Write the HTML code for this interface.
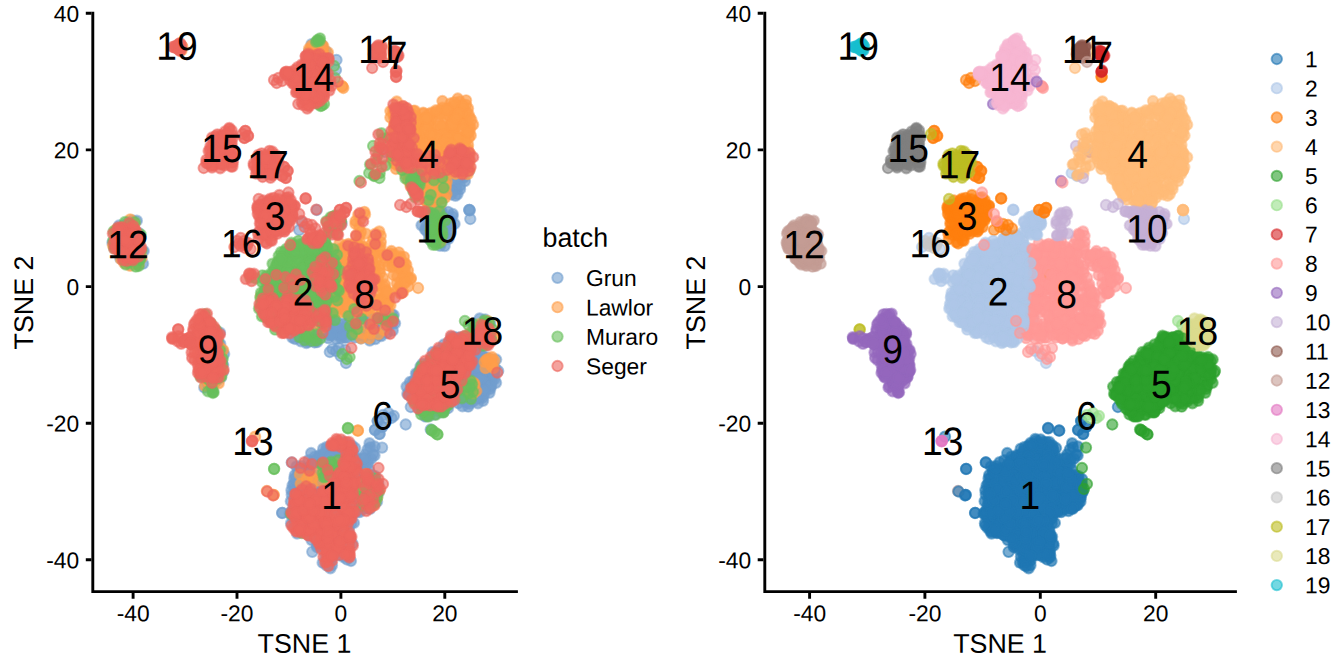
<!DOCTYPE html><html><head><meta charset="utf-8"><title>TSNE</title><style>
html,body{margin:0;padding:0;background:#fff}svg{display:block;font-family:"Liberation Sans",sans-serif}.t{font-size:22.8px}.a{font-size:26.8px}.g{font-size:22.8px}.n{font-size:39.6px;font-kerning:none}circle{fill-opacity:.6;stroke-opacity:.6;stroke-width:1.9}.f circle{fill-opacity:.74;stroke-opacity:.5}
</style></head><body>
<svg width="1344" height="672" viewBox="0 0 1344 672">
<rect width="1344" height="672" fill="#fff"/>
<g fill="#ED665D" stroke="#ED665D"><circle r="5.2" cx="178.1" cy="329.5"/><circle r="5.2" cx="178.3" cy="329.3"/></g><g fill="#729ECE" stroke="#729ECE" class="f"><circle r="5.2" cx="315.2" cy="46.5"/><circle r="5.2" cx="322.7" cy="50.5"/><circle r="5.2" cx="319.2" cy="42"/><circle r="5.2" cx="308.9" cy="51.3"/><circle r="5.2" cx="322" cy="44.8"/><circle r="5.2" cx="316.8" cy="51.1"/><circle r="5.2" cx="316.1" cy="45.1"/><circle r="5.2" cx="311.3" cy="50"/><circle r="5.2" cx="326.1" cy="51.3"/><circle r="5.2" cx="323.8" cy="52.3"/><circle r="5.2" cx="316.5" cy="50.2"/><circle r="5.2" cx="311.5" cy="44.2"/></g><g fill="#729ECE" stroke="#729ECE"><circle r="5.2" cx="336.5" cy="60"/><circle r="5.2" cx="336" cy="70"/></g><g fill="#729ECE" stroke="#729ECE" class="f"><circle r="5.2" cx="455.8" cy="186.5"/><circle r="5.2" cx="458.8" cy="170.6"/><circle r="5.2" cx="451.6" cy="194.5"/><circle r="5.2" cx="445.8" cy="182.1"/><circle r="5.2" cx="465" cy="181.1"/><circle r="5.2" cx="450.1" cy="176"/><circle r="5.2" cx="457.6" cy="194.1"/><circle r="5.2" cx="464" cy="177.5"/><circle r="5.2" cx="453.9" cy="184.5"/><circle r="5.2" cx="460.5" cy="178.5"/><circle r="5.2" cx="452.3" cy="190"/><circle r="5.2" cx="451.6" cy="191.6"/><circle r="5.2" cx="456.6" cy="189.2"/><circle r="5.2" cx="458.7" cy="174.4"/><circle r="5.2" cx="460.1" cy="189.2"/><circle r="5.2" cx="460.1" cy="185.6"/><circle r="5.2" cx="451.5" cy="191.5"/><circle r="5.2" cx="455.5" cy="195.8"/><circle r="5.2" cx="469.1" cy="170.9"/><circle r="5.2" cx="453.6" cy="173.7"/><circle r="5.2" cx="456.4" cy="178.9"/><circle r="5.2" cx="458.8" cy="173.1"/></g><g fill="#729ECE" stroke="#729ECE"><circle r="5.2" cx="385.2" cy="152"/><circle r="5.2" cx="469.4" cy="210"/><circle r="5.2" cx="469.7" cy="210.3"/><circle r="5.2" cx="469.2" cy="209.8"/><circle r="5.2" cx="470.3" cy="219"/></g><g fill="#729ECE" stroke="#729ECE" class="f"><circle r="5.2" cx="438.3" cy="237.7"/><circle r="5.2" cx="439.6" cy="214.8"/><circle r="5.2" cx="438.2" cy="229"/><circle r="5.2" cx="448.6" cy="230.1"/><circle r="5.2" cx="431.8" cy="233.5"/><circle r="5.2" cx="452.6" cy="216.6"/><circle r="5.2" cx="429" cy="238.6"/><circle r="5.2" cx="426.3" cy="225.9"/><circle r="5.2" cx="424.1" cy="215"/><circle r="5.2" cx="444.7" cy="246.1"/><circle r="5.2" cx="435.1" cy="234.4"/><circle r="5.2" cx="445.6" cy="219.6"/><circle r="5.2" cx="428.9" cy="227.3"/><circle r="5.2" cx="441.5" cy="237"/><circle r="5.2" cx="425.6" cy="211.2"/><circle r="5.2" cx="435.2" cy="230.2"/><circle r="5.2" cx="446.3" cy="237.3"/><circle r="5.2" cx="425" cy="229.5"/><circle r="5.2" cx="434.8" cy="217.3"/><circle r="5.2" cx="428.2" cy="213.7"/><circle r="5.2" cx="440.1" cy="245.9"/><circle r="5.2" cx="441.1" cy="215.4"/><circle r="5.2" cx="431.9" cy="241.3"/><circle r="5.2" cx="450.5" cy="220.5"/><circle r="5.2" cx="450.6" cy="233"/><circle r="5.2" cx="447.1" cy="226.6"/><circle r="5.2" cx="442" cy="211.6"/><circle r="5.2" cx="448.1" cy="211.8"/><circle r="5.2" cx="434.9" cy="209.9"/><circle r="5.2" cx="428.9" cy="234.1"/><circle r="5.2" cx="432.9" cy="221.3"/><circle r="5.2" cx="441" cy="229.6"/><circle r="5.2" cx="441.2" cy="225.9"/><circle r="5.2" cx="450.3" cy="222.3"/><circle r="5.2" cx="442.9" cy="235.2"/><circle r="5.2" cx="433.4" cy="235.2"/><circle r="5.2" cx="454.6" cy="223.9"/><circle r="5.2" cx="441.3" cy="242.7"/><circle r="5.2" cx="421.5" cy="225.3"/><circle r="5.2" cx="437.3" cy="219.4"/><circle r="5.2" cx="432.8" cy="215.1"/><circle r="5.2" cx="440.9" cy="211.5"/><circle r="5.2" cx="433.3" cy="241.3"/><circle r="5.2" cx="444.7" cy="231.7"/><circle r="5.2" cx="442.4" cy="218.1"/><circle r="5.2" cx="452.8" cy="214"/><circle r="5.2" cx="448.5" cy="239"/><circle r="5.2" cx="427.8" cy="218.1"/><circle r="5.2" cx="429.9" cy="226.1"/><circle r="5.2" cx="426.6" cy="231.1"/><circle r="5.2" cx="445.8" cy="220"/><circle r="5.2" cx="438.4" cy="241.1"/></g><g fill="#729ECE" stroke="#729ECE"><circle r="5.2" cx="301.9" cy="222"/><circle r="5.2" cx="299.2" cy="230"/></g><g fill="#729ECE" stroke="#729ECE" class="f"><circle r="5.2" cx="126.1" cy="258"/><circle r="5.2" cx="124.8" cy="230.8"/><circle r="5.2" cx="125.8" cy="247.2"/><circle r="5.2" cx="139.2" cy="249.3"/><circle r="5.2" cx="135.5" cy="259.1"/><circle r="5.2" cx="138.7" cy="233"/><circle r="5.2" cx="138.9" cy="257.5"/><circle r="5.2" cx="132.5" cy="220.5"/><circle r="5.2" cx="135.4" cy="248.1"/><circle r="5.2" cx="132.7" cy="237.3"/><circle r="5.2" cx="118" cy="236.3"/><circle r="5.2" cx="116.4" cy="242.5"/><circle r="5.2" cx="131.2" cy="229.6"/><circle r="5.2" cx="119.5" cy="252.1"/><circle r="5.2" cx="119" cy="225.5"/><circle r="5.2" cx="139.1" cy="244"/><circle r="5.2" cx="134.3" cy="253.2"/><circle r="5.2" cx="120.3" cy="258.3"/><circle r="5.2" cx="127.3" cy="251.1"/><circle r="5.2" cx="132" cy="251.9"/><circle r="5.2" cx="136.9" cy="220.7"/><circle r="5.2" cx="120.9" cy="243.2"/><circle r="5.2" cx="125.8" cy="224"/><circle r="5.2" cx="129.5" cy="264.4"/><circle r="5.2" cx="120.7" cy="231.5"/><circle r="5.2" cx="143.8" cy="251"/><circle r="5.2" cx="129.6" cy="234.9"/><circle r="5.2" cx="135.6" cy="262.7"/><circle r="5.2" cx="118.7" cy="248"/><circle r="5.2" cx="129.4" cy="235.7"/><circle r="5.2" cx="115.3" cy="246.6"/><circle r="5.2" cx="112.4" cy="242.7"/><circle r="5.2" cx="129.7" cy="221.6"/><circle r="5.2" cx="133.7" cy="248.1"/><circle r="5.2" cx="143.1" cy="263.7"/><circle r="5.2" cx="134.6" cy="261.9"/><circle r="5.2" cx="123.4" cy="255.1"/><circle r="5.2" cx="125.1" cy="239.8"/><circle r="5.2" cx="128.1" cy="234.4"/><circle r="5.2" cx="123.9" cy="250.6"/><circle r="5.2" cx="122.9" cy="237.7"/><circle r="5.2" cx="127.3" cy="243.6"/><circle r="5.2" cx="314.6" cy="342.5"/><circle r="5.2" cx="299.7" cy="322.1"/><circle r="5.2" cx="316.8" cy="315.2"/><circle r="5.2" cx="292.3" cy="337.6"/><circle r="5.2" cx="319.3" cy="327.3"/><circle r="5.2" cx="303.6" cy="337.5"/><circle r="5.2" cx="325" cy="313.1"/><circle r="5.2" cx="307.8" cy="330.2"/><circle r="5.2" cx="314.4" cy="334.6"/><circle r="5.2" cx="308.5" cy="323.7"/><circle r="5.2" cx="301.3" cy="320.7"/><circle r="5.2" cx="292.5" cy="319.9"/><circle r="5.2" cx="305.4" cy="335.5"/><circle r="5.2" cx="295.9" cy="317.2"/><circle r="5.2" cx="320.1" cy="320.4"/><circle r="5.2" cx="295.7" cy="330.6"/><circle r="5.2" cx="316.9" cy="340.3"/><circle r="5.2" cx="300.9" cy="341.4"/><circle r="5.2" cx="313.3" cy="325.3"/><circle r="5.2" cx="296.4" cy="323.4"/><circle r="5.2" cx="300.2" cy="326.7"/><circle r="5.2" cx="305.9" cy="324.6"/><circle r="5.2" cx="308.1" cy="341.9"/><circle r="5.2" cx="321.8" cy="311.8"/><circle r="5.2" cx="292.9" cy="329.6"/><circle r="5.2" cx="324" cy="333.1"/><circle r="5.2" cx="321.3" cy="322.3"/><circle r="5.2" cx="304.3" cy="317.8"/><circle r="5.2" cx="299.7" cy="336.9"/><circle r="5.2" cx="308.9" cy="318.4"/><circle r="5.2" cx="291.4" cy="328.6"/><circle r="5.2" cx="304.2" cy="322.7"/><circle r="5.2" cx="316.6" cy="319.7"/><circle r="5.2" cx="300.1" cy="318.6"/><circle r="5.2" cx="310.4" cy="315.2"/><circle r="5.2" cx="306.3" cy="343.1"/><circle r="5.2" cx="311.6" cy="321.1"/><circle r="5.2" cx="317" cy="331.1"/><circle r="5.2" cx="321.1" cy="318.2"/><circle r="5.2" cx="313.3" cy="333.3"/><circle r="5.2" cx="301.8" cy="331"/><circle r="5.2" cx="314.3" cy="337.7"/><circle r="5.2" cx="321.2" cy="328.3"/><circle r="5.2" cx="321.7" cy="329.7"/><circle r="5.2" cx="295" cy="339"/><circle r="5.2" cx="304.3" cy="339.3"/><circle r="5.2" cx="303.6" cy="323.6"/><circle r="5.2" cx="305.9" cy="332"/><circle r="5.2" cx="297.3" cy="328"/><circle r="5.2" cx="308.1" cy="340.7"/><circle r="5.2" cx="313.2" cy="317.9"/><circle r="5.2" cx="318.9" cy="326.8"/><circle r="5.2" cx="317.9" cy="322.5"/><circle r="5.2" cx="317.1" cy="342.2"/><circle r="5.2" cx="316" cy="329.6"/><circle r="5.2" cx="341.7" cy="223.3"/><circle r="5.2" cx="335" cy="228.3"/></g><g fill="#729ECE" stroke="#729ECE"><circle r="5.2" cx="316.8" cy="210"/></g><g fill="#729ECE" stroke="#729ECE" class="f"><circle r="5.2" cx="355.9" cy="334.8"/><circle r="5.2" cx="382.4" cy="314"/><circle r="5.2" cx="373.8" cy="331"/><circle r="5.2" cx="329.2" cy="335.2"/><circle r="5.2" cx="331.1" cy="324.1"/><circle r="5.2" cx="348.5" cy="322.6"/><circle r="5.2" cx="395.1" cy="323.3"/><circle r="5.2" cx="365.8" cy="328.2"/><circle r="5.2" cx="367.8" cy="323.6"/><circle r="5.2" cx="376.2" cy="318.7"/><circle r="5.2" cx="357.6" cy="318.9"/><circle r="5.2" cx="375.4" cy="339.1"/><circle r="5.2" cx="383.5" cy="323.7"/><circle r="5.2" cx="367.9" cy="315.1"/><circle r="5.2" cx="338.2" cy="322.7"/><circle r="5.2" cx="379.3" cy="320.7"/><circle r="5.2" cx="344.6" cy="337.6"/><circle r="5.2" cx="392" cy="314.4"/><circle r="5.2" cx="360.9" cy="319.1"/><circle r="5.2" cx="329.7" cy="328.1"/><circle r="5.2" cx="364" cy="336.6"/><circle r="5.2" cx="325.7" cy="323.1"/><circle r="5.2" cx="356" cy="327.1"/><circle r="5.2" cx="387.3" cy="326.1"/><circle r="5.2" cx="337.4" cy="335.1"/><circle r="5.2" cx="346.1" cy="331.9"/><circle r="5.2" cx="359.4" cy="325.1"/><circle r="5.2" cx="337.7" cy="331.3"/><circle r="5.2" cx="371.3" cy="328.6"/><circle r="5.2" cx="377.3" cy="326.8"/><circle r="5.2" cx="378.6" cy="334.7"/><circle r="5.2" cx="335.7" cy="328.5"/><circle r="5.2" cx="387.6" cy="315.3"/><circle r="5.2" cx="369.8" cy="340.6"/><circle r="5.2" cx="375.5" cy="325.4"/><circle r="5.2" cx="343.8" cy="323.8"/><circle r="5.2" cx="341.2" cy="338.2"/><circle r="5.2" cx="327.8" cy="333.1"/><circle r="5.2" cx="364.1" cy="333.2"/><circle r="5.2" cx="387.1" cy="333.1"/><circle r="5.2" cx="352.2" cy="317.6"/><circle r="5.2" cx="368.3" cy="318"/><circle r="5.2" cx="349.9" cy="327.1"/><circle r="5.2" cx="342.1" cy="330.7"/><circle r="5.2" cx="346.9" cy="337.7"/><circle r="5.2" cx="391.2" cy="319.8"/><circle r="5.2" cx="367" cy="333.5"/><circle r="5.2" cx="360.9" cy="338.5"/><circle r="5.2" cx="360" cy="328"/><circle r="5.2" cx="331.7" cy="333.8"/><circle r="5.2" cx="358.7" cy="325.6"/><circle r="5.2" cx="381.9" cy="329.1"/><circle r="5.2" cx="343.9" cy="330.5"/><circle r="5.2" cx="354.7" cy="337.5"/><circle r="5.2" cx="381.4" cy="336.1"/><circle r="5.2" cx="332.1" cy="317.5"/><circle r="5.2" cx="379.5" cy="334.9"/><circle r="5.2" cx="351" cy="328.7"/><circle r="5.2" cx="329.3" cy="327.5"/><circle r="5.2" cx="368.4" cy="334.4"/><circle r="5.2" cx="364.3" cy="319"/><circle r="5.2" cx="365.9" cy="326"/><circle r="5.2" cx="392.5" cy="321.9"/><circle r="5.2" cx="373.3" cy="320.9"/><circle r="5.2" cx="343.7" cy="327.4"/><circle r="5.2" cx="336.2" cy="338.9"/><circle r="5.2" cx="391.8" cy="323.9"/><circle r="5.2" cx="360.9" cy="334.8"/><circle r="5.2" cx="341.5" cy="335.1"/><circle r="5.2" cx="328.2" cy="338.2"/><circle r="5.2" cx="349.8" cy="319.1"/><circle r="5.2" cx="392.8" cy="330.6"/><circle r="5.2" cx="393.8" cy="315.1"/><circle r="5.2" cx="379.4" cy="320"/><circle r="5.2" cx="329.4" cy="319.5"/><circle r="5.2" cx="337" cy="327.9"/><circle r="5.2" cx="387.5" cy="325.8"/><circle r="5.2" cx="381.3" cy="327.3"/><circle r="5.2" cx="357.7" cy="334.7"/></g><g fill="#729ECE" stroke="#729ECE"><circle r="5.2" cx="329.8" cy="352"/><circle r="5.2" cx="345.1" cy="350"/><circle r="5.2" cx="338.8" cy="348"/><circle r="5.2" cx="340.6" cy="356"/><circle r="5.2" cx="346" cy="363"/><circle r="5.2" cx="336.1" cy="351"/><circle r="5.2" cx="331.6" cy="335"/><circle r="5.2" cx="334.3" cy="318"/><circle r="5.2" cx="332.5" cy="349"/></g><g fill="#729ECE" stroke="#729ECE" class="f"><circle r="5.2" cx="215.8" cy="377.6"/><circle r="5.2" cx="199.3" cy="340.5"/><circle r="5.2" cx="200.8" cy="360.3"/><circle r="5.2" cx="215.5" cy="345"/><circle r="5.2" cx="212.4" cy="389.8"/><circle r="5.2" cx="204.3" cy="325.1"/><circle r="5.2" cx="222.2" cy="364.3"/><circle r="5.2" cx="205.5" cy="376.2"/><circle r="5.2" cx="220" cy="332.7"/><circle r="5.2" cx="215.7" cy="356"/><circle r="5.2" cx="224.2" cy="354"/><circle r="5.2" cx="215" cy="367.5"/><circle r="5.2" cx="210.2" cy="361.5"/><circle r="5.2" cx="211.8" cy="327.7"/><circle r="5.2" cx="210.2" cy="372.8"/><circle r="5.2" cx="222.3" cy="372.2"/><circle r="5.2" cx="203.5" cy="335.9"/><circle r="5.2" cx="218.4" cy="341.9"/><circle r="5.2" cx="200.8" cy="349.9"/><circle r="5.2" cx="204.2" cy="387.5"/><circle r="5.2" cx="221" cy="377.6"/><circle r="5.2" cx="220.3" cy="343.9"/><circle r="5.2" cx="205.1" cy="352.6"/><circle r="5.2" cx="208.6" cy="333.5"/><circle r="5.2" cx="216.5" cy="348.2"/><circle r="5.2" cx="208.3" cy="375.7"/><circle r="5.2" cx="210.2" cy="379.2"/><circle r="5.2" cx="206.8" cy="361.3"/><circle r="5.2" cx="214.5" cy="358.2"/><circle r="5.2" cx="213.7" cy="384.2"/><circle r="5.2" cx="201" cy="363.5"/><circle r="5.2" cx="207.7" cy="350"/><circle r="5.2" cx="214.7" cy="338.5"/><circle r="5.2" cx="208.3" cy="325.4"/><circle r="5.2" cx="223.1" cy="371.3"/><circle r="5.2" cx="202.1" cy="369.5"/><circle r="5.2" cx="201.6" cy="337.9"/><circle r="5.2" cx="207.9" cy="364.3"/><circle r="5.2" cx="206.4" cy="341.3"/><circle r="5.2" cx="204" cy="334.9"/><circle r="5.2" cx="215.6" cy="345.2"/><circle r="5.2" cx="201.1" cy="375.6"/><circle r="5.2" cx="207.5" cy="383.9"/><circle r="5.2" cx="212.3" cy="385.7"/><circle r="5.2" cx="210.6" cy="333.8"/><circle r="5.2" cx="206.4" cy="337.5"/><circle r="5.2" cx="220.3" cy="374.1"/><circle r="5.2" cx="219.2" cy="347.3"/><circle r="5.2" cx="223.2" cy="365"/><circle r="5.2" cx="211.9" cy="350.1"/><circle r="5.2" cx="222.4" cy="350.5"/><circle r="5.2" cx="215.1" cy="332.4"/><circle r="5.2" cx="210.6" cy="340.1"/><circle r="5.2" cx="217.2" cy="380.7"/><circle r="5.2" cx="221.9" cy="361.1"/><circle r="5.2" cx="203" cy="344.7"/><circle r="5.2" cx="217.1" cy="363"/><circle r="5.2" cx="210.3" cy="371"/><circle r="5.2" cx="440.5" cy="412.3"/><circle r="5.2" cx="469.3" cy="342.8"/><circle r="5.2" cx="420.6" cy="369.4"/><circle r="5.2" cx="454.2" cy="389.6"/><circle r="5.2" cx="425.8" cy="389.8"/><circle r="5.2" cx="453.1" cy="360.3"/><circle r="5.2" cx="485.4" cy="387.8"/><circle r="5.2" cx="477.9" cy="403.4"/><circle r="5.2" cx="409.2" cy="395.2"/><circle r="5.2" cx="481.3" cy="364.1"/><circle r="5.2" cx="414.1" cy="380.5"/><circle r="5.2" cx="454.3" cy="378.4"/><circle r="5.2" cx="458.3" cy="403.2"/><circle r="5.2" cx="454.3" cy="336.9"/><circle r="5.2" cx="440.7" cy="383.1"/><circle r="5.2" cx="460.7" cy="388.5"/><circle r="5.2" cx="435.3" cy="397.2"/><circle r="5.2" cx="426.1" cy="411.5"/><circle r="5.2" cx="428.7" cy="405.9"/><circle r="5.2" cx="469.6" cy="403.9"/><circle r="5.2" cx="462.3" cy="363"/><circle r="5.2" cx="472.8" cy="392.3"/><circle r="5.2" cx="439.4" cy="358.7"/><circle r="5.2" cx="456.8" cy="351.5"/><circle r="5.2" cx="443.2" cy="351.6"/><circle r="5.2" cx="452.2" cy="372"/><circle r="5.2" cx="478.1" cy="351.8"/><circle r="5.2" cx="490.8" cy="359.4"/><circle r="5.2" cx="473.5" cy="359.1"/><circle r="5.2" cx="473.5" cy="384.1"/><circle r="5.2" cx="494.4" cy="372.4"/><circle r="5.2" cx="459.9" cy="371.8"/><circle r="5.2" cx="452.2" cy="342.7"/><circle r="5.2" cx="418.2" cy="374.7"/><circle r="5.2" cx="420.9" cy="376.3"/><circle r="5.2" cx="478.3" cy="378.5"/><circle r="5.2" cx="419.3" cy="405.4"/><circle r="5.2" cx="448.3" cy="374.2"/><circle r="5.2" cx="446.4" cy="389.1"/><circle r="5.2" cx="489" cy="376.4"/><circle r="5.2" cx="438.1" cy="371.7"/><circle r="5.2" cx="460.8" cy="337.3"/><circle r="5.2" cx="429.3" cy="361.3"/><circle r="5.2" cx="448.1" cy="408.2"/><circle r="5.2" cx="433.9" cy="383.9"/><circle r="5.2" cx="467.2" cy="373.3"/><circle r="5.2" cx="426.3" cy="396.1"/><circle r="5.2" cx="437.6" cy="388.9"/><circle r="5.2" cx="418.8" cy="398.7"/><circle r="5.2" cx="462" cy="375.6"/><circle r="5.2" cx="424.6" cy="376.4"/><circle r="5.2" cx="434.5" cy="394.8"/><circle r="5.2" cx="429.8" cy="371.4"/><circle r="5.2" cx="490.1" cy="365.9"/><circle r="5.2" cx="470.9" cy="363.5"/><circle r="5.2" cx="467.5" cy="379.8"/><circle r="5.2" cx="465.6" cy="354.6"/><circle r="5.2" cx="447.7" cy="355.9"/><circle r="5.2" cx="484.4" cy="361.2"/><circle r="5.2" cx="484.9" cy="372.9"/><circle r="5.2" cx="481.9" cy="391.9"/><circle r="5.2" cx="450.7" cy="354.3"/><circle r="5.2" cx="447" cy="385"/><circle r="5.2" cx="489.5" cy="392.8"/><circle r="5.2" cx="483.1" cy="400.8"/><circle r="5.2" cx="436.2" cy="378.1"/><circle r="5.2" cx="437.6" cy="408.1"/><circle r="5.2" cx="413.3" cy="397.1"/><circle r="5.2" cx="457.7" cy="363.5"/><circle r="5.2" cx="431.4" cy="358.2"/><circle r="5.2" cx="432.9" cy="351.9"/><circle r="5.2" cx="432.4" cy="410.1"/><circle r="5.2" cx="464.7" cy="395.6"/><circle r="5.2" cx="441.6" cy="397.7"/><circle r="5.2" cx="455" cy="348.3"/><circle r="5.2" cx="464.3" cy="349.3"/><circle r="5.2" cx="426" cy="384.2"/><circle r="5.2" cx="431.7" cy="401.1"/><circle r="5.2" cx="464.2" cy="367.8"/><circle r="5.2" cx="492" cy="380.8"/><circle r="5.2" cx="483.7" cy="380.5"/><circle r="5.2" cx="411.6" cy="386.9"/><circle r="5.2" cx="421.6" cy="395"/><circle r="5.2" cx="435.8" cy="385.5"/><circle r="5.2" cx="446.4" cy="393.8"/><circle r="5.2" cx="460.7" cy="391.9"/><circle r="5.2" cx="425.4" cy="400.5"/><circle r="5.2" cx="458.7" cy="387.7"/><circle r="5.2" cx="477.2" cy="371.1"/><circle r="5.2" cx="446.4" cy="370.9"/><circle r="5.2" cx="450.2" cy="349.5"/><circle r="5.2" cx="472.5" cy="373.7"/><circle r="5.2" cx="418.3" cy="392.3"/><circle r="5.2" cx="494.5" cy="379.2"/><circle r="5.2" cx="487.3" cy="366.1"/><circle r="5.2" cx="466.5" cy="363.5"/><circle r="5.2" cx="470.1" cy="342"/><circle r="5.2" cx="452.4" cy="399.7"/><circle r="5.2" cx="419.8" cy="410.1"/><circle r="5.2" cx="452.3" cy="356.3"/><circle r="5.2" cx="445" cy="363.7"/><circle r="5.2" cx="469.8" cy="387.4"/><circle r="5.2" cx="451" cy="381.7"/><circle r="5.2" cx="451" cy="377"/><circle r="5.2" cx="488.4" cy="380.4"/><circle r="5.2" cx="428.9" cy="409.2"/><circle r="5.2" cx="443.8" cy="344.5"/><circle r="5.2" cx="471" cy="379.7"/><circle r="5.2" cx="479.1" cy="397.6"/><circle r="5.2" cx="439.2" cy="397.3"/><circle r="5.2" cx="465.2" cy="401.9"/><circle r="5.2" cx="438.9" cy="349.9"/><circle r="5.2" cx="425.4" cy="416.7"/><circle r="5.2" cx="441.1" cy="375.6"/><circle r="5.2" cx="462.3" cy="365.2"/><circle r="5.2" cx="445" cy="366.5"/><circle r="5.2" cx="467.2" cy="400.7"/><circle r="5.2" cx="437.2" cy="355.8"/><circle r="5.2" cx="459.7" cy="380.9"/><circle r="5.2" cx="477.8" cy="374.6"/><circle r="5.2" cx="489.2" cy="372.2"/><circle r="5.2" cx="490.4" cy="388.8"/><circle r="5.2" cx="443.7" cy="411.6"/><circle r="5.2" cx="478.3" cy="376.7"/><circle r="5.2" cx="443.9" cy="402.5"/><circle r="5.2" cx="434.3" cy="368.3"/><circle r="5.2" cx="451.5" cy="336.8"/><circle r="5.2" cx="406.5" cy="386.6"/><circle r="5.2" cx="456" cy="393.9"/><circle r="5.2" cx="455" cy="363.9"/><circle r="5.2" cx="419.4" cy="371.6"/><circle r="5.2" cx="429" cy="385.5"/><circle r="5.2" cx="457.4" cy="340.9"/><circle r="5.2" cx="432.9" cy="374.3"/><circle r="5.2" cx="476.9" cy="390"/><circle r="5.2" cx="473.8" cy="366.4"/><circle r="5.2" cx="460.6" cy="344"/><circle r="5.2" cx="423.5" cy="405.6"/><circle r="5.2" cx="468.4" cy="366.7"/><circle r="5.2" cx="451.1" cy="401.3"/><circle r="5.2" cx="495.2" cy="368.1"/><circle r="5.2" cx="425.7" cy="366.4"/><circle r="5.2" cx="473.2" cy="369.7"/><circle r="5.2" cx="438.7" cy="364.6"/><circle r="5.2" cx="481.9" cy="363.3"/><circle r="5.2" cx="424.2" cy="404.6"/><circle r="5.2" cx="445.3" cy="358.5"/><circle r="5.2" cx="472.7" cy="347.9"/><circle r="5.2" cx="484" cy="384.9"/><circle r="5.2" cx="447.3" cy="400.1"/><circle r="5.2" cx="431.2" cy="378.8"/><circle r="5.2" cx="462.5" cy="406.4"/><circle r="5.2" cx="430.8" cy="390.8"/><circle r="5.2" cx="479.3" cy="387.1"/><circle r="5.2" cx="459" cy="356.6"/><circle r="5.2" cx="427.4" cy="406.3"/><circle r="5.2" cx="464.7" cy="358"/><circle r="5.2" cx="449.6" cy="364.7"/><circle r="5.2" cx="461.7" cy="397.6"/><circle r="5.2" cx="409.4" cy="391.9"/><circle r="5.2" cx="482.7" cy="397.8"/><circle r="5.2" cx="473.5" cy="401.2"/><circle r="5.2" cx="426" cy="368.4"/><circle r="5.2" cx="459.6" cy="398"/><circle r="5.2" cx="474.9" cy="398.7"/><circle r="5.2" cx="468.2" cy="406.7"/><circle r="5.2" cx="490.6" cy="386.4"/><circle r="5.2" cx="426.9" cy="396.6"/><circle r="5.2" cx="491.2" cy="385.4"/><circle r="5.2" cx="440.5" cy="358"/><circle r="5.2" cx="468.4" cy="394.4"/><circle r="5.2" cx="464.5" cy="348.8"/><circle r="5.2" cx="482.2" cy="367.8"/><circle r="5.2" cx="439.9" cy="401.7"/><circle r="5.2" cx="467.7" cy="402.4"/><circle r="5.2" cx="434.8" cy="390.6"/><circle r="5.2" cx="454.7" cy="375.6"/><circle r="5.2" cx="456.1" cy="371.8"/><circle r="5.2" cx="422.4" cy="363.8"/><circle r="5.2" cx="455.8" cy="366.3"/><circle r="5.2" cx="464.4" cy="345.7"/><circle r="5.2" cx="475.8" cy="347.5"/><circle r="5.2" cx="451.6" cy="393.3"/><circle r="5.2" cx="489.9" cy="359.5"/><circle r="5.2" cx="477.5" cy="394.7"/><circle r="5.2" cx="461.2" cy="369.1"/><circle r="5.2" cx="477.7" cy="357.3"/><circle r="5.2" cx="493.9" cy="373"/><circle r="5.2" cx="433.3" cy="365.5"/><circle r="5.2" cx="458.7" cy="337.6"/><circle r="5.2" cx="459.7" cy="355.9"/><circle r="5.2" cx="461.6" cy="386"/><circle r="5.2" cx="456" cy="363.3"/><circle r="5.2" cx="476" cy="358.6"/><circle r="5.2" cx="435.1" cy="414.5"/><circle r="5.2" cx="474.2" cy="379.7"/><circle r="5.2" cx="467.3" cy="352.3"/><circle r="5.2" cx="472.3" cy="397.1"/><circle r="5.2" cx="453.8" cy="367.6"/><circle r="5.2" cx="446.5" cy="396.9"/><circle r="5.2" cx="469" cy="381.3"/><circle r="5.2" cx="417.2" cy="373.8"/><circle r="5.2" cx="479.7" cy="386.1"/><circle r="5.2" cx="437.1" cy="410.4"/><circle r="5.2" cx="453.4" cy="386.7"/><circle r="5.2" cx="479.8" cy="353.2"/><circle r="5.2" cx="409.9" cy="382"/><circle r="5.2" cx="471.5" cy="392.2"/><circle r="5.2" cx="441.3" cy="402.6"/><circle r="5.2" cx="423.6" cy="385.1"/><circle r="5.2" cx="462.3" cy="396.5"/><circle r="5.2" cx="456" cy="350.2"/><circle r="5.2" cx="440.1" cy="385.6"/><circle r="5.2" cx="421.9" cy="396.7"/><circle r="5.2" cx="455.4" cy="361.8"/><circle r="5.2" cx="427.1" cy="380.5"/><circle r="5.2" cx="432" cy="406.4"/><circle r="5.2" cx="486.5" cy="370.4"/><circle r="5.2" cx="486.3" cy="357.1"/><circle r="5.2" cx="451.3" cy="383.8"/><circle r="5.2" cx="407.3" cy="393.9"/><circle r="5.2" cx="453.2" cy="344.2"/><circle r="5.2" cx="445.6" cy="391.1"/><circle r="5.2" cx="422.3" cy="380"/><circle r="5.2" cx="442.2" cy="379.7"/><circle r="5.2" cx="438.2" cy="372.8"/><circle r="5.2" cx="452.4" cy="391.7"/><circle r="5.2" cx="419.7" cy="403.4"/><circle r="5.2" cx="412.6" cy="381.6"/><circle r="5.2" cx="420.4" cy="366.7"/><circle r="5.2" cx="465.7" cy="341.3"/><circle r="5.2" cx="478.7" cy="367.9"/><circle r="5.2" cx="444.9" cy="379.4"/><circle r="5.2" cx="489.6" cy="365.9"/><circle r="5.2" cx="493.6" cy="376"/><circle r="5.2" cx="434.5" cy="406.6"/><circle r="5.2" cx="496.2" cy="359.5"/><circle r="5.2" cx="478.8" cy="383.6"/><circle r="5.2" cx="480.3" cy="397"/><circle r="5.2" cx="426.9" cy="379.6"/><circle r="5.2" cx="445.6" cy="354.3"/><circle r="5.2" cx="484.3" cy="394"/><circle r="5.2" cx="448" cy="401.4"/><circle r="5.2" cx="446.2" cy="376.5"/><circle r="5.2" cx="422.5" cy="394.6"/><circle r="5.2" cx="466.1" cy="368.6"/><circle r="5.2" cx="429.7" cy="415.8"/><circle r="5.2" cx="466.7" cy="391.1"/><circle r="5.2" cx="415.9" cy="373.4"/><circle r="5.2" cx="431.7" cy="410.6"/><circle r="5.2" cx="448.6" cy="403.7"/><circle r="5.2" cx="496.1" cy="382.8"/><circle r="5.2" cx="439.5" cy="373.5"/><circle r="5.2" cx="441.3" cy="394.8"/><circle r="5.2" cx="417.2" cy="395.6"/><circle r="5.2" cx="420.2" cy="400.6"/><circle r="5.2" cx="450" cy="394.8"/><circle r="5.2" cx="444.1" cy="352"/><circle r="5.2" cx="478.1" cy="387.8"/><circle r="5.2" cx="427.2" cy="404.8"/><circle r="5.2" cx="470.7" cy="350.6"/><circle r="5.2" cx="470.4" cy="360.6"/><circle r="5.2" cx="476.2" cy="397.7"/><circle r="5.2" cx="476.1" cy="348.6"/><circle r="5.2" cx="445.3" cy="383.7"/><circle r="5.2" cx="450" cy="340.3"/><circle r="5.2" cx="482.4" cy="355.8"/><circle r="5.2" cx="455.1" cy="389.9"/><circle r="5.2" cx="437.3" cy="368.3"/><circle r="5.2" cx="484.9" cy="390.1"/><circle r="5.2" cx="454.1" cy="343.4"/><circle r="5.2" cx="441.9" cy="371.3"/><circle r="5.2" cx="438.8" cy="357.3"/><circle r="5.2" cx="448.8" cy="376.2"/><circle r="5.2" cx="431.4" cy="384.5"/><circle r="5.2" cx="442.4" cy="378.3"/><circle r="5.2" cx="493.5" cy="373.8"/><circle r="5.2" cx="424.9" cy="415.5"/><circle r="5.2" cx="430.3" cy="392.7"/><circle r="5.2" cx="480.1" cy="378.5"/><circle r="5.2" cx="456.5" cy="377.7"/><circle r="5.2" cx="457.8" cy="377.3"/><circle r="5.2" cx="459.4" cy="341.7"/><circle r="5.2" cx="467.4" cy="371.9"/><circle r="5.2" cx="430" cy="381.5"/><circle r="5.2" cx="428.3" cy="372"/></g><g fill="#729ECE" stroke="#729ECE"><circle r="5.2" cx="498.2" cy="371"/><circle r="5.2" cx="430.7" cy="429.5"/><circle r="5.2" cx="410.8" cy="407"/></g><g fill="#729ECE" stroke="#729ECE" class="f"><circle r="5.2" cx="474.5" cy="342.8"/><circle r="5.2" cx="479.7" cy="318.4"/><circle r="5.2" cx="490.8" cy="336.2"/><circle r="5.2" cx="480.7" cy="332.2"/><circle r="5.2" cx="486.7" cy="345"/><circle r="5.2" cx="485.2" cy="319.5"/><circle r="5.2" cx="487.7" cy="327.2"/><circle r="5.2" cx="483.4" cy="333.2"/><circle r="5.2" cx="483.4" cy="324.8"/><circle r="5.2" cx="480.4" cy="343.7"/><circle r="5.2" cx="489.2" cy="340.4"/><circle r="5.2" cx="490.2" cy="323.2"/><circle r="5.2" cx="473" cy="328.7"/><circle r="5.2" cx="476.3" cy="344.2"/><circle r="5.2" cx="474.8" cy="326.9"/><circle r="5.2" cx="470.9" cy="335.2"/><circle r="5.2" cx="484.9" cy="326.9"/><circle r="5.2" cx="490.6" cy="336"/><circle r="5.2" cx="481.4" cy="345.5"/></g><g fill="#729ECE" stroke="#729ECE"><circle r="5.2" cx="383" cy="415"/><circle r="5.2" cx="388.4" cy="413"/><circle r="5.2" cx="393.8" cy="416"/><circle r="5.2" cx="391.5" cy="418"/><circle r="5.2" cx="385.7" cy="418"/><circle r="5.2" cx="405.7" cy="424.5"/><circle r="5.2" cx="377.6" cy="421"/><circle r="5.2" cx="377.8" cy="420.8"/><circle r="5.2" cx="382.1" cy="427"/><circle r="5.2" cx="382.3" cy="426.8"/><circle r="5.2" cx="379.4" cy="434"/><circle r="5.2" cx="379.6" cy="433.8"/><circle r="5.2" cx="374.9" cy="430"/><circle r="5.2" cx="375.1" cy="429.8"/></g><g fill="#729ECE" stroke="#729ECE" class="f"><circle r="5.2" cx="298.1" cy="472.3"/><circle r="5.2" cx="338.9" cy="454.9"/><circle r="5.2" cx="330" cy="537.8"/><circle r="5.2" cx="364.9" cy="507.6"/><circle r="5.2" cx="338.3" cy="555.1"/><circle r="5.2" cx="297.1" cy="533.6"/><circle r="5.2" cx="326.4" cy="516.6"/><circle r="5.2" cx="351" cy="476.5"/><circle r="5.2" cx="349.5" cy="540.9"/><circle r="5.2" cx="312.4" cy="498.7"/><circle r="5.2" cx="329" cy="497.1"/><circle r="5.2" cx="356.1" cy="490.8"/><circle r="5.2" cx="365.1" cy="454.4"/><circle r="5.2" cx="294.7" cy="486.9"/><circle r="5.2" cx="316.6" cy="464.5"/><circle r="5.2" cx="338.7" cy="515"/><circle r="5.2" cx="314.6" cy="480.3"/><circle r="5.2" cx="297.7" cy="508"/><circle r="5.2" cx="317" cy="526.8"/><circle r="5.2" cx="330.4" cy="568.3"/><circle r="5.2" cx="317" cy="547.2"/><circle r="5.2" cx="334.3" cy="483.3"/><circle r="5.2" cx="373.9" cy="492.7"/><circle r="5.2" cx="350.4" cy="486"/><circle r="5.2" cx="344.5" cy="467.9"/><circle r="5.2" cx="349.9" cy="452.6"/><circle r="5.2" cx="351" cy="561"/><circle r="5.2" cx="312.7" cy="522.6"/><circle r="5.2" cx="303" cy="521.3"/><circle r="5.2" cx="365.6" cy="464.8"/><circle r="5.2" cx="337.7" cy="493.2"/><circle r="5.2" cx="365" cy="498.1"/><circle r="5.2" cx="331.8" cy="475"/><circle r="5.2" cx="326" cy="450.3"/><circle r="5.2" cx="305.2" cy="501.4"/><circle r="5.2" cx="339.6" cy="527.8"/><circle r="5.2" cx="354" cy="522.9"/><circle r="5.2" cx="377.1" cy="501.7"/><circle r="5.2" cx="306.6" cy="484.5"/><circle r="5.2" cx="332" cy="463.5"/><circle r="5.2" cx="346.9" cy="502.1"/><circle r="5.2" cx="329.2" cy="555.2"/><circle r="5.2" cx="314.8" cy="475.4"/><circle r="5.2" cx="320.2" cy="515.3"/><circle r="5.2" cx="301" cy="476.6"/><circle r="5.2" cx="355.5" cy="465.6"/><circle r="5.2" cx="374.8" cy="446.5"/><circle r="5.2" cx="336.6" cy="443.7"/><circle r="5.2" cx="328.4" cy="543.9"/><circle r="5.2" cx="354.3" cy="512.5"/><circle r="5.2" cx="378.7" cy="492.9"/><circle r="5.2" cx="321.9" cy="489.7"/><circle r="5.2" cx="332.7" cy="544.7"/><circle r="5.2" cx="359.6" cy="474.7"/><circle r="5.2" cx="311.3" cy="507.9"/><circle r="5.2" cx="348.6" cy="445.4"/><circle r="5.2" cx="330.6" cy="483.2"/><circle r="5.2" cx="295.4" cy="507.5"/><circle r="5.2" cx="330.2" cy="504.9"/><circle r="5.2" cx="359" cy="480.7"/><circle r="5.2" cx="315.5" cy="493"/><circle r="5.2" cx="294" cy="483.5"/><circle r="5.2" cx="336.7" cy="501"/><circle r="5.2" cx="346.1" cy="550.9"/><circle r="5.2" cx="289.7" cy="513.6"/><circle r="5.2" cx="332.3" cy="528.8"/><circle r="5.2" cx="308.4" cy="460.1"/><circle r="5.2" cx="363.5" cy="481.7"/><circle r="5.2" cx="325.8" cy="510"/><circle r="5.2" cx="349.9" cy="456.6"/><circle r="5.2" cx="305.5" cy="512.1"/><circle r="5.2" cx="348.9" cy="528.8"/><circle r="5.2" cx="308.6" cy="535.2"/><circle r="5.2" cx="333.7" cy="489.9"/><circle r="5.2" cx="331.8" cy="517.9"/><circle r="5.2" cx="367.4" cy="493.8"/><circle r="5.2" cx="336.7" cy="516.7"/><circle r="5.2" cx="326.7" cy="446.9"/><circle r="5.2" cx="315.2" cy="459.5"/><circle r="5.2" cx="359.7" cy="512.2"/><circle r="5.2" cx="371.3" cy="501.5"/><circle r="5.2" cx="324.2" cy="529.9"/><circle r="5.2" cx="322.6" cy="463.1"/><circle r="5.2" cx="345.1" cy="509.1"/><circle r="5.2" cx="291.6" cy="511"/><circle r="5.2" cx="312.7" cy="531.9"/><circle r="5.2" cx="323" cy="534"/><circle r="5.2" cx="290.8" cy="501.2"/><circle r="5.2" cx="325.4" cy="554.8"/><circle r="5.2" cx="327.4" cy="560.5"/><circle r="5.2" cx="309.7" cy="472.8"/><circle r="5.2" cx="300.5" cy="495.8"/><circle r="5.2" cx="291" cy="523.2"/><circle r="5.2" cx="305.3" cy="503.8"/><circle r="5.2" cx="332.2" cy="523.9"/><circle r="5.2" cx="353.1" cy="499"/><circle r="5.2" cx="329.1" cy="490.4"/><circle r="5.2" cx="300.6" cy="488.1"/><circle r="5.2" cx="320.1" cy="473.3"/><circle r="5.2" cx="323.2" cy="502.1"/><circle r="5.2" cx="342.1" cy="501.5"/><circle r="5.2" cx="375.4" cy="476.1"/><circle r="5.2" cx="339.7" cy="444.1"/><circle r="5.2" cx="330.2" cy="452.5"/><circle r="5.2" cx="332.8" cy="536"/><circle r="5.2" cx="342.1" cy="555.2"/><circle r="5.2" cx="312.5" cy="477"/><circle r="5.2" cx="360.4" cy="483"/><circle r="5.2" cx="358.2" cy="500.4"/><circle r="5.2" cx="372.5" cy="505.4"/><circle r="5.2" cx="353.6" cy="488.9"/><circle r="5.2" cx="349.7" cy="515.2"/><circle r="5.2" cx="368.4" cy="459.3"/><circle r="5.2" cx="306.2" cy="468.4"/><circle r="5.2" cx="323.4" cy="517.3"/><circle r="5.2" cx="318.5" cy="509"/><circle r="5.2" cx="366.4" cy="486.9"/><circle r="5.2" cx="324.7" cy="457.3"/><circle r="5.2" cx="345.1" cy="475.2"/><circle r="5.2" cx="310.8" cy="491.2"/><circle r="5.2" cx="350.2" cy="482.4"/><circle r="5.2" cx="326" cy="477"/><circle r="5.2" cx="344.9" cy="489.4"/><circle r="5.2" cx="348.7" cy="543.9"/><circle r="5.2" cx="293.4" cy="519.2"/><circle r="5.2" cx="373.6" cy="480.8"/><circle r="5.2" cx="311.9" cy="514.9"/><circle r="5.2" cx="319.2" cy="456.4"/><circle r="5.2" cx="344.7" cy="449.5"/><circle r="5.2" cx="322.8" cy="522.4"/><circle r="5.2" cx="305.2" cy="527.5"/><circle r="5.2" cx="341.5" cy="534.4"/><circle r="5.2" cx="291.7" cy="494.7"/><circle r="5.2" cx="327.1" cy="467.5"/><circle r="5.2" cx="314" cy="525.1"/><circle r="5.2" cx="374.6" cy="455.5"/><circle r="5.2" cx="350" cy="462.9"/><circle r="5.2" cx="367.6" cy="476.6"/><circle r="5.2" cx="302.5" cy="484.4"/><circle r="5.2" cx="297.2" cy="497.3"/><circle r="5.2" cx="314.8" cy="456.6"/><circle r="5.2" cx="308.4" cy="519.5"/><circle r="5.2" cx="370.2" cy="447.3"/><circle r="5.2" cx="313.2" cy="503"/><circle r="5.2" cx="310.7" cy="510.4"/><circle r="5.2" cx="318.3" cy="507.8"/><circle r="5.2" cx="331.1" cy="559.8"/><circle r="5.2" cx="371.1" cy="485.4"/><circle r="5.2" cx="318.5" cy="514.9"/><circle r="5.2" cx="351.4" cy="506.2"/><circle r="5.2" cx="346.4" cy="474"/><circle r="5.2" cx="333.9" cy="474.2"/><circle r="5.2" cx="298.7" cy="528.4"/><circle r="5.2" cx="369.5" cy="443.2"/><circle r="5.2" cx="298" cy="490.4"/><circle r="5.2" cx="319.7" cy="480.3"/><circle r="5.2" cx="335.7" cy="468.3"/><circle r="5.2" cx="327.4" cy="483.1"/><circle r="5.2" cx="311.5" cy="540.1"/><circle r="5.2" cx="343.9" cy="526.4"/><circle r="5.2" cx="341.4" cy="514.4"/><circle r="5.2" cx="333.5" cy="537.9"/><circle r="5.2" cx="322.1" cy="547.6"/><circle r="5.2" cx="363.2" cy="490"/><circle r="5.2" cx="332" cy="565.2"/><circle r="5.2" cx="376.3" cy="494.9"/><circle r="5.2" cx="363.8" cy="463.7"/><circle r="5.2" cx="316.9" cy="545.3"/><circle r="5.2" cx="343.5" cy="445.5"/><circle r="5.2" cx="311.1" cy="453"/><circle r="5.2" cx="299.4" cy="482.6"/><circle r="5.2" cx="328.1" cy="461.8"/><circle r="5.2" cx="331" cy="458.2"/><circle r="5.2" cx="320.6" cy="536.7"/><circle r="5.2" cx="304.8" cy="518.3"/><circle r="5.2" cx="304" cy="530.9"/><circle r="5.2" cx="334.1" cy="555.7"/><circle r="5.2" cx="346.4" cy="481"/><circle r="5.2" cx="296.4" cy="502.8"/><circle r="5.2" cx="342.5" cy="541.1"/><circle r="5.2" cx="347.4" cy="519.3"/><circle r="5.2" cx="313.1" cy="528.9"/><circle r="5.2" cx="297.6" cy="485"/><circle r="5.2" cx="351.7" cy="491.1"/><circle r="5.2" cx="330.3" cy="542.4"/><circle r="5.2" cx="301.1" cy="469.1"/><circle r="5.2" cx="339" cy="545.1"/><circle r="5.2" cx="335" cy="457.6"/><circle r="5.2" cx="321.5" cy="519.1"/><circle r="5.2" cx="361.9" cy="458.4"/><circle r="5.2" cx="332" cy="447.4"/><circle r="5.2" cx="323.6" cy="455.1"/><circle r="5.2" cx="340.6" cy="464.1"/><circle r="5.2" cx="315.6" cy="486.7"/><circle r="5.2" cx="305" cy="491.9"/><circle r="5.2" cx="355.9" cy="458.6"/><circle r="5.2" cx="310.5" cy="466.4"/><circle r="5.2" cx="360.7" cy="481"/><circle r="5.2" cx="296" cy="478"/><circle r="5.2" cx="354.7" cy="502.7"/><circle r="5.2" cx="320" cy="454.9"/><circle r="5.2" cx="301" cy="465.9"/><circle r="5.2" cx="299.1" cy="501.4"/><circle r="5.2" cx="338" cy="541.2"/><circle r="5.2" cx="345.7" cy="460.8"/><circle r="5.2" cx="304.6" cy="470.7"/><circle r="5.2" cx="301.7" cy="518.3"/><circle r="5.2" cx="318.7" cy="502.8"/><circle r="5.2" cx="315.7" cy="524.7"/><circle r="5.2" cx="342.2" cy="451.7"/><circle r="5.2" cx="312.1" cy="506.4"/><circle r="5.2" cx="334.3" cy="492.9"/><circle r="5.2" cx="311.1" cy="484.8"/><circle r="5.2" cx="302.7" cy="532.3"/><circle r="5.2" cx="367" cy="483.5"/><circle r="5.2" cx="340.7" cy="466.1"/><circle r="5.2" cx="298.2" cy="512.4"/><circle r="5.2" cx="355.9" cy="472.1"/><circle r="5.2" cx="322.4" cy="516.8"/><circle r="5.2" cx="368.3" cy="508.7"/><circle r="5.2" cx="338" cy="511.3"/><circle r="5.2" cx="314.9" cy="469.6"/><circle r="5.2" cx="339.3" cy="522.8"/><circle r="5.2" cx="336.1" cy="481.7"/><circle r="5.2" cx="320.7" cy="495.3"/><circle r="5.2" cx="362.8" cy="472.5"/><circle r="5.2" cx="335.4" cy="547.4"/><circle r="5.2" cx="341.9" cy="456.7"/><circle r="5.2" cx="338.3" cy="504.2"/><circle r="5.2" cx="323.4" cy="514.3"/><circle r="5.2" cx="333.5" cy="456.9"/><circle r="5.2" cx="325.1" cy="494.9"/><circle r="5.2" cx="306.7" cy="480.7"/><circle r="5.2" cx="362" cy="495.5"/><circle r="5.2" cx="365.1" cy="505.1"/><circle r="5.2" cx="314" cy="495"/><circle r="5.2" cx="332.2" cy="512.1"/><circle r="5.2" cx="295" cy="526.8"/><circle r="5.2" cx="370.7" cy="500.2"/><circle r="5.2" cx="367.6" cy="449.3"/><circle r="5.2" cx="336" cy="471.5"/><circle r="5.2" cx="364.7" cy="472.6"/><circle r="5.2" cx="345.1" cy="545.8"/><circle r="5.2" cx="362.2" cy="509.6"/><circle r="5.2" cx="332.1" cy="468.8"/><circle r="5.2" cx="334.9" cy="478.8"/><circle r="5.2" cx="294.8" cy="475"/><circle r="5.2" cx="352.5" cy="543.6"/><circle r="5.2" cx="352.2" cy="508.8"/><circle r="5.2" cx="320.1" cy="487"/><circle r="5.2" cx="358.1" cy="478.8"/><circle r="5.2" cx="336.7" cy="467.1"/><circle r="5.2" cx="309.1" cy="523"/><circle r="5.2" cx="321" cy="477.5"/><circle r="5.2" cx="326" cy="452.2"/><circle r="5.2" cx="328.9" cy="549.5"/><circle r="5.2" cx="344" cy="455.3"/><circle r="5.2" cx="313.2" cy="532.1"/><circle r="5.2" cx="343.5" cy="441.8"/><circle r="5.2" cx="369.1" cy="469.4"/><circle r="5.2" cx="367.2" cy="490.6"/><circle r="5.2" cx="355.4" cy="472.6"/><circle r="5.2" cx="296.4" cy="466.4"/><circle r="5.2" cx="345.7" cy="473.4"/><circle r="5.2" cx="292.5" cy="485.3"/><circle r="5.2" cx="343.4" cy="486"/><circle r="5.2" cx="310.2" cy="501.3"/><circle r="5.2" cx="331.1" cy="479.2"/><circle r="5.2" cx="358.5" cy="465.8"/><circle r="5.2" cx="333.6" cy="470.4"/><circle r="5.2" cx="291.4" cy="490.2"/><circle r="5.2" cx="349.3" cy="534.9"/><circle r="5.2" cx="344.9" cy="462.3"/><circle r="5.2" cx="351.9" cy="445.3"/><circle r="5.2" cx="340.5" cy="480.5"/><circle r="5.2" cx="305.6" cy="528.7"/><circle r="5.2" cx="348.1" cy="478.5"/><circle r="5.2" cx="348.6" cy="486.1"/><circle r="5.2" cx="320.7" cy="531.8"/><circle r="5.2" cx="317.1" cy="538.9"/><circle r="5.2" cx="323.7" cy="492.6"/><circle r="5.2" cx="341.3" cy="530.9"/><circle r="5.2" cx="349.4" cy="469.3"/><circle r="5.2" cx="316.9" cy="538.2"/><circle r="5.2" cx="345.4" cy="522.2"/><circle r="5.2" cx="332" cy="516.2"/><circle r="5.2" cx="328.4" cy="489.4"/><circle r="5.2" cx="301.6" cy="498.5"/><circle r="5.2" cx="357.1" cy="498.8"/><circle r="5.2" cx="302.7" cy="506.8"/><circle r="5.2" cx="311.2" cy="535.6"/><circle r="5.2" cx="332.1" cy="509.5"/><circle r="5.2" cx="353.2" cy="473.1"/><circle r="5.2" cx="348.5" cy="504.2"/><circle r="5.2" cx="342.2" cy="497.8"/><circle r="5.2" cx="338.4" cy="443.3"/><circle r="5.2" cx="325" cy="510.5"/><circle r="5.2" cx="360" cy="463.9"/><circle r="5.2" cx="370.1" cy="508.9"/><circle r="5.2" cx="341.5" cy="519.7"/><circle r="5.2" cx="337.2" cy="508.3"/><circle r="5.2" cx="317.7" cy="468"/><circle r="5.2" cx="317.2" cy="498.9"/><circle r="5.2" cx="364.6" cy="486.8"/><circle r="5.2" cx="347.2" cy="552.5"/><circle r="5.2" cx="333.3" cy="517.9"/><circle r="5.2" cx="362.2" cy="502.5"/><circle r="5.2" cx="364.4" cy="476"/><circle r="5.2" cx="302.3" cy="514.3"/><circle r="5.2" cx="312.8" cy="462.4"/><circle r="5.2" cx="328.4" cy="509.8"/><circle r="5.2" cx="294.2" cy="478.5"/><circle r="5.2" cx="343.6" cy="460"/><circle r="5.2" cx="295.3" cy="521.9"/><circle r="5.2" cx="339.7" cy="459.5"/><circle r="5.2" cx="315.9" cy="488.5"/><circle r="5.2" cx="323.2" cy="455.2"/><circle r="5.2" cx="306.4" cy="486.1"/><circle r="5.2" cx="361.9" cy="483.6"/><circle r="5.2" cx="323" cy="471.7"/><circle r="5.2" cx="326.9" cy="531.5"/><circle r="5.2" cx="367.9" cy="463.9"/><circle r="5.2" cx="330.1" cy="521.8"/><circle r="5.2" cx="315.8" cy="478.9"/><circle r="5.2" cx="355.2" cy="448"/><circle r="5.2" cx="337.5" cy="532"/><circle r="5.2" cx="378.5" cy="484.2"/><circle r="5.2" cx="315" cy="494.6"/><circle r="5.2" cx="376.2" cy="491.8"/><circle r="5.2" cx="306.1" cy="523.1"/><circle r="5.2" cx="314.1" cy="529.9"/><circle r="5.2" cx="339.5" cy="509.5"/><circle r="5.2" cx="371.8" cy="478.2"/><circle r="5.2" cx="321" cy="465.3"/><circle r="5.2" cx="351.3" cy="454.1"/><circle r="5.2" cx="324.2" cy="486.6"/><circle r="5.2" cx="306.6" cy="514.1"/><circle r="5.2" cx="347.7" cy="489.3"/><circle r="5.2" cx="345.8" cy="537.1"/><circle r="5.2" cx="332.4" cy="465.6"/><circle r="5.2" cx="334.4" cy="450.5"/><circle r="5.2" cx="317.1" cy="475.7"/><circle r="5.2" cx="356.9" cy="494.9"/><circle r="5.2" cx="338.6" cy="475.9"/><circle r="5.2" cx="355.5" cy="509.9"/><circle r="5.2" cx="333.8" cy="486.2"/><circle r="5.2" cx="360.7" cy="491.1"/><circle r="5.2" cx="327.7" cy="477.7"/><circle r="5.2" cx="354.5" cy="455.6"/><circle r="5.2" cx="368.5" cy="482.5"/><circle r="5.2" cx="298.2" cy="470"/><circle r="5.2" cx="374.7" cy="491.5"/><circle r="5.2" cx="373.3" cy="488.7"/><circle r="5.2" cx="340.9" cy="512.1"/><circle r="5.2" cx="301.3" cy="474.3"/><circle r="5.2" cx="327.8" cy="539.7"/><circle r="5.2" cx="340.7" cy="546.1"/><circle r="5.2" cx="327.4" cy="539.8"/><circle r="5.2" cx="321.3" cy="543.9"/><circle r="5.2" cx="371.2" cy="458.7"/><circle r="5.2" cx="309" cy="507.7"/><circle r="5.2" cx="348.7" cy="460.8"/><circle r="5.2" cx="345.5" cy="517.6"/><circle r="5.2" cx="293.7" cy="514.7"/><circle r="5.2" cx="305.8" cy="505.6"/><circle r="5.2" cx="347.9" cy="551.8"/><circle r="5.2" cx="349.7" cy="469.9"/><circle r="5.2" cx="374.2" cy="489.9"/><circle r="5.2" cx="346.9" cy="559.5"/><circle r="5.2" cx="348.5" cy="535"/><circle r="5.2" cx="339.8" cy="447.1"/><circle r="5.2" cx="363.2" cy="470.2"/><circle r="5.2" cx="337.3" cy="502.6"/><circle r="5.2" cx="328" cy="561.8"/><circle r="5.2" cx="331.1" cy="456.2"/><circle r="5.2" cx="330.3" cy="521.6"/><circle r="5.2" cx="345.7" cy="512.9"/><circle r="5.2" cx="327.2" cy="460.7"/><circle r="5.2" cx="350.4" cy="496.9"/><circle r="5.2" cx="325.4" cy="463.7"/><circle r="5.2" cx="359.8" cy="507.5"/><circle r="5.2" cx="343.4" cy="557.1"/><circle r="5.2" cx="340.2" cy="537.8"/><circle r="5.2" cx="301.7" cy="488.3"/><circle r="5.2" cx="373.1" cy="454.3"/><circle r="5.2" cx="319" cy="545.2"/><circle r="5.2" cx="364.5" cy="458"/><circle r="5.2" cx="361.8" cy="488.9"/><circle r="5.2" cx="372.5" cy="475.1"/><circle r="5.2" cx="338.9" cy="489.4"/><circle r="5.2" cx="330.1" cy="489.1"/><circle r="5.2" cx="331.7" cy="502.6"/><circle r="5.2" cx="344.8" cy="498.6"/><circle r="5.2" cx="294.6" cy="491.5"/><circle r="5.2" cx="313.9" cy="468.1"/><circle r="5.2" cx="330.1" cy="446.4"/><circle r="5.2" cx="310.5" cy="515.7"/><circle r="5.2" cx="327.1" cy="525.1"/><circle r="5.2" cx="345.9" cy="500.1"/><circle r="5.2" cx="312.7" cy="505.1"/><circle r="5.2" cx="309.3" cy="475"/><circle r="5.2" cx="346.6" cy="481.3"/><circle r="5.2" cx="337.1" cy="482.7"/><circle r="5.2" cx="316.8" cy="482.7"/><circle r="5.2" cx="348.9" cy="457.8"/><circle r="5.2" cx="340.1" cy="525.2"/><circle r="5.2" cx="301" cy="479.1"/><circle r="5.2" cx="349.5" cy="464.2"/><circle r="5.2" cx="333.3" cy="540.8"/><circle r="5.2" cx="299.9" cy="504"/><circle r="5.2" cx="332" cy="513.6"/><circle r="5.2" cx="326.5" cy="565.4"/><circle r="5.2" cx="353" cy="483.7"/><circle r="5.2" cx="321.6" cy="470.6"/><circle r="5.2" cx="348.1" cy="542.9"/><circle r="5.2" cx="336" cy="516.1"/><circle r="5.2" cx="310.3" cy="499.5"/><circle r="5.2" cx="354" cy="465.8"/><circle r="5.2" cx="327.1" cy="541.1"/><circle r="5.2" cx="323.2" cy="448.7"/><circle r="5.2" cx="357.6" cy="511.6"/><circle r="5.2" cx="351.9" cy="488.6"/><circle r="5.2" cx="356.5" cy="478.2"/><circle r="5.2" cx="297.8" cy="528.5"/><circle r="5.2" cx="294.6" cy="494.6"/><circle r="5.2" cx="330.3" cy="456.4"/><circle r="5.2" cx="291.8" cy="512.8"/><circle r="5.2" cx="301.2" cy="511.8"/><circle r="5.2" cx="322.6" cy="562.7"/><circle r="5.2" cx="303.2" cy="495.6"/><circle r="5.2" cx="362.9" cy="506.3"/><circle r="5.2" cx="356.5" cy="468.4"/><circle r="5.2" cx="346.8" cy="453.3"/><circle r="5.2" cx="307.9" cy="468.4"/><circle r="5.2" cx="321.6" cy="521.4"/><circle r="5.2" cx="332.4" cy="473.8"/><circle r="5.2" cx="342" cy="519.8"/><circle r="5.2" cx="339.1" cy="487.8"/><circle r="5.2" cx="351.3" cy="523.4"/><circle r="5.2" cx="328.9" cy="473.7"/><circle r="5.2" cx="339.9" cy="450.6"/><circle r="5.2" cx="360.6" cy="498.8"/><circle r="5.2" cx="369.6" cy="489.2"/><circle r="5.2" cx="340.5" cy="537.4"/><circle r="5.2" cx="326.2" cy="496.2"/></g><g fill="#729ECE" stroke="#729ECE"><circle r="5.2" cx="291.7" cy="462.5"/><circle r="5.2" cx="282.1" cy="513"/><circle r="5.2" cx="282.3" cy="512.8"/><circle r="5.2" cx="312.3" cy="551.8"/><circle r="5.2" cx="382.1" cy="447.6"/></g><g fill="#FF9E4A" stroke="#FF9E4A"><circle r="5.2" cx="181.5" cy="50.5"/><circle r="5.2" cx="182.3" cy="46.5"/></g><g fill="#FF9E4A" stroke="#FF9E4A" class="f"><circle r="5.2" cx="316.8" cy="52.9"/><circle r="5.2" cx="328" cy="52.4"/><circle r="5.2" cx="322.2" cy="45.6"/><circle r="5.2" cx="309" cy="48.7"/><circle r="5.2" cx="313.8" cy="49.8"/><circle r="5.2" cx="323.5" cy="54.8"/><circle r="5.2" cx="313.2" cy="55"/><circle r="5.2" cx="317.2" cy="41.9"/><circle r="5.2" cx="311.3" cy="48.9"/><circle r="5.2" cx="311.4" cy="45.6"/><circle r="5.2" cx="313.1" cy="56"/><circle r="5.2" cx="323" cy="51.2"/><circle r="5.2" cx="323.4" cy="46.2"/><circle r="5.2" cx="308.3" cy="54.2"/></g><g fill="#FF9E4A" stroke="#FF9E4A"><circle r="5.2" cx="342.4" cy="86.5"/><circle r="5.2" cx="342" cy="86.2"/><circle r="5.2" cx="343.3" cy="88"/></g><g fill="#FF9E4A" stroke="#FF9E4A" class="f"><circle r="5.2" cx="443.5" cy="151.1"/><circle r="5.2" cx="393.6" cy="116.8"/><circle r="5.2" cx="430.7" cy="120.7"/><circle r="5.2" cx="401.3" cy="161.9"/><circle r="5.2" cx="394.4" cy="138.4"/><circle r="5.2" cx="415" cy="146.1"/><circle r="5.2" cx="428" cy="188.3"/><circle r="5.2" cx="459.1" cy="146.4"/><circle r="5.2" cx="439.4" cy="175.2"/><circle r="5.2" cx="446.8" cy="114.4"/><circle r="5.2" cx="451.8" cy="133.5"/><circle r="5.2" cx="414.8" cy="110.7"/><circle r="5.2" cx="456.9" cy="160.8"/><circle r="5.2" cx="450.4" cy="103.5"/><circle r="5.2" cx="459.1" cy="118.4"/><circle r="5.2" cx="453.7" cy="128.8"/><circle r="5.2" cx="430.1" cy="143.3"/><circle r="5.2" cx="408.8" cy="175.8"/><circle r="5.2" cx="412.3" cy="183.5"/><circle r="5.2" cx="420.7" cy="157.5"/><circle r="5.2" cx="459.9" cy="101.4"/><circle r="5.2" cx="429.9" cy="133.9"/><circle r="5.2" cx="436.2" cy="137.6"/><circle r="5.2" cx="415.4" cy="126.8"/><circle r="5.2" cx="432.9" cy="159.2"/><circle r="5.2" cx="437.2" cy="199.3"/><circle r="5.2" cx="434.4" cy="178.6"/><circle r="5.2" cx="403.9" cy="168.1"/><circle r="5.2" cx="440.6" cy="182.4"/><circle r="5.2" cx="468.2" cy="154.3"/><circle r="5.2" cx="456.5" cy="170.6"/><circle r="5.2" cx="443.1" cy="126"/><circle r="5.2" cx="406.7" cy="109"/><circle r="5.2" cx="418.6" cy="140.2"/><circle r="5.2" cx="420.9" cy="124.5"/><circle r="5.2" cx="465.9" cy="163.7"/><circle r="5.2" cx="412.1" cy="162.1"/><circle r="5.2" cx="394.5" cy="123.2"/><circle r="5.2" cx="393.5" cy="111.7"/><circle r="5.2" cx="442.6" cy="164.5"/><circle r="5.2" cx="456.1" cy="116.2"/><circle r="5.2" cx="430.1" cy="164.9"/><circle r="5.2" cx="424.6" cy="117.9"/><circle r="5.2" cx="418.3" cy="142"/><circle r="5.2" cx="403.4" cy="118.4"/><circle r="5.2" cx="413.3" cy="175.8"/><circle r="5.2" cx="427.3" cy="202.2"/><circle r="5.2" cx="462.2" cy="137.4"/><circle r="5.2" cx="447.4" cy="144.4"/><circle r="5.2" cx="440.8" cy="110.2"/><circle r="5.2" cx="402.9" cy="127.9"/><circle r="5.2" cx="411" cy="112.8"/><circle r="5.2" cx="398.5" cy="144.2"/><circle r="5.2" cx="406.8" cy="151.7"/><circle r="5.2" cx="466.5" cy="111.5"/><circle r="5.2" cx="464.7" cy="125.7"/><circle r="5.2" cx="419.7" cy="169.8"/><circle r="5.2" cx="412.2" cy="139.7"/><circle r="5.2" cx="418.5" cy="194.7"/><circle r="5.2" cx="470.8" cy="135.5"/><circle r="5.2" cx="432.2" cy="117.5"/><circle r="5.2" cx="417.9" cy="187.1"/><circle r="5.2" cx="451.7" cy="110"/><circle r="5.2" cx="396.8" cy="101.4"/><circle r="5.2" cx="430.7" cy="152"/><circle r="5.2" cx="410.1" cy="164.5"/><circle r="5.2" cx="429.1" cy="164.3"/><circle r="5.2" cx="468.1" cy="144.9"/><circle r="5.2" cx="416.1" cy="123.9"/><circle r="5.2" cx="447.5" cy="128.2"/><circle r="5.2" cx="438.3" cy="129.6"/><circle r="5.2" cx="441.1" cy="156.1"/><circle r="5.2" cx="432.2" cy="175.8"/><circle r="5.2" cx="441" cy="190.2"/><circle r="5.2" cx="458.2" cy="106.5"/><circle r="5.2" cx="441.6" cy="176.8"/><circle r="5.2" cx="445.5" cy="170.1"/><circle r="5.2" cx="430" cy="191.8"/><circle r="5.2" cx="433.2" cy="174.6"/><circle r="5.2" cx="448.5" cy="155.3"/><circle r="5.2" cx="423.3" cy="182.1"/><circle r="5.2" cx="456.7" cy="147.7"/><circle r="5.2" cx="423.6" cy="125.4"/><circle r="5.2" cx="442.4" cy="101"/><circle r="5.2" cx="392" cy="156.4"/><circle r="5.2" cx="432.4" cy="132.8"/><circle r="5.2" cx="466.1" cy="104.8"/><circle r="5.2" cx="425.1" cy="200.6"/><circle r="5.2" cx="387.8" cy="137.3"/><circle r="5.2" cx="469.7" cy="169.7"/><circle r="5.2" cx="403.4" cy="132.7"/><circle r="5.2" cx="395.9" cy="169"/><circle r="5.2" cx="405.3" cy="124.5"/><circle r="5.2" cx="406.4" cy="154.2"/><circle r="5.2" cx="398.9" cy="156.1"/><circle r="5.2" cx="444.5" cy="117.7"/><circle r="5.2" cx="431.2" cy="112.7"/><circle r="5.2" cx="427.6" cy="169.4"/><circle r="5.2" cx="468.9" cy="138"/><circle r="5.2" cx="467.9" cy="148.9"/><circle r="5.2" cx="437.6" cy="125.8"/><circle r="5.2" cx="436.2" cy="146.1"/><circle r="5.2" cx="397.9" cy="114.1"/><circle r="5.2" cx="437.1" cy="155.2"/><circle r="5.2" cx="425.1" cy="175.4"/><circle r="5.2" cx="431.8" cy="196.8"/><circle r="5.2" cx="422" cy="121"/><circle r="5.2" cx="473.2" cy="124.7"/><circle r="5.2" cx="390.3" cy="111.1"/><circle r="5.2" cx="410.9" cy="142.3"/><circle r="5.2" cx="416.6" cy="162"/><circle r="5.2" cx="449.2" cy="107.9"/><circle r="5.2" cx="418.2" cy="153.4"/><circle r="5.2" cx="468.9" cy="163.5"/><circle r="5.2" cx="408.7" cy="118.6"/><circle r="5.2" cx="405.7" cy="136"/><circle r="5.2" cx="470.4" cy="127.4"/><circle r="5.2" cx="442.5" cy="195.3"/><circle r="5.2" cx="393.8" cy="163.1"/><circle r="5.2" cx="464.1" cy="161.7"/><circle r="5.2" cx="396.7" cy="133.6"/><circle r="5.2" cx="469.8" cy="117.6"/><circle r="5.2" cx="421.1" cy="148.1"/><circle r="5.2" cx="439.4" cy="197.2"/><circle r="5.2" cx="420.4" cy="147"/><circle r="5.2" cx="466.3" cy="160.2"/><circle r="5.2" cx="424.2" cy="163.4"/><circle r="5.2" cx="393.6" cy="129.8"/><circle r="5.2" cx="466" cy="117"/><circle r="5.2" cx="466.1" cy="134.2"/><circle r="5.2" cx="394.4" cy="112.4"/><circle r="5.2" cx="427.5" cy="196.2"/><circle r="5.2" cx="433.9" cy="149"/><circle r="5.2" cx="444.9" cy="128.3"/><circle r="5.2" cx="464.4" cy="140.1"/><circle r="5.2" cx="468.1" cy="108.4"/><circle r="5.2" cx="450.1" cy="111.9"/><circle r="5.2" cx="455.4" cy="174"/><circle r="5.2" cx="394.1" cy="146.8"/><circle r="5.2" cx="410.5" cy="185.9"/><circle r="5.2" cx="456.6" cy="145.6"/><circle r="5.2" cx="442.9" cy="153.4"/><circle r="5.2" cx="401.2" cy="123.9"/><circle r="5.2" cx="452.1" cy="170.6"/><circle r="5.2" cx="446.2" cy="109.2"/><circle r="5.2" cx="407.9" cy="180.2"/><circle r="5.2" cx="412.7" cy="158.1"/><circle r="5.2" cx="396.7" cy="108.9"/><circle r="5.2" cx="448.6" cy="157.8"/><circle r="5.2" cx="427.5" cy="121.1"/><circle r="5.2" cx="445.5" cy="137.7"/><circle r="5.2" cx="435.3" cy="202"/><circle r="5.2" cx="448" cy="151.3"/><circle r="5.2" cx="417.2" cy="153.9"/><circle r="5.2" cx="392.4" cy="142.1"/><circle r="5.2" cx="435.4" cy="164.4"/><circle r="5.2" cx="429.6" cy="151.1"/><circle r="5.2" cx="451.4" cy="122.3"/><circle r="5.2" cx="437.9" cy="113.4"/><circle r="5.2" cx="449.1" cy="116.4"/><circle r="5.2" cx="451.6" cy="151.7"/><circle r="5.2" cx="466.9" cy="161.5"/><circle r="5.2" cx="431.1" cy="137.1"/><circle r="5.2" cx="441.3" cy="139.3"/><circle r="5.2" cx="418.6" cy="172.3"/><circle r="5.2" cx="431.1" cy="159.4"/><circle r="5.2" cx="435.1" cy="178"/><circle r="5.2" cx="428.1" cy="125.8"/><circle r="5.2" cx="453.7" cy="105.4"/><circle r="5.2" cx="403.1" cy="106.5"/><circle r="5.2" cx="418.1" cy="182.5"/><circle r="5.2" cx="408.1" cy="170.7"/><circle r="5.2" cx="453.8" cy="130"/><circle r="5.2" cx="459.3" cy="119.9"/><circle r="5.2" cx="462" cy="114.7"/><circle r="5.2" cx="460.9" cy="173.1"/><circle r="5.2" cx="461.3" cy="162.2"/><circle r="5.2" cx="428.5" cy="136.9"/><circle r="5.2" cx="431" cy="126.7"/><circle r="5.2" cx="441.7" cy="168.4"/><circle r="5.2" cx="421.4" cy="121"/><circle r="5.2" cx="414.9" cy="119.1"/><circle r="5.2" cx="438.7" cy="160"/><circle r="5.2" cx="425" cy="175.4"/><circle r="5.2" cx="447.2" cy="130.2"/><circle r="5.2" cx="402.5" cy="140.4"/><circle r="5.2" cx="425" cy="165.2"/><circle r="5.2" cx="452.7" cy="162.4"/><circle r="5.2" cx="391.4" cy="147.4"/><circle r="5.2" cx="425.7" cy="155.5"/><circle r="5.2" cx="436" cy="111.7"/><circle r="5.2" cx="438" cy="134.9"/><circle r="5.2" cx="454.2" cy="127.1"/><circle r="5.2" cx="417.1" cy="136.2"/><circle r="5.2" cx="423.5" cy="113.4"/><circle r="5.2" cx="443.1" cy="187"/><circle r="5.2" cx="424.1" cy="132.4"/><circle r="5.2" cx="466.1" cy="100.3"/><circle r="5.2" cx="457.6" cy="150.8"/><circle r="5.2" cx="418.6" cy="129.7"/><circle r="5.2" cx="462.5" cy="133.7"/><circle r="5.2" cx="432.7" cy="204.5"/><circle r="5.2" cx="435.3" cy="183.5"/><circle r="5.2" cx="457.8" cy="98.5"/><circle r="5.2" cx="432.7" cy="191.1"/><circle r="5.2" cx="454.9" cy="136.1"/><circle r="5.2" cx="450.6" cy="139"/><circle r="5.2" cx="437" cy="179.4"/><circle r="5.2" cx="423.2" cy="112.7"/><circle r="5.2" cx="405" cy="128.8"/><circle r="5.2" cx="394.2" cy="151.8"/><circle r="5.2" cx="428.9" cy="154.6"/><circle r="5.2" cx="452.2" cy="133"/><circle r="5.2" cx="465.6" cy="140.6"/><circle r="5.2" cx="440.8" cy="172.2"/><circle r="5.2" cx="433" cy="137.3"/><circle r="5.2" cx="402.1" cy="165.9"/><circle r="5.2" cx="394.2" cy="115.4"/><circle r="5.2" cx="440.6" cy="198.4"/><circle r="5.2" cx="423.4" cy="184"/><circle r="5.2" cx="418.4" cy="141.9"/><circle r="5.2" cx="469.9" cy="160.2"/><circle r="5.2" cx="438.2" cy="185.4"/><circle r="5.2" cx="458.7" cy="110.7"/><circle r="5.2" cx="394" cy="125.5"/><circle r="5.2" cx="418" cy="168.9"/><circle r="5.2" cx="393.1" cy="135.4"/><circle r="5.2" cx="401.3" cy="107.8"/><circle r="5.2" cx="439.3" cy="163.1"/><circle r="5.2" cx="459.9" cy="123.8"/><circle r="5.2" cx="416.6" cy="116.5"/><circle r="5.2" cx="426.7" cy="141.6"/><circle r="5.2" cx="435.4" cy="168.9"/><circle r="5.2" cx="414.3" cy="122.5"/><circle r="5.2" cx="456.4" cy="156"/><circle r="5.2" cx="457.3" cy="148.9"/><circle r="5.2" cx="427.3" cy="170.5"/><circle r="5.2" cx="403.2" cy="126.9"/><circle r="5.2" cx="459.5" cy="158.3"/><circle r="5.2" cx="390.3" cy="117.5"/><circle r="5.2" cx="461" cy="172"/><circle r="5.2" cx="464.7" cy="146.2"/><circle r="5.2" cx="462.6" cy="104.8"/><circle r="5.2" cx="418.4" cy="162"/><circle r="5.2" cx="463" cy="107.6"/><circle r="5.2" cx="437.9" cy="119.8"/><circle r="5.2" cx="396.2" cy="153.7"/><circle r="5.2" cx="464" cy="124.6"/><circle r="5.2" cx="426.2" cy="184.5"/><circle r="5.2" cx="450.1" cy="172.9"/><circle r="5.2" cx="409.9" cy="118.7"/><circle r="5.2" cx="414.7" cy="138.1"/><circle r="5.2" cx="411.7" cy="149.1"/><circle r="5.2" cx="424.4" cy="163.5"/><circle r="5.2" cx="469.6" cy="131.6"/><circle r="5.2" cx="404.7" cy="115.3"/><circle r="5.2" cx="424.1" cy="140.2"/><circle r="5.2" cx="441.3" cy="125.6"/><circle r="5.2" cx="467.6" cy="174.2"/><circle r="5.2" cx="408" cy="137"/><circle r="5.2" cx="405" cy="160"/><circle r="5.2" cx="433.1" cy="161.9"/><circle r="5.2" cx="423.5" cy="151.9"/><circle r="5.2" cx="400" cy="130.9"/><circle r="5.2" cx="425.4" cy="149.7"/><circle r="5.2" cx="419.1" cy="132.5"/><circle r="5.2" cx="470" cy="153.5"/><circle r="5.2" cx="413.1" cy="166.7"/><circle r="5.2" cx="401.3" cy="117.9"/><circle r="5.2" cx="443.6" cy="134.3"/><circle r="5.2" cx="411" cy="182.7"/><circle r="5.2" cx="427.8" cy="125.8"/><circle r="5.2" cx="445.8" cy="169.5"/><circle r="5.2" cx="407.2" cy="116.7"/><circle r="5.2" cx="415.4" cy="128.8"/><circle r="5.2" cx="397.1" cy="165.3"/><circle r="5.2" cx="453.9" cy="116.2"/><circle r="5.2" cx="440.8" cy="203.7"/><circle r="5.2" cx="407.7" cy="155.5"/><circle r="5.2" cx="446.9" cy="160.6"/><circle r="5.2" cx="456.4" cy="160.6"/><circle r="5.2" cx="468.8" cy="126.9"/><circle r="5.2" cx="408" cy="144.3"/><circle r="5.2" cx="456.1" cy="165.7"/><circle r="5.2" cx="442.9" cy="179.3"/><circle r="5.2" cx="417.5" cy="147.9"/><circle r="5.2" cx="431.4" cy="189"/><circle r="5.2" cx="460.3" cy="155.3"/><circle r="5.2" cx="429.6" cy="202.8"/><circle r="5.2" cx="453.5" cy="120.1"/><circle r="5.2" cx="440" cy="114.8"/><circle r="5.2" cx="442" cy="145"/><circle r="5.2" cx="397" cy="164.7"/><circle r="5.2" cx="463.8" cy="154.3"/><circle r="5.2" cx="456.6" cy="139.7"/><circle r="5.2" cx="423.5" cy="139.3"/><circle r="5.2" cx="419" cy="141.6"/><circle r="5.2" cx="398.8" cy="140.6"/><circle r="5.2" cx="438.1" cy="138.2"/><circle r="5.2" cx="457.8" cy="137.4"/><circle r="5.2" cx="426.4" cy="191.6"/><circle r="5.2" cx="391.9" cy="159"/><circle r="5.2" cx="432" cy="144"/><circle r="5.2" cx="418.7" cy="121.2"/><circle r="5.2" cx="429.4" cy="114.2"/><circle r="5.2" cx="413.2" cy="144.2"/><circle r="5.2" cx="394.1" cy="128"/><circle r="5.2" cx="445.7" cy="164.1"/><circle r="5.2" cx="454.6" cy="126.2"/><circle r="5.2" cx="421.6" cy="160.5"/><circle r="5.2" cx="461.8" cy="112.6"/><circle r="5.2" cx="419.5" cy="158.2"/><circle r="5.2" cx="462.1" cy="153.1"/><circle r="5.2" cx="427.9" cy="122.9"/><circle r="5.2" cx="421.4" cy="178.2"/><circle r="5.2" cx="463.1" cy="129"/><circle r="5.2" cx="430.7" cy="181.8"/><circle r="5.2" cx="457.2" cy="168"/><circle r="5.2" cx="419" cy="150.6"/><circle r="5.2" cx="454.8" cy="148.1"/><circle r="5.2" cx="410.4" cy="162.3"/><circle r="5.2" cx="451.7" cy="164.6"/><circle r="5.2" cx="439.3" cy="151.7"/><circle r="5.2" cx="468.7" cy="114.5"/><circle r="5.2" cx="408.2" cy="156.5"/><circle r="5.2" cx="418.7" cy="190.1"/><circle r="5.2" cx="471.4" cy="119.9"/><circle r="5.2" cx="451.9" cy="124.3"/><circle r="5.2" cx="458.3" cy="113.5"/><circle r="5.2" cx="447.4" cy="138.3"/><circle r="5.2" cx="424.2" cy="158.5"/><circle r="5.2" cx="410.2" cy="134.4"/><circle r="5.2" cx="437" cy="160.4"/><circle r="5.2" cx="419.2" cy="195.7"/><circle r="5.2" cx="451.1" cy="143.6"/><circle r="5.2" cx="439.1" cy="164.5"/><circle r="5.2" cx="410.8" cy="115.4"/><circle r="5.2" cx="408.8" cy="159.6"/><circle r="5.2" cx="405.6" cy="157.3"/><circle r="5.2" cx="421.7" cy="173.5"/><circle r="5.2" cx="415.2" cy="132.9"/><circle r="5.2" cx="442.3" cy="107.6"/><circle r="5.2" cx="408.3" cy="150.7"/><circle r="5.2" cx="437.8" cy="154.2"/><circle r="5.2" cx="450" cy="162.8"/><circle r="5.2" cx="425.9" cy="128.4"/><circle r="5.2" cx="454.2" cy="102.3"/><circle r="5.2" cx="418.4" cy="176.3"/><circle r="5.2" cx="447.1" cy="109.6"/><circle r="5.2" cx="425.8" cy="143"/><circle r="5.2" cx="439.3" cy="183.1"/><circle r="5.2" cx="444.3" cy="171.4"/><circle r="5.2" cx="413.7" cy="115.4"/><circle r="5.2" cx="419.5" cy="171.5"/><circle r="5.2" cx="405.3" cy="174.9"/><circle r="5.2" cx="442.3" cy="189.9"/><circle r="5.2" cx="426.9" cy="116.2"/><circle r="5.2" cx="459.3" cy="171"/><circle r="5.2" cx="426.8" cy="177.9"/><circle r="5.2" cx="396.9" cy="120.8"/><circle r="5.2" cx="456.1" cy="118.5"/><circle r="5.2" cx="437.6" cy="159.4"/><circle r="5.2" cx="422.8" cy="146.3"/><circle r="5.2" cx="425.6" cy="118.4"/><circle r="5.2" cx="413.3" cy="110.8"/><circle r="5.2" cx="399.5" cy="135.9"/><circle r="5.2" cx="443.8" cy="141.7"/><circle r="5.2" cx="419.8" cy="154"/><circle r="5.2" cx="447.6" cy="148"/><circle r="5.2" cx="447" cy="156"/><circle r="5.2" cx="436.1" cy="110.1"/><circle r="5.2" cx="467.9" cy="132.3"/><circle r="5.2" cx="430.8" cy="134.2"/><circle r="5.2" cx="393.2" cy="109.5"/><circle r="5.2" cx="441.1" cy="181"/><circle r="5.2" cx="399.7" cy="149.2"/><circle r="5.2" cx="418.8" cy="177"/><circle r="5.2" cx="410.5" cy="121.4"/><circle r="5.2" cx="446.8" cy="181.3"/><circle r="5.2" cx="435.7" cy="200.7"/><circle r="5.2" cx="446.5" cy="193.9"/><circle r="5.2" cx="432.4" cy="194.2"/><circle r="5.2" cx="441.5" cy="198.6"/><circle r="5.2" cx="432.2" cy="184.6"/><circle r="5.2" cx="438.2" cy="189.6"/><circle r="5.2" cx="445.1" cy="197.7"/><circle r="5.2" cx="445.9" cy="187.3"/><circle r="5.2" cx="444.4" cy="182.8"/><circle r="5.2" cx="441" cy="192.2"/><circle r="5.2" cx="432.8" cy="184.1"/><circle r="5.2" cx="436.5" cy="198"/><circle r="5.2" cx="445.5" cy="185.1"/><circle r="5.2" cx="436.3" cy="191.5"/><circle r="5.2" cx="437.5" cy="200.5"/><circle r="5.2" cx="440.6" cy="180.1"/><circle r="5.2" cx="436" cy="210.2"/><circle r="5.2" cx="440.4" cy="236.4"/><circle r="5.2" cx="440" cy="238.2"/><circle r="5.2" cx="440.2" cy="239.8"/><circle r="5.2" cx="440.7" cy="241.3"/><circle r="5.2" cx="133.2" cy="227.9"/><circle r="5.2" cx="135.8" cy="264"/><circle r="5.2" cx="139.6" cy="242.7"/><circle r="5.2" cx="116.5" cy="248.5"/><circle r="5.2" cx="129.4" cy="243.7"/><circle r="5.2" cx="115.3" cy="230.1"/><circle r="5.2" cx="123" cy="227.1"/><circle r="5.2" cx="124.4" cy="263.2"/><circle r="5.2" cx="140.5" cy="256.6"/><circle r="5.2" cx="118.2" cy="238.4"/><circle r="5.2" cx="124.8" cy="227.8"/><circle r="5.2" cx="130.2" cy="265.9"/><circle r="5.2" cx="135.5" cy="255.9"/><circle r="5.2" cx="123.3" cy="251.6"/><circle r="5.2" cx="126.6" cy="239.8"/><circle r="5.2" cx="122.1" cy="238.9"/><circle r="5.2" cx="134.5" cy="223.9"/><circle r="5.2" cx="112.9" cy="245.5"/><circle r="5.2" cx="114.7" cy="242.1"/><circle r="5.2" cx="129.5" cy="252.9"/><circle r="5.2" cx="120.9" cy="229"/><circle r="5.2" cx="125.4" cy="233.8"/><circle r="5.2" cx="136.6" cy="233.2"/><circle r="5.2" cx="138.7" cy="264.2"/><circle r="5.2" cx="136.6" cy="239.9"/><circle r="5.2" cx="124.2" cy="248.1"/><circle r="5.2" cx="130.2" cy="219.3"/><circle r="5.2" cx="139.6" cy="247.9"/><circle r="5.2" cx="120.9" cy="259.2"/><circle r="5.2" cx="132.5" cy="259.1"/><circle r="5.2" cx="120.8" cy="231.6"/><circle r="5.2" cx="121.6" cy="241"/><circle r="5.2" cx="124.2" cy="249.2"/><circle r="5.2" cx="128.8" cy="241.9"/><circle r="5.2" cx="129.9" cy="255.8"/><circle r="5.2" cx="132.6" cy="259.3"/><circle r="5.2" cx="139.9" cy="235.3"/><circle r="5.2" cx="127.7" cy="227.6"/><circle r="5.2" cx="141.8" cy="257.6"/><circle r="5.2" cx="266.3" cy="291.1"/><circle r="5.2" cx="263.6" cy="299.5"/><circle r="5.2" cx="270.3" cy="303.5"/><circle r="5.2" cx="268.6" cy="294.9"/><circle r="5.2" cx="260.7" cy="296.2"/><circle r="5.2" cx="321.9" cy="328.1"/><circle r="5.2" cx="310.4" cy="263.5"/><circle r="5.2" cx="315.1" cy="300.6"/><circle r="5.2" cx="321.5" cy="268.3"/><circle r="5.2" cx="313.9" cy="310"/><circle r="5.2" cx="307.1" cy="279.6"/><circle r="5.2" cx="319.7" cy="264.6"/><circle r="5.2" cx="320.6" cy="320.4"/><circle r="5.2" cx="320" cy="293.9"/><circle r="5.2" cx="306.7" cy="329.1"/><circle r="5.2" cx="312.6" cy="325.6"/><circle r="5.2" cx="308.2" cy="296.8"/><circle r="5.2" cx="315.7" cy="277.8"/><circle r="5.2" cx="327.4" cy="282.3"/><circle r="5.2" cx="325.2" cy="304.3"/><circle r="5.2" cx="326.9" cy="258.6"/><circle r="5.2" cx="308.3" cy="282.6"/><circle r="5.2" cx="323.9" cy="309.9"/><circle r="5.2" cx="327" cy="272.4"/><circle r="5.2" cx="315.5" cy="317.8"/><circle r="5.2" cx="327.7" cy="266.6"/><circle r="5.2" cx="327.6" cy="257.1"/><circle r="5.2" cx="355.4" cy="223.9"/><circle r="5.2" cx="356.2" cy="235.1"/><circle r="5.2" cx="358.2" cy="214.8"/><circle r="5.2" cx="361" cy="232"/><circle r="5.2" cx="360.8" cy="219.3"/><circle r="5.2" cx="359.7" cy="235.1"/><circle r="5.2" cx="365.1" cy="214.5"/><circle r="5.2" cx="364.4" cy="211.8"/><circle r="5.2" cx="359.3" cy="227.2"/><circle r="5.2" cx="366" cy="233.6"/><circle r="5.2" cx="355.5" cy="221"/><circle r="5.2" cx="372.6" cy="248.7"/><circle r="5.2" cx="403.7" cy="276.9"/><circle r="5.2" cx="372.4" cy="297.6"/><circle r="5.2" cx="345.1" cy="310.5"/><circle r="5.2" cx="342.7" cy="266"/><circle r="5.2" cx="357.8" cy="255.5"/><circle r="5.2" cx="330.3" cy="311.6"/><circle r="5.2" cx="353.7" cy="297.4"/><circle r="5.2" cx="359.7" cy="241"/><circle r="5.2" cx="339.9" cy="273.6"/><circle r="5.2" cx="400.7" cy="268.6"/><circle r="5.2" cx="337.9" cy="290.9"/><circle r="5.2" cx="390.2" cy="293.1"/><circle r="5.2" cx="336.6" cy="255"/><circle r="5.2" cx="354.1" cy="276.8"/><circle r="5.2" cx="375.3" cy="267.2"/><circle r="5.2" cx="329.9" cy="302.5"/><circle r="5.2" cx="388.3" cy="265.7"/><circle r="5.2" cx="351.7" cy="285.8"/><circle r="5.2" cx="382.3" cy="254.7"/><circle r="5.2" cx="381" cy="306.3"/><circle r="5.2" cx="354.7" cy="248.7"/><circle r="5.2" cx="342.3" cy="298.3"/><circle r="5.2" cx="361.6" cy="297.5"/><circle r="5.2" cx="339.5" cy="243.1"/><circle r="5.2" cx="353.6" cy="244"/><circle r="5.2" cx="369.6" cy="277.3"/><circle r="5.2" cx="382.3" cy="289.3"/><circle r="5.2" cx="370" cy="290.8"/><circle r="5.2" cx="379.6" cy="269.3"/><circle r="5.2" cx="363.7" cy="270.6"/><circle r="5.2" cx="399.7" cy="258.2"/><circle r="5.2" cx="405" cy="283.1"/><circle r="5.2" cx="366.2" cy="257.2"/><circle r="5.2" cx="390.1" cy="258.6"/><circle r="5.2" cx="333.6" cy="293"/><circle r="5.2" cx="332.9" cy="262.5"/><circle r="5.2" cx="344.8" cy="253.1"/><circle r="5.2" cx="386.8" cy="297.8"/><circle r="5.2" cx="361.3" cy="280.9"/><circle r="5.2" cx="367.5" cy="303"/><circle r="5.2" cx="406.3" cy="264.5"/><circle r="5.2" cx="346.7" cy="271.3"/><circle r="5.2" cx="364.7" cy="286.4"/><circle r="5.2" cx="385.5" cy="261.2"/><circle r="5.2" cx="374.7" cy="253.7"/><circle r="5.2" cx="338.2" cy="308.2"/><circle r="5.2" cx="380.9" cy="242"/><circle r="5.2" cx="355.1" cy="305.2"/><circle r="5.2" cx="392.2" cy="267.2"/><circle r="5.2" cx="374" cy="307.9"/><circle r="5.2" cx="366" cy="266.1"/><circle r="5.2" cx="379.5" cy="284.9"/><circle r="5.2" cx="357.9" cy="268"/><circle r="5.2" cx="368.9" cy="272.5"/><circle r="5.2" cx="334.4" cy="271"/><circle r="5.2" cx="346.4" cy="289"/><circle r="5.2" cx="399.1" cy="286.5"/><circle r="5.2" cx="340.2" cy="293.8"/><circle r="5.2" cx="348.5" cy="261.2"/><circle r="5.2" cx="367.8" cy="280.5"/><circle r="5.2" cx="329.2" cy="305.1"/><circle r="5.2" cx="345.6" cy="303.2"/><circle r="5.2" cx="375.8" cy="302.8"/><circle r="5.2" cx="331.6" cy="296.1"/><circle r="5.2" cx="359" cy="306.7"/><circle r="5.2" cx="352.4" cy="310"/><circle r="5.2" cx="351.7" cy="280.5"/><circle r="5.2" cx="389.1" cy="297.9"/><circle r="5.2" cx="378.2" cy="279"/><circle r="5.2" cx="393.7" cy="262.5"/><circle r="5.2" cx="361.3" cy="253.7"/><circle r="5.2" cx="354.4" cy="263.8"/><circle r="5.2" cx="342.9" cy="272.4"/><circle r="5.2" cx="336.8" cy="280.5"/><circle r="5.2" cx="373.2" cy="239.2"/><circle r="5.2" cx="340.5" cy="288.5"/><circle r="5.2" cx="351.7" cy="274.4"/><circle r="5.2" cx="343.8" cy="248"/><circle r="5.2" cx="341.3" cy="281.7"/><circle r="5.2" cx="367.4" cy="276.9"/><circle r="5.2" cx="408.4" cy="286.5"/><circle r="5.2" cx="391.4" cy="251"/><circle r="5.2" cx="397.4" cy="289.3"/><circle r="5.2" cx="365.3" cy="248.7"/><circle r="5.2" cx="379.3" cy="231.4"/><circle r="5.2" cx="351.9" cy="290.9"/><circle r="5.2" cx="376.1" cy="259.4"/><circle r="5.2" cx="335.8" cy="311.9"/><circle r="5.2" cx="352.2" cy="269.6"/><circle r="5.2" cx="361.8" cy="291.5"/><circle r="5.2" cx="353.4" cy="280.7"/><circle r="5.2" cx="400.9" cy="286.6"/><circle r="5.2" cx="376.6" cy="244.1"/><circle r="5.2" cx="358.3" cy="292.3"/><circle r="5.2" cx="345.6" cy="312.5"/><circle r="5.2" cx="333.3" cy="300.4"/><circle r="5.2" cx="331.7" cy="248.6"/><circle r="5.2" cx="373" cy="272"/><circle r="5.2" cx="379.3" cy="266.1"/><circle r="5.2" cx="330.8" cy="305.8"/><circle r="5.2" cx="346.7" cy="301.6"/><circle r="5.2" cx="340.1" cy="248.9"/><circle r="5.2" cx="366.1" cy="253.9"/><circle r="5.2" cx="355" cy="285"/><circle r="5.2" cx="334" cy="283.6"/><circle r="5.2" cx="397.7" cy="265.8"/><circle r="5.2" cx="400.4" cy="293.7"/><circle r="5.2" cx="393.3" cy="275.1"/><circle r="5.2" cx="393.3" cy="266"/><circle r="5.2" cx="398.8" cy="252.3"/><circle r="5.2" cx="387.4" cy="303.3"/><circle r="5.2" cx="359.4" cy="275.8"/><circle r="5.2" cx="400.7" cy="270.3"/><circle r="5.2" cx="349.8" cy="258.4"/><circle r="5.2" cx="335.1" cy="257.4"/><circle r="5.2" cx="347.9" cy="250.3"/><circle r="5.2" cx="367.2" cy="291.7"/><circle r="5.2" cx="357.4" cy="259.8"/><circle r="5.2" cx="404.8" cy="271.4"/><circle r="5.2" cx="374.9" cy="263.8"/><circle r="5.2" cx="371.6" cy="259.4"/><circle r="5.2" cx="408.3" cy="277.5"/><circle r="5.2" cx="341.2" cy="276.5"/><circle r="5.2" cx="400.3" cy="256.4"/><circle r="5.2" cx="358.6" cy="297.2"/><circle r="5.2" cx="388.5" cy="302.7"/><circle r="5.2" cx="350.2" cy="306.3"/><circle r="5.2" cx="341.3" cy="312.2"/><circle r="5.2" cx="385.1" cy="295"/><circle r="5.2" cx="349.6" cy="251"/><circle r="5.2" cx="404.5" cy="268"/><circle r="5.2" cx="370.1" cy="286.3"/><circle r="5.2" cx="339.5" cy="259.5"/><circle r="5.2" cx="358.2" cy="265.5"/><circle r="5.2" cx="344.2" cy="281.7"/><circle r="5.2" cx="361.3" cy="302.5"/><circle r="5.2" cx="368.4" cy="249.2"/><circle r="5.2" cx="337.7" cy="273.9"/><circle r="5.2" cx="402.5" cy="263.4"/><circle r="5.2" cx="359.2" cy="283.4"/><circle r="5.2" cx="345.3" cy="245.5"/><circle r="5.2" cx="400.8" cy="281"/><circle r="5.2" cx="344.8" cy="262.3"/><circle r="5.2" cx="356.8" cy="258.4"/><circle r="5.2" cx="359" cy="291.8"/><circle r="5.2" cx="343.2" cy="291.4"/><circle r="5.2" cx="376.6" cy="277.6"/><circle r="5.2" cx="334.4" cy="262"/><circle r="5.2" cx="342.3" cy="268.2"/><circle r="5.2" cx="377.8" cy="304.2"/><circle r="5.2" cx="368" cy="263.3"/><circle r="5.2" cx="341.4" cy="262.3"/><circle r="5.2" cx="410.6" cy="279.4"/><circle r="5.2" cx="383.2" cy="303.8"/><circle r="5.2" cx="336.5" cy="252.2"/><circle r="5.2" cx="345.1" cy="255.9"/><circle r="5.2" cx="367.3" cy="305.5"/><circle r="5.2" cx="336.7" cy="266.5"/><circle r="5.2" cx="384.3" cy="286.6"/><circle r="5.2" cx="370.5" cy="252.2"/><circle r="5.2" cx="379.8" cy="299.4"/><circle r="5.2" cx="363.8" cy="246.8"/><circle r="5.2" cx="378.3" cy="293.1"/><circle r="5.2" cx="366.7" cy="305.4"/><circle r="5.2" cx="376.9" cy="285.2"/><circle r="5.2" cx="375.4" cy="233.6"/><circle r="5.2" cx="352.1" cy="271.1"/><circle r="5.2" cx="333.9" cy="304"/><circle r="5.2" cx="335.9" cy="298.6"/><circle r="5.2" cx="372.1" cy="280.2"/><circle r="5.2" cx="350" cy="278.7"/><circle r="5.2" cx="390.5" cy="305.2"/><circle r="5.2" cx="367.9" cy="259.3"/><circle r="5.2" cx="391.9" cy="255.1"/><circle r="5.2" cx="385.8" cy="289.7"/><circle r="5.2" cx="394.1" cy="254.4"/><circle r="5.2" cx="357.2" cy="242.5"/><circle r="5.2" cx="397.2" cy="276.4"/><circle r="5.2" cx="402.6" cy="269.6"/><circle r="5.2" cx="370.5" cy="302.2"/><circle r="5.2" cx="346.3" cy="289.1"/><circle r="5.2" cx="350.3" cy="268.7"/><circle r="5.2" cx="403.8" cy="276.5"/><circle r="5.2" cx="333.1" cy="269.2"/><circle r="5.2" cx="379.7" cy="249.3"/><circle r="5.2" cx="353" cy="300.9"/><circle r="5.2" cx="354.6" cy="286"/><circle r="5.2" cx="390.2" cy="253.3"/><circle r="5.2" cx="379.4" cy="299.2"/><circle r="5.2" cx="367.5" cy="260.6"/><circle r="5.2" cx="332.8" cy="300.2"/><circle r="5.2" cx="360.3" cy="276.6"/><circle r="5.2" cx="403.8" cy="277.4"/><circle r="5.2" cx="346.7" cy="301.6"/><circle r="5.2" cx="352.7" cy="250.7"/><circle r="5.2" cx="371.8" cy="261.7"/><circle r="5.2" cx="351.7" cy="256.9"/><circle r="5.2" cx="334.4" cy="311"/><circle r="5.2" cx="371.1" cy="244.3"/><circle r="5.2" cx="380.1" cy="272.8"/><circle r="5.2" cx="347.3" cy="267.7"/><circle r="5.2" cx="369.4" cy="253.5"/><circle r="5.2" cx="380.6" cy="246.6"/><circle r="5.2" cx="356.9" cy="305.1"/><circle r="5.2" cx="338.6" cy="265.4"/><circle r="5.2" cx="356.6" cy="252.8"/><circle r="5.2" cx="396.7" cy="283.4"/><circle r="5.2" cx="346" cy="256.8"/><circle r="5.2" cx="365.9" cy="266.9"/><circle r="5.2" cx="368.7" cy="308.8"/><circle r="5.2" cx="343.4" cy="277.5"/><circle r="5.2" cx="404.6" cy="262.8"/><circle r="5.2" cx="352.8" cy="261.7"/><circle r="5.2" cx="343.3" cy="304.5"/><circle r="5.2" cx="331.4" cy="303.8"/><circle r="5.2" cx="360.2" cy="268.2"/><circle r="5.2" cx="362.6" cy="298.3"/><circle r="5.2" cx="343.2" cy="261.1"/><circle r="5.2" cx="383" cy="277.7"/><circle r="5.2" cx="357.1" cy="258.9"/><circle r="5.2" cx="343.9" cy="300.3"/><circle r="5.2" cx="363.4" cy="284.2"/><circle r="5.2" cx="385.1" cy="255.3"/><circle r="5.2" cx="403.1" cy="292.2"/><circle r="5.2" cx="357.6" cy="252.1"/><circle r="5.2" cx="333.6" cy="261"/><circle r="5.2" cx="360.9" cy="310.1"/><circle r="5.2" cx="347.5" cy="292.6"/><circle r="5.2" cx="368.6" cy="296.3"/><circle r="5.2" cx="358.6" cy="246.2"/><circle r="5.2" cx="372.7" cy="275.2"/><circle r="5.2" cx="337.7" cy="286.3"/><circle r="5.2" cx="335.3" cy="305.2"/><circle r="5.2" cx="385.1" cy="284.4"/><circle r="5.2" cx="340.9" cy="284.7"/><circle r="5.2" cx="371.2" cy="268.9"/><circle r="5.2" cx="349" cy="288.7"/><circle r="5.2" cx="385.3" cy="258.4"/><circle r="5.2" cx="367.5" cy="298.4"/><circle r="5.2" cx="348.4" cy="243.8"/><circle r="5.2" cx="374.9" cy="273.3"/><circle r="5.2" cx="380.8" cy="235.8"/><circle r="5.2" cx="382.8" cy="300.1"/><circle r="5.2" cx="366.5" cy="251.4"/><circle r="5.2" cx="335.7" cy="266.8"/><circle r="5.2" cx="373" cy="254.5"/><circle r="5.2" cx="355.8" cy="311.1"/><circle r="5.2" cx="386.2" cy="292.5"/><circle r="5.2" cx="387.5" cy="292"/><circle r="5.2" cx="405.1" cy="282"/><circle r="5.2" cx="337" cy="254"/><circle r="5.2" cx="358.2" cy="281.7"/><circle r="5.2" cx="404" cy="256.8"/><circle r="5.2" cx="379.8" cy="303.5"/><circle r="5.2" cx="397.4" cy="262.8"/><circle r="5.2" cx="408" cy="270.3"/><circle r="5.2" cx="337.2" cy="307.8"/><circle r="5.2" cx="338" cy="292"/><circle r="5.2" cx="369.8" cy="301.8"/><circle r="5.2" cx="369.3" cy="338.5"/><circle r="5.2" cx="390.5" cy="320.6"/><circle r="5.2" cx="352.6" cy="318.9"/><circle r="5.2" cx="388.4" cy="304.5"/><circle r="5.2" cx="373.1" cy="321.6"/><circle r="5.2" cx="383" cy="320.3"/><circle r="5.2" cx="360.4" cy="311.2"/><circle r="5.2" cx="359.8" cy="326.5"/><circle r="5.2" cx="380.7" cy="307.9"/><circle r="5.2" cx="355.3" cy="332.9"/><circle r="5.2" cx="369.4" cy="311.5"/><circle r="5.2" cx="362.9" cy="333.4"/><circle r="5.2" cx="366.1" cy="303.4"/><circle r="5.2" cx="388.4" cy="311.7"/><circle r="5.2" cx="376.8" cy="317.9"/><circle r="5.2" cx="370.2" cy="333.6"/><circle r="5.2" cx="380.9" cy="316.8"/><circle r="5.2" cx="378.5" cy="334.3"/><circle r="5.2" cx="353.6" cy="311.6"/><circle r="5.2" cx="358.5" cy="303.2"/><circle r="5.2" cx="384" cy="330.4"/><circle r="5.2" cx="371.7" cy="328.2"/><circle r="5.2" cx="348.8" cy="306.9"/><circle r="5.2" cx="385.8" cy="320"/><circle r="5.2" cx="366.4" cy="310.2"/><circle r="5.2" cx="361" cy="338.3"/></g><g fill="#FF9E4A" stroke="#FF9E4A"><circle r="5.2" cx="418.1" cy="288"/><circle r="5.2" cx="401.5" cy="293"/><circle r="5.2" cx="410.9" cy="278"/></g><g fill="#FF9E4A" stroke="#FF9E4A" class="f"><circle r="5.2" cx="217.2" cy="364.4"/><circle r="5.2" cx="207.2" cy="332.8"/><circle r="5.2" cx="223.2" cy="350"/><circle r="5.2" cx="204.9" cy="386"/><circle r="5.2" cx="220.3" cy="376.7"/><circle r="5.2" cx="205.6" cy="353.7"/><circle r="5.2" cx="213.5" cy="343.4"/><circle r="5.2" cx="211.9" cy="373.8"/><circle r="5.2" cx="221" cy="356"/><circle r="5.2" cx="209.1" cy="357.9"/><circle r="5.2" cx="207" cy="346.9"/><circle r="5.2" cx="222.6" cy="370.8"/><circle r="5.2" cx="209.6" cy="367.1"/><circle r="5.2" cx="207.7" cy="380.7"/><circle r="5.2" cx="214.5" cy="332.7"/><circle r="5.2" cx="214.3" cy="383.1"/><circle r="5.2" cx="212" cy="386.8"/><circle r="5.2" cx="206.1" cy="327.1"/><circle r="5.2" cx="219.6" cy="346.5"/><circle r="5.2" cx="219.9" cy="374.1"/><circle r="5.2" cx="212.6" cy="328.1"/><circle r="5.2" cx="216.3" cy="355.9"/><circle r="5.2" cx="218.8" cy="383.3"/><circle r="5.2" cx="217.6" cy="354.4"/><circle r="5.2" cx="208.5" cy="362.9"/><circle r="5.2" cx="205.7" cy="372.5"/><circle r="5.2" cx="218.1" cy="347"/><circle r="5.2" cx="212.8" cy="348.8"/><circle r="5.2" cx="210" cy="328.8"/><circle r="5.2" cx="221.5" cy="365.8"/><circle r="5.2" cx="218.4" cy="371.1"/><circle r="5.2" cx="211.7" cy="334"/><circle r="5.2" cx="215.8" cy="376.3"/><circle r="5.2" cx="209.4" cy="384.5"/><circle r="5.2" cx="210.9" cy="351.3"/><circle r="5.2" cx="213.2" cy="332.5"/><circle r="5.2" cx="211.8" cy="361.8"/><circle r="5.2" cx="212.2" cy="339.5"/><circle r="5.2" cx="217.5" cy="338.6"/><circle r="5.2" cx="208.5" cy="382.1"/><circle r="5.2" cx="490.4" cy="364.6"/><circle r="5.2" cx="494.4" cy="360.6"/><circle r="5.2" cx="487.9" cy="358.8"/><circle r="5.2" cx="484.4" cy="362"/><circle r="5.2" cx="491.9" cy="359.1"/><circle r="5.2" cx="493.5" cy="368.2"/><circle r="5.2" cx="491.3" cy="365.7"/><circle r="5.2" cx="487.2" cy="360.9"/><circle r="5.2" cx="485.5" cy="368.2"/><circle r="5.2" cx="491.9" cy="357"/><circle r="5.2" cx="492.3" cy="364.7"/><circle r="5.2" cx="486.3" cy="359.8"/><circle r="5.2" cx="472.2" cy="392.6"/><circle r="5.2" cx="473.9" cy="382.8"/><circle r="5.2" cx="471" cy="386.7"/><circle r="5.2" cx="469.4" cy="389.6"/><circle r="5.2" cx="476.4" cy="391"/><circle r="5.2" cx="468.3" cy="389.8"/><circle r="5.2" cx="470.8" cy="392.6"/><circle r="5.2" cx="468.9" cy="386.3"/><circle r="5.2" cx="473.1" cy="393.6"/><circle r="5.2" cx="471.7" cy="386"/><circle r="5.2" cx="474.7" cy="384.4"/><circle r="5.2" cx="471.6" cy="381.9"/><circle r="5.2" cx="477.4" cy="334.6"/><circle r="5.2" cx="487.6" cy="320.8"/><circle r="5.2" cx="486.6" cy="340.4"/><circle r="5.2" cx="486.6" cy="344.8"/><circle r="5.2" cx="479.6" cy="324"/><circle r="5.2" cx="472.9" cy="339.2"/><circle r="5.2" cx="488" cy="328.3"/><circle r="5.2" cx="470" cy="333"/><circle r="5.2" cx="484.4" cy="326.3"/><circle r="5.2" cx="492.4" cy="335.7"/><circle r="5.2" cx="485.6" cy="335.3"/><circle r="5.2" cx="477.1" cy="341.5"/><circle r="5.2" cx="311.9" cy="484.4"/><circle r="5.2" cx="336.5" cy="463.5"/><circle r="5.2" cx="299.8" cy="474.4"/><circle r="5.2" cx="326" cy="469.6"/><circle r="5.2" cx="329.1" cy="481.9"/><circle r="5.2" cx="308.9" cy="475.7"/><circle r="5.2" cx="300.6" cy="483.7"/><circle r="5.2" cx="306.8" cy="478.9"/><circle r="5.2" cx="317.4" cy="473.4"/><circle r="5.2" cx="338.2" cy="471.4"/><circle r="5.2" cx="312.6" cy="477.8"/><circle r="5.2" cx="319.9" cy="481.1"/><circle r="5.2" cx="331.2" cy="471.8"/><circle r="5.2" cx="323.2" cy="474.5"/><circle r="5.2" cx="340" cy="481"/><circle r="5.2" cx="323" cy="464.9"/><circle r="5.2" cx="371" cy="483"/><circle r="5.2" cx="364.2" cy="501.6"/><circle r="5.2" cx="379.5" cy="490.8"/><circle r="5.2" cx="371.3" cy="506.3"/><circle r="5.2" cx="372" cy="498.2"/><circle r="5.2" cx="366.2" cy="474"/><circle r="5.2" cx="361.9" cy="494.5"/><circle r="5.2" cx="361.5" cy="482.2"/><circle r="5.2" cx="362.8" cy="490.7"/><circle r="5.2" cx="377.2" cy="497.8"/><circle r="5.2" cx="373.8" cy="505.2"/><circle r="5.2" cx="374.4" cy="492.8"/></g><g fill="#FF9E4A" stroke="#FF9E4A"><circle r="5.2" cx="357.7" cy="430.7"/><circle r="5.2" cx="358" cy="430.5"/><circle r="5.2" cx="266.8" cy="491"/><circle r="5.2" cx="273.5" cy="495"/><circle r="5.2" cx="273.8" cy="494.8"/><circle r="5.2" cx="255.1" cy="436.7"/></g><g fill="#67BF5C" stroke="#67BF5C" class="f"><circle r="5.2" cx="320" cy="38.3"/><circle r="5.2" cx="316" cy="41.9"/><circle r="5.2" cx="317.8" cy="40.8"/><circle r="5.2" cx="317.7" cy="39.8"/><circle r="5.2" cx="319.7" cy="40.8"/></g><g fill="#67BF5C" stroke="#67BF5C"><circle r="5.2" cx="322" cy="105.5"/><circle r="5.2" cx="318" cy="104"/><circle r="5.2" cx="320.5" cy="106"/><circle r="5.2" cx="324" cy="104"/><circle r="5.2" cx="319" cy="102.5"/><circle r="5.2" cx="335" cy="78"/><circle r="5.2" cx="334" cy="66"/></g><g fill="#67BF5C" stroke="#67BF5C" class="f"><circle r="5.2" cx="385.7" cy="165.4"/><circle r="5.2" cx="370" cy="164.6"/><circle r="5.2" cx="379.4" cy="147.6"/><circle r="5.2" cx="381.5" cy="133.1"/><circle r="5.2" cx="377.7" cy="155.5"/><circle r="5.2" cx="374.2" cy="175.5"/><circle r="5.2" cx="379.8" cy="173.2"/><circle r="5.2" cx="382.7" cy="138.6"/><circle r="5.2" cx="376.5" cy="162.2"/><circle r="5.2" cx="392.2" cy="156"/><circle r="5.2" cx="419.6" cy="185.4"/><circle r="5.2" cx="414.8" cy="175.7"/><circle r="5.2" cx="415.4" cy="197.4"/><circle r="5.2" cx="402.3" cy="170.2"/><circle r="5.2" cx="410.6" cy="183.3"/><circle r="5.2" cx="415.2" cy="180.6"/><circle r="5.2" cx="413.1" cy="190.9"/><circle r="5.2" cx="420.6" cy="180.8"/><circle r="5.2" cx="405.4" cy="178.3"/><circle r="5.2" cx="414.1" cy="173.5"/><circle r="5.2" cx="417.6" cy="189.2"/><circle r="5.2" cx="419.2" cy="174.3"/><circle r="5.2" cx="412.6" cy="179.6"/><circle r="5.2" cx="411.1" cy="178.9"/><circle r="5.2" cx="433.9" cy="180.4"/><circle r="5.2" cx="430.8" cy="194.8"/><circle r="5.2" cx="428.6" cy="200.3"/><circle r="5.2" cx="441.7" cy="202.5"/><circle r="5.2" cx="442.4" cy="177.8"/><circle r="5.2" cx="443.7" cy="187.8"/></g><g fill="#67BF5C" stroke="#67BF5C"><circle r="5.2" cx="369.2" cy="173"/><circle r="5.2" cx="374" cy="176"/><circle r="5.2" cx="359.5" cy="181"/><circle r="5.2" cx="379.4" cy="178"/><circle r="5.2" cx="373.1" cy="146"/></g><g fill="#67BF5C" stroke="#67BF5C" class="f"><circle r="5.2" cx="437.8" cy="226.1"/><circle r="5.2" cx="434.7" cy="214.9"/><circle r="5.2" cx="436.3" cy="237.6"/><circle r="5.2" cx="430.7" cy="230.3"/><circle r="5.2" cx="435.8" cy="244.9"/><circle r="5.2" cx="431.4" cy="217"/><circle r="5.2" cx="442.6" cy="235.1"/><circle r="5.2" cx="433.3" cy="221.7"/><circle r="5.2" cx="439.9" cy="243"/><circle r="5.2" cx="434.2" cy="235"/><circle r="5.2" cx="432.2" cy="235.6"/><circle r="5.2" cx="437.1" cy="221.3"/><circle r="5.2" cx="442.9" cy="217.3"/><circle r="5.2" cx="432.6" cy="213.2"/><circle r="5.2" cx="442.3" cy="230.7"/><circle r="5.2" cx="433.7" cy="230.1"/><circle r="5.2" cx="435.1" cy="242.9"/><circle r="5.2" cx="430.6" cy="240.3"/><circle r="5.2" cx="439.2" cy="218.8"/><circle r="5.2" cx="441.1" cy="237.5"/><circle r="5.2" cx="440.1" cy="224.6"/><circle r="5.2" cx="434.8" cy="241.1"/><circle r="5.2" cx="439.4" cy="211.3"/><circle r="5.2" cx="445.6" cy="220.3"/><circle r="5.2" cx="432.2" cy="228.4"/><circle r="5.2" cx="433.2" cy="214.7"/><circle r="5.2" cx="433" cy="244.9"/><circle r="5.2" cx="428.7" cy="211.9"/><circle r="5.2" cx="129.2" cy="224.2"/><circle r="5.2" cx="138.8" cy="266"/><circle r="5.2" cx="121.2" cy="248.5"/><circle r="5.2" cx="133.9" cy="240.5"/><circle r="5.2" cx="141.7" cy="250.6"/><circle r="5.2" cx="113.2" cy="240.7"/><circle r="5.2" cx="117.5" cy="228.6"/><circle r="5.2" cx="127.7" cy="232.4"/><circle r="5.2" cx="125.2" cy="246.4"/><circle r="5.2" cx="132" cy="260.1"/><circle r="5.2" cx="125" cy="221.9"/><circle r="5.2" cx="133.8" cy="232.8"/><circle r="5.2" cx="125.8" cy="264.6"/><circle r="5.2" cx="113.6" cy="231.4"/><circle r="5.2" cx="120.8" cy="254"/><circle r="5.2" cx="114.2" cy="248.3"/><circle r="5.2" cx="140.8" cy="234.5"/><circle r="5.2" cx="139.9" cy="260"/><circle r="5.2" cx="131.6" cy="254.6"/><circle r="5.2" cx="129.9" cy="231.9"/><circle r="5.2" cx="125.3" cy="238.5"/><circle r="5.2" cx="120.6" cy="235.5"/><circle r="5.2" cx="129.3" cy="254.2"/><circle r="5.2" cx="128.9" cy="262.3"/><circle r="5.2" cx="123.6" cy="247.1"/><circle r="5.2" cx="124.4" cy="260.7"/><circle r="5.2" cx="119.8" cy="242.2"/><circle r="5.2" cx="121.7" cy="230.7"/><circle r="5.2" cx="139.1" cy="254.7"/><circle r="5.2" cx="137.5" cy="245.8"/><circle r="5.2" cx="135" cy="222.1"/><circle r="5.2" cx="129.4" cy="258"/><circle r="5.2" cx="121.6" cy="240.4"/><circle r="5.2" cx="135.8" cy="266.7"/><circle r="5.2" cx="139.9" cy="259.1"/><circle r="5.2" cx="131.9" cy="246.7"/><circle r="5.2" cx="123" cy="239.7"/><circle r="5.2" cx="124.2" cy="258.1"/><circle r="5.2" cx="135.1" cy="244.4"/><circle r="5.2" cx="304" cy="250.1"/><circle r="5.2" cx="290.2" cy="312.8"/><circle r="5.2" cx="290.2" cy="278"/><circle r="5.2" cx="288.1" cy="260.4"/><circle r="5.2" cx="315.1" cy="317.4"/><circle r="5.2" cx="316" cy="277.9"/><circle r="5.2" cx="275" cy="315.1"/><circle r="5.2" cx="327.1" cy="255.1"/><circle r="5.2" cx="302.6" cy="265.4"/><circle r="5.2" cx="265.5" cy="297.5"/><circle r="5.2" cx="280.8" cy="300.2"/><circle r="5.2" cx="322.1" cy="287.9"/><circle r="5.2" cx="304.9" cy="300.9"/><circle r="5.2" cx="273.8" cy="275.1"/><circle r="5.2" cx="325.3" cy="240.4"/><circle r="5.2" cx="325" cy="304.4"/><circle r="5.2" cx="326.5" cy="266.9"/><circle r="5.2" cx="297.7" cy="298.6"/><circle r="5.2" cx="284.2" cy="290.3"/><circle r="5.2" cx="291.5" cy="242.6"/><circle r="5.2" cx="261" cy="302.9"/><circle r="5.2" cx="293.5" cy="264.8"/><circle r="5.2" cx="267.2" cy="304.6"/><circle r="5.2" cx="318.5" cy="273.5"/><circle r="5.2" cx="286.7" cy="328.5"/><circle r="5.2" cx="301.4" cy="324.6"/><circle r="5.2" cx="315.8" cy="305.7"/><circle r="5.2" cx="261.9" cy="282.1"/><circle r="5.2" cx="275.4" cy="324.5"/><circle r="5.2" cx="312.9" cy="257.2"/><circle r="5.2" cx="317.9" cy="252.9"/><circle r="5.2" cx="327.2" cy="279.5"/><circle r="5.2" cx="302.8" cy="243.7"/><circle r="5.2" cx="317.6" cy="288.7"/><circle r="5.2" cx="304.6" cy="283.9"/><circle r="5.2" cx="303.8" cy="311.5"/><circle r="5.2" cx="287.2" cy="301.9"/><circle r="5.2" cx="279.5" cy="269.6"/><circle r="5.2" cx="282.7" cy="280.9"/><circle r="5.2" cx="308.9" cy="268.3"/><circle r="5.2" cx="284.8" cy="308.5"/><circle r="5.2" cx="268.5" cy="284.9"/><circle r="5.2" cx="288.3" cy="322.5"/><circle r="5.2" cx="274.3" cy="282.4"/><circle r="5.2" cx="281.1" cy="251.9"/><circle r="5.2" cx="283.4" cy="302.8"/><circle r="5.2" cx="323.4" cy="315.7"/><circle r="5.2" cx="285.2" cy="266.5"/><circle r="5.2" cx="292.7" cy="257.1"/><circle r="5.2" cx="295.1" cy="271.4"/><circle r="5.2" cx="264.6" cy="311"/><circle r="5.2" cx="326.5" cy="311.2"/><circle r="5.2" cx="276.7" cy="311.3"/><circle r="5.2" cx="275.8" cy="294.1"/><circle r="5.2" cx="269.5" cy="319.4"/><circle r="5.2" cx="306.8" cy="308.7"/><circle r="5.2" cx="298.1" cy="275"/><circle r="5.2" cx="290.4" cy="287.4"/><circle r="5.2" cx="318.4" cy="240.8"/><circle r="5.2" cx="302.1" cy="307.3"/><circle r="5.2" cx="298.6" cy="302.5"/><circle r="5.2" cx="304.3" cy="258.8"/><circle r="5.2" cx="312.3" cy="242.3"/><circle r="5.2" cx="330.3" cy="260.6"/><circle r="5.2" cx="295.9" cy="251.2"/><circle r="5.2" cx="326.4" cy="259.7"/><circle r="5.2" cx="322.1" cy="247.7"/><circle r="5.2" cx="266.6" cy="275.6"/><circle r="5.2" cx="268.6" cy="310.1"/><circle r="5.2" cx="269.6" cy="298.7"/><circle r="5.2" cx="314.8" cy="299.1"/><circle r="5.2" cx="294.6" cy="307.3"/><circle r="5.2" cx="308.7" cy="272"/><circle r="5.2" cx="274.7" cy="289.3"/><circle r="5.2" cx="301.8" cy="318.1"/><circle r="5.2" cx="297.7" cy="290.1"/><circle r="5.2" cx="286.3" cy="248.8"/><circle r="5.2" cx="281.2" cy="307.5"/><circle r="5.2" cx="317.9" cy="295"/><circle r="5.2" cx="278.1" cy="314.8"/><circle r="5.2" cx="316.9" cy="276.5"/><circle r="5.2" cx="305.8" cy="317.1"/><circle r="5.2" cx="320.3" cy="280.7"/><circle r="5.2" cx="272" cy="272.2"/><circle r="5.2" cx="293.3" cy="322.9"/><circle r="5.2" cx="312.1" cy="309.8"/><circle r="5.2" cx="330.1" cy="283.7"/><circle r="5.2" cx="298.7" cy="259.2"/><circle r="5.2" cx="300.2" cy="291.2"/><circle r="5.2" cx="273.5" cy="304.1"/><circle r="5.2" cx="326.9" cy="301.5"/><circle r="5.2" cx="298.4" cy="240.8"/><circle r="5.2" cx="260.3" cy="297.7"/><circle r="5.2" cx="271.8" cy="279"/><circle r="5.2" cx="318.5" cy="244.6"/><circle r="5.2" cx="320.5" cy="253.4"/><circle r="5.2" cx="266.6" cy="289.7"/><circle r="5.2" cx="309.4" cy="254.5"/><circle r="5.2" cx="299.6" cy="296.2"/><circle r="5.2" cx="274.2" cy="278"/><circle r="5.2" cx="262.3" cy="275.3"/><circle r="5.2" cx="255.7" cy="278.3"/><circle r="5.2" cx="304.9" cy="291.3"/><circle r="5.2" cx="258.9" cy="308.6"/><circle r="5.2" cx="282.7" cy="285"/><circle r="5.2" cx="316.1" cy="300.5"/><circle r="5.2" cx="326.3" cy="246.2"/><circle r="5.2" cx="275.1" cy="329.7"/><circle r="5.2" cx="296" cy="284.2"/><circle r="5.2" cx="316.5" cy="257.7"/><circle r="5.2" cx="284.7" cy="293.8"/><circle r="5.2" cx="325.1" cy="312.2"/><circle r="5.2" cx="309.9" cy="319.4"/><circle r="5.2" cx="323.5" cy="268.1"/><circle r="5.2" cx="278.1" cy="261.1"/><circle r="5.2" cx="292.1" cy="302.4"/><circle r="5.2" cx="321.6" cy="323.3"/><circle r="5.2" cx="319.7" cy="312.8"/><circle r="5.2" cx="282.4" cy="262.5"/><circle r="5.2" cx="318" cy="289.7"/><circle r="5.2" cx="306.9" cy="295.4"/><circle r="5.2" cx="272.3" cy="319.4"/><circle r="5.2" cx="314.7" cy="282.9"/><circle r="5.2" cx="309.6" cy="247.7"/><circle r="5.2" cx="310.6" cy="302.1"/><circle r="5.2" cx="295.4" cy="274.6"/><circle r="5.2" cx="284.8" cy="255.9"/><circle r="5.2" cx="288.1" cy="295.7"/><circle r="5.2" cx="306.3" cy="255.1"/><circle r="5.2" cx="274.1" cy="269.5"/><circle r="5.2" cx="284.8" cy="315"/><circle r="5.2" cx="283" cy="312.1"/><circle r="5.2" cx="294.4" cy="319.4"/><circle r="5.2" cx="282.6" cy="307.9"/><circle r="5.2" cx="325" cy="256.7"/><circle r="5.2" cx="312.1" cy="276.4"/><circle r="5.2" cx="329" cy="270"/><circle r="5.2" cx="261.9" cy="316.3"/><circle r="5.2" cx="310.3" cy="289.7"/><circle r="5.2" cx="263.8" cy="292.5"/><circle r="5.2" cx="327.7" cy="248.8"/><circle r="5.2" cx="281.3" cy="329.5"/><circle r="5.2" cx="273.3" cy="309.8"/><circle r="5.2" cx="313.1" cy="293.8"/><circle r="5.2" cx="269.9" cy="286"/><circle r="5.2" cx="265.7" cy="300"/><circle r="5.2" cx="321.7" cy="302.4"/><circle r="5.2" cx="300.7" cy="262.3"/><circle r="5.2" cx="298.4" cy="313.6"/><circle r="5.2" cx="314.3" cy="261.9"/><circle r="5.2" cx="282.1" cy="274"/><circle r="5.2" cx="306.7" cy="244.2"/><circle r="5.2" cx="314.1" cy="250.4"/><circle r="5.2" cx="309.4" cy="316"/><circle r="5.2" cx="287.2" cy="285.2"/><circle r="5.2" cx="275.6" cy="279.9"/><circle r="5.2" cx="324.5" cy="276.7"/><circle r="5.2" cx="278.6" cy="286.5"/><circle r="5.2" cx="292.5" cy="244.7"/><circle r="5.2" cx="270.7" cy="313.8"/><circle r="5.2" cx="313.8" cy="265.1"/><circle r="5.2" cx="319" cy="285"/><circle r="5.2" cx="314.5" cy="287.9"/><circle r="5.2" cx="274.8" cy="271.6"/><circle r="5.2" cx="314.5" cy="271.2"/><circle r="5.2" cx="323.9" cy="252.2"/><circle r="5.2" cx="323.9" cy="286.5"/><circle r="5.2" cx="325" cy="240.2"/><circle r="5.2" cx="316.6" cy="297.8"/><circle r="5.2" cx="303.6" cy="265.5"/><circle r="5.2" cx="275.1" cy="299.2"/><circle r="5.2" cx="276.8" cy="264.4"/><circle r="5.2" cx="317" cy="309.9"/><circle r="5.2" cx="292.6" cy="294.1"/><circle r="5.2" cx="279.4" cy="298.2"/><circle r="5.2" cx="310.7" cy="283.2"/><circle r="5.2" cx="289.9" cy="248.7"/><circle r="5.2" cx="267.6" cy="287.8"/><circle r="5.2" cx="318.6" cy="263.8"/><circle r="5.2" cx="306.4" cy="316.6"/><circle r="5.2" cx="325.7" cy="251.2"/><circle r="5.2" cx="297.3" cy="274"/><circle r="5.2" cx="309.9" cy="263.4"/><circle r="5.2" cx="322.4" cy="297.2"/><circle r="5.2" cx="290.3" cy="302.9"/><circle r="5.2" cx="326.3" cy="290.6"/><circle r="5.2" cx="299.4" cy="275.7"/><circle r="5.2" cx="286.3" cy="304.1"/><circle r="5.2" cx="306" cy="312.2"/><circle r="5.2" cx="282.8" cy="266.1"/><circle r="5.2" cx="302.8" cy="252.8"/><circle r="5.2" cx="329.8" cy="282.5"/><circle r="5.2" cx="271.1" cy="291.3"/><circle r="5.2" cx="294.9" cy="271.5"/><circle r="5.2" cx="269.1" cy="282.2"/><circle r="5.2" cx="301.7" cy="268.5"/><circle r="5.2" cx="307.3" cy="301.4"/><circle r="5.2" cx="295.7" cy="320.3"/><circle r="5.2" cx="299.6" cy="317.3"/><circle r="5.2" cx="292" cy="309.3"/><circle r="5.2" cx="295.6" cy="276"/><circle r="5.2" cx="299.3" cy="246.9"/><circle r="5.2" cx="297.8" cy="310.1"/><circle r="5.2" cx="296.5" cy="280.1"/><circle r="5.2" cx="303.4" cy="299.4"/><circle r="5.2" cx="310" cy="259"/><circle r="5.2" cx="278.7" cy="255.8"/><circle r="5.2" cx="286.8" cy="257.5"/><circle r="5.2" cx="284.1" cy="325"/><circle r="5.2" cx="301.2" cy="283.8"/><circle r="5.2" cx="290.2" cy="289.5"/><circle r="5.2" cx="300.7" cy="253.3"/><circle r="5.2" cx="309.1" cy="289.2"/><circle r="5.2" cx="271.2" cy="281"/><circle r="5.2" cx="323.8" cy="296.3"/><circle r="5.2" cx="290.5" cy="267.2"/><circle r="5.2" cx="281.6" cy="292.7"/><circle r="5.2" cx="265.7" cy="317.4"/><circle r="5.2" cx="333.1" cy="274.4"/><circle r="5.2" cx="318.5" cy="315.2"/><circle r="5.2" cx="289" cy="304.1"/><circle r="5.2" cx="320.1" cy="295.1"/><circle r="5.2" cx="290.9" cy="319.5"/><circle r="5.2" cx="315.1" cy="291.8"/><circle r="5.2" cx="287.8" cy="263.3"/><circle r="5.2" cx="320.7" cy="305.1"/><circle r="5.2" cx="303" cy="279.9"/><circle r="5.2" cx="297.2" cy="287.2"/><circle r="5.2" cx="293.1" cy="282"/><circle r="5.2" cx="282.2" cy="298.5"/><circle r="5.2" cx="324" cy="265.7"/><circle r="5.2" cx="264.4" cy="279.8"/><circle r="5.2" cx="323.5" cy="270.3"/><circle r="5.2" cx="304.4" cy="276.9"/><circle r="5.2" cx="308.6" cy="284.2"/><circle r="5.2" cx="326.8" cy="257.5"/><circle r="5.2" cx="291.1" cy="271.2"/><circle r="5.2" cx="283.5" cy="317.8"/><circle r="5.2" cx="269.6" cy="317.8"/><circle r="5.2" cx="316.8" cy="304.1"/><circle r="5.2" cx="303.8" cy="285.9"/><circle r="5.2" cx="291.9" cy="260.6"/><circle r="5.2" cx="330.5" cy="284.5"/><circle r="5.2" cx="275.5" cy="321.8"/><circle r="5.2" cx="316.5" cy="269"/><circle r="5.2" cx="287.9" cy="314.5"/><circle r="5.2" cx="267.6" cy="309.6"/><circle r="5.2" cx="294.6" cy="288.5"/><circle r="5.2" cx="284.2" cy="251.8"/><circle r="5.2" cx="288.3" cy="271.2"/><circle r="5.2" cx="291.5" cy="251.2"/><circle r="5.2" cx="294.9" cy="246.2"/><circle r="5.2" cx="277.9" cy="287.3"/><circle r="5.2" cx="331.1" cy="269.8"/><circle r="5.2" cx="290.7" cy="290.5"/><circle r="5.2" cx="288.8" cy="276.2"/><circle r="5.2" cx="323.3" cy="268.5"/><circle r="5.2" cx="250.2" cy="277.4"/><circle r="5.2" cx="276.3" cy="265.6"/><circle r="5.2" cx="298" cy="260.4"/><circle r="5.2" cx="320.9" cy="242.9"/><circle r="5.2" cx="304.5" cy="297.1"/><circle r="5.2" cx="305.2" cy="308.1"/><circle r="5.2" cx="281.8" cy="278.2"/><circle r="5.2" cx="265.1" cy="289"/><circle r="5.2" cx="283.9" cy="287.2"/><circle r="5.2" cx="327.7" cy="257.3"/><circle r="5.2" cx="275.4" cy="291"/><circle r="5.2" cx="273.7" cy="291.7"/><circle r="5.2" cx="299.4" cy="244.5"/><circle r="5.2" cx="278" cy="274.1"/><circle r="5.2" cx="324.9" cy="282.7"/><circle r="5.2" cx="283.6" cy="293.5"/><circle r="5.2" cx="321.5" cy="310.2"/><circle r="5.2" cx="272" cy="304.3"/><circle r="5.2" cx="327.3" cy="273.6"/><circle r="5.2" cx="295.9" cy="252.6"/><circle r="5.2" cx="307.7" cy="289.1"/><circle r="5.2" cx="317.7" cy="314.6"/><circle r="5.2" cx="318.4" cy="306.1"/><circle r="5.2" cx="317.5" cy="280.6"/><circle r="5.2" cx="323.9" cy="244.4"/><circle r="5.2" cx="279.8" cy="322.3"/><circle r="5.2" cx="281.4" cy="315.1"/><circle r="5.2" cx="294.6" cy="300"/><circle r="5.2" cx="293.6" cy="297.7"/><circle r="5.2" cx="312.8" cy="275"/><circle r="5.2" cx="299.6" cy="293.8"/><circle r="5.2" cx="280.8" cy="319.4"/><circle r="5.2" cx="328" cy="298.1"/><circle r="5.2" cx="261" cy="292.7"/><circle r="5.2" cx="276.7" cy="316.4"/><circle r="5.2" cx="317.7" cy="276.1"/><circle r="5.2" cx="281.5" cy="257.3"/><circle r="5.2" cx="302" cy="274.4"/><circle r="5.2" cx="272.5" cy="263.7"/><circle r="5.2" cx="278.2" cy="263.1"/><circle r="5.2" cx="295" cy="325.7"/><circle r="5.2" cx="315.5" cy="239.5"/><circle r="5.2" cx="302.9" cy="268.7"/><circle r="5.2" cx="280.5" cy="259.4"/><circle r="5.2" cx="310.9" cy="251"/><circle r="5.2" cx="293.6" cy="308"/><circle r="5.2" cx="288.7" cy="326"/><circle r="5.2" cx="289.2" cy="326.4"/><circle r="5.2" cx="270.9" cy="316"/><circle r="5.2" cx="285.5" cy="289.6"/><circle r="5.2" cx="310.9" cy="262"/><circle r="5.2" cx="323.4" cy="295.1"/><circle r="5.2" cx="327.2" cy="246.2"/><circle r="5.2" cx="280.7" cy="277.5"/><circle r="5.2" cx="302.3" cy="279.6"/><circle r="5.2" cx="306.9" cy="304.6"/><circle r="5.2" cx="324.5" cy="274.1"/><circle r="5.2" cx="269.1" cy="295.3"/><circle r="5.2" cx="310.9" cy="269.7"/><circle r="5.2" cx="310.1" cy="295.8"/><circle r="5.2" cx="312.6" cy="312.5"/><circle r="5.2" cx="276.1" cy="307.1"/><circle r="5.2" cx="322.9" cy="282.9"/><circle r="5.2" cx="288.5" cy="290.9"/><circle r="5.2" cx="314.5" cy="285.5"/><circle r="5.2" cx="321.5" cy="259.5"/><circle r="5.2" cx="299.4" cy="337.2"/><circle r="5.2" cx="309.9" cy="333"/><circle r="5.2" cx="317.2" cy="334.2"/><circle r="5.2" cx="320.3" cy="338.6"/><circle r="5.2" cx="305.5" cy="335.1"/><circle r="5.2" cx="304.7" cy="340.3"/><circle r="5.2" cx="316.2" cy="340.7"/><circle r="5.2" cx="311.6" cy="340.9"/><circle r="5.2" cx="307.9" cy="337.9"/><circle r="5.2" cx="337" cy="233.3"/><circle r="5.2" cx="335.3" cy="215.4"/><circle r="5.2" cx="333.1" cy="224.6"/><circle r="5.2" cx="328.9" cy="231.6"/><circle r="5.2" cx="328.3" cy="226.4"/><circle r="5.2" cx="341" cy="221.8"/><circle r="5.2" cx="330.6" cy="217.2"/><circle r="5.2" cx="330.9" cy="232.7"/><circle r="5.2" cx="338.7" cy="226.8"/><circle r="5.2" cx="334.3" cy="230.4"/><circle r="5.2" cx="326.4" cy="221.1"/><circle r="5.2" cx="332.6" cy="216.9"/><circle r="5.2" cx="335.1" cy="216.2"/><circle r="5.2" cx="340.7" cy="220.9"/><circle r="5.2" cx="378" cy="318.3"/><circle r="5.2" cx="393.1" cy="318.5"/><circle r="5.2" cx="389.1" cy="322.1"/><circle r="5.2" cx="384.9" cy="319.6"/><circle r="5.2" cx="383.2" cy="319.6"/><circle r="5.2" cx="335.9" cy="278.7"/><circle r="5.2" cx="332.8" cy="313.1"/><circle r="5.2" cx="334.1" cy="259.3"/><circle r="5.2" cx="339" cy="290.7"/><circle r="5.2" cx="339.5" cy="270.4"/><circle r="5.2" cx="336" cy="265.6"/><circle r="5.2" cx="333.7" cy="249.2"/><circle r="5.2" cx="334.3" cy="283.2"/><circle r="5.2" cx="334.8" cy="296.9"/><circle r="5.2" cx="334.9" cy="320.2"/><circle r="5.2" cx="334.7" cy="273.4"/><circle r="5.2" cx="337.1" cy="254.8"/><circle r="5.2" cx="337.5" cy="289.3"/><circle r="5.2" cx="335.3" cy="267.4"/><circle r="5.2" cx="337.4" cy="300.5"/><circle r="5.2" cx="354.3" cy="308.9"/><circle r="5.2" cx="352" cy="334.9"/><circle r="5.2" cx="361.7" cy="318.8"/><circle r="5.2" cx="349.8" cy="326.3"/><circle r="5.2" cx="348.5" cy="315.9"/><circle r="5.2" cx="357.4" cy="329.2"/><circle r="5.2" cx="356" cy="324.1"/></g><g fill="#67BF5C" stroke="#67BF5C"><circle r="5.2" cx="349.6" cy="357"/><circle r="5.2" cx="346.9" cy="359"/><circle r="5.2" cx="342.4" cy="354"/></g><g fill="#67BF5C" stroke="#67BF5C" class="f"><circle r="5.2" cx="206.7" cy="369.3"/><circle r="5.2" cx="207.9" cy="331.7"/><circle r="5.2" cx="202.6" cy="349.1"/><circle r="5.2" cx="222.2" cy="364.9"/><circle r="5.2" cx="221.4" cy="376.5"/><circle r="5.2" cx="205.3" cy="314.2"/><circle r="5.2" cx="212.1" cy="344.3"/><circle r="5.2" cx="202.7" cy="339.8"/><circle r="5.2" cx="213.7" cy="364.7"/><circle r="5.2" cx="222.8" cy="358.7"/><circle r="5.2" cx="200.8" cy="353.4"/><circle r="5.2" cx="200.3" cy="376.6"/><circle r="5.2" cx="212.2" cy="347.9"/><circle r="5.2" cx="204.9" cy="361"/><circle r="5.2" cx="208.1" cy="379.5"/><circle r="5.2" cx="210.8" cy="323.3"/><circle r="5.2" cx="220.1" cy="350.1"/><circle r="5.2" cx="215.3" cy="356.4"/><circle r="5.2" cx="214.1" cy="371.8"/><circle r="5.2" cx="216.3" cy="330"/><circle r="5.2" cx="208.5" cy="334.2"/><circle r="5.2" cx="202.8" cy="368.8"/><circle r="5.2" cx="217.6" cy="341.1"/><circle r="5.2" cx="207.4" cy="351"/><circle r="5.2" cx="205.2" cy="345.4"/><circle r="5.2" cx="208.7" cy="327.4"/><circle r="5.2" cx="212" cy="357.9"/><circle r="5.2" cx="217" cy="378.8"/><circle r="5.2" cx="214.8" cy="354.3"/><circle r="5.2" cx="202.6" cy="321.8"/><circle r="5.2" cx="217.4" cy="334.9"/><circle r="5.2" cx="205.5" cy="324.3"/><circle r="5.2" cx="215.5" cy="350.6"/><circle r="5.2" cx="218.6" cy="357.2"/><circle r="5.2" cx="213.7" cy="392.2"/><circle r="5.2" cx="212.6" cy="391.8"/><circle r="5.2" cx="212.9" cy="393"/><circle r="5.2" cx="208" cy="391.4"/><circle r="5.2" cx="211.7" cy="386.9"/><circle r="5.2" cx="466.6" cy="387.5"/><circle r="5.2" cx="473.1" cy="391.9"/><circle r="5.2" cx="470.6" cy="380.4"/><circle r="5.2" cx="472.2" cy="384.3"/><circle r="5.2" cx="468.4" cy="393.7"/><circle r="5.2" cx="471.1" cy="399.1"/><circle r="5.2" cx="470.4" cy="387.2"/><circle r="5.2" cx="437.4" cy="408.3"/><circle r="5.2" cx="428" cy="403"/><circle r="5.2" cx="420.1" cy="404.6"/><circle r="5.2" cx="436.7" cy="403.9"/><circle r="5.2" cx="447.7" cy="404.6"/><circle r="5.2" cx="427.1" cy="415.9"/><circle r="5.2" cx="431.7" cy="408.7"/><circle r="5.2" cx="421.2" cy="414.5"/><circle r="5.2" cx="425.7" cy="411.1"/><circle r="5.2" cx="444.5" cy="408.3"/><circle r="5.2" cx="435.7" cy="414.8"/><circle r="5.2" cx="441.9" cy="409.4"/><circle r="5.2" cx="445.2" cy="405.4"/><circle r="5.2" cx="431" cy="409.5"/><circle r="5.2" cx="422.2" cy="405.3"/><circle r="5.2" cx="422" cy="410.5"/><circle r="5.2" cx="428.2" cy="416.6"/><circle r="5.2" cx="443.2" cy="412.7"/><circle r="5.2" cx="437.1" cy="405.7"/><circle r="5.2" cx="440.8" cy="404.2"/><circle r="5.2" cx="419.6" cy="371.4"/><circle r="5.2" cx="439.5" cy="406.1"/><circle r="5.2" cx="458.4" cy="373.8"/><circle r="5.2" cx="437.1" cy="352.9"/><circle r="5.2" cx="414" cy="401.7"/><circle r="5.2" cx="464.8" cy="351"/><circle r="5.2" cx="424.9" cy="389.4"/><circle r="5.2" cx="462" cy="398.3"/><circle r="5.2" cx="443.1" cy="374.3"/><circle r="5.2" cx="413" cy="386.9"/><circle r="5.2" cx="447.9" cy="381.7"/><circle r="5.2" cx="440.1" cy="390.9"/><circle r="5.2" cx="455.5" cy="344.3"/><circle r="5.2" cx="422.8" cy="411.4"/><circle r="5.2" cx="447.2" cy="347.8"/><circle r="5.2" cx="448.1" cy="369.9"/><circle r="5.2" cx="436.5" cy="364"/><circle r="5.2" cx="419.7" cy="394.4"/><circle r="5.2" cx="457.2" cy="357.7"/><circle r="5.2" cx="459.6" cy="382.5"/><circle r="5.2" cx="421" cy="402.7"/><circle r="5.2" cx="434.3" cy="397.9"/><circle r="5.2" cx="430.6" cy="369.9"/><circle r="5.2" cx="433.7" cy="403.6"/><circle r="5.2" cx="459.2" cy="344.1"/><circle r="5.2" cx="447.7" cy="405.5"/><circle r="5.2" cx="436.4" cy="358.7"/><circle r="5.2" cx="465.3" cy="335.9"/><circle r="5.2" cx="424.2" cy="380.2"/><circle r="5.2" cx="430.8" cy="360.5"/><circle r="5.2" cx="462.1" cy="361.3"/><circle r="5.2" cx="433.8" cy="394.1"/><circle r="5.2" cx="442" cy="383.2"/><circle r="5.2" cx="448.8" cy="350.2"/><circle r="5.2" cx="441.3" cy="356.1"/><circle r="5.2" cx="436.1" cy="378.6"/><circle r="5.2" cx="448.8" cy="359"/><circle r="5.2" cx="444.5" cy="363.7"/><circle r="5.2" cx="452.1" cy="340"/><circle r="5.2" cx="446.8" cy="397.1"/><circle r="5.2" cx="451" cy="391.7"/><circle r="5.2" cx="457.7" cy="347.8"/><circle r="5.2" cx="421.5" cy="366.1"/><circle r="5.2" cx="443.7" cy="411.8"/><circle r="5.2" cx="427.4" cy="383.3"/><circle r="5.2" cx="440.8" cy="393"/><circle r="5.2" cx="436.2" cy="385.4"/><circle r="5.2" cx="459.7" cy="390.2"/><circle r="5.2" cx="451.1" cy="350"/></g><g fill="#67BF5C" stroke="#67BF5C"><circle r="5.2" cx="431.6" cy="430"/><circle r="5.2" cx="437.5" cy="434.5"/><circle r="5.2" cx="431.9" cy="430.4"/><circle r="5.2" cx="437.2" cy="434.2"/><circle r="5.2" cx="434.3" cy="432"/></g><g fill="#67BF5C" stroke="#67BF5C" class="f"><circle r="5.2" cx="480.5" cy="329.8"/><circle r="5.2" cx="475.4" cy="339.9"/><circle r="5.2" cx="492.2" cy="328.9"/><circle r="5.2" cx="473.8" cy="324.1"/><circle r="5.2" cx="484.6" cy="342.7"/><circle r="5.2" cx="484.4" cy="320.4"/><circle r="5.2" cx="491.5" cy="340"/><circle r="5.2" cx="473.4" cy="330.8"/><circle r="5.2" cx="485.8" cy="322.3"/><circle r="5.2" cx="479.1" cy="337.1"/><circle r="5.2" cx="485.5" cy="336.1"/><circle r="5.2" cx="483.4" cy="345.9"/><circle r="5.2" cx="489.1" cy="322.2"/><circle r="5.2" cx="474.8" cy="330.9"/><circle r="5.2" cx="473.4" cy="334.6"/></g><g fill="#67BF5C" stroke="#67BF5C"><circle r="5.2" cx="464.9" cy="321"/><circle r="5.2" cx="468.5" cy="325"/></g><g fill="#67BF5C" stroke="#67BF5C" class="f"><circle r="5.2" cx="328.7" cy="475.7"/><circle r="5.2" cx="338.3" cy="460"/><circle r="5.2" cx="322.1" cy="464.3"/><circle r="5.2" cx="322.7" cy="472.9"/><circle r="5.2" cx="331.2" cy="461.6"/><circle r="5.2" cx="334.1" cy="469.9"/><circle r="5.2" cx="330.5" cy="469.5"/><circle r="5.2" cx="338.4" cy="471.6"/><circle r="5.2" cx="336.6" cy="466.4"/><circle r="5.2" cx="324.9" cy="467.4"/><circle r="5.2" cx="330.3" cy="463.7"/><circle r="5.2" cx="321.5" cy="464.2"/><circle r="5.2" cx="333.6" cy="472.3"/><circle r="5.2" cx="323.7" cy="477.3"/><circle r="5.2" cx="326.6" cy="470.8"/><circle r="5.2" cx="324.8" cy="476.7"/><circle r="5.2" cx="375.7" cy="488.1"/><circle r="5.2" cx="365.4" cy="502.9"/><circle r="5.2" cx="360.5" cy="487.6"/><circle r="5.2" cx="365.9" cy="477.3"/><circle r="5.2" cx="366.7" cy="493.1"/><circle r="5.2" cx="375.5" cy="502.4"/><circle r="5.2" cx="361.9" cy="506.1"/><circle r="5.2" cx="371.6" cy="504.9"/><circle r="5.2" cx="372.6" cy="482.6"/><circle r="5.2" cx="365.9" cy="485.3"/><circle r="5.2" cx="371.8" cy="498.4"/><circle r="5.2" cx="361.2" cy="496.7"/><circle r="5.2" cx="363.4" cy="498"/><circle r="5.2" cx="375" cy="478.2"/><circle r="5.2" cx="377.2" cy="497.4"/><circle r="5.2" cx="368.2" cy="476.8"/><circle r="5.2" cx="378.5" cy="491.5"/><circle r="5.2" cx="369.1" cy="498.9"/><circle r="5.2" cx="307.2" cy="516.9"/><circle r="5.2" cx="290.9" cy="514.1"/><circle r="5.2" cx="312.3" cy="526.4"/><circle r="5.2" cx="301.9" cy="533.1"/><circle r="5.2" cx="307.7" cy="507.5"/><circle r="5.2" cx="305.7" cy="530.4"/></g><g fill="#67BF5C" stroke="#67BF5C"><circle r="5.2" cx="347.8" cy="428"/><circle r="5.2" cx="348.1" cy="428.3"/><circle r="5.2" cx="274" cy="469"/><circle r="5.2" cx="274.2" cy="468.8"/></g><g fill="#ED665D" stroke="#ED665D"><circle r="5.2" cx="172.8" cy="47"/><circle r="5.2" cx="175.5" cy="46.2"/><circle r="5.2" cx="176" cy="47.8"/><circle r="5.2" cx="178" cy="44.6"/><circle r="5.2" cx="178" cy="48.8"/><circle r="5.2" cx="180" cy="43.2"/><circle r="5.2" cx="180.5" cy="47"/><circle r="5.2" cx="180" cy="51"/><circle r="5.2" cx="181.3" cy="45"/><circle r="5.2" cx="181" cy="49.3"/><circle r="5.2" cx="177" cy="46.5"/><circle r="5.2" cx="179" cy="46.5"/><circle r="5.2" cx="174.3" cy="47.2"/><circle r="5.2" cx="179.3" cy="50"/><circle r="5.2" cx="179.5" cy="44"/></g><g fill="#ED665D" stroke="#ED665D" class="f"><circle r="5.2" cx="322.5" cy="93.9"/><circle r="5.2" cx="298.2" cy="78.6"/><circle r="5.2" cx="328.7" cy="61.4"/><circle r="5.2" cx="303.1" cy="105.1"/><circle r="5.2" cx="325.6" cy="79.1"/><circle r="5.2" cx="302.1" cy="69.4"/><circle r="5.2" cx="309.3" cy="61.5"/><circle r="5.2" cx="299.4" cy="86.7"/><circle r="5.2" cx="288.4" cy="75"/><circle r="5.2" cx="308.4" cy="86.4"/><circle r="5.2" cx="316.7" cy="54.6"/><circle r="5.2" cx="312.1" cy="103.2"/><circle r="5.2" cx="313.7" cy="84.4"/><circle r="5.2" cx="317.8" cy="62.3"/><circle r="5.2" cx="317.4" cy="73.1"/><circle r="5.2" cx="326" cy="86.1"/><circle r="5.2" cx="292.8" cy="83.6"/><circle r="5.2" cx="324.9" cy="68.3"/><circle r="5.2" cx="323.2" cy="75.9"/><circle r="5.2" cx="303.4" cy="90.5"/><circle r="5.2" cx="294.7" cy="72.9"/><circle r="5.2" cx="305.6" cy="62.2"/><circle r="5.2" cx="314.2" cy="72.1"/><circle r="5.2" cx="311" cy="88.5"/><circle r="5.2" cx="308.4" cy="76.1"/><circle r="5.2" cx="296.8" cy="85.1"/><circle r="5.2" cx="323.5" cy="58.7"/><circle r="5.2" cx="312.3" cy="76.3"/><circle r="5.2" cx="323.8" cy="95.8"/><circle r="5.2" cx="301.4" cy="94"/><circle r="5.2" cx="310.4" cy="99"/><circle r="5.2" cx="297.5" cy="82"/><circle r="5.2" cx="313.2" cy="69.8"/><circle r="5.2" cx="303.6" cy="78.9"/><circle r="5.2" cx="294.2" cy="83.8"/><circle r="5.2" cx="308.9" cy="94.5"/><circle r="5.2" cx="305.6" cy="84"/><circle r="5.2" cx="317.4" cy="88"/><circle r="5.2" cx="317.8" cy="58.8"/><circle r="5.2" cx="305.7" cy="56.3"/><circle r="5.2" cx="319.9" cy="81.2"/><circle r="5.2" cx="330.5" cy="80.3"/><circle r="5.2" cx="315.9" cy="89.8"/><circle r="5.2" cx="317.4" cy="100.6"/><circle r="5.2" cx="308.4" cy="53.7"/><circle r="5.2" cx="298.7" cy="90.5"/><circle r="5.2" cx="294" cy="75.1"/><circle r="5.2" cx="304.6" cy="100.7"/><circle r="5.2" cx="324.9" cy="76.2"/><circle r="5.2" cx="309.3" cy="68.4"/><circle r="5.2" cx="328.5" cy="58.2"/><circle r="5.2" cx="321" cy="70.9"/><circle r="5.2" cx="319.2" cy="96.1"/><circle r="5.2" cx="296" cy="92.5"/><circle r="5.2" cx="320.8" cy="65.1"/><circle r="5.2" cx="312.2" cy="79.2"/><circle r="5.2" cx="319.8" cy="67.9"/><circle r="5.2" cx="306.1" cy="73.4"/><circle r="5.2" cx="301.8" cy="64.4"/><circle r="5.2" cx="316.6" cy="77.5"/><circle r="5.2" cx="318.9" cy="74.3"/><circle r="5.2" cx="325.4" cy="82.3"/><circle r="5.2" cx="313.2" cy="91.5"/><circle r="5.2" cx="319.8" cy="89.1"/><circle r="5.2" cx="297.9" cy="74.7"/><circle r="5.2" cx="297.6" cy="67.2"/><circle r="5.2" cx="316.3" cy="103.2"/><circle r="5.2" cx="309.5" cy="55.1"/><circle r="5.2" cx="302.3" cy="82.6"/><circle r="5.2" cx="320.1" cy="74.7"/><circle r="5.2" cx="321.5" cy="87"/><circle r="5.2" cx="311.2" cy="85.8"/><circle r="5.2" cx="314.8" cy="67"/><circle r="5.2" cx="302.8" cy="87"/><circle r="5.2" cx="328.7" cy="84.4"/><circle r="5.2" cx="290" cy="71.8"/><circle r="5.2" cx="314" cy="77.7"/><circle r="5.2" cx="285.7" cy="72.8"/><circle r="5.2" cx="314.9" cy="97.2"/><circle r="5.2" cx="305.7" cy="81.6"/><circle r="5.2" cx="301.7" cy="102.4"/><circle r="5.2" cx="308" cy="63.2"/><circle r="5.2" cx="313.2" cy="63.9"/><circle r="5.2" cx="310.9" cy="71.7"/><circle r="5.2" cx="328.4" cy="58.6"/><circle r="5.2" cx="299.9" cy="74.6"/><circle r="5.2" cx="315.3" cy="72.1"/><circle r="5.2" cx="316.6" cy="69"/><circle r="5.2" cx="320.6" cy="59.8"/><circle r="5.2" cx="320.3" cy="100.8"/><circle r="5.2" cx="319.7" cy="80.5"/><circle r="5.2" cx="324" cy="97.3"/><circle r="5.2" cx="309.4" cy="92"/><circle r="5.2" cx="324.2" cy="92.8"/><circle r="5.2" cx="324" cy="58.1"/><circle r="5.2" cx="319.5" cy="53.9"/><circle r="5.2" cx="298.1" cy="75.8"/><circle r="5.2" cx="304.3" cy="96.2"/><circle r="5.2" cx="307.2" cy="108.6"/><circle r="5.2" cx="301.8" cy="95.4"/><circle r="5.2" cx="290" cy="80.4"/><circle r="5.2" cx="314.6" cy="75.2"/><circle r="5.2" cx="325.5" cy="73.9"/><circle r="5.2" cx="315.9" cy="59.7"/><circle r="5.2" cx="307.4" cy="98"/><circle r="5.2" cx="329.4" cy="90.6"/><circle r="5.2" cx="302.4" cy="66.3"/><circle r="5.2" cx="307.2" cy="64.9"/><circle r="5.2" cx="309.3" cy="106.2"/><circle r="5.2" cx="308.4" cy="88.2"/><circle r="5.2" cx="294.9" cy="69.9"/><circle r="5.2" cx="316.7" cy="82.1"/><circle r="5.2" cx="301.9" cy="79.6"/><circle r="5.2" cx="320.6" cy="78.8"/><circle r="5.2" cx="323" cy="63.1"/><circle r="5.2" cx="321.9" cy="61.7"/><circle r="5.2" cx="299.3" cy="86.6"/><circle r="5.2" cx="328.1" cy="73.6"/><circle r="5.2" cx="325" cy="68.6"/><circle r="5.2" cx="310" cy="69.5"/><circle r="5.2" cx="323.6" cy="62.2"/><circle r="5.2" cx="321.4" cy="91.8"/><circle r="5.2" cx="318.4" cy="97.2"/><circle r="5.2" cx="293.7" cy="81.8"/><circle r="5.2" cx="312.2" cy="86.7"/><circle r="5.2" cx="305.8" cy="55.8"/><circle r="5.2" cx="294.9" cy="77.9"/><circle r="5.2" cx="326" cy="75.6"/><circle r="5.2" cx="313.8" cy="97.3"/><circle r="5.2" cx="312.3" cy="82.1"/><circle r="5.2" cx="306.1" cy="73"/><circle r="5.2" cx="307.8" cy="105.1"/><circle r="5.2" cx="289.6" cy="75.5"/><circle r="5.2" cx="305.6" cy="67.7"/><circle r="5.2" cx="310" cy="64.8"/><circle r="5.2" cx="304.8" cy="65.8"/><circle r="5.2" cx="304" cy="99.1"/><circle r="5.2" cx="302.9" cy="70.6"/><circle r="5.2" cx="307.7" cy="56.7"/><circle r="5.2" cx="331.5" cy="86"/><circle r="5.2" cx="297.1" cy="91.8"/><circle r="5.2" cx="310.9" cy="93.5"/><circle r="5.2" cx="305.6" cy="94.7"/><circle r="5.2" cx="286.3" cy="73.3"/><circle r="5.2" cx="286.1" cy="74.7"/><circle r="5.2" cx="286.8" cy="71.7"/><circle r="5.2" cx="285.6" cy="71.9"/><circle r="5.2" cx="285.4" cy="72.6"/><circle r="5.2" cx="285.1" cy="74.8"/><circle r="5.2" cx="288.3" cy="74.1"/><circle r="5.2" cx="287.2" cy="73.1"/></g><g fill="#ED665D" stroke="#ED665D"><circle r="5.2" cx="274" cy="80"/><circle r="5.2" cx="278.5" cy="78"/><circle r="5.2" cx="282.1" cy="81"/><circle r="5.2" cx="276.7" cy="83"/><circle r="5.2" cx="298.3" cy="104"/></g><g fill="#ED665D" stroke="#ED665D" class="f"><circle r="5.2" cx="381.4" cy="53.7"/><circle r="5.2" cx="377.3" cy="46.3"/><circle r="5.2" cx="374.8" cy="56.8"/><circle r="5.2" cx="378.8" cy="58"/><circle r="5.2" cx="380.3" cy="51.8"/><circle r="5.2" cx="377" cy="47.8"/><circle r="5.2" cx="381.9" cy="46.1"/><circle r="5.2" cx="381.2" cy="56.9"/><circle r="5.2" cx="378.6" cy="45.1"/><circle r="5.2" cx="378" cy="51.7"/><circle r="5.2" cx="379.4" cy="51.7"/><circle r="5.2" cx="378.5" cy="56.6"/><circle r="5.2" cx="377.9" cy="48.2"/><circle r="5.2" cx="373.7" cy="54.2"/><circle r="5.2" cx="374.6" cy="49.7"/><circle r="5.2" cx="379.6" cy="51.9"/><circle r="5.2" cx="377.1" cy="55.6"/><circle r="5.2" cx="373.9" cy="49.3"/><circle r="5.2" cx="378.8" cy="55.7"/><circle r="5.2" cx="377.6" cy="55.3"/><circle r="5.2" cx="379.2" cy="55.5"/><circle r="5.2" cx="374.5" cy="53.2"/><circle r="5.2" cx="381.4" cy="47.8"/><circle r="5.2" cx="378.7" cy="48.2"/></g><g fill="#ED665D" stroke="#ED665D"><circle r="5.2" cx="372.2" cy="68"/><circle r="5.2" cx="383" cy="62"/></g><g fill="#ED665D" stroke="#ED665D" class="f"><circle r="5.2" cx="395.1" cy="51.5"/><circle r="5.2" cx="394.2" cy="54.1"/><circle r="5.2" cx="394.4" cy="55.1"/><circle r="5.2" cx="396.4" cy="53.4"/><circle r="5.2" cx="397.2" cy="53.1"/><circle r="5.2" cx="395.3" cy="51.4"/><circle r="5.2" cx="393.4" cy="50.6"/><circle r="5.2" cx="396.3" cy="51.7"/><circle r="5.2" cx="397.2" cy="57.2"/><circle r="5.2" cx="394.9" cy="55.6"/><circle r="5.2" cx="398.6" cy="55.6"/><circle r="5.2" cx="397" cy="55.1"/><circle r="5.2" cx="397.8" cy="55.9"/><circle r="5.2" cx="396.3" cy="55.3"/></g><g fill="#ED665D" stroke="#ED665D"><circle r="5.2" cx="396.2" cy="71.5"/><circle r="5.2" cx="395.8" cy="72"/><circle r="5.2" cx="396.5" cy="70.5"/><circle r="5.2" cx="396.2" cy="77"/><circle r="5.2" cx="396" cy="76.6"/></g><g fill="#ED665D" stroke="#ED665D" class="f"><circle r="5.2" cx="393.1" cy="152.4"/><circle r="5.2" cx="415.8" cy="162.7"/><circle r="5.2" cx="405.2" cy="130.1"/><circle r="5.2" cx="403" cy="106"/><circle r="5.2" cx="395.7" cy="117.5"/><circle r="5.2" cx="395.1" cy="143.5"/><circle r="5.2" cx="402.3" cy="160.9"/><circle r="5.2" cx="406.6" cy="141.4"/><circle r="5.2" cx="410.3" cy="156.7"/><circle r="5.2" cx="412" cy="147.6"/><circle r="5.2" cx="410.4" cy="129"/><circle r="5.2" cx="399.1" cy="130"/><circle r="5.2" cx="396.7" cy="160.7"/><circle r="5.2" cx="400.5" cy="113.2"/><circle r="5.2" cx="391.2" cy="130.8"/><circle r="5.2" cx="418.6" cy="159"/><circle r="5.2" cx="402.9" cy="121.8"/><circle r="5.2" cx="407.2" cy="147.2"/><circle r="5.2" cx="410.9" cy="122.4"/><circle r="5.2" cx="410.1" cy="128.9"/><circle r="5.2" cx="399.4" cy="151.4"/><circle r="5.2" cx="396.9" cy="109"/><circle r="5.2" cx="403.7" cy="126"/><circle r="5.2" cx="394.8" cy="124.2"/><circle r="5.2" cx="411.9" cy="167.8"/><circle r="5.2" cx="406" cy="153.4"/><circle r="5.2" cx="397.2" cy="115.5"/><circle r="5.2" cx="401.8" cy="137.9"/><circle r="5.2" cx="397.8" cy="147.9"/><circle r="5.2" cx="406" cy="133.4"/><circle r="5.2" cx="397.4" cy="125.2"/><circle r="5.2" cx="408.3" cy="112"/><circle r="5.2" cx="406.1" cy="116.7"/><circle r="5.2" cx="390.2" cy="138.5"/><circle r="5.2" cx="397.4" cy="121"/><circle r="5.2" cx="414.9" cy="154.1"/><circle r="5.2" cx="397.6" cy="153.5"/><circle r="5.2" cx="406" cy="122.1"/><circle r="5.2" cx="400.8" cy="166.5"/><circle r="5.2" cx="403.3" cy="144.5"/><circle r="5.2" cx="401.9" cy="131.7"/><circle r="5.2" cx="395.5" cy="122.6"/><circle r="5.2" cx="405.9" cy="164.8"/><circle r="5.2" cx="412.5" cy="160.3"/><circle r="5.2" cx="410.8" cy="117"/><circle r="5.2" cx="395.3" cy="110.9"/><circle r="5.2" cx="407.1" cy="115.7"/><circle r="5.2" cx="401.9" cy="141.5"/><circle r="5.2" cx="393.7" cy="142.5"/><circle r="5.2" cx="399.3" cy="107.4"/><circle r="5.2" cx="409.4" cy="159.8"/><circle r="5.2" cx="409.9" cy="160.8"/><circle r="5.2" cx="398.6" cy="155.9"/><circle r="5.2" cx="412.7" cy="156.7"/><circle r="5.2" cx="406.8" cy="108"/><circle r="5.2" cx="405.4" cy="115.4"/><circle r="5.2" cx="413.9" cy="138.1"/><circle r="5.2" cx="399.7" cy="129.5"/><circle r="5.2" cx="409" cy="151.4"/><circle r="5.2" cx="394.1" cy="143.7"/><circle r="5.2" cx="398.8" cy="150.9"/><circle r="5.2" cx="393.3" cy="104.4"/><circle r="5.2" cx="402.8" cy="156.9"/><circle r="5.2" cx="406.6" cy="151.6"/><circle r="5.2" cx="408.5" cy="146.2"/><circle r="5.2" cx="391.6" cy="145.9"/><circle r="5.2" cx="397.1" cy="137.3"/><circle r="5.2" cx="410.4" cy="132.2"/><circle r="5.2" cx="406.9" cy="125.6"/><circle r="5.2" cx="394.6" cy="137.2"/><circle r="5.2" cx="409.8" cy="144.2"/><circle r="5.2" cx="408" cy="167.8"/><circle r="5.2" cx="398.9" cy="156.8"/><circle r="5.2" cx="390.5" cy="152"/><circle r="5.2" cx="402.2" cy="110.2"/><circle r="5.2" cx="395.2" cy="107.6"/><circle r="5.2" cx="402.4" cy="137.1"/><circle r="5.2" cx="397.7" cy="154.1"/><circle r="5.2" cx="406.4" cy="162.9"/><circle r="5.2" cx="408.7" cy="129.4"/><circle r="5.2" cx="371.1" cy="163.9"/><circle r="5.2" cx="378.3" cy="134.3"/><circle r="5.2" cx="382.4" cy="158.9"/><circle r="5.2" cx="382.9" cy="149.2"/><circle r="5.2" cx="381.7" cy="166.9"/><circle r="5.2" cx="380.2" cy="147.4"/><circle r="5.2" cx="375.7" cy="158.8"/><circle r="5.2" cx="382.6" cy="143.6"/><circle r="5.2" cx="375.4" cy="174.1"/><circle r="5.2" cx="379.7" cy="143.3"/><circle r="5.2" cx="375.3" cy="151.5"/><circle r="5.2" cx="459.9" cy="148.4"/><circle r="5.2" cx="447" cy="170.1"/><circle r="5.2" cx="447" cy="159.7"/><circle r="5.2" cx="465.2" cy="152.8"/><circle r="5.2" cx="464.5" cy="168.3"/><circle r="5.2" cx="458.2" cy="154.5"/><circle r="5.2" cx="459.5" cy="165.8"/><circle r="5.2" cx="458.1" cy="171.1"/><circle r="5.2" cx="469.3" cy="159.5"/><circle r="5.2" cx="462.4" cy="174.3"/><circle r="5.2" cx="451.9" cy="165.2"/><circle r="5.2" cx="453" cy="153.9"/><circle r="5.2" cx="451.2" cy="149.6"/><circle r="5.2" cx="470.7" cy="167"/><circle r="5.2" cx="469.3" cy="152.6"/><circle r="5.2" cx="455.3" cy="171.9"/><circle r="5.2" cx="448.9" cy="153.6"/><circle r="5.2" cx="458.5" cy="163"/><circle r="5.2" cx="458.8" cy="153.8"/><circle r="5.2" cx="462.3" cy="158.1"/><circle r="5.2" cx="460.5" cy="150.1"/><circle r="5.2" cx="455.2" cy="163.1"/><circle r="5.2" cx="462.5" cy="162.2"/><circle r="5.2" cx="449.8" cy="154.8"/><circle r="5.2" cx="473.2" cy="157.2"/><circle r="5.2" cx="457.8" cy="158.9"/><circle r="5.2" cx="468.7" cy="171"/><circle r="5.2" cx="464.9" cy="164"/><circle r="5.2" cx="467.6" cy="164.3"/><circle r="5.2" cx="462.3" cy="150.3"/><circle r="5.2" cx="463.1" cy="171.6"/><circle r="5.2" cx="450.2" cy="152"/><circle r="5.2" cx="466.7" cy="163.3"/><circle r="5.2" cx="454.7" cy="162.7"/><circle r="5.2" cx="450.7" cy="168.1"/><circle r="5.2" cx="429.6" cy="155.6"/><circle r="5.2" cx="425.7" cy="177.1"/><circle r="5.2" cx="439.8" cy="172.7"/><circle r="5.2" cx="434.9" cy="154.9"/><circle r="5.2" cx="417.5" cy="161"/><circle r="5.2" cx="429.8" cy="168.9"/><circle r="5.2" cx="440" cy="161.8"/><circle r="5.2" cx="425.8" cy="162.6"/><circle r="5.2" cx="417.7" cy="154"/><circle r="5.2" cx="422.2" cy="170.6"/><circle r="5.2" cx="434.6" cy="170.5"/><circle r="5.2" cx="421.7" cy="162.9"/><circle r="5.2" cx="434.5" cy="173.9"/><circle r="5.2" cx="435.8" cy="160.1"/><circle r="5.2" cx="413.9" cy="189.8"/><circle r="5.2" cx="417.6" cy="194.2"/><circle r="5.2" cx="417.5" cy="192.6"/><circle r="5.2" cx="411.4" cy="187.2"/><circle r="5.2" cx="418.9" cy="199.8"/><circle r="5.2" cx="417.6" cy="194.4"/><circle r="5.2" cx="414.4" cy="192.9"/><circle r="5.2" cx="416.4" cy="194.8"/><circle r="5.2" cx="413.4" cy="189.1"/></g><g fill="#ED665D" stroke="#ED665D"><circle r="5.2" cx="383" cy="149"/><circle r="5.2" cx="360.9" cy="182.5"/></g><g fill="#ED665D" stroke="#ED665D" class="f"><circle r="5.2" cx="420.6" cy="212.1"/><circle r="5.2" cx="422.3" cy="212.4"/><circle r="5.2" cx="424.8" cy="211.1"/><circle r="5.2" cx="417.5" cy="211.3"/><circle r="5.2" cx="417.8" cy="211.3"/></g><g fill="#ED665D" stroke="#ED665D"><circle r="5.2" cx="400.1" cy="205"/><circle r="5.2" cx="406.4" cy="207"/><circle r="5.2" cx="410.9" cy="204"/></g><g fill="#ED665D" stroke="#ED665D" class="f"><circle r="5.2" cx="225.7" cy="134.5"/><circle r="5.2" cx="220.9" cy="147.5"/><circle r="5.2" cx="213.8" cy="165.3"/><circle r="5.2" cx="214.2" cy="151.9"/><circle r="5.2" cx="216.9" cy="141.4"/><circle r="5.2" cx="217.3" cy="134.3"/><circle r="5.2" cx="206.3" cy="159.8"/><circle r="5.2" cx="222.6" cy="157.9"/><circle r="5.2" cx="232.3" cy="135.2"/><circle r="5.2" cx="231.3" cy="145.9"/><circle r="5.2" cx="229.1" cy="129"/><circle r="5.2" cx="233" cy="162.2"/><circle r="5.2" cx="224" cy="142"/><circle r="5.2" cx="226.6" cy="148.7"/><circle r="5.2" cx="224.6" cy="165.4"/><circle r="5.2" cx="217.5" cy="149"/><circle r="5.2" cx="232.1" cy="151.2"/><circle r="5.2" cx="225.7" cy="159.1"/><circle r="5.2" cx="225.8" cy="154.4"/><circle r="5.2" cx="220.2" cy="168.3"/><circle r="5.2" cx="231.1" cy="166.6"/><circle r="5.2" cx="215.5" cy="145.8"/><circle r="5.2" cx="214.1" cy="162.6"/><circle r="5.2" cx="211.6" cy="159.6"/><circle r="5.2" cx="226.5" cy="158.2"/><circle r="5.2" cx="220.7" cy="138"/><circle r="5.2" cx="218" cy="151.5"/><circle r="5.2" cx="214.2" cy="143.6"/><circle r="5.2" cx="216.7" cy="161.1"/><circle r="5.2" cx="229.4" cy="140.1"/><circle r="5.2" cx="208.2" cy="163.6"/><circle r="5.2" cx="223.8" cy="144.9"/><circle r="5.2" cx="227.5" cy="160.5"/><circle r="5.2" cx="228.1" cy="149.1"/><circle r="5.2" cx="225.1" cy="131.4"/><circle r="5.2" cx="221.3" cy="135"/><circle r="5.2" cx="220.2" cy="164.1"/><circle r="5.2" cx="214" cy="158.6"/><circle r="5.2" cx="223.5" cy="158.9"/><circle r="5.2" cx="230.4" cy="146"/><circle r="5.2" cx="224.3" cy="152.6"/><circle r="5.2" cx="208.6" cy="150.9"/><circle r="5.2" cx="215.2" cy="142.7"/><circle r="5.2" cx="231.9" cy="162.7"/><circle r="5.2" cx="229.3" cy="127.9"/><circle r="5.2" cx="224" cy="145.4"/><circle r="5.2" cx="222.9" cy="137.3"/><circle r="5.2" cx="212" cy="137.5"/><circle r="5.2" cx="227.8" cy="141.4"/><circle r="5.2" cx="210.2" cy="150"/><circle r="5.2" cx="213.1" cy="155.3"/><circle r="5.2" cx="225.8" cy="154.3"/><circle r="5.2" cx="211.2" cy="161.2"/><circle r="5.2" cx="212" cy="167.6"/><circle r="5.2" cx="233.7" cy="157"/><circle r="5.2" cx="223" cy="149.2"/><circle r="5.2" cx="231.7" cy="130.4"/><circle r="5.2" cx="218.4" cy="157.1"/><circle r="5.2" cx="231.7" cy="143.5"/><circle r="5.2" cx="210.4" cy="146.2"/><circle r="5.2" cx="214" cy="146.3"/><circle r="5.2" cx="211" cy="155"/><circle r="5.2" cx="232.5" cy="166.6"/><circle r="5.2" cx="219" cy="145.9"/><circle r="5.2" cx="214.3" cy="143.6"/><circle r="5.2" cx="231.5" cy="154.3"/><circle r="5.2" cx="231" cy="156.4"/><circle r="5.2" cx="215.9" cy="136.1"/><circle r="5.2" cx="212.4" cy="144.8"/><circle r="5.2" cx="223.8" cy="160"/><circle r="5.2" cx="216.9" cy="151.4"/><circle r="5.2" cx="221.8" cy="137.5"/><circle r="5.2" cx="222.3" cy="159.5"/><circle r="5.2" cx="232.8" cy="138.1"/><circle r="5.2" cx="223.3" cy="148.2"/><circle r="5.2" cx="211.1" cy="165.7"/><circle r="5.2" cx="210.5" cy="157.8"/><circle r="5.2" cx="227.1" cy="134.5"/><circle r="5.2" cx="222.4" cy="164.4"/><circle r="5.2" cx="214.4" cy="138.5"/><circle r="5.2" cx="230" cy="148.6"/><circle r="5.2" cx="222.7" cy="142.7"/><circle r="5.2" cx="213.3" cy="152.8"/></g><g fill="#ED665D" stroke="#ED665D"><circle r="5.2" cx="203.7" cy="168"/><circle r="5.2" cx="206.4" cy="163"/><circle r="5.2" cx="245.2" cy="131"/><circle r="5.2" cx="245.4" cy="130.8"/><circle r="5.2" cx="247.9" cy="136"/><circle r="5.2" cx="248.1" cy="135.8"/><circle r="5.2" cx="244.3" cy="138"/><circle r="5.2" cx="244.5" cy="137.8"/><circle r="5.2" cx="242.5" cy="134"/></g><g fill="#ED665D" stroke="#ED665D" class="f"><circle r="5.2" cx="266.6" cy="156.9"/><circle r="5.2" cx="257.6" cy="172"/><circle r="5.2" cx="276.3" cy="160.1"/><circle r="5.2" cx="261.1" cy="160.1"/><circle r="5.2" cx="277" cy="172.1"/><circle r="5.2" cx="267.4" cy="169.5"/><circle r="5.2" cx="272.2" cy="151.4"/><circle r="5.2" cx="273.9" cy="156.7"/><circle r="5.2" cx="257.6" cy="164.1"/><circle r="5.2" cx="262.1" cy="171"/><circle r="5.2" cx="278.6" cy="162.8"/><circle r="5.2" cx="270.5" cy="177.8"/><circle r="5.2" cx="261.7" cy="153.3"/><circle r="5.2" cx="269.4" cy="150.8"/><circle r="5.2" cx="257" cy="169.2"/><circle r="5.2" cx="263.9" cy="159.1"/><circle r="5.2" cx="273.8" cy="166.5"/><circle r="5.2" cx="270.5" cy="155.4"/><circle r="5.2" cx="266.1" cy="168.7"/><circle r="5.2" cx="256.1" cy="173.6"/><circle r="5.2" cx="263.3" cy="166.5"/><circle r="5.2" cx="273.1" cy="175.2"/><circle r="5.2" cx="270.2" cy="159"/><circle r="5.2" cx="253.8" cy="165.8"/><circle r="5.2" cx="262.7" cy="165.5"/><circle r="5.2" cx="274.5" cy="168"/><circle r="5.2" cx="274.9" cy="166"/><circle r="5.2" cx="276" cy="155.1"/><circle r="5.2" cx="268.5" cy="162.5"/><circle r="5.2" cx="259.4" cy="155.9"/><circle r="5.2" cx="257.2" cy="161.1"/><circle r="5.2" cx="267.9" cy="168.9"/><circle r="5.2" cx="266.8" cy="159.5"/><circle r="5.2" cx="262.6" cy="177"/><circle r="5.2" cx="257" cy="159.5"/><circle r="5.2" cx="267.1" cy="167.3"/><circle r="5.2" cx="261.6" cy="171.2"/><circle r="5.2" cx="274.4" cy="159.8"/><circle r="5.2" cx="265.4" cy="162.6"/><circle r="5.2" cx="258.7" cy="157"/><circle r="5.2" cx="273.1" cy="172.8"/><circle r="5.2" cx="273.5" cy="164.5"/><circle r="5.2" cx="278.2" cy="157.3"/><circle r="5.2" cx="269.6" cy="158.9"/><circle r="5.2" cx="256.6" cy="168.5"/><circle r="5.2" cx="260.2" cy="173"/><circle r="5.2" cx="267.2" cy="158.8"/><circle r="5.2" cx="253.6" cy="163.5"/><circle r="5.2" cx="269.9" cy="174.6"/><circle r="5.2" cx="265.1" cy="155.2"/><circle r="5.2" cx="258.2" cy="155"/><circle r="5.2" cx="258.6" cy="169.8"/><circle r="5.2" cx="265.3" cy="158.3"/></g><g fill="#ED665D" stroke="#ED665D"><circle r="5.2" cx="283.9" cy="167"/><circle r="5.2" cx="284.1" cy="166.8"/><circle r="5.2" cx="287.5" cy="171"/><circle r="5.2" cx="287.7" cy="170.8"/><circle r="5.2" cx="285.7" cy="178"/><circle r="5.2" cx="285.9" cy="177.8"/><circle r="5.2" cx="282.1" cy="176"/><circle r="5.2" cx="282.3" cy="175.8"/></g><g fill="#ED665D" stroke="#ED665D" class="f"><circle r="5.2" cx="270" cy="225.8"/><circle r="5.2" cx="291.1" cy="220.1"/><circle r="5.2" cx="273.6" cy="205.3"/><circle r="5.2" cx="260.6" cy="204.6"/><circle r="5.2" cx="283.5" cy="213.4"/><circle r="5.2" cx="285.1" cy="201.9"/><circle r="5.2" cx="272.8" cy="235.6"/><circle r="5.2" cx="280" cy="225.3"/><circle r="5.2" cx="294.7" cy="205.6"/><circle r="5.2" cx="259.3" cy="231"/><circle r="5.2" cx="277.2" cy="209.7"/><circle r="5.2" cx="263.5" cy="215.7"/><circle r="5.2" cx="279.3" cy="194.9"/><circle r="5.2" cx="279.8" cy="206.7"/><circle r="5.2" cx="261.1" cy="218.9"/><circle r="5.2" cx="258.4" cy="239.2"/><circle r="5.2" cx="263.2" cy="200.4"/><circle r="5.2" cx="287.4" cy="223.2"/><circle r="5.2" cx="292.6" cy="210.1"/><circle r="5.2" cx="262.7" cy="212"/><circle r="5.2" cx="275.9" cy="230.9"/><circle r="5.2" cx="257.9" cy="210.4"/><circle r="5.2" cx="270.1" cy="206.6"/><circle r="5.2" cx="275.7" cy="201.4"/><circle r="5.2" cx="268.5" cy="234.9"/><circle r="5.2" cx="276.1" cy="217.7"/><circle r="5.2" cx="285.2" cy="230"/><circle r="5.2" cx="292.4" cy="214.3"/><circle r="5.2" cx="272.4" cy="214.6"/><circle r="5.2" cx="263.7" cy="226.2"/><circle r="5.2" cx="287.1" cy="204.6"/><circle r="5.2" cx="266.9" cy="243.5"/><circle r="5.2" cx="268.5" cy="211.4"/><circle r="5.2" cx="262" cy="235.1"/><circle r="5.2" cx="273.6" cy="223.7"/><circle r="5.2" cx="282.9" cy="221.9"/><circle r="5.2" cx="269.7" cy="220.5"/><circle r="5.2" cx="284.3" cy="231.7"/><circle r="5.2" cx="277.7" cy="221.8"/><circle r="5.2" cx="262.5" cy="216.4"/><circle r="5.2" cx="294.6" cy="206"/><circle r="5.2" cx="266.2" cy="203"/><circle r="5.2" cx="270.9" cy="208.3"/><circle r="5.2" cx="269.5" cy="231.2"/><circle r="5.2" cx="263.2" cy="229.8"/><circle r="5.2" cx="292.6" cy="216.7"/><circle r="5.2" cx="265.7" cy="212.6"/><circle r="5.2" cx="259.3" cy="217"/><circle r="5.2" cx="261" cy="223.8"/><circle r="5.2" cx="271.2" cy="201.9"/><circle r="5.2" cx="278.5" cy="212.7"/><circle r="5.2" cx="269.2" cy="200.2"/><circle r="5.2" cx="258.2" cy="208.3"/><circle r="5.2" cx="292.3" cy="206"/><circle r="5.2" cx="268.2" cy="227.5"/><circle r="5.2" cx="257.1" cy="207.4"/><circle r="5.2" cx="263.6" cy="204.4"/><circle r="5.2" cx="280.5" cy="231.4"/><circle r="5.2" cx="288.9" cy="216.1"/><circle r="5.2" cx="287.5" cy="213.7"/><circle r="5.2" cx="266.8" cy="221.5"/><circle r="5.2" cx="276.8" cy="218.7"/><circle r="5.2" cx="277.2" cy="233.9"/><circle r="5.2" cx="289" cy="227.1"/><circle r="5.2" cx="292" cy="215.4"/><circle r="5.2" cx="273.3" cy="227.4"/><circle r="5.2" cx="287.5" cy="202.9"/><circle r="5.2" cx="266.3" cy="235.5"/><circle r="5.2" cx="270.6" cy="240.3"/><circle r="5.2" cx="284.3" cy="219.3"/><circle r="5.2" cx="268.6" cy="216.1"/><circle r="5.2" cx="264.1" cy="230.8"/><circle r="5.2" cx="271.8" cy="222.4"/><circle r="5.2" cx="286.3" cy="197.8"/><circle r="5.2" cx="268.3" cy="217.2"/><circle r="5.2" cx="283.8" cy="203.8"/><circle r="5.2" cx="267.1" cy="212.6"/><circle r="5.2" cx="276.8" cy="209.8"/><circle r="5.2" cx="266.6" cy="205.9"/><circle r="5.2" cx="265.1" cy="233.2"/><circle r="5.2" cx="278" cy="201.6"/><circle r="5.2" cx="285.8" cy="225.6"/><circle r="5.2" cx="282.7" cy="217.3"/><circle r="5.2" cx="258" cy="233.5"/><circle r="5.2" cx="270.3" cy="198.6"/><circle r="5.2" cx="265.3" cy="242.1"/><circle r="5.2" cx="276.7" cy="217.4"/><circle r="5.2" cx="291.1" cy="207"/><circle r="5.2" cx="280.5" cy="228.1"/><circle r="5.2" cx="258.1" cy="205.2"/><circle r="5.2" cx="273.6" cy="197.8"/><circle r="5.2" cx="291" cy="203.7"/><circle r="5.2" cx="288.5" cy="197.1"/><circle r="5.2" cx="269.9" cy="202.4"/><circle r="5.2" cx="270.1" cy="228.8"/><circle r="5.2" cx="280.3" cy="210.9"/><circle r="5.2" cx="282" cy="223.6"/><circle r="5.2" cx="284.5" cy="206.3"/><circle r="5.2" cx="278.4" cy="223.8"/><circle r="5.2" cx="266.1" cy="209.5"/><circle r="5.2" cx="276.8" cy="208.2"/><circle r="5.2" cx="271.4" cy="232.3"/><circle r="5.2" cx="257.7" cy="214"/><circle r="5.2" cx="264.5" cy="216.2"/><circle r="5.2" cx="278.3" cy="203.1"/><circle r="5.2" cx="259.8" cy="223.4"/><circle r="5.2" cx="284" cy="228.5"/><circle r="5.2" cx="278.6" cy="199.2"/><circle r="5.2" cx="265.7" cy="234.2"/><circle r="5.2" cx="289.7" cy="219.9"/><circle r="5.2" cx="284.3" cy="211.1"/><circle r="5.2" cx="278.6" cy="221.9"/><circle r="5.2" cx="285.9" cy="199.9"/><circle r="5.2" cx="274.6" cy="205.4"/><circle r="5.2" cx="272" cy="232"/><circle r="5.2" cx="281.9" cy="216.6"/><circle r="5.2" cx="275.8" cy="230.6"/><circle r="5.2" cx="290.8" cy="200.1"/><circle r="5.2" cx="271.9" cy="240.8"/></g><g fill="#ED665D" stroke="#ED665D"><circle r="5.2" cx="305.5" cy="198.5"/><circle r="5.2" cx="305.8" cy="198.3"/><circle r="5.2" cx="339.7" cy="210"/><circle r="5.2" cx="340" cy="209.8"/><circle r="5.2" cx="344.2" cy="212.5"/><circle r="5.2" cx="344.5" cy="212.3"/><circle r="5.2" cx="346" cy="208"/><circle r="5.2" cx="346.3" cy="207.8"/><circle r="5.2" cx="304.6" cy="227"/><circle r="5.2" cx="310" cy="230"/><circle r="5.2" cx="315.4" cy="228.5"/><circle r="5.2" cx="307.3" cy="224"/><circle r="5.2" cx="311.8" cy="225"/><circle r="5.2" cx="258.7" cy="199"/><circle r="5.2" cx="288.4" cy="192.5"/><circle r="5.2" cx="299.2" cy="214"/><circle r="5.2" cx="301.9" cy="221"/><circle r="5.2" cx="290.2" cy="245"/><circle r="5.2" cx="237.1" cy="241"/><circle r="5.2" cx="242.5" cy="244"/><circle r="5.2" cx="247.9" cy="243"/><circle r="5.2" cx="245.2" cy="248"/><circle r="5.2" cx="240.7" cy="246"/><circle r="5.2" cx="244.3" cy="241"/><circle r="5.2" cx="247" cy="246"/><circle r="5.2" cx="238.9" cy="243.5"/><circle r="5.2" cx="234.4" cy="247"/><circle r="5.2" cx="250.6" cy="249"/><circle r="5.2" cx="240.7" cy="238"/></g><g fill="#ED665D" stroke="#ED665D" class="f"><circle r="5.2" cx="116.6" cy="240.3"/><circle r="5.2" cx="123.1" cy="257.7"/><circle r="5.2" cx="136.4" cy="233.5"/><circle r="5.2" cx="129" cy="228.4"/><circle r="5.2" cx="117.8" cy="227.5"/><circle r="5.2" cx="134.9" cy="245.7"/><circle r="5.2" cx="116.7" cy="248.3"/><circle r="5.2" cx="131.8" cy="256.8"/><circle r="5.2" cx="139.4" cy="249.4"/><circle r="5.2" cx="138.6" cy="256.7"/><circle r="5.2" cx="130.2" cy="240.8"/><circle r="5.2" cx="119.8" cy="241.6"/><circle r="5.2" cx="134.8" cy="229.9"/><circle r="5.2" cx="128.1" cy="235.3"/><circle r="5.2" cx="127.5" cy="249"/><circle r="5.2" cx="118.7" cy="236.7"/><circle r="5.2" cx="112.8" cy="233.6"/><circle r="5.2" cx="133.4" cy="236.9"/><circle r="5.2" cx="122.2" cy="227.4"/><circle r="5.2" cx="124.5" cy="231.9"/><circle r="5.2" cx="126.9" cy="261"/><circle r="5.2" cx="126.3" cy="252.9"/><circle r="5.2" cx="128.7" cy="239"/><circle r="5.2" cx="126.7" cy="246.7"/><circle r="5.2" cx="130.2" cy="256.1"/><circle r="5.2" cx="131.4" cy="229.4"/><circle r="5.2" cx="115.9" cy="246.9"/><circle r="5.2" cx="135.4" cy="251.9"/><circle r="5.2" cx="128" cy="230.9"/><circle r="5.2" cx="129.3" cy="222.9"/><circle r="5.2" cx="127.6" cy="251.5"/><circle r="5.2" cx="127.1" cy="236.4"/><circle r="5.2" cx="120" cy="252.6"/><circle r="5.2" cx="122.9" cy="232.7"/><circle r="5.2" cx="135.6" cy="230.3"/><circle r="5.2" cx="121.1" cy="227.3"/><circle r="5.2" cx="122.8" cy="239.9"/><circle r="5.2" cx="122.9" cy="260.3"/><circle r="5.2" cx="117.5" cy="236.3"/><circle r="5.2" cx="117.6" cy="249.6"/><circle r="5.2" cx="141.1" cy="247.2"/><circle r="5.2" cx="137.1" cy="241"/><circle r="5.2" cx="133.4" cy="226"/><circle r="5.2" cx="127.2" cy="256.6"/><circle r="5.2" cx="136.2" cy="244.8"/><circle r="5.2" cx="121.1" cy="254.3"/><circle r="5.2" cx="138" cy="236.5"/><circle r="5.2" cx="130.9" cy="244"/><circle r="5.2" cx="129.6" cy="244.5"/><circle r="5.2" cx="133" cy="260.4"/><circle r="5.2" cx="127.6" cy="257.2"/><circle r="5.2" cx="130.2" cy="239.8"/><circle r="5.2" cx="127.7" cy="242"/><circle r="5.2" cx="126.2" cy="233.7"/><circle r="5.2" cx="119.4" cy="229.4"/><circle r="5.2" cx="131.8" cy="250"/><circle r="5.2" cx="114.2" cy="248.8"/><circle r="5.2" cx="136" cy="235.7"/><circle r="5.2" cx="121.6" cy="234.9"/><circle r="5.2" cx="133.6" cy="235.9"/><circle r="5.2" cx="113.7" cy="243"/><circle r="5.2" cx="140.9" cy="250"/><circle r="5.2" cx="117.7" cy="230.2"/><circle r="5.2" cx="133.3" cy="250.7"/><circle r="5.2" cx="138.5" cy="239.6"/><circle r="5.2" cx="139.2" cy="241.7"/><circle r="5.2" cx="132.9" cy="258.3"/><circle r="5.2" cx="127.1" cy="242.2"/><circle r="5.2" cx="124.3" cy="253"/><circle r="5.2" cx="121.2" cy="239.3"/><circle r="5.2" cx="125.9" cy="239.9"/><circle r="5.2" cx="132.3" cy="233.8"/><circle r="5.2" cx="115.5" cy="239.7"/><circle r="5.2" cx="289.1" cy="318"/><circle r="5.2" cx="264.7" cy="300.6"/><circle r="5.2" cx="275.4" cy="325.7"/><circle r="5.2" cx="300.3" cy="328.1"/><circle r="5.2" cx="307.7" cy="305.3"/><circle r="5.2" cx="287.6" cy="296.1"/><circle r="5.2" cx="289.7" cy="333.3"/><circle r="5.2" cx="262.9" cy="313.1"/><circle r="5.2" cx="291.3" cy="308.6"/><circle r="5.2" cx="272.7" cy="314.1"/><circle r="5.2" cx="310.3" cy="318.3"/><circle r="5.2" cx="291.9" cy="327"/><circle r="5.2" cx="285.1" cy="324.7"/><circle r="5.2" cx="281.8" cy="309"/><circle r="5.2" cx="307.9" cy="325.3"/><circle r="5.2" cx="292.1" cy="313.4"/><circle r="5.2" cx="298.1" cy="311.9"/><circle r="5.2" cx="295.8" cy="322.3"/><circle r="5.2" cx="307" cy="313.5"/><circle r="5.2" cx="276.7" cy="305.2"/><circle r="5.2" cx="283.5" cy="320"/><circle r="5.2" cx="268.6" cy="305"/><circle r="5.2" cx="281.8" cy="317.4"/><circle r="5.2" cx="268.9" cy="309.1"/><circle r="5.2" cx="291.7" cy="298.6"/><circle r="5.2" cx="306.3" cy="306.3"/><circle r="5.2" cx="296.5" cy="310.1"/><circle r="5.2" cx="268.1" cy="322.2"/><circle r="5.2" cx="298.8" cy="299.8"/><circle r="5.2" cx="259.4" cy="304"/><circle r="5.2" cx="281.9" cy="333.1"/><circle r="5.2" cx="280.5" cy="312.3"/><circle r="5.2" cx="287.2" cy="299.5"/><circle r="5.2" cx="305.5" cy="320.3"/><circle r="5.2" cx="294.1" cy="330.7"/><circle r="5.2" cx="286.1" cy="314.9"/><circle r="5.2" cx="302" cy="310.6"/><circle r="5.2" cx="272.2" cy="297.7"/><circle r="5.2" cx="285" cy="303.9"/><circle r="5.2" cx="270.7" cy="322.6"/><circle r="5.2" cx="274.9" cy="303.8"/><circle r="5.2" cx="295.4" cy="324.2"/><circle r="5.2" cx="290.1" cy="306.4"/><circle r="5.2" cx="301.2" cy="304.3"/><circle r="5.2" cx="311.3" cy="311.6"/><circle r="5.2" cx="264.4" cy="305.5"/><circle r="5.2" cx="273.8" cy="300.2"/><circle r="5.2" cx="305" cy="300.2"/><circle r="5.2" cx="284.2" cy="327.9"/><circle r="5.2" cx="289.4" cy="309"/><circle r="5.2" cx="294.1" cy="307.2"/><circle r="5.2" cx="268.9" cy="319.9"/><circle r="5.2" cx="300.8" cy="316"/><circle r="5.2" cx="267.3" cy="299.7"/><circle r="5.2" cx="279.3" cy="313.5"/><circle r="5.2" cx="278.9" cy="320.6"/><circle r="5.2" cx="268" cy="315.6"/><circle r="5.2" cx="283.3" cy="302"/><circle r="5.2" cx="262.8" cy="298.3"/><circle r="5.2" cx="270.1" cy="301.8"/><circle r="5.2" cx="292.8" cy="316.9"/><circle r="5.2" cx="299" cy="327.9"/><circle r="5.2" cx="283.3" cy="332.4"/><circle r="5.2" cx="260.2" cy="307.9"/><circle r="5.2" cx="301.5" cy="326.3"/><circle r="5.2" cx="309.2" cy="324.6"/><circle r="5.2" cx="265.2" cy="316.1"/><circle r="5.2" cx="287.1" cy="301.6"/><circle r="5.2" cx="275.5" cy="326.6"/><circle r="5.2" cx="295" cy="328.9"/><circle r="5.2" cx="312" cy="321.3"/><circle r="5.2" cx="272.4" cy="322.6"/><circle r="5.2" cx="295.8" cy="303.4"/><circle r="5.2" cx="304.9" cy="314.6"/><circle r="5.2" cx="303.8" cy="319.8"/><circle r="5.2" cx="274.8" cy="306.8"/><circle r="5.2" cx="293.3" cy="320.7"/><circle r="5.2" cx="285.4" cy="307.4"/><circle r="5.2" cx="280.1" cy="321.3"/><circle r="5.2" cx="276.2" cy="306.2"/><circle r="5.2" cx="288" cy="328.6"/><circle r="5.2" cx="300.1" cy="320.3"/><circle r="5.2" cx="283.3" cy="313.1"/><circle r="5.2" cx="284.5" cy="333.1"/><circle r="5.2" cx="264.4" cy="313.4"/><circle r="5.2" cx="289.4" cy="328.1"/><circle r="5.2" cx="263" cy="304.1"/><circle r="5.2" cx="285.1" cy="318.1"/><circle r="5.2" cx="271.2" cy="312.9"/><circle r="5.2" cx="249" cy="274.4"/><circle r="5.2" cx="251.6" cy="281.2"/><circle r="5.2" cx="251.6" cy="274.3"/><circle r="5.2" cx="245.7" cy="279.1"/><circle r="5.2" cx="254" cy="273.6"/><circle r="5.2" cx="249.5" cy="273.3"/><circle r="5.2" cx="320.7" cy="236"/><circle r="5.2" cx="308.1" cy="238"/><circle r="5.2" cx="313.3" cy="243.4"/><circle r="5.2" cx="315.4" cy="236.3"/><circle r="5.2" cx="324.7" cy="232.6"/><circle r="5.2" cx="310.1" cy="237.7"/><circle r="5.2" cx="319.7" cy="235.1"/><circle r="5.2" cx="307.3" cy="239.4"/><circle r="5.2" cx="312" cy="239.9"/><circle r="5.2" cx="311.2" cy="233.4"/><circle r="5.2" cx="313.7" cy="238.9"/><circle r="5.2" cx="318" cy="243"/><circle r="5.2" cx="318.2" cy="241.5"/><circle r="5.2" cx="321.1" cy="238.6"/><circle r="5.2" cx="323.9" cy="282.2"/><circle r="5.2" cx="325.2" cy="257.1"/><circle r="5.2" cx="321" cy="267.9"/><circle r="5.2" cx="333.4" cy="274"/><circle r="5.2" cx="325.1" cy="268.1"/><circle r="5.2" cx="332.1" cy="263"/><circle r="5.2" cx="316" cy="286.4"/><circle r="5.2" cx="321.5" cy="291.1"/><circle r="5.2" cx="312.5" cy="272.1"/><circle r="5.2" cx="325.3" cy="294.7"/><circle r="5.2" cx="318.7" cy="283.5"/><circle r="5.2" cx="324.2" cy="274.8"/><circle r="5.2" cx="318.6" cy="275"/><circle r="5.2" cx="330.7" cy="285.4"/><circle r="5.2" cx="321.4" cy="260.2"/><circle r="5.2" cx="320" cy="286.7"/><circle r="5.2" cx="325.4" cy="277.9"/><circle r="5.2" cx="328.4" cy="272.8"/><circle r="5.2" cx="321.7" cy="272.2"/><circle r="5.2" cx="331.7" cy="287"/><circle r="5.2" cx="315.1" cy="278.3"/><circle r="5.2" cx="315.3" cy="266.6"/><circle r="5.2" cx="320.2" cy="281"/><circle r="5.2" cx="329.8" cy="283.2"/><circle r="5.2" cx="325.7" cy="321.2"/><circle r="5.2" cx="324.9" cy="312"/><circle r="5.2" cx="325.8" cy="318.5"/><circle r="5.2" cx="319.9" cy="313.1"/><circle r="5.2" cx="325.6" cy="326.5"/><circle r="5.2" cx="323.1" cy="318.4"/><circle r="5.2" cx="317.5" cy="316.1"/><circle r="5.2" cx="324.7" cy="309.9"/><circle r="5.2" cx="326.2" cy="322.6"/><circle r="5.2" cx="276.3" cy="274.8"/><circle r="5.2" cx="296" cy="274.3"/><circle r="5.2" cx="284" cy="287.8"/><circle r="5.2" cx="268.4" cy="289.2"/><circle r="5.2" cx="265.5" cy="279"/><circle r="5.2" cx="285.5" cy="277"/><circle r="5.2" cx="291.5" cy="279.6"/><circle r="5.2" cx="300.5" cy="280.1"/><circle r="5.2" cx="293.7" cy="287.1"/><circle r="5.2" cx="328.2" cy="226.3"/><circle r="5.2" cx="341.2" cy="225.1"/><circle r="5.2" cx="332.9" cy="216.9"/><circle r="5.2" cx="335.9" cy="217.6"/><circle r="5.2" cx="332.8" cy="234.6"/><circle r="5.2" cx="336.8" cy="226.1"/><circle r="5.2" cx="337.3" cy="234.8"/><circle r="5.2" cx="341.1" cy="217.7"/><circle r="5.2" cx="334.1" cy="221.9"/><circle r="5.2" cx="340.2" cy="215.5"/><circle r="5.2" cx="326.2" cy="222.2"/><circle r="5.2" cx="338.2" cy="234.8"/></g><g fill="#ED665D" stroke="#ED665D"><circle r="5.2" cx="316.3" cy="209.6"/></g><g fill="#ED665D" stroke="#ED665D" class="f"><circle r="5.2" cx="359.7" cy="213"/><circle r="5.2" cx="356" cy="235.7"/><circle r="5.2" cx="363.2" cy="221.4"/><circle r="5.2" cx="355.4" cy="269.9"/><circle r="5.2" cx="364.3" cy="292.9"/><circle r="5.2" cx="359.9" cy="248.9"/><circle r="5.2" cx="368.6" cy="268.6"/><circle r="5.2" cx="350.2" cy="287.6"/><circle r="5.2" cx="358.8" cy="280.7"/><circle r="5.2" cx="353.5" cy="293.6"/><circle r="5.2" cx="368.1" cy="259"/><circle r="5.2" cx="372.2" cy="288.8"/><circle r="5.2" cx="355.6" cy="274.4"/><circle r="5.2" cx="355.3" cy="261.7"/><circle r="5.2" cx="358.5" cy="283.6"/><circle r="5.2" cx="355.3" cy="252.4"/><circle r="5.2" cx="369.4" cy="273.6"/><circle r="5.2" cx="365.5" cy="274"/><circle r="5.2" cx="350.2" cy="281"/><circle r="5.2" cx="360.8" cy="300.8"/><circle r="5.2" cx="361.8" cy="259.5"/><circle r="5.2" cx="374.6" cy="279.2"/><circle r="5.2" cx="359.4" cy="295.9"/><circle r="5.2" cx="361.4" cy="268.1"/><circle r="5.2" cx="347.6" cy="275.4"/><circle r="5.2" cx="361.5" cy="269.3"/><circle r="5.2" cx="348.9" cy="284.6"/><circle r="5.2" cx="358.7" cy="282.5"/><circle r="5.2" cx="363.8" cy="285.6"/><circle r="5.2" cx="357.7" cy="297"/><circle r="5.2" cx="353" cy="259.2"/><circle r="5.2" cx="352.4" cy="265.3"/><circle r="5.2" cx="362.8" cy="270.8"/><circle r="5.2" cx="348.4" cy="270.8"/><circle r="5.2" cx="368.5" cy="263.1"/><circle r="5.2" cx="362.1" cy="260.6"/><circle r="5.2" cx="368.6" cy="289.9"/><circle r="5.2" cx="371.2" cy="284.8"/><circle r="5.2" cx="362.6" cy="290.4"/><circle r="5.2" cx="373" cy="279.8"/><circle r="5.2" cx="355.5" cy="270.4"/><circle r="5.2" cx="366.2" cy="252.1"/><circle r="5.2" cx="354.1" cy="274.2"/><circle r="5.2" cx="369.7" cy="269"/><circle r="5.2" cx="360" cy="265.1"/><circle r="5.2" cx="367.2" cy="302.5"/><circle r="5.2" cx="365.3" cy="282"/><circle r="5.2" cx="351.6" cy="274.9"/><circle r="5.2" cx="370.2" cy="293.6"/><circle r="5.2" cx="355.1" cy="279.4"/><circle r="5.2" cx="366.3" cy="284.7"/><circle r="5.2" cx="356.9" cy="257.7"/><circle r="5.2" cx="359.1" cy="296.9"/><circle r="5.2" cx="367.9" cy="276"/><circle r="5.2" cx="359.3" cy="253.9"/><circle r="5.2" cx="359.7" cy="281.6"/><circle r="5.2" cx="360.7" cy="277.7"/><circle r="5.2" cx="354.4" cy="254.9"/><circle r="5.2" cx="367.3" cy="282.7"/><circle r="5.2" cx="367.1" cy="290.2"/><circle r="5.2" cx="358.8" cy="263.3"/><circle r="5.2" cx="352" cy="287.7"/><circle r="5.2" cx="370.6" cy="279.8"/><circle r="5.2" cx="353.5" cy="252.7"/><circle r="5.2" cx="375.2" cy="244"/><circle r="5.2" cx="375.8" cy="235"/><circle r="5.2" cx="369.9" cy="324.3"/><circle r="5.2" cx="376.4" cy="305.1"/><circle r="5.2" cx="393.1" cy="321.3"/><circle r="5.2" cx="355.8" cy="323.6"/><circle r="5.2" cx="357.1" cy="311.9"/><circle r="5.2" cx="377.4" cy="318"/><circle r="5.2" cx="386.8" cy="325.4"/><circle r="5.2" cx="366.4" cy="306"/><circle r="5.2" cx="390.1" cy="334"/><circle r="5.2" cx="385.1" cy="310.3"/><circle r="5.2" cx="374" cy="329.1"/><circle r="5.2" cx="354.2" cy="247.1"/><circle r="5.2" cx="348.1" cy="245.6"/><circle r="5.2" cx="399.1" cy="262.2"/><circle r="5.2" cx="402" cy="293"/><circle r="5.2" cx="387.3" cy="255.1"/><circle r="5.2" cx="395.3" cy="297.6"/></g><g fill="#ED665D" stroke="#ED665D"><circle r="5.2" cx="319" cy="321"/><circle r="5.2" cx="322.6" cy="333"/><circle r="5.2" cx="351.4" cy="348"/><circle r="5.2" cx="349.6" cy="275"/></g><g fill="#ED665D" stroke="#ED665D" class="f"><circle r="5.2" cx="204.5" cy="348.5"/><circle r="5.2" cx="201.1" cy="325.4"/><circle r="5.2" cx="216.8" cy="377.2"/><circle r="5.2" cx="218.5" cy="335.7"/><circle r="5.2" cx="208.2" cy="321"/><circle r="5.2" cx="197.9" cy="373"/><circle r="5.2" cx="217.1" cy="354.5"/><circle r="5.2" cx="206.2" cy="356.6"/><circle r="5.2" cx="205.2" cy="333.2"/><circle r="5.2" cx="202.2" cy="313.9"/><circle r="5.2" cx="212" cy="383"/><circle r="5.2" cx="191.4" cy="344.8"/><circle r="5.2" cx="210.5" cy="351.1"/><circle r="5.2" cx="193.8" cy="339.8"/><circle r="5.2" cx="198.3" cy="332.3"/><circle r="5.2" cx="209.9" cy="330.6"/><circle r="5.2" cx="199.2" cy="356.9"/><circle r="5.2" cx="215.1" cy="361.7"/><circle r="5.2" cx="217.2" cy="343.5"/><circle r="5.2" cx="209.5" cy="371.9"/><circle r="5.2" cx="193.3" cy="331.3"/><circle r="5.2" cx="199.3" cy="342"/><circle r="5.2" cx="217.8" cy="370.6"/><circle r="5.2" cx="206" cy="376.7"/><circle r="5.2" cx="205.5" cy="358.3"/><circle r="5.2" cx="203.2" cy="364.8"/><circle r="5.2" cx="207" cy="313.6"/><circle r="5.2" cx="200.9" cy="363.4"/><circle r="5.2" cx="205.9" cy="364.6"/><circle r="5.2" cx="210.8" cy="366.9"/><circle r="5.2" cx="210.7" cy="361.7"/><circle r="5.2" cx="199.8" cy="319.2"/><circle r="5.2" cx="195.3" cy="344.4"/><circle r="5.2" cx="209.6" cy="351.5"/><circle r="5.2" cx="212.4" cy="339.6"/><circle r="5.2" cx="202.3" cy="356.5"/><circle r="5.2" cx="219.4" cy="363.1"/><circle r="5.2" cx="208.5" cy="370"/><circle r="5.2" cx="204.4" cy="330.4"/><circle r="5.2" cx="203.5" cy="342.6"/><circle r="5.2" cx="215.3" cy="329.7"/><circle r="5.2" cx="197.6" cy="352.5"/><circle r="5.2" cx="205.3" cy="323.9"/><circle r="5.2" cx="214.4" cy="348.8"/><circle r="5.2" cx="213.9" cy="326.5"/><circle r="5.2" cx="202.2" cy="316.8"/><circle r="5.2" cx="214" cy="355"/><circle r="5.2" cx="218.6" cy="377.6"/><circle r="5.2" cx="199.5" cy="368.9"/><circle r="5.2" cx="203.5" cy="339"/><circle r="5.2" cx="204.1" cy="352.7"/><circle r="5.2" cx="198.3" cy="360.8"/><circle r="5.2" cx="200.4" cy="355.2"/><circle r="5.2" cx="194" cy="324.3"/><circle r="5.2" cx="195.3" cy="322.2"/><circle r="5.2" cx="217.4" cy="351.8"/><circle r="5.2" cx="206.5" cy="348.5"/><circle r="5.2" cx="202.2" cy="325"/><circle r="5.2" cx="210.7" cy="376.4"/><circle r="5.2" cx="194.4" cy="360.1"/><circle r="5.2" cx="212.5" cy="360.3"/><circle r="5.2" cx="199.2" cy="348.3"/><circle r="5.2" cx="204.7" cy="345.5"/><circle r="5.2" cx="217.8" cy="371.7"/><circle r="5.2" cx="196" cy="336.5"/><circle r="5.2" cx="204.1" cy="331.4"/><circle r="5.2" cx="201.1" cy="377.6"/><circle r="5.2" cx="204.4" cy="324.7"/><circle r="5.2" cx="202.4" cy="339.5"/><circle r="5.2" cx="197.9" cy="365"/><circle r="5.2" cx="213.9" cy="343.7"/><circle r="5.2" cx="202.7" cy="346.9"/><circle r="5.2" cx="220.5" cy="371.1"/><circle r="5.2" cx="207" cy="370.3"/><circle r="5.2" cx="218.9" cy="359.2"/><circle r="5.2" cx="199.9" cy="373.8"/><circle r="5.2" cx="201" cy="357.8"/><circle r="5.2" cx="193.1" cy="341.6"/><circle r="5.2" cx="200" cy="334.6"/><circle r="5.2" cx="191.6" cy="352.4"/><circle r="5.2" cx="197.5" cy="339.6"/><circle r="5.2" cx="214.9" cy="340.5"/><circle r="5.2" cx="218" cy="354.2"/><circle r="5.2" cx="220" cy="334.3"/><circle r="5.2" cx="204.9" cy="317"/><circle r="5.2" cx="217.2" cy="368.9"/><circle r="5.2" cx="207.7" cy="357.1"/><circle r="5.2" cx="210.5" cy="323.1"/><circle r="5.2" cx="214.7" cy="354.6"/><circle r="5.2" cx="206.2" cy="331.5"/><circle r="5.2" cx="198.4" cy="369.8"/><circle r="5.2" cx="209.8" cy="343.4"/><circle r="5.2" cx="193.3" cy="329.1"/><circle r="5.2" cx="202.2" cy="372.8"/><circle r="5.2" cx="197.7" cy="330.4"/><circle r="5.2" cx="216.4" cy="368.4"/><circle r="5.2" cx="195.6" cy="336.1"/><circle r="5.2" cx="199.6" cy="314.3"/><circle r="5.2" cx="212" cy="364.2"/><circle r="5.2" cx="192.1" cy="357.9"/><circle r="5.2" cx="216.5" cy="333.5"/><circle r="5.2" cx="197.7" cy="343.1"/><circle r="5.2" cx="214.1" cy="347.1"/><circle r="5.2" cx="213" cy="333.7"/><circle r="5.2" cx="202.4" cy="358.9"/><circle r="5.2" cx="215" cy="356.7"/><circle r="5.2" cx="211.6" cy="328.8"/><circle r="5.2" cx="220.7" cy="361"/><circle r="5.2" cx="207.1" cy="336.6"/><circle r="5.2" cx="216.4" cy="341.6"/><circle r="5.2" cx="212.6" cy="360.1"/><circle r="5.2" cx="204.1" cy="339.8"/><circle r="5.2" cx="209.4" cy="348.8"/><circle r="5.2" cx="209.9" cy="321.9"/><circle r="5.2" cx="191.8" cy="341.9"/><circle r="5.2" cx="213" cy="378"/><circle r="5.2" cx="217.5" cy="353.1"/><circle r="5.2" cx="199.3" cy="324.6"/><circle r="5.2" cx="208.8" cy="354"/><circle r="5.2" cx="208.2" cy="342.1"/><circle r="5.2" cx="206.8" cy="356.2"/><circle r="5.2" cx="210.6" cy="332.2"/><circle r="5.2" cx="209.5" cy="344.1"/><circle r="5.2" cx="213.3" cy="362"/><circle r="5.2" cx="197.4" cy="319.3"/><circle r="5.2" cx="196.8" cy="343.5"/><circle r="5.2" cx="223.8" cy="369.9"/><circle r="5.2" cx="194.6" cy="352.1"/><circle r="5.2" cx="204.5" cy="352"/><circle r="5.2" cx="181.4" cy="338.3"/><circle r="5.2" cx="172.1" cy="337.1"/><circle r="5.2" cx="172.3" cy="338.8"/><circle r="5.2" cx="181.2" cy="343.9"/><circle r="5.2" cx="177.7" cy="341.3"/><circle r="5.2" cx="178.3" cy="336.2"/><circle r="5.2" cx="185.7" cy="339.6"/><circle r="5.2" cx="172.3" cy="338.3"/><circle r="5.2" cx="186.1" cy="338.8"/></g><g fill="#ED665D" stroke="#ED665D"><circle r="5.2" cx="186.6" cy="340.5"/><circle r="5.2" cx="186.9" cy="340.3"/><circle r="5.2" cx="189.8" cy="337.5"/><circle r="5.2" cx="190" cy="337.3"/><circle r="5.2" cx="183.9" cy="342"/><circle r="5.2" cx="184.2" cy="341.8"/><circle r="5.2" cx="190.2" cy="343.5"/><circle r="5.2" cx="190.5" cy="343.3"/></g><g fill="#ED665D" stroke="#ED665D" class="f"><circle r="5.2" cx="448.6" cy="341.5"/><circle r="5.2" cx="429.3" cy="403.1"/><circle r="5.2" cx="447.1" cy="370.5"/><circle r="5.2" cx="423.1" cy="377.6"/><circle r="5.2" cx="468.5" cy="365"/><circle r="5.2" cx="465.6" cy="349"/><circle r="5.2" cx="454.3" cy="394"/><circle r="5.2" cx="436.2" cy="394.3"/><circle r="5.2" cx="447.5" cy="356.1"/><circle r="5.2" cx="419" cy="391.1"/><circle r="5.2" cx="425.1" cy="360.7"/><circle r="5.2" cx="453.6" cy="338.1"/><circle r="5.2" cx="442.6" cy="369.1"/><circle r="5.2" cx="455.4" cy="382.2"/><circle r="5.2" cx="449.9" cy="351.7"/><circle r="5.2" cx="458.6" cy="357.8"/><circle r="5.2" cx="431" cy="381.2"/><circle r="5.2" cx="459.3" cy="374.2"/><circle r="5.2" cx="469.4" cy="338.3"/><circle r="5.2" cx="439.2" cy="384.5"/><circle r="5.2" cx="432.5" cy="384.8"/><circle r="5.2" cx="424.9" cy="391.2"/><circle r="5.2" cx="450" cy="362.8"/><circle r="5.2" cx="418.5" cy="399.1"/><circle r="5.2" cx="415.2" cy="382.4"/><circle r="5.2" cx="417.9" cy="408.5"/><circle r="5.2" cx="442.6" cy="364.5"/><circle r="5.2" cx="432.9" cy="374.5"/><circle r="5.2" cx="457.8" cy="367.5"/><circle r="5.2" cx="430.2" cy="385.3"/><circle r="5.2" cx="451.9" cy="338.7"/><circle r="5.2" cx="428.3" cy="376"/><circle r="5.2" cx="467.5" cy="360.7"/><circle r="5.2" cx="422.2" cy="369.1"/><circle r="5.2" cx="439.7" cy="378.4"/><circle r="5.2" cx="436.8" cy="358.1"/><circle r="5.2" cx="438.8" cy="347.6"/><circle r="5.2" cx="419.4" cy="374"/><circle r="5.2" cx="445.1" cy="403.8"/><circle r="5.2" cx="454.9" cy="354.3"/><circle r="5.2" cx="429.4" cy="369.4"/><circle r="5.2" cx="414.5" cy="403.8"/><circle r="5.2" cx="467.8" cy="354.3"/><circle r="5.2" cx="456.6" cy="343.2"/><circle r="5.2" cx="437.7" cy="400"/><circle r="5.2" cx="446.3" cy="379.1"/><circle r="5.2" cx="462.2" cy="350.5"/><circle r="5.2" cx="445.5" cy="374.6"/><circle r="5.2" cx="465.8" cy="371.7"/><circle r="5.2" cx="430.9" cy="356.7"/><circle r="5.2" cx="449.6" cy="377.1"/><circle r="5.2" cx="423.4" cy="382.6"/><circle r="5.2" cx="410.8" cy="388"/><circle r="5.2" cx="408.4" cy="395"/><circle r="5.2" cx="460.2" cy="362"/><circle r="5.2" cx="429.1" cy="389.6"/><circle r="5.2" cx="446.9" cy="357.6"/><circle r="5.2" cx="461.7" cy="380.8"/><circle r="5.2" cx="445" cy="390.2"/><circle r="5.2" cx="435.3" cy="405.3"/><circle r="5.2" cx="435.3" cy="401.8"/><circle r="5.2" cx="441.1" cy="373.6"/><circle r="5.2" cx="451.8" cy="348"/><circle r="5.2" cx="465.9" cy="365.5"/><circle r="5.2" cx="469.8" cy="361.2"/><circle r="5.2" cx="427.1" cy="367.9"/><circle r="5.2" cx="452.4" cy="371.5"/><circle r="5.2" cx="427.1" cy="371.7"/><circle r="5.2" cx="453.5" cy="392.6"/><circle r="5.2" cx="437.7" cy="366.5"/><circle r="5.2" cx="440.4" cy="395.3"/><circle r="5.2" cx="443.7" cy="351.8"/><circle r="5.2" cx="460.6" cy="337.5"/><circle r="5.2" cx="470.9" cy="350.7"/><circle r="5.2" cx="446" cy="347"/><circle r="5.2" cx="435.5" cy="352.5"/><circle r="5.2" cx="441.8" cy="368.8"/><circle r="5.2" cx="453.7" cy="375.4"/><circle r="5.2" cx="461.2" cy="345.8"/><circle r="5.2" cx="465" cy="335.7"/><circle r="5.2" cx="441.7" cy="392.4"/><circle r="5.2" cx="433" cy="395.9"/><circle r="5.2" cx="438.7" cy="374.1"/><circle r="5.2" cx="435.3" cy="365.9"/><circle r="5.2" cx="442.5" cy="396.4"/><circle r="5.2" cx="452.2" cy="386.5"/><circle r="5.2" cx="426.4" cy="366.1"/><circle r="5.2" cx="449.5" cy="384.8"/><circle r="5.2" cx="454.3" cy="366.9"/><circle r="5.2" cx="456.8" cy="355.5"/><circle r="5.2" cx="430.7" cy="365"/><circle r="5.2" cx="417.5" cy="398.5"/><circle r="5.2" cx="427.3" cy="367.9"/><circle r="5.2" cx="465.2" cy="360.7"/><circle r="5.2" cx="444.3" cy="358.9"/><circle r="5.2" cx="464.6" cy="359.5"/><circle r="5.2" cx="475.5" cy="349.8"/><circle r="5.2" cx="452.8" cy="359.3"/><circle r="5.2" cx="423.6" cy="405.3"/><circle r="5.2" cx="420.5" cy="378.7"/><circle r="5.2" cx="440.7" cy="359.1"/><circle r="5.2" cx="458.3" cy="375.5"/><circle r="5.2" cx="436.1" cy="371.1"/><circle r="5.2" cx="451.2" cy="375.4"/><circle r="5.2" cx="444.2" cy="358.6"/><circle r="5.2" cx="464.5" cy="356.4"/><circle r="5.2" cx="457.9" cy="351.8"/><circle r="5.2" cx="438.4" cy="380.5"/><circle r="5.2" cx="414.6" cy="386"/><circle r="5.2" cx="437.8" cy="402.8"/><circle r="5.2" cx="457.4" cy="345.8"/><circle r="5.2" cx="418.3" cy="376.5"/><circle r="5.2" cx="450.9" cy="335.6"/><circle r="5.2" cx="452" cy="364.5"/><circle r="5.2" cx="422.8" cy="369.7"/><circle r="5.2" cx="425.5" cy="393.4"/><circle r="5.2" cx="443.9" cy="379.5"/><circle r="5.2" cx="457" cy="344"/><circle r="5.2" cx="430.1" cy="405.7"/><circle r="5.2" cx="454.4" cy="400.1"/><circle r="5.2" cx="472.3" cy="361.4"/><circle r="5.2" cx="421.8" cy="395.4"/><circle r="5.2" cx="442.5" cy="381.8"/><circle r="5.2" cx="457.3" cy="389.3"/><circle r="5.2" cx="445.5" cy="394.1"/><circle r="5.2" cx="416.7" cy="395.5"/><circle r="5.2" cx="446.8" cy="400.4"/><circle r="5.2" cx="427.2" cy="383.5"/><circle r="5.2" cx="459.1" cy="364.6"/><circle r="5.2" cx="452.6" cy="393"/><circle r="5.2" cx="437.6" cy="354.3"/><circle r="5.2" cx="412" cy="399.1"/><circle r="5.2" cx="416.8" cy="383"/><circle r="5.2" cx="423" cy="397.4"/><circle r="5.2" cx="453" cy="356.9"/><circle r="5.2" cx="446.4" cy="356.4"/><circle r="5.2" cx="457.2" cy="374.5"/><circle r="5.2" cx="429.1" cy="403.1"/><circle r="5.2" cx="450.9" cy="370"/><circle r="5.2" cx="457.1" cy="352.9"/><circle r="5.2" cx="450.4" cy="384.9"/><circle r="5.2" cx="427.1" cy="397.2"/><circle r="5.2" cx="466.8" cy="344.5"/><circle r="5.2" cx="448" cy="397.6"/><circle r="5.2" cx="433.4" cy="370.8"/><circle r="5.2" cx="464.9" cy="373.3"/><circle r="5.2" cx="443.7" cy="365.3"/><circle r="5.2" cx="470.8" cy="347.7"/><circle r="5.2" cx="453.5" cy="393.6"/><circle r="5.2" cx="420.3" cy="390.5"/><circle r="5.2" cx="441.7" cy="368.4"/><circle r="5.2" cx="432.5" cy="389.1"/><circle r="5.2" cx="458" cy="374.7"/><circle r="5.2" cx="460.8" cy="371.7"/><circle r="5.2" cx="441.2" cy="406.7"/><circle r="5.2" cx="448.5" cy="386.9"/><circle r="5.2" cx="437.1" cy="386.7"/><circle r="5.2" cx="451.4" cy="401.9"/><circle r="5.2" cx="437.8" cy="406.5"/><circle r="5.2" cx="412.2" cy="388"/><circle r="5.2" cx="443.3" cy="367.5"/><circle r="5.2" cx="465.7" cy="360.7"/><circle r="5.2" cx="435.2" cy="380.1"/><circle r="5.2" cx="462.9" cy="339.2"/><circle r="5.2" cx="461.3" cy="368.7"/><circle r="5.2" cx="425.4" cy="404.7"/><circle r="5.2" cx="421.8" cy="404.3"/><circle r="5.2" cx="444.2" cy="396.3"/><circle r="5.2" cx="427.6" cy="387.2"/><circle r="5.2" cx="436.3" cy="370.2"/><circle r="5.2" cx="446.9" cy="381.7"/><circle r="5.2" cx="470.4" cy="365.2"/><circle r="5.2" cx="448.3" cy="369.8"/><circle r="5.2" cx="457.3" cy="342.3"/><circle r="5.2" cx="469.2" cy="355.8"/><circle r="5.2" cx="452.5" cy="359.5"/><circle r="5.2" cx="446.9" cy="390"/><circle r="5.2" cx="426.9" cy="380.4"/></g><g fill="#ED665D" stroke="#ED665D"><circle r="5.2" cx="497.3" cy="372.6"/></g><g fill="#ED665D" stroke="#ED665D" class="f"><circle r="5.2" cx="477.2" cy="334.5"/><circle r="5.2" cx="483.1" cy="343.4"/><circle r="5.2" cx="488.5" cy="328.1"/><circle r="5.2" cx="488.2" cy="338.3"/><circle r="5.2" cx="484.3" cy="326.3"/><circle r="5.2" cx="483.8" cy="332.2"/><circle r="5.2" cx="480.6" cy="329.4"/><circle r="5.2" cx="480.8" cy="331.4"/><circle r="5.2" cx="485.1" cy="338.1"/><circle r="5.2" cx="489.4" cy="342.9"/><circle r="5.2" cx="490.8" cy="332.5"/><circle r="5.2" cx="478" cy="338.9"/><circle r="5.2" cx="488.1" cy="345.3"/><circle r="5.2" cx="486.9" cy="338.3"/><circle r="5.2" cx="478.3" cy="342"/><circle r="5.2" cx="491.3" cy="341.3"/><circle r="5.2" cx="487.5" cy="340.6"/><circle r="5.2" cx="480.4" cy="340.4"/><circle r="5.2" cx="477.9" cy="338.8"/><circle r="5.2" cx="481.7" cy="324.8"/><circle r="5.2" cx="481.7" cy="334.9"/><circle r="5.2" cx="334.5" cy="553.3"/><circle r="5.2" cx="345.5" cy="466.9"/><circle r="5.2" cx="295.5" cy="493.8"/><circle r="5.2" cx="317.2" cy="529"/><circle r="5.2" cx="345.8" cy="499.3"/><circle r="5.2" cx="310.7" cy="488.9"/><circle r="5.2" cx="349.3" cy="557.5"/><circle r="5.2" cx="337.1" cy="440.6"/><circle r="5.2" cx="309.6" cy="510.1"/><circle r="5.2" cx="296.6" cy="519.3"/><circle r="5.2" cx="328.4" cy="534.9"/><circle r="5.2" cx="356.2" cy="470.2"/><circle r="5.2" cx="309.2" cy="527.6"/><circle r="5.2" cx="344" cy="522.2"/><circle r="5.2" cx="353.2" cy="492.8"/><circle r="5.2" cx="319.4" cy="498.3"/><circle r="5.2" cx="352.9" cy="545.6"/><circle r="5.2" cx="335.4" cy="488"/><circle r="5.2" cx="327.1" cy="556.4"/><circle r="5.2" cx="354.3" cy="503.4"/><circle r="5.2" cx="352.6" cy="450.1"/><circle r="5.2" cx="345.7" cy="458.2"/><circle r="5.2" cx="321.2" cy="508.4"/><circle r="5.2" cx="323.2" cy="518.3"/><circle r="5.2" cx="343.9" cy="511.9"/><circle r="5.2" cx="346.6" cy="446.2"/><circle r="5.2" cx="333.2" cy="495.1"/><circle r="5.2" cx="315" cy="537.5"/><circle r="5.2" cx="351.1" cy="482.8"/><circle r="5.2" cx="353.1" cy="457.6"/><circle r="5.2" cx="323.8" cy="545.1"/><circle r="5.2" cx="338.4" cy="544.4"/><circle r="5.2" cx="348.8" cy="452.1"/><circle r="5.2" cx="334.8" cy="531.5"/><circle r="5.2" cx="293.4" cy="505.6"/><circle r="5.2" cx="299.1" cy="512.5"/><circle r="5.2" cx="293.3" cy="527.9"/><circle r="5.2" cx="316.4" cy="503.6"/><circle r="5.2" cx="355" cy="479.1"/><circle r="5.2" cx="345.9" cy="474.9"/><circle r="5.2" cx="308" cy="526.4"/><circle r="5.2" cx="328.7" cy="515.9"/><circle r="5.2" cx="333.7" cy="520.5"/><circle r="5.2" cx="344.4" cy="493.1"/><circle r="5.2" cx="300.5" cy="492.1"/><circle r="5.2" cx="332.2" cy="560.7"/><circle r="5.2" cx="333.8" cy="511"/><circle r="5.2" cx="344" cy="530.4"/><circle r="5.2" cx="294" cy="499.8"/><circle r="5.2" cx="346.4" cy="537.9"/><circle r="5.2" cx="324.6" cy="514"/><circle r="5.2" cx="347.7" cy="489.2"/><circle r="5.2" cx="328.5" cy="524.8"/><circle r="5.2" cx="340.4" cy="493.2"/><circle r="5.2" cx="348.5" cy="494.3"/><circle r="5.2" cx="312.5" cy="512.7"/><circle r="5.2" cx="312.3" cy="530.5"/><circle r="5.2" cx="307.1" cy="534.3"/><circle r="5.2" cx="341.6" cy="481.8"/><circle r="5.2" cx="300.2" cy="519"/><circle r="5.2" cx="322.7" cy="530.5"/><circle r="5.2" cx="319.1" cy="544.1"/><circle r="5.2" cx="333.7" cy="483.4"/><circle r="5.2" cx="318.3" cy="499.7"/><circle r="5.2" cx="306" cy="504.4"/><circle r="5.2" cx="301.4" cy="525.2"/><circle r="5.2" cx="347.8" cy="524"/><circle r="5.2" cx="342.8" cy="544.9"/><circle r="5.2" cx="342.1" cy="478.4"/><circle r="5.2" cx="297.5" cy="531.9"/><circle r="5.2" cx="313.5" cy="510.6"/><circle r="5.2" cx="351" cy="469.4"/><circle r="5.2" cx="349.1" cy="514.8"/><circle r="5.2" cx="303.6" cy="517.7"/><circle r="5.2" cx="346.6" cy="442.2"/><circle r="5.2" cx="308.6" cy="518.5"/><circle r="5.2" cx="342.1" cy="523.6"/><circle r="5.2" cx="340.9" cy="507.5"/><circle r="5.2" cx="312.6" cy="494.4"/><circle r="5.2" cx="343.9" cy="538.2"/><circle r="5.2" cx="346.1" cy="518.4"/><circle r="5.2" cx="324.7" cy="502.3"/><circle r="5.2" cx="331.4" cy="502.4"/><circle r="5.2" cx="314.9" cy="517.2"/><circle r="5.2" cx="357" cy="464.1"/><circle r="5.2" cx="332.9" cy="531.2"/><circle r="5.2" cx="326.4" cy="501"/><circle r="5.2" cx="307.1" cy="496.1"/><circle r="5.2" cx="330.4" cy="548.6"/><circle r="5.2" cx="324.5" cy="521.4"/><circle r="5.2" cx="327.1" cy="492.4"/><circle r="5.2" cx="337.2" cy="487.5"/><circle r="5.2" cx="326.7" cy="561.8"/><circle r="5.2" cx="348.8" cy="553.9"/><circle r="5.2" cx="317.2" cy="513.3"/><circle r="5.2" cx="311.9" cy="499.3"/><circle r="5.2" cx="339.6" cy="500.7"/><circle r="5.2" cx="323.8" cy="522.7"/><circle r="5.2" cx="303.4" cy="517.3"/><circle r="5.2" cx="353.4" cy="485.2"/><circle r="5.2" cx="349.4" cy="549.9"/><circle r="5.2" cx="331" cy="526.1"/><circle r="5.2" cx="351.5" cy="518.7"/><circle r="5.2" cx="323.7" cy="539.9"/><circle r="5.2" cx="345.1" cy="516.8"/><circle r="5.2" cx="322.3" cy="537.4"/><circle r="5.2" cx="292.3" cy="514.2"/><circle r="5.2" cx="306" cy="515.3"/><circle r="5.2" cx="337.5" cy="517.9"/><circle r="5.2" cx="343.8" cy="552"/><circle r="5.2" cx="326.8" cy="552.5"/><circle r="5.2" cx="300.8" cy="508.6"/><circle r="5.2" cx="338" cy="536.2"/><circle r="5.2" cx="330.4" cy="541.2"/><circle r="5.2" cx="347.6" cy="513.4"/><circle r="5.2" cx="300.8" cy="499.1"/><circle r="5.2" cx="355.4" cy="468.4"/><circle r="5.2" cx="351.5" cy="536.7"/><circle r="5.2" cx="348.7" cy="499"/><circle r="5.2" cx="351.1" cy="479"/><circle r="5.2" cx="324" cy="491.4"/><circle r="5.2" cx="337.8" cy="475.6"/><circle r="5.2" cx="329.2" cy="495.7"/><circle r="5.2" cx="346.6" cy="508.9"/><circle r="5.2" cx="340.5" cy="447"/><circle r="5.2" cx="348.2" cy="520.9"/><circle r="5.2" cx="305.5" cy="531"/><circle r="5.2" cx="325" cy="538.9"/><circle r="5.2" cx="334.4" cy="544.6"/><circle r="5.2" cx="349.4" cy="532.4"/><circle r="5.2" cx="334.3" cy="531.5"/><circle r="5.2" cx="335.3" cy="539.8"/><circle r="5.2" cx="349.8" cy="459.4"/><circle r="5.2" cx="352.1" cy="512.6"/><circle r="5.2" cx="323.4" cy="556.7"/><circle r="5.2" cx="306.1" cy="486.1"/><circle r="5.2" cx="333.1" cy="534.6"/><circle r="5.2" cx="325.5" cy="495"/><circle r="5.2" cx="295.3" cy="517.8"/><circle r="5.2" cx="339.3" cy="503.7"/><circle r="5.2" cx="332.1" cy="554.6"/><circle r="5.2" cx="353.8" cy="469.5"/><circle r="5.2" cx="307.7" cy="501.8"/><circle r="5.2" cx="301.9" cy="532.5"/><circle r="5.2" cx="312.5" cy="517.5"/><circle r="5.2" cx="321.1" cy="549.1"/><circle r="5.2" cx="337.7" cy="476.6"/><circle r="5.2" cx="342.6" cy="528"/><circle r="5.2" cx="300.5" cy="501"/><circle r="5.2" cx="349.8" cy="458.6"/><circle r="5.2" cx="297.8" cy="525.3"/><circle r="5.2" cx="333.1" cy="546"/><circle r="5.2" cx="341.8" cy="488.3"/><circle r="5.2" cx="336.8" cy="504.8"/><circle r="5.2" cx="301.5" cy="524.8"/><circle r="5.2" cx="322.6" cy="493.6"/><circle r="5.2" cx="320.1" cy="533.1"/><circle r="5.2" cx="319.2" cy="516.5"/><circle r="5.2" cx="329.6" cy="557.3"/><circle r="5.2" cx="297.9" cy="506.5"/><circle r="5.2" cx="351" cy="517.1"/><circle r="5.2" cx="311" cy="505.4"/><circle r="5.2" cx="346" cy="453"/><circle r="5.2" cx="333.1" cy="492.6"/><circle r="5.2" cx="317.1" cy="494.5"/><circle r="5.2" cx="322.8" cy="490.6"/><circle r="5.2" cx="334.8" cy="525.3"/><circle r="5.2" cx="321.9" cy="502.2"/><circle r="5.2" cx="341.8" cy="505.8"/><circle r="5.2" cx="291.1" cy="512.4"/><circle r="5.2" cx="295.7" cy="531.1"/><circle r="5.2" cx="316.8" cy="507.5"/><circle r="5.2" cx="343" cy="463"/><circle r="5.2" cx="351.5" cy="489.3"/><circle r="5.2" cx="304.3" cy="496"/><circle r="5.2" cx="321.5" cy="517.4"/><circle r="5.2" cx="314.1" cy="527.1"/><circle r="5.2" cx="308.6" cy="535.7"/><circle r="5.2" cx="348.8" cy="545.5"/><circle r="5.2" cx="295.5" cy="502.2"/><circle r="5.2" cx="339.4" cy="554.9"/><circle r="5.2" cx="322.4" cy="530"/><circle r="5.2" cx="331" cy="506.7"/><circle r="5.2" cx="297.7" cy="495.6"/><circle r="5.2" cx="353.7" cy="511.3"/><circle r="5.2" cx="350.6" cy="446.2"/><circle r="5.2" cx="326.8" cy="512.2"/><circle r="5.2" cx="351.1" cy="485.1"/><circle r="5.2" cx="334.1" cy="482.6"/><circle r="5.2" cx="354.8" cy="498.9"/><circle r="5.2" cx="321.1" cy="504.3"/><circle r="5.2" cx="346.8" cy="469.8"/><circle r="5.2" cx="333" cy="506.4"/><circle r="5.2" cx="342.4" cy="491.8"/><circle r="5.2" cx="344.9" cy="509.6"/><circle r="5.2" cx="302.7" cy="503.2"/><circle r="5.2" cx="316" cy="525.3"/><circle r="5.2" cx="320.6" cy="512.5"/><circle r="5.2" cx="307.5" cy="518"/><circle r="5.2" cx="352.4" cy="449.9"/><circle r="5.2" cx="324.2" cy="522.6"/><circle r="5.2" cx="325.1" cy="562.6"/><circle r="5.2" cx="350.6" cy="506.2"/><circle r="5.2" cx="348.4" cy="455.2"/><circle r="5.2" cx="326.8" cy="549.6"/><circle r="5.2" cx="324.6" cy="502.1"/><circle r="5.2" cx="315.3" cy="529"/><circle r="5.2" cx="330.8" cy="524"/><circle r="5.2" cx="327.7" cy="543.2"/><circle r="5.2" cx="342.7" cy="479.1"/><circle r="5.2" cx="348.5" cy="475.2"/><circle r="5.2" cx="355.5" cy="512"/><circle r="5.2" cx="301.7" cy="489.5"/><circle r="5.2" cx="343" cy="506.9"/><circle r="5.2" cx="342.9" cy="471.2"/><circle r="5.2" cx="329.1" cy="521.2"/><circle r="5.2" cx="318.5" cy="542.2"/><circle r="5.2" cx="294.2" cy="503.7"/><circle r="5.2" cx="348.9" cy="512.6"/><circle r="5.2" cx="310.3" cy="491.8"/><circle r="5.2" cx="309.3" cy="506.8"/><circle r="5.2" cx="337.4" cy="500.6"/><circle r="5.2" cx="320.7" cy="534.5"/><circle r="5.2" cx="349.6" cy="552.2"/><circle r="5.2" cx="309.7" cy="530.5"/><circle r="5.2" cx="339.5" cy="472.5"/><circle r="5.2" cx="339.1" cy="546.5"/><circle r="5.2" cx="350.5" cy="538.7"/><circle r="5.2" cx="335.9" cy="521.2"/><circle r="5.2" cx="315.8" cy="500.2"/><circle r="5.2" cx="346.3" cy="490"/><circle r="5.2" cx="343.3" cy="519.4"/><circle r="5.2" cx="327.6" cy="538.1"/><circle r="5.2" cx="349" cy="441.9"/><circle r="5.2" cx="354.8" cy="484"/><circle r="5.2" cx="350" cy="555.8"/><circle r="5.2" cx="291.5" cy="525.5"/><circle r="5.2" cx="315.2" cy="538.8"/><circle r="5.2" cx="328.3" cy="566.2"/><circle r="5.2" cx="343.9" cy="520.2"/><circle r="5.2" cx="354.7" cy="482.7"/><circle r="5.2" cx="343.9" cy="533.4"/><circle r="5.2" cx="346.1" cy="497.6"/><circle r="5.2" cx="337.5" cy="548.2"/><circle r="5.2" cx="341.7" cy="443.9"/><circle r="5.2" cx="313.4" cy="523.8"/><circle r="5.2" cx="326.3" cy="524.4"/><circle r="5.2" cx="332.2" cy="555.9"/><circle r="5.2" cx="335.4" cy="514.5"/><circle r="5.2" cx="298.7" cy="500.5"/><circle r="5.2" cx="296.6" cy="512.4"/><circle r="5.2" cx="339.4" cy="520.3"/><circle r="5.2" cx="357.9" cy="472.2"/><circle r="5.2" cx="348.2" cy="459.9"/><circle r="5.2" cx="352.1" cy="495.5"/><circle r="5.2" cx="309.9" cy="517.2"/><circle r="5.2" cx="299.7" cy="530"/><circle r="5.2" cx="345.5" cy="554.9"/><circle r="5.2" cx="344.4" cy="476.8"/><circle r="5.2" cx="355.6" cy="461.9"/><circle r="5.2" cx="350" cy="537.2"/><circle r="5.2" cx="339.9" cy="541.8"/><circle r="5.2" cx="340.1" cy="497.9"/><circle r="5.2" cx="303.7" cy="510.4"/><circle r="5.2" cx="350" cy="535.5"/><circle r="5.2" cx="313.7" cy="510.9"/><circle r="5.2" cx="350.5" cy="467.1"/><circle r="5.2" cx="295.3" cy="493.9"/><circle r="5.2" cx="329.7" cy="488.6"/><circle r="5.2" cx="328.4" cy="531.5"/><circle r="5.2" cx="309.6" cy="503.8"/><circle r="5.2" cx="344.1" cy="465.3"/><circle r="5.2" cx="346.4" cy="483.2"/><circle r="5.2" cx="374.7" cy="486.7"/><circle r="5.2" cx="364.9" cy="504.3"/><circle r="5.2" cx="361.9" cy="481.9"/><circle r="5.2" cx="365.8" cy="495.7"/><circle r="5.2" cx="373.4" cy="499"/><circle r="5.2" cx="368.3" cy="474.2"/><circle r="5.2" cx="369.3" cy="483.7"/><circle r="5.2" cx="378.6" cy="479"/><circle r="5.2" cx="368.2" cy="481.1"/><circle r="5.2" cx="369.1" cy="501.7"/><circle r="5.2" cx="374.4" cy="505.4"/><circle r="5.2" cx="366.3" cy="511.1"/><circle r="5.2" cx="364.5" cy="487"/><circle r="5.2" cx="377.2" cy="491.5"/><circle r="5.2" cx="377.9" cy="486.2"/><circle r="5.2" cx="366.2" cy="477.1"/><circle r="5.2" cx="369.9" cy="508.4"/><circle r="5.2" cx="368.5" cy="479.4"/><circle r="5.2" cx="370.3" cy="495.5"/><circle r="5.2" cx="377.8" cy="483.9"/><circle r="5.2" cx="365.9" cy="473.8"/><circle r="5.2" cx="363.8" cy="499.5"/><circle r="5.2" cx="309.5" cy="470.8"/><circle r="5.2" cx="329.7" cy="475.7"/><circle r="5.2" cx="323" cy="462.3"/><circle r="5.2" cx="304.3" cy="462.2"/><circle r="5.2" cx="327.6" cy="469.9"/><circle r="5.2" cx="312" cy="464"/><circle r="5.2" cx="300.6" cy="468.1"/><circle r="5.2" cx="332" cy="443"/><circle r="5.2" cx="340.5" cy="444.8"/><circle r="5.2" cx="336.4" cy="438.9"/><circle r="5.2" cx="331.1" cy="445.4"/><circle r="5.2" cx="334.2" cy="445.9"/><circle r="5.2" cx="341.2" cy="439.5"/><circle r="5.2" cx="333" cy="444.9"/></g><g fill="#ED665D" stroke="#ED665D"><circle r="5.2" cx="292" cy="462.5"/><circle r="5.2" cx="267.2" cy="491.5"/><circle r="5.2" cx="273.1" cy="495.5"/><circle r="5.2" cx="378.5" cy="468"/><circle r="5.2" cx="383" cy="484"/><circle r="5.2" cx="380.3" cy="489"/><circle r="5.2" cx="252.1" cy="441"/><circle r="5.2" cx="251.9" cy="441.3"/><circle r="5.2" cx="252.4" cy="440.8"/><circle r="5.2" cx="337.7" cy="81.7"/></g>
<g fill="#BCBD22" stroke="#BCBD22"><circle r="5.2" cx="859.5" cy="329.5"/><circle r="5.2" cx="859.8" cy="329.3"/></g><g fill="#1F77B4" stroke="#1F77B4"><circle r="5.2" cx="1117.9" cy="407"/><circle r="5.2" cx="1081" cy="421"/><circle r="5.2" cx="1081.3" cy="420.8"/><circle r="5.2" cx="1086" cy="427"/><circle r="5.2" cx="1086.3" cy="426.8"/><circle r="5.2" cx="1083" cy="434"/><circle r="5.2" cx="1083.3" cy="433.8"/><circle r="5.2" cx="1078" cy="430"/><circle r="5.2" cx="1078.3" cy="429.8"/></g><g fill="#1F77B4" stroke="#1F77B4" class="f"><circle r="5.2" cx="992.8" cy="472.3"/><circle r="5.2" cx="1038.1" cy="454.9"/><circle r="5.2" cx="1028.2" cy="537.8"/><circle r="5.2" cx="1066.9" cy="507.6"/><circle r="5.2" cx="1037.4" cy="555.1"/><circle r="5.2" cx="991.6" cy="533.6"/><circle r="5.2" cx="1024.2" cy="516.6"/><circle r="5.2" cx="1051.5" cy="476.5"/><circle r="5.2" cx="1049.8" cy="540.9"/><circle r="5.2" cx="1008.7" cy="498.7"/><circle r="5.2" cx="1027.1" cy="497.1"/><circle r="5.2" cx="1057.2" cy="490.8"/><circle r="5.2" cx="1067.1" cy="454.4"/><circle r="5.2" cx="989" cy="486.9"/><circle r="5.2" cx="1013.3" cy="464.5"/><circle r="5.2" cx="1037.8" cy="515"/><circle r="5.2" cx="1011.1" cy="480.3"/><circle r="5.2" cx="992.3" cy="508"/><circle r="5.2" cx="1013.7" cy="526.8"/><circle r="5.2" cx="1028.7" cy="568.3"/><circle r="5.2" cx="1013.8" cy="547.2"/><circle r="5.2" cx="1032.9" cy="483.3"/><circle r="5.2" cx="1077" cy="492.7"/><circle r="5.2" cx="1050.9" cy="486"/><circle r="5.2" cx="1044.4" cy="467.9"/><circle r="5.2" cx="1050.3" cy="452.6"/><circle r="5.2" cx="1051.5" cy="561"/><circle r="5.2" cx="1009" cy="522.6"/><circle r="5.2" cx="998.2" cy="521.3"/><circle r="5.2" cx="1067.7" cy="464.8"/><circle r="5.2" cx="1036.7" cy="493.2"/><circle r="5.2" cx="1067.1" cy="498.1"/><circle r="5.2" cx="1030.2" cy="475"/><circle r="5.2" cx="1023.8" cy="450.3"/><circle r="5.2" cx="1000.7" cy="501.4"/><circle r="5.2" cx="1038.9" cy="527.8"/><circle r="5.2" cx="1054.9" cy="522.9"/><circle r="5.2" cx="1080.5" cy="501.7"/><circle r="5.2" cx="1002.2" cy="484.5"/><circle r="5.2" cx="1030.4" cy="463.5"/><circle r="5.2" cx="1046.9" cy="502.1"/><circle r="5.2" cx="1027.3" cy="555.2"/><circle r="5.2" cx="1011.3" cy="475.4"/><circle r="5.2" cx="1017.3" cy="515.3"/><circle r="5.2" cx="996" cy="476.6"/><circle r="5.2" cx="1056.5" cy="465.6"/><circle r="5.2" cx="1077.9" cy="446.5"/><circle r="5.2" cx="1035.5" cy="443.7"/><circle r="5.2" cx="1026.5" cy="543.9"/><circle r="5.2" cx="1055.2" cy="512.5"/><circle r="5.2" cx="1082.3" cy="492.9"/><circle r="5.2" cx="1019.2" cy="489.7"/><circle r="5.2" cx="1031.2" cy="544.7"/><circle r="5.2" cx="1061" cy="474.7"/><circle r="5.2" cx="1007.4" cy="507.9"/><circle r="5.2" cx="1048.8" cy="445.4"/><circle r="5.2" cx="1028.9" cy="483.2"/><circle r="5.2" cx="989.8" cy="507.5"/><circle r="5.2" cx="1028.4" cy="504.9"/><circle r="5.2" cx="1060.4" cy="480.7"/><circle r="5.2" cx="1012.1" cy="493"/><circle r="5.2" cx="988.3" cy="483.5"/><circle r="5.2" cx="1035.7" cy="501"/><circle r="5.2" cx="1046.1" cy="550.9"/><circle r="5.2" cx="983.5" cy="513.6"/><circle r="5.2" cx="1030.7" cy="528.8"/><circle r="5.2" cx="1004.2" cy="460.1"/><circle r="5.2" cx="1065.4" cy="481.7"/><circle r="5.2" cx="1023.5" cy="510"/><circle r="5.2" cx="1050.3" cy="456.6"/><circle r="5.2" cx="1001" cy="512.1"/><circle r="5.2" cx="1049.1" cy="528.8"/><circle r="5.2" cx="1004.5" cy="535.2"/><circle r="5.2" cx="1032.3" cy="489.9"/><circle r="5.2" cx="1030.2" cy="517.9"/><circle r="5.2" cx="1069.7" cy="493.8"/><circle r="5.2" cx="1035.6" cy="516.7"/><circle r="5.2" cx="1024.6" cy="446.9"/><circle r="5.2" cx="1011.8" cy="459.5"/><circle r="5.2" cx="1061.2" cy="512.2"/><circle r="5.2" cx="1074" cy="501.5"/><circle r="5.2" cx="1021.8" cy="529.9"/><circle r="5.2" cx="1020" cy="463.1"/><circle r="5.2" cx="1045" cy="509.1"/><circle r="5.2" cx="985.6" cy="511"/><circle r="5.2" cx="1008.9" cy="531.9"/><circle r="5.2" cx="1020.5" cy="534"/><circle r="5.2" cx="984.6" cy="501.2"/><circle r="5.2" cx="1023.1" cy="554.8"/><circle r="5.2" cx="1025.3" cy="560.5"/><circle r="5.2" cx="1005.7" cy="472.8"/><circle r="5.2" cx="995.5" cy="495.8"/><circle r="5.2" cx="984.9" cy="523.2"/><circle r="5.2" cx="1000.7" cy="503.8"/><circle r="5.2" cx="1030.7" cy="523.9"/><circle r="5.2" cx="1053.9" cy="499"/><circle r="5.2" cx="1027.2" cy="490.4"/><circle r="5.2" cx="995.6" cy="488.1"/><circle r="5.2" cx="1017.2" cy="473.3"/><circle r="5.2" cx="1020.6" cy="502.1"/><circle r="5.2" cx="1041.6" cy="501.5"/><circle r="5.2" cx="1078.6" cy="476.1"/><circle r="5.2" cx="1038.9" cy="444.1"/><circle r="5.2" cx="1028.4" cy="452.5"/><circle r="5.2" cx="1031.3" cy="536"/><circle r="5.2" cx="1041.7" cy="555.2"/><circle r="5.2" cx="1008.8" cy="477"/><circle r="5.2" cx="1061.9" cy="483"/><circle r="5.2" cx="1059.5" cy="500.4"/><circle r="5.2" cx="1075.4" cy="505.4"/><circle r="5.2" cx="1054.4" cy="488.9"/><circle r="5.2" cx="1050.1" cy="515.2"/><circle r="5.2" cx="1070.8" cy="459.3"/><circle r="5.2" cx="1001.7" cy="468.4"/><circle r="5.2" cx="1020.8" cy="517.3"/><circle r="5.2" cx="1015.5" cy="509"/><circle r="5.2" cx="1068.6" cy="486.9"/><circle r="5.2" cx="1022.3" cy="457.3"/><circle r="5.2" cx="1045" cy="475.2"/><circle r="5.2" cx="1006.9" cy="491.2"/><circle r="5.2" cx="1050.7" cy="482.4"/><circle r="5.2" cx="1023.7" cy="477"/><circle r="5.2" cx="1044.7" cy="489.4"/><circle r="5.2" cx="1049" cy="543.9"/><circle r="5.2" cx="987.6" cy="519.2"/><circle r="5.2" cx="1076.6" cy="480.8"/><circle r="5.2" cx="1008.2" cy="514.9"/><circle r="5.2" cx="1016.2" cy="456.4"/><circle r="5.2" cx="1044.6" cy="449.5"/><circle r="5.2" cx="1020.2" cy="522.4"/><circle r="5.2" cx="1000.6" cy="527.5"/><circle r="5.2" cx="1041" cy="534.4"/><circle r="5.2" cx="985.7" cy="494.7"/><circle r="5.2" cx="1025" cy="467.5"/><circle r="5.2" cx="1010.5" cy="525.1"/><circle r="5.2" cx="1077.7" cy="455.5"/><circle r="5.2" cx="1050.4" cy="462.9"/><circle r="5.2" cx="1069.9" cy="476.6"/><circle r="5.2" cx="997.6" cy="484.4"/><circle r="5.2" cx="991.8" cy="497.3"/><circle r="5.2" cx="1011.3" cy="456.6"/><circle r="5.2" cx="1004.2" cy="519.5"/><circle r="5.2" cx="1072.9" cy="447.3"/><circle r="5.2" cx="1009.5" cy="503"/><circle r="5.2" cx="1006.8" cy="510.4"/><circle r="5.2" cx="1015.2" cy="507.8"/><circle r="5.2" cx="1029.4" cy="559.8"/><circle r="5.2" cx="1073.9" cy="485.4"/><circle r="5.2" cx="1015.5" cy="514.9"/><circle r="5.2" cx="1051.9" cy="506.2"/><circle r="5.2" cx="1046.4" cy="474"/><circle r="5.2" cx="1032.5" cy="474.2"/><circle r="5.2" cx="993.4" cy="528.4"/><circle r="5.2" cx="1072.1" cy="443.2"/><circle r="5.2" cx="992.6" cy="490.4"/><circle r="5.2" cx="1016.8" cy="480.3"/><circle r="5.2" cx="1034.5" cy="468.3"/><circle r="5.2" cx="1025.3" cy="483.1"/><circle r="5.2" cx="1007.7" cy="540.1"/><circle r="5.2" cx="1043.6" cy="526.4"/><circle r="5.2" cx="1040.9" cy="514.4"/><circle r="5.2" cx="1032.1" cy="537.9"/><circle r="5.2" cx="1019.4" cy="547.6"/><circle r="5.2" cx="1065.1" cy="490"/><circle r="5.2" cx="1030.5" cy="565.2"/><circle r="5.2" cx="1079.6" cy="494.9"/><circle r="5.2" cx="1065.7" cy="463.7"/><circle r="5.2" cx="1013.7" cy="545.3"/><circle r="5.2" cx="1043.1" cy="445.5"/><circle r="5.2" cx="1007.2" cy="453"/><circle r="5.2" cx="994.3" cy="482.6"/><circle r="5.2" cx="1026.1" cy="461.8"/><circle r="5.2" cx="1029.3" cy="458.2"/><circle r="5.2" cx="1017.8" cy="536.7"/><circle r="5.2" cx="1000.3" cy="518.3"/><circle r="5.2" cx="999.3" cy="530.9"/><circle r="5.2" cx="1032.7" cy="555.7"/><circle r="5.2" cx="1046.4" cy="481"/><circle r="5.2" cx="990.8" cy="502.8"/><circle r="5.2" cx="1042.1" cy="541.1"/><circle r="5.2" cx="1047.5" cy="519.3"/><circle r="5.2" cx="1009.5" cy="528.9"/><circle r="5.2" cx="992.2" cy="485"/><circle r="5.2" cx="1052.3" cy="491.1"/><circle r="5.2" cx="1028.5" cy="542.4"/><circle r="5.2" cx="996.1" cy="469.1"/><circle r="5.2" cx="1038.2" cy="545.1"/><circle r="5.2" cx="1033.7" cy="457.6"/><circle r="5.2" cx="1018.7" cy="519.1"/><circle r="5.2" cx="1063.6" cy="458.4"/><circle r="5.2" cx="1030.4" cy="447.4"/><circle r="5.2" cx="1021.1" cy="455.1"/><circle r="5.2" cx="1040" cy="464.1"/><circle r="5.2" cx="1012.2" cy="486.7"/><circle r="5.2" cx="1000.5" cy="491.9"/><circle r="5.2" cx="1057" cy="458.6"/><circle r="5.2" cx="1006.5" cy="466.4"/><circle r="5.2" cx="1062.3" cy="481"/><circle r="5.2" cx="990.5" cy="478"/><circle r="5.2" cx="1055.6" cy="502.7"/><circle r="5.2" cx="1017.1" cy="454.9"/><circle r="5.2" cx="996" cy="465.9"/><circle r="5.2" cx="993.9" cy="501.4"/><circle r="5.2" cx="1037.1" cy="541.2"/><circle r="5.2" cx="1045.6" cy="460.8"/><circle r="5.2" cx="1000.1" cy="470.7"/><circle r="5.2" cx="996.8" cy="518.3"/><circle r="5.2" cx="1015.6" cy="502.8"/><circle r="5.2" cx="1012.3" cy="524.7"/><circle r="5.2" cx="1041.8" cy="451.7"/><circle r="5.2" cx="1008.3" cy="506.4"/><circle r="5.2" cx="1033" cy="492.9"/><circle r="5.2" cx="1007.3" cy="484.8"/><circle r="5.2" cx="997.9" cy="532.3"/><circle r="5.2" cx="1069.3" cy="483.5"/><circle r="5.2" cx="1040.1" cy="466.1"/><circle r="5.2" cx="992.9" cy="512.4"/><circle r="5.2" cx="1056.9" cy="472.1"/><circle r="5.2" cx="1019.8" cy="516.8"/><circle r="5.2" cx="1070.7" cy="508.7"/><circle r="5.2" cx="1037.1" cy="511.3"/><circle r="5.2" cx="1011.5" cy="469.6"/><circle r="5.2" cx="1038.5" cy="522.8"/><circle r="5.2" cx="1035" cy="481.7"/><circle r="5.2" cx="1017.9" cy="495.3"/><circle r="5.2" cx="1064.6" cy="472.5"/><circle r="5.2" cx="1034.2" cy="547.4"/><circle r="5.2" cx="1041.4" cy="456.7"/><circle r="5.2" cx="1037.4" cy="504.2"/><circle r="5.2" cx="1020.9" cy="514.3"/><circle r="5.2" cx="1032.1" cy="456.9"/><circle r="5.2" cx="1022.7" cy="494.9"/><circle r="5.2" cx="1002.4" cy="480.7"/><circle r="5.2" cx="1063.8" cy="495.5"/><circle r="5.2" cx="1067.1" cy="505.1"/><circle r="5.2" cx="1010.4" cy="495"/><circle r="5.2" cx="1030.6" cy="512.1"/><circle r="5.2" cx="989.3" cy="526.8"/><circle r="5.2" cx="1073.4" cy="500.2"/><circle r="5.2" cx="1069.9" cy="449.3"/><circle r="5.2" cx="1034.9" cy="471.5"/><circle r="5.2" cx="1066.7" cy="472.6"/><circle r="5.2" cx="1045" cy="545.8"/><circle r="5.2" cx="1063.9" cy="509.6"/><circle r="5.2" cx="1030.6" cy="468.8"/><circle r="5.2" cx="1033.6" cy="478.8"/><circle r="5.2" cx="989.1" cy="475"/><circle r="5.2" cx="1053.2" cy="543.6"/><circle r="5.2" cx="1052.9" cy="508.8"/><circle r="5.2" cx="1017.2" cy="487"/><circle r="5.2" cx="1059.4" cy="478.8"/><circle r="5.2" cx="1035.6" cy="467.1"/><circle r="5.2" cx="1005" cy="523"/><circle r="5.2" cx="1018.2" cy="477.5"/><circle r="5.2" cx="1023.8" cy="452.2"/><circle r="5.2" cx="1026.9" cy="549.5"/><circle r="5.2" cx="1043.7" cy="455.3"/><circle r="5.2" cx="1009.6" cy="532.1"/><circle r="5.2" cx="1043.2" cy="441.8"/><circle r="5.2" cx="1071.6" cy="469.4"/><circle r="5.2" cx="1069.5" cy="490.6"/><circle r="5.2" cx="1056.4" cy="472.6"/><circle r="5.2" cx="990.9" cy="466.4"/><circle r="5.2" cx="1045.6" cy="473.4"/><circle r="5.2" cx="986.6" cy="485.3"/><circle r="5.2" cx="1043" cy="486"/><circle r="5.2" cx="1006.2" cy="501.3"/><circle r="5.2" cx="1029.4" cy="479.2"/><circle r="5.2" cx="1059.9" cy="465.8"/><circle r="5.2" cx="1032.2" cy="470.4"/><circle r="5.2" cx="985.3" cy="490.2"/><circle r="5.2" cx="1049.7" cy="534.9"/><circle r="5.2" cx="1044.7" cy="462.3"/><circle r="5.2" cx="1052.5" cy="445.3"/><circle r="5.2" cx="1039.8" cy="480.5"/><circle r="5.2" cx="1001.1" cy="528.7"/><circle r="5.2" cx="1048.3" cy="478.5"/><circle r="5.2" cx="1048.9" cy="486.1"/><circle r="5.2" cx="1017.9" cy="531.8"/><circle r="5.2" cx="1013.9" cy="538.9"/><circle r="5.2" cx="1021.2" cy="492.6"/><circle r="5.2" cx="1040.8" cy="530.9"/><circle r="5.2" cx="1049.7" cy="469.3"/><circle r="5.2" cx="1013.6" cy="538.2"/><circle r="5.2" cx="1045.3" cy="522.2"/><circle r="5.2" cx="1030.5" cy="516.2"/><circle r="5.2" cx="1026.4" cy="489.4"/><circle r="5.2" cx="996.7" cy="498.5"/><circle r="5.2" cx="1058.2" cy="498.8"/><circle r="5.2" cx="997.9" cy="506.8"/><circle r="5.2" cx="1007.4" cy="535.6"/><circle r="5.2" cx="1030.6" cy="509.5"/><circle r="5.2" cx="1053.9" cy="473.1"/><circle r="5.2" cx="1048.7" cy="504.2"/><circle r="5.2" cx="1041.8" cy="497.8"/><circle r="5.2" cx="1037.5" cy="443.3"/><circle r="5.2" cx="1022.7" cy="510.5"/><circle r="5.2" cx="1061.5" cy="463.9"/><circle r="5.2" cx="1072.7" cy="508.9"/><circle r="5.2" cx="1040.9" cy="519.7"/><circle r="5.2" cx="1036.2" cy="508.3"/><circle r="5.2" cx="1014.5" cy="468"/><circle r="5.2" cx="1014" cy="498.9"/><circle r="5.2" cx="1066.6" cy="486.8"/><circle r="5.2" cx="1047.3" cy="552.5"/><circle r="5.2" cx="1031.8" cy="517.9"/><circle r="5.2" cx="1063.9" cy="502.5"/><circle r="5.2" cx="1066.4" cy="476"/><circle r="5.2" cx="997.5" cy="514.3"/><circle r="5.2" cx="1009.1" cy="462.4"/><circle r="5.2" cx="1026.4" cy="509.8"/><circle r="5.2" cx="988.5" cy="478.5"/><circle r="5.2" cx="1043.3" cy="460"/><circle r="5.2" cx="989.7" cy="521.9"/><circle r="5.2" cx="1039" cy="459.5"/><circle r="5.2" cx="1012.6" cy="488.5"/><circle r="5.2" cx="1020.6" cy="455.2"/><circle r="5.2" cx="1002" cy="486.1"/><circle r="5.2" cx="1063.6" cy="483.6"/><circle r="5.2" cx="1020.5" cy="471.7"/><circle r="5.2" cx="1024.7" cy="531.5"/><circle r="5.2" cx="1070.3" cy="463.9"/><circle r="5.2" cx="1028.3" cy="521.8"/><circle r="5.2" cx="1012.4" cy="478.9"/><circle r="5.2" cx="1056.1" cy="448"/><circle r="5.2" cx="1036.6" cy="532"/><circle r="5.2" cx="1082.1" cy="484.2"/><circle r="5.2" cx="1011.6" cy="494.6"/><circle r="5.2" cx="1079.5" cy="491.8"/><circle r="5.2" cx="1001.7" cy="523.1"/><circle r="5.2" cx="1010.6" cy="529.9"/><circle r="5.2" cx="1038.7" cy="509.5"/><circle r="5.2" cx="1074.7" cy="478.2"/><circle r="5.2" cx="1018.2" cy="465.3"/><circle r="5.2" cx="1051.9" cy="454.1"/><circle r="5.2" cx="1021.7" cy="486.6"/><circle r="5.2" cx="1002.2" cy="514.1"/><circle r="5.2" cx="1047.8" cy="489.3"/><circle r="5.2" cx="1045.7" cy="537.1"/><circle r="5.2" cx="1030.9" cy="465.6"/><circle r="5.2" cx="1033.1" cy="450.5"/><circle r="5.2" cx="1013.9" cy="475.7"/><circle r="5.2" cx="1058.1" cy="494.9"/><circle r="5.2" cx="1037.8" cy="475.9"/><circle r="5.2" cx="1056.5" cy="509.9"/><circle r="5.2" cx="1032.4" cy="486.2"/><circle r="5.2" cx="1062.3" cy="491.1"/><circle r="5.2" cx="1025.6" cy="477.7"/><circle r="5.2" cx="1055.4" cy="455.6"/><circle r="5.2" cx="1070.9" cy="482.5"/><circle r="5.2" cx="992.9" cy="470"/><circle r="5.2" cx="1077.8" cy="491.5"/><circle r="5.2" cx="1076.3" cy="488.7"/><circle r="5.2" cx="1040.3" cy="512.1"/><circle r="5.2" cx="996.4" cy="474.3"/><circle r="5.2" cx="1025.7" cy="539.7"/><circle r="5.2" cx="1040.1" cy="546.1"/><circle r="5.2" cx="1025.3" cy="539.8"/><circle r="5.2" cx="1018.5" cy="543.9"/><circle r="5.2" cx="1074" cy="458.7"/><circle r="5.2" cx="1004.8" cy="507.7"/><circle r="5.2" cx="1048.9" cy="460.8"/><circle r="5.2" cx="1045.4" cy="517.6"/><circle r="5.2" cx="987.9" cy="514.7"/><circle r="5.2" cx="1001.3" cy="505.6"/><circle r="5.2" cx="1048.1" cy="551.8"/><circle r="5.2" cx="1050.1" cy="469.9"/><circle r="5.2" cx="1077.2" cy="489.9"/><circle r="5.2" cx="1047" cy="559.5"/><circle r="5.2" cx="1048.7" cy="535"/><circle r="5.2" cx="1039.1" cy="447.1"/><circle r="5.2" cx="1065" cy="470.2"/><circle r="5.2" cx="1036.3" cy="502.6"/><circle r="5.2" cx="1025.9" cy="561.8"/><circle r="5.2" cx="1029.5" cy="456.2"/><circle r="5.2" cx="1028.5" cy="521.6"/><circle r="5.2" cx="1045.7" cy="512.9"/><circle r="5.2" cx="1025.1" cy="460.7"/><circle r="5.2" cx="1050.9" cy="496.9"/><circle r="5.2" cx="1023.1" cy="463.7"/><circle r="5.2" cx="1061.3" cy="507.5"/><circle r="5.2" cx="1043.1" cy="557.1"/><circle r="5.2" cx="1039.6" cy="537.8"/><circle r="5.2" cx="996.7" cy="488.3"/><circle r="5.2" cx="1076.1" cy="454.3"/><circle r="5.2" cx="1016" cy="545.2"/><circle r="5.2" cx="1066.5" cy="458"/><circle r="5.2" cx="1063.5" cy="488.9"/><circle r="5.2" cx="1075.4" cy="475.1"/><circle r="5.2" cx="1038.1" cy="489.4"/><circle r="5.2" cx="1028.3" cy="489.1"/><circle r="5.2" cx="1030.1" cy="502.6"/><circle r="5.2" cx="1044.6" cy="498.6"/><circle r="5.2" cx="988.9" cy="491.5"/><circle r="5.2" cx="1010.3" cy="468.1"/><circle r="5.2" cx="1028.3" cy="446.4"/><circle r="5.2" cx="1006.6" cy="515.7"/><circle r="5.2" cx="1025" cy="525.1"/><circle r="5.2" cx="1045.9" cy="500.1"/><circle r="5.2" cx="1009" cy="505.1"/><circle r="5.2" cx="1005.2" cy="475"/><circle r="5.2" cx="1046.6" cy="481.3"/><circle r="5.2" cx="1036" cy="482.7"/><circle r="5.2" cx="1013.6" cy="482.7"/><circle r="5.2" cx="1049.2" cy="457.8"/><circle r="5.2" cx="1039.5" cy="525.2"/><circle r="5.2" cx="996.1" cy="479.1"/><circle r="5.2" cx="1049.9" cy="464.2"/><circle r="5.2" cx="1031.8" cy="540.8"/><circle r="5.2" cx="994.8" cy="504"/><circle r="5.2" cx="1030.4" cy="513.6"/><circle r="5.2" cx="1024.4" cy="565.4"/><circle r="5.2" cx="1053.8" cy="483.7"/><circle r="5.2" cx="1018.9" cy="470.6"/><circle r="5.2" cx="1048.3" cy="542.9"/><circle r="5.2" cx="1034.9" cy="516.1"/><circle r="5.2" cx="1006.3" cy="499.5"/><circle r="5.2" cx="1054.8" cy="465.8"/><circle r="5.2" cx="1025" cy="541.1"/><circle r="5.2" cx="1020.7" cy="448.7"/><circle r="5.2" cx="1058.9" cy="511.6"/><circle r="5.2" cx="1052.5" cy="488.6"/><circle r="5.2" cx="1057.6" cy="478.2"/><circle r="5.2" cx="992.4" cy="528.5"/><circle r="5.2" cx="988.8" cy="494.6"/><circle r="5.2" cx="1028.5" cy="456.4"/><circle r="5.2" cx="985.8" cy="512.8"/><circle r="5.2" cx="996.2" cy="511.8"/><circle r="5.2" cx="1020" cy="562.7"/><circle r="5.2" cx="998.5" cy="495.6"/><circle r="5.2" cx="1064.8" cy="506.3"/><circle r="5.2" cx="1057.6" cy="468.4"/><circle r="5.2" cx="1046.9" cy="453.3"/><circle r="5.2" cx="1003.7" cy="468.4"/><circle r="5.2" cx="1018.8" cy="521.4"/><circle r="5.2" cx="1030.8" cy="473.8"/><circle r="5.2" cx="1041.5" cy="519.8"/><circle r="5.2" cx="1038.3" cy="487.8"/><circle r="5.2" cx="1051.8" cy="523.4"/><circle r="5.2" cx="1026.9" cy="473.7"/><circle r="5.2" cx="1039.2" cy="450.6"/><circle r="5.2" cx="1062.2" cy="498.8"/><circle r="5.2" cx="1072.1" cy="489.2"/><circle r="5.2" cx="1039.9" cy="537.4"/><circle r="5.2" cx="1024" cy="496.2"/></g><g fill="#1F77B4" stroke="#1F77B4"><circle r="5.2" cx="985.7" cy="462.5"/><circle r="5.2" cx="975" cy="513"/><circle r="5.2" cx="975.3" cy="512.8"/><circle r="5.2" cx="1008.6" cy="551.8"/></g><g fill="#AEC7E8" stroke="#AEC7E8"><circle r="5.2" cx="1184" cy="219"/></g><g fill="#AEC7E8" stroke="#AEC7E8" class="f"><circle r="5.2" cx="1011.1" cy="342.5"/><circle r="5.2" cx="994.5" cy="322.1"/><circle r="5.2" cx="1013.6" cy="315.2"/><circle r="5.2" cx="986.3" cy="337.6"/><circle r="5.2" cx="1016.3" cy="327.3"/><circle r="5.2" cx="998.8" cy="337.5"/><circle r="5.2" cx="1022.7" cy="313.1"/><circle r="5.2" cx="1003.6" cy="330.2"/><circle r="5.2" cx="1010.9" cy="334.6"/><circle r="5.2" cx="1004.3" cy="323.7"/><circle r="5.2" cx="996.4" cy="320.7"/><circle r="5.2" cx="986.5" cy="319.9"/><circle r="5.2" cx="1000.9" cy="335.5"/><circle r="5.2" cx="990.4" cy="317.2"/><circle r="5.2" cx="1017.2" cy="320.4"/><circle r="5.2" cx="990.1" cy="330.6"/><circle r="5.2" cx="1013.7" cy="340.3"/><circle r="5.2" cx="995.9" cy="341.4"/><circle r="5.2" cx="1009.6" cy="325.3"/><circle r="5.2" cx="990.9" cy="323.4"/><circle r="5.2" cx="995.2" cy="326.7"/><circle r="5.2" cx="1001.4" cy="324.6"/><circle r="5.2" cx="1003.9" cy="341.9"/><circle r="5.2" cx="1019.1" cy="311.8"/><circle r="5.2" cx="987" cy="329.6"/><circle r="5.2" cx="1021.6" cy="333.1"/><circle r="5.2" cx="1018.5" cy="322.3"/><circle r="5.2" cx="999.6" cy="317.8"/><circle r="5.2" cx="994.6" cy="336.9"/><circle r="5.2" cx="1004.8" cy="318.4"/><circle r="5.2" cx="985.3" cy="328.6"/><circle r="5.2" cx="999.6" cy="322.7"/><circle r="5.2" cx="1013.4" cy="319.7"/><circle r="5.2" cx="995" cy="318.6"/><circle r="5.2" cx="1006.4" cy="315.2"/><circle r="5.2" cx="1001.9" cy="343.1"/><circle r="5.2" cx="1007.8" cy="321.1"/><circle r="5.2" cx="1013.8" cy="331.1"/><circle r="5.2" cx="1018.3" cy="318.2"/><circle r="5.2" cx="1009.7" cy="333.3"/><circle r="5.2" cx="996.8" cy="331"/><circle r="5.2" cx="1010.8" cy="337.7"/><circle r="5.2" cx="1018.5" cy="328.3"/><circle r="5.2" cx="1019" cy="329.7"/><circle r="5.2" cx="989.3" cy="339"/><circle r="5.2" cx="999.6" cy="339.3"/><circle r="5.2" cx="998.8" cy="323.6"/><circle r="5.2" cx="1001.4" cy="332"/><circle r="5.2" cx="991.9" cy="328"/><circle r="5.2" cx="1003.9" cy="340.7"/><circle r="5.2" cx="1009.5" cy="317.9"/><circle r="5.2" cx="1015.9" cy="326.8"/><circle r="5.2" cx="1014.7" cy="322.5"/><circle r="5.2" cx="1013.9" cy="342.2"/><circle r="5.2" cx="1012.7" cy="329.6"/><circle r="5.2" cx="1041.2" cy="223.3"/><circle r="5.2" cx="1033.8" cy="228.3"/></g><g fill="#AEC7E8" stroke="#AEC7E8"><circle r="5.2" cx="1013.5" cy="210"/><circle r="5.2" cx="1040" cy="356"/><circle r="5.2" cx="1046" cy="363"/><circle r="5.2" cx="1035" cy="351"/><circle r="5.2" cx="1030" cy="335"/><circle r="5.2" cx="1033" cy="318"/></g><g fill="#FF7F0E" stroke="#FF7F0E"><circle r="5.2" cx="997" cy="222"/><circle r="5.2" cx="994" cy="230"/></g><g fill="#FFBB78" stroke="#FFBB78" class="f"><circle r="5.2" cx="1167.9" cy="186.5"/><circle r="5.2" cx="1171.2" cy="170.6"/><circle r="5.2" cx="1163.2" cy="194.5"/><circle r="5.2" cx="1156.8" cy="182.1"/><circle r="5.2" cx="1178.1" cy="181.1"/><circle r="5.2" cx="1161.5" cy="176"/><circle r="5.2" cx="1169.9" cy="194.1"/><circle r="5.2" cx="1177" cy="177.5"/><circle r="5.2" cx="1165.7" cy="184.5"/><circle r="5.2" cx="1173" cy="178.5"/><circle r="5.2" cx="1163.9" cy="190"/><circle r="5.2" cx="1163.2" cy="191.6"/><circle r="5.2" cx="1168.8" cy="189.2"/><circle r="5.2" cx="1171.1" cy="174.4"/><circle r="5.2" cx="1172.6" cy="189.2"/><circle r="5.2" cx="1172.6" cy="185.6"/><circle r="5.2" cx="1163" cy="191.5"/><circle r="5.2" cx="1167.6" cy="195.8"/><circle r="5.2" cx="1182.6" cy="170.9"/><circle r="5.2" cx="1165.4" cy="173.7"/><circle r="5.2" cx="1168.5" cy="178.9"/><circle r="5.2" cx="1171.2" cy="173.1"/></g><g fill="#FFBB78" stroke="#FFBB78"><circle r="5.2" cx="1183" cy="210"/><circle r="5.2" cx="1183.3" cy="210.3"/><circle r="5.2" cx="1182.8" cy="209.8"/></g><g fill="#2CA02C" stroke="#2CA02C" class="f"><circle r="5.2" cx="1150.8" cy="412.3"/><circle r="5.2" cx="1182.9" cy="342.8"/><circle r="5.2" cx="1128.8" cy="369.4"/><circle r="5.2" cx="1166.1" cy="389.6"/><circle r="5.2" cx="1134.5" cy="389.8"/><circle r="5.2" cx="1164.8" cy="360.3"/><circle r="5.2" cx="1200.8" cy="387.8"/><circle r="5.2" cx="1192.4" cy="403.4"/><circle r="5.2" cx="1116.2" cy="395.2"/><circle r="5.2" cx="1196.2" cy="364.1"/><circle r="5.2" cx="1121.6" cy="380.5"/><circle r="5.2" cx="1166.3" cy="378.4"/><circle r="5.2" cx="1170.7" cy="403.2"/><circle r="5.2" cx="1166.2" cy="336.9"/><circle r="5.2" cx="1151.1" cy="383.1"/><circle r="5.2" cx="1173.4" cy="388.5"/><circle r="5.2" cx="1145.1" cy="397.2"/><circle r="5.2" cx="1134.9" cy="411.5"/><circle r="5.2" cx="1137.8" cy="405.9"/><circle r="5.2" cx="1183.2" cy="403.9"/><circle r="5.2" cx="1175.1" cy="363"/><circle r="5.2" cx="1186.8" cy="392.3"/><circle r="5.2" cx="1149.6" cy="358.7"/><circle r="5.2" cx="1169" cy="351.5"/><circle r="5.2" cx="1153.9" cy="351.6"/><circle r="5.2" cx="1163.9" cy="372"/><circle r="5.2" cx="1192.7" cy="351.8"/><circle r="5.2" cx="1206.7" cy="359.4"/><circle r="5.2" cx="1187.5" cy="359.1"/><circle r="5.2" cx="1187.5" cy="384.1"/><circle r="5.2" cx="1210.7" cy="372.4"/><circle r="5.2" cx="1172.5" cy="371.8"/><circle r="5.2" cx="1163.9" cy="342.7"/><circle r="5.2" cx="1126.1" cy="374.7"/><circle r="5.2" cx="1129.1" cy="376.3"/><circle r="5.2" cx="1192.8" cy="378.5"/><circle r="5.2" cx="1127.3" cy="405.4"/><circle r="5.2" cx="1159.6" cy="374.2"/><circle r="5.2" cx="1157.4" cy="389.1"/><circle r="5.2" cx="1204.8" cy="376.4"/><circle r="5.2" cx="1148.3" cy="371.7"/><circle r="5.2" cx="1173.5" cy="337.3"/><circle r="5.2" cx="1138.5" cy="361.3"/><circle r="5.2" cx="1159.3" cy="408.2"/><circle r="5.2" cx="1143.5" cy="383.9"/><circle r="5.2" cx="1180.6" cy="373.3"/><circle r="5.2" cx="1135.1" cy="396.1"/><circle r="5.2" cx="1147.6" cy="388.9"/><circle r="5.2" cx="1126.8" cy="398.7"/><circle r="5.2" cx="1174.8" cy="375.6"/><circle r="5.2" cx="1133.2" cy="376.4"/><circle r="5.2" cx="1144.3" cy="394.8"/><circle r="5.2" cx="1139" cy="371.4"/><circle r="5.2" cx="1205.9" cy="365.9"/><circle r="5.2" cx="1184.6" cy="363.5"/><circle r="5.2" cx="1180.8" cy="379.8"/><circle r="5.2" cx="1178.8" cy="354.6"/><circle r="5.2" cx="1158.9" cy="355.9"/><circle r="5.2" cx="1199.6" cy="361.2"/><circle r="5.2" cx="1200.2" cy="372.9"/><circle r="5.2" cx="1196.8" cy="391.9"/><circle r="5.2" cx="1162.3" cy="354.3"/><circle r="5.2" cx="1158.1" cy="385"/><circle r="5.2" cx="1205.3" cy="392.8"/><circle r="5.2" cx="1198.2" cy="400.8"/><circle r="5.2" cx="1146.2" cy="378.1"/><circle r="5.2" cx="1147.7" cy="408.1"/><circle r="5.2" cx="1120.7" cy="397.1"/><circle r="5.2" cx="1170" cy="363.5"/><circle r="5.2" cx="1140.8" cy="358.2"/><circle r="5.2" cx="1142.5" cy="351.9"/><circle r="5.2" cx="1141.9" cy="410.1"/><circle r="5.2" cx="1177.7" cy="395.6"/><circle r="5.2" cx="1152.2" cy="397.7"/><circle r="5.2" cx="1167" cy="348.3"/><circle r="5.2" cx="1177.3" cy="349.3"/><circle r="5.2" cx="1134.8" cy="384.2"/><circle r="5.2" cx="1141.1" cy="401.1"/><circle r="5.2" cx="1177.2" cy="367.8"/><circle r="5.2" cx="1208" cy="380.8"/><circle r="5.2" cx="1198.9" cy="380.5"/><circle r="5.2" cx="1118.8" cy="386.9"/><circle r="5.2" cx="1129.9" cy="395"/><circle r="5.2" cx="1145.6" cy="385.5"/><circle r="5.2" cx="1157.5" cy="393.8"/><circle r="5.2" cx="1173.3" cy="391.9"/><circle r="5.2" cx="1134.2" cy="400.5"/><circle r="5.2" cx="1171" cy="387.7"/><circle r="5.2" cx="1191.6" cy="371.1"/><circle r="5.2" cx="1157.5" cy="370.9"/><circle r="5.2" cx="1161.7" cy="349.5"/><circle r="5.2" cx="1186.4" cy="373.7"/><circle r="5.2" cx="1126.3" cy="392.3"/><circle r="5.2" cx="1210.9" cy="379.2"/><circle r="5.2" cx="1202.9" cy="366.1"/><circle r="5.2" cx="1179.7" cy="363.5"/><circle r="5.2" cx="1183.7" cy="342"/><circle r="5.2" cx="1164.1" cy="399.7"/><circle r="5.2" cx="1127.9" cy="410.1"/><circle r="5.2" cx="1164" cy="356.3"/><circle r="5.2" cx="1155.9" cy="363.7"/><circle r="5.2" cx="1183.4" cy="387.4"/><circle r="5.2" cx="1162.5" cy="381.7"/><circle r="5.2" cx="1162.5" cy="377"/><circle r="5.2" cx="1204.1" cy="380.4"/><circle r="5.2" cx="1138.1" cy="409.2"/><circle r="5.2" cx="1154.5" cy="344.5"/><circle r="5.2" cx="1184.7" cy="379.7"/><circle r="5.2" cx="1193.7" cy="397.6"/><circle r="5.2" cx="1149.4" cy="397.3"/><circle r="5.2" cx="1178.3" cy="401.9"/><circle r="5.2" cx="1149.1" cy="349.9"/><circle r="5.2" cx="1134.1" cy="416.7"/><circle r="5.2" cx="1151.6" cy="375.6"/><circle r="5.2" cx="1175.1" cy="365.2"/><circle r="5.2" cx="1155.9" cy="366.5"/><circle r="5.2" cx="1180.5" cy="400.7"/><circle r="5.2" cx="1147.2" cy="355.8"/><circle r="5.2" cx="1172.2" cy="380.9"/><circle r="5.2" cx="1192.3" cy="374.6"/><circle r="5.2" cx="1205" cy="372.2"/><circle r="5.2" cx="1206.3" cy="388.8"/><circle r="5.2" cx="1154.4" cy="411.6"/><circle r="5.2" cx="1192.9" cy="376.7"/><circle r="5.2" cx="1154.7" cy="402.5"/><circle r="5.2" cx="1144" cy="368.3"/><circle r="5.2" cx="1163.1" cy="336.8"/><circle r="5.2" cx="1113.1" cy="386.6"/><circle r="5.2" cx="1168.1" cy="393.9"/><circle r="5.2" cx="1167" cy="363.9"/><circle r="5.2" cx="1127.4" cy="371.6"/><circle r="5.2" cx="1138.2" cy="385.5"/><circle r="5.2" cx="1169.7" cy="340.9"/><circle r="5.2" cx="1142.5" cy="374.3"/><circle r="5.2" cx="1191.3" cy="390"/><circle r="5.2" cx="1187.8" cy="366.4"/><circle r="5.2" cx="1173.2" cy="344"/><circle r="5.2" cx="1132" cy="405.6"/><circle r="5.2" cx="1181.9" cy="366.7"/><circle r="5.2" cx="1162.7" cy="401.3"/><circle r="5.2" cx="1211.6" cy="368.1"/><circle r="5.2" cx="1134.4" cy="366.4"/><circle r="5.2" cx="1187.2" cy="369.7"/><circle r="5.2" cx="1148.9" cy="364.6"/><circle r="5.2" cx="1196.8" cy="363.3"/><circle r="5.2" cx="1132.8" cy="404.6"/><circle r="5.2" cx="1156.2" cy="358.5"/><circle r="5.2" cx="1186.7" cy="347.9"/><circle r="5.2" cx="1199.2" cy="384.9"/><circle r="5.2" cx="1158.5" cy="400.1"/><circle r="5.2" cx="1140.5" cy="378.8"/><circle r="5.2" cx="1175.3" cy="406.4"/><circle r="5.2" cx="1140.1" cy="390.8"/><circle r="5.2" cx="1193.9" cy="387.1"/><circle r="5.2" cx="1171.4" cy="356.6"/><circle r="5.2" cx="1136.4" cy="406.3"/><circle r="5.2" cx="1177.7" cy="358"/><circle r="5.2" cx="1161" cy="364.7"/><circle r="5.2" cx="1174.4" cy="397.6"/><circle r="5.2" cx="1116.3" cy="391.9"/><circle r="5.2" cx="1197.7" cy="397.8"/><circle r="5.2" cx="1187.5" cy="401.2"/><circle r="5.2" cx="1134.8" cy="368.4"/><circle r="5.2" cx="1172.1" cy="398"/><circle r="5.2" cx="1189.1" cy="398.7"/><circle r="5.2" cx="1181.7" cy="406.7"/><circle r="5.2" cx="1206.5" cy="386.4"/><circle r="5.2" cx="1135.8" cy="396.6"/><circle r="5.2" cx="1207.1" cy="385.4"/><circle r="5.2" cx="1150.9" cy="358"/><circle r="5.2" cx="1181.9" cy="394.4"/><circle r="5.2" cx="1177.5" cy="348.8"/><circle r="5.2" cx="1197.2" cy="367.8"/><circle r="5.2" cx="1150.2" cy="401.7"/><circle r="5.2" cx="1181.1" cy="402.4"/><circle r="5.2" cx="1144.6" cy="390.6"/><circle r="5.2" cx="1166.6" cy="375.6"/><circle r="5.2" cx="1168.2" cy="371.8"/><circle r="5.2" cx="1130.7" cy="363.8"/><circle r="5.2" cx="1167.9" cy="366.3"/><circle r="5.2" cx="1177.4" cy="345.7"/><circle r="5.2" cx="1190" cy="347.5"/><circle r="5.2" cx="1163.2" cy="393.3"/><circle r="5.2" cx="1205.7" cy="359.5"/><circle r="5.2" cx="1192" cy="394.7"/><circle r="5.2" cx="1173.9" cy="369.1"/><circle r="5.2" cx="1192.2" cy="357.3"/><circle r="5.2" cx="1210.2" cy="373"/><circle r="5.2" cx="1142.8" cy="365.5"/><circle r="5.2" cx="1171.1" cy="337.6"/><circle r="5.2" cx="1172.2" cy="355.9"/><circle r="5.2" cx="1174.3" cy="386"/><circle r="5.2" cx="1168.1" cy="363.3"/><circle r="5.2" cx="1190.3" cy="358.6"/><circle r="5.2" cx="1144.9" cy="414.5"/><circle r="5.2" cx="1188.3" cy="379.7"/><circle r="5.2" cx="1180.6" cy="352.3"/><circle r="5.2" cx="1186.2" cy="397.1"/><circle r="5.2" cx="1165.7" cy="367.6"/><circle r="5.2" cx="1157.5" cy="396.9"/><circle r="5.2" cx="1182.6" cy="381.3"/><circle r="5.2" cx="1125" cy="373.8"/><circle r="5.2" cx="1194.4" cy="386.1"/><circle r="5.2" cx="1147.1" cy="410.4"/><circle r="5.2" cx="1165.3" cy="386.7"/><circle r="5.2" cx="1194.5" cy="353.2"/><circle r="5.2" cx="1116.9" cy="382"/><circle r="5.2" cx="1185.3" cy="392.2"/><circle r="5.2" cx="1151.8" cy="402.6"/><circle r="5.2" cx="1132.2" cy="385.1"/><circle r="5.2" cx="1175.1" cy="396.5"/><circle r="5.2" cx="1168.1" cy="350.2"/><circle r="5.2" cx="1150.4" cy="385.6"/><circle r="5.2" cx="1130.3" cy="396.7"/><circle r="5.2" cx="1167.4" cy="361.8"/><circle r="5.2" cx="1136.1" cy="380.5"/><circle r="5.2" cx="1141.4" cy="406.4"/><circle r="5.2" cx="1202" cy="370.4"/><circle r="5.2" cx="1201.7" cy="357.1"/><circle r="5.2" cx="1162.8" cy="383.8"/><circle r="5.2" cx="1114" cy="393.9"/><circle r="5.2" cx="1165" cy="344.2"/><circle r="5.2" cx="1156.5" cy="391.1"/><circle r="5.2" cx="1130.7" cy="380"/><circle r="5.2" cx="1152.8" cy="379.7"/><circle r="5.2" cx="1148.4" cy="372.8"/><circle r="5.2" cx="1164.1" cy="391.7"/><circle r="5.2" cx="1127.8" cy="403.4"/><circle r="5.2" cx="1119.9" cy="381.6"/><circle r="5.2" cx="1128.6" cy="366.7"/><circle r="5.2" cx="1178.8" cy="341.3"/><circle r="5.2" cx="1193.3" cy="367.9"/><circle r="5.2" cx="1155.8" cy="379.4"/><circle r="5.2" cx="1205.4" cy="365.9"/><circle r="5.2" cx="1209.9" cy="376"/><circle r="5.2" cx="1144.2" cy="406.6"/><circle r="5.2" cx="1212.7" cy="359.5"/><circle r="5.2" cx="1193.4" cy="383.6"/><circle r="5.2" cx="1195" cy="397"/><circle r="5.2" cx="1135.7" cy="379.6"/><circle r="5.2" cx="1156.5" cy="354.3"/><circle r="5.2" cx="1199.5" cy="394"/><circle r="5.2" cx="1159.2" cy="401.4"/><circle r="5.2" cx="1157.2" cy="376.5"/><circle r="5.2" cx="1131" cy="394.6"/><circle r="5.2" cx="1179.4" cy="368.6"/><circle r="5.2" cx="1138.9" cy="415.8"/><circle r="5.2" cx="1180" cy="391.1"/><circle r="5.2" cx="1123.6" cy="373.4"/><circle r="5.2" cx="1141.1" cy="410.6"/><circle r="5.2" cx="1159.9" cy="403.7"/><circle r="5.2" cx="1212.6" cy="382.8"/><circle r="5.2" cx="1149.8" cy="373.5"/><circle r="5.2" cx="1151.7" cy="394.8"/><circle r="5.2" cx="1125.1" cy="395.6"/><circle r="5.2" cx="1128.3" cy="400.6"/><circle r="5.2" cx="1161.4" cy="394.8"/><circle r="5.2" cx="1154.9" cy="352"/><circle r="5.2" cx="1192.6" cy="387.8"/><circle r="5.2" cx="1136.1" cy="404.8"/><circle r="5.2" cx="1184.4" cy="350.6"/><circle r="5.2" cx="1184" cy="360.6"/><circle r="5.2" cx="1190.5" cy="397.7"/><circle r="5.2" cx="1190.4" cy="348.6"/><circle r="5.2" cx="1156.2" cy="383.7"/><circle r="5.2" cx="1161.4" cy="340.3"/><circle r="5.2" cx="1197.4" cy="355.8"/><circle r="5.2" cx="1167.1" cy="389.9"/><circle r="5.2" cx="1147.3" cy="368.3"/><circle r="5.2" cx="1200.2" cy="390.1"/><circle r="5.2" cx="1166" cy="343.4"/><circle r="5.2" cx="1152.5" cy="371.3"/><circle r="5.2" cx="1149" cy="357.3"/><circle r="5.2" cx="1160.1" cy="376.2"/><circle r="5.2" cx="1140.7" cy="384.5"/><circle r="5.2" cx="1153" cy="378.3"/><circle r="5.2" cx="1209.7" cy="373.8"/><circle r="5.2" cx="1133.6" cy="415.5"/><circle r="5.2" cx="1139.5" cy="392.7"/><circle r="5.2" cx="1194.8" cy="378.5"/><circle r="5.2" cx="1168.7" cy="377.7"/><circle r="5.2" cx="1170.1" cy="377.3"/><circle r="5.2" cx="1171.8" cy="341.7"/><circle r="5.2" cx="1180.8" cy="371.9"/><circle r="5.2" cx="1139.3" cy="381.5"/><circle r="5.2" cx="1137.4" cy="372"/></g><g fill="#2CA02C" stroke="#2CA02C"><circle r="5.2" cx="1215" cy="371"/><circle r="5.2" cx="1140" cy="429.5"/><circle r="5.2" cx="1112.3" cy="424.5"/><circle r="5.2" cx="1086" cy="447.6"/></g><g fill="#98DF8A" stroke="#98DF8A"><circle r="5.2" cx="1087" cy="415"/><circle r="5.2" cx="1093" cy="413"/><circle r="5.2" cx="1099" cy="416"/><circle r="5.2" cx="1096.5" cy="418"/><circle r="5.2" cx="1090" cy="418"/></g><g fill="#FF9896" stroke="#FF9896" class="f"><circle r="5.2" cx="1057" cy="334.8"/><circle r="5.2" cx="1086.4" cy="314"/><circle r="5.2" cx="1076.8" cy="331"/><circle r="5.2" cx="1027.3" cy="335.2"/><circle r="5.2" cx="1029.4" cy="324.1"/><circle r="5.2" cx="1048.7" cy="322.6"/><circle r="5.2" cx="1100.5" cy="323.3"/><circle r="5.2" cx="1067.9" cy="328.2"/><circle r="5.2" cx="1070.1" cy="323.6"/><circle r="5.2" cx="1079.5" cy="318.7"/><circle r="5.2" cx="1058.8" cy="318.9"/><circle r="5.2" cx="1078.6" cy="339.1"/><circle r="5.2" cx="1087.6" cy="323.7"/><circle r="5.2" cx="1070.3" cy="315.1"/><circle r="5.2" cx="1037.3" cy="322.7"/><circle r="5.2" cx="1082.9" cy="320.7"/><circle r="5.2" cx="1044.4" cy="337.6"/><circle r="5.2" cx="1097.1" cy="314.4"/><circle r="5.2" cx="1062.5" cy="319.1"/><circle r="5.2" cx="1027.9" cy="328.1"/><circle r="5.2" cx="1066" cy="336.6"/><circle r="5.2" cx="1023.4" cy="323.1"/><circle r="5.2" cx="1057" cy="327.1"/><circle r="5.2" cx="1091.8" cy="326.1"/><circle r="5.2" cx="1036.4" cy="335.1"/><circle r="5.2" cx="1046.1" cy="331.9"/><circle r="5.2" cx="1060.8" cy="325.1"/><circle r="5.2" cx="1036.8" cy="331.3"/><circle r="5.2" cx="1074.1" cy="328.6"/><circle r="5.2" cx="1080.7" cy="326.8"/><circle r="5.2" cx="1082.1" cy="334.7"/><circle r="5.2" cx="1034.6" cy="328.5"/><circle r="5.2" cx="1092.1" cy="315.3"/><circle r="5.2" cx="1072.4" cy="340.6"/><circle r="5.2" cx="1078.7" cy="325.4"/><circle r="5.2" cx="1043.5" cy="323.8"/><circle r="5.2" cx="1040.7" cy="338.2"/><circle r="5.2" cx="1025.8" cy="333.1"/><circle r="5.2" cx="1066.1" cy="333.2"/><circle r="5.2" cx="1091.6" cy="333.1"/><circle r="5.2" cx="1052.8" cy="317.6"/><circle r="5.2" cx="1070.8" cy="318"/><circle r="5.2" cx="1050.3" cy="327.1"/><circle r="5.2" cx="1041.7" cy="330.7"/><circle r="5.2" cx="1046.9" cy="337.7"/><circle r="5.2" cx="1096.2" cy="319.8"/><circle r="5.2" cx="1069.3" cy="333.5"/><circle r="5.2" cx="1062.5" cy="338.5"/><circle r="5.2" cx="1061.5" cy="328"/><circle r="5.2" cx="1030.1" cy="333.8"/><circle r="5.2" cx="1060.1" cy="325.6"/><circle r="5.2" cx="1085.8" cy="329.1"/><circle r="5.2" cx="1043.6" cy="330.5"/><circle r="5.2" cx="1055.7" cy="337.5"/><circle r="5.2" cx="1085.2" cy="336.1"/><circle r="5.2" cx="1030.5" cy="317.5"/><circle r="5.2" cx="1083.1" cy="334.9"/><circle r="5.2" cx="1051.5" cy="328.7"/><circle r="5.2" cx="1027.5" cy="327.5"/><circle r="5.2" cx="1070.9" cy="334.4"/><circle r="5.2" cx="1066.3" cy="319"/><circle r="5.2" cx="1068" cy="326"/><circle r="5.2" cx="1097.6" cy="321.9"/><circle r="5.2" cx="1076.2" cy="320.9"/><circle r="5.2" cx="1043.4" cy="327.4"/><circle r="5.2" cx="1035.1" cy="338.9"/><circle r="5.2" cx="1096.9" cy="323.9"/><circle r="5.2" cx="1062.5" cy="334.8"/><circle r="5.2" cx="1041" cy="335.1"/><circle r="5.2" cx="1026.1" cy="338.2"/><circle r="5.2" cx="1050.1" cy="319.1"/><circle r="5.2" cx="1097.9" cy="330.6"/><circle r="5.2" cx="1099.1" cy="315.1"/><circle r="5.2" cx="1083.1" cy="320"/><circle r="5.2" cx="1027.5" cy="319.5"/><circle r="5.2" cx="1036" cy="327.9"/><circle r="5.2" cx="1092" cy="325.8"/><circle r="5.2" cx="1085.2" cy="327.3"/><circle r="5.2" cx="1058.9" cy="334.7"/></g><g fill="#FF9896" stroke="#FF9896"><circle r="5.2" cx="1028" cy="352"/><circle r="5.2" cx="1045" cy="350"/><circle r="5.2" cx="1038" cy="348"/><circle r="5.2" cx="1031" cy="349"/></g><g fill="#9467BD" stroke="#9467BD"><circle r="5.2" cx="1089.5" cy="152"/></g><g fill="#9467BD" stroke="#9467BD" class="f"><circle r="5.2" cx="901.4" cy="377.6"/><circle r="5.2" cx="883" cy="340.5"/><circle r="5.2" cx="884.7" cy="360.3"/><circle r="5.2" cx="901.1" cy="345"/><circle r="5.2" cx="897.7" cy="389.8"/><circle r="5.2" cx="888.7" cy="325.1"/><circle r="5.2" cx="908.5" cy="364.3"/><circle r="5.2" cx="890" cy="376.2"/><circle r="5.2" cx="906" cy="332.7"/><circle r="5.2" cx="901.3" cy="356"/><circle r="5.2" cx="910.7" cy="354"/><circle r="5.2" cx="900.5" cy="367.5"/><circle r="5.2" cx="895.2" cy="361.5"/><circle r="5.2" cx="897" cy="327.7"/><circle r="5.2" cx="895.2" cy="372.8"/><circle r="5.2" cx="908.6" cy="372.2"/><circle r="5.2" cx="887.8" cy="335.9"/><circle r="5.2" cx="904.3" cy="341.9"/><circle r="5.2" cx="884.8" cy="349.9"/><circle r="5.2" cx="888.5" cy="387.5"/><circle r="5.2" cx="907.2" cy="377.6"/><circle r="5.2" cx="906.4" cy="343.9"/><circle r="5.2" cx="889.5" cy="352.6"/><circle r="5.2" cx="893.4" cy="333.5"/><circle r="5.2" cx="902.1" cy="348.2"/><circle r="5.2" cx="893" cy="375.7"/><circle r="5.2" cx="895.2" cy="379.2"/><circle r="5.2" cx="891.4" cy="361.3"/><circle r="5.2" cx="899.9" cy="358.2"/><circle r="5.2" cx="899" cy="384.2"/><circle r="5.2" cx="884.9" cy="363.5"/><circle r="5.2" cx="892.4" cy="350"/><circle r="5.2" cx="900.2" cy="338.5"/><circle r="5.2" cx="893" cy="325.4"/><circle r="5.2" cx="909.5" cy="371.3"/><circle r="5.2" cx="886.2" cy="369.5"/><circle r="5.2" cx="885.7" cy="337.9"/><circle r="5.2" cx="892.7" cy="364.3"/><circle r="5.2" cx="890.9" cy="341.3"/><circle r="5.2" cx="888.3" cy="334.9"/><circle r="5.2" cx="901.1" cy="345.2"/><circle r="5.2" cx="885.1" cy="375.6"/><circle r="5.2" cx="892.2" cy="383.9"/><circle r="5.2" cx="897.5" cy="385.7"/><circle r="5.2" cx="895.6" cy="333.8"/><circle r="5.2" cx="891" cy="337.5"/><circle r="5.2" cx="906.4" cy="374.1"/><circle r="5.2" cx="905.2" cy="347.3"/><circle r="5.2" cx="909.6" cy="365"/><circle r="5.2" cx="897.1" cy="350.1"/><circle r="5.2" cx="908.7" cy="350.5"/><circle r="5.2" cx="900.6" cy="332.4"/><circle r="5.2" cx="895.6" cy="340.1"/><circle r="5.2" cx="902.9" cy="380.7"/><circle r="5.2" cx="908.2" cy="361.1"/><circle r="5.2" cx="887.2" cy="344.7"/><circle r="5.2" cx="902.8" cy="363"/><circle r="5.2" cx="895.3" cy="371"/></g><g fill="#C5B0D5" stroke="#C5B0D5" class="f"><circle r="5.2" cx="1148.4" cy="237.7"/><circle r="5.2" cx="1149.9" cy="214.8"/><circle r="5.2" cx="1148.3" cy="229"/><circle r="5.2" cx="1159.9" cy="230.1"/><circle r="5.2" cx="1141.2" cy="233.5"/><circle r="5.2" cx="1164.3" cy="216.6"/><circle r="5.2" cx="1138.1" cy="238.6"/><circle r="5.2" cx="1135.2" cy="225.9"/><circle r="5.2" cx="1132.7" cy="215"/><circle r="5.2" cx="1155.5" cy="246.1"/><circle r="5.2" cx="1144.9" cy="234.4"/><circle r="5.2" cx="1156.5" cy="219.6"/><circle r="5.2" cx="1138" cy="227.3"/><circle r="5.2" cx="1152" cy="237"/><circle r="5.2" cx="1134.3" cy="211.2"/><circle r="5.2" cx="1145.1" cy="230.2"/><circle r="5.2" cx="1157.3" cy="237.3"/><circle r="5.2" cx="1133.7" cy="229.5"/><circle r="5.2" cx="1144.5" cy="217.3"/><circle r="5.2" cx="1137.2" cy="213.7"/><circle r="5.2" cx="1150.5" cy="245.9"/><circle r="5.2" cx="1151.5" cy="215.4"/><circle r="5.2" cx="1141.3" cy="241.3"/><circle r="5.2" cx="1162" cy="220.5"/><circle r="5.2" cx="1162.1" cy="233"/><circle r="5.2" cx="1158.2" cy="226.6"/><circle r="5.2" cx="1152.5" cy="211.6"/><circle r="5.2" cx="1159.3" cy="211.8"/><circle r="5.2" cx="1144.7" cy="209.9"/><circle r="5.2" cx="1138" cy="234.1"/><circle r="5.2" cx="1142.4" cy="221.3"/><circle r="5.2" cx="1151.5" cy="229.6"/><circle r="5.2" cx="1151.6" cy="225.9"/><circle r="5.2" cx="1161.8" cy="222.3"/><circle r="5.2" cx="1153.5" cy="235.2"/><circle r="5.2" cx="1143" cy="235.2"/><circle r="5.2" cx="1166.6" cy="223.9"/><circle r="5.2" cx="1151.8" cy="242.7"/><circle r="5.2" cx="1129.8" cy="225.3"/><circle r="5.2" cx="1147.3" cy="219.4"/><circle r="5.2" cx="1142.3" cy="215.1"/><circle r="5.2" cx="1151.4" cy="211.5"/><circle r="5.2" cx="1142.9" cy="241.3"/><circle r="5.2" cx="1155.6" cy="231.7"/><circle r="5.2" cx="1153" cy="218.1"/><circle r="5.2" cx="1164.5" cy="214"/><circle r="5.2" cx="1159.7" cy="239"/><circle r="5.2" cx="1136.8" cy="218.1"/><circle r="5.2" cx="1139.1" cy="226.1"/><circle r="5.2" cx="1135.5" cy="231.1"/><circle r="5.2" cx="1156.8" cy="220"/><circle r="5.2" cx="1148.6" cy="241.1"/></g><g fill="#C49C94" stroke="#C49C94" class="f"><circle r="5.2" cx="801.8" cy="258"/><circle r="5.2" cx="800.4" cy="230.8"/><circle r="5.2" cx="801.4" cy="247.2"/><circle r="5.2" cx="816.3" cy="249.3"/><circle r="5.2" cx="812.3" cy="259.1"/><circle r="5.2" cx="815.7" cy="233"/><circle r="5.2" cx="816" cy="257.5"/><circle r="5.2" cx="808.9" cy="220.5"/><circle r="5.2" cx="812.1" cy="248.1"/><circle r="5.2" cx="809.2" cy="237.3"/><circle r="5.2" cx="792.8" cy="236.3"/><circle r="5.2" cx="791" cy="242.5"/><circle r="5.2" cx="807.5" cy="229.6"/><circle r="5.2" cx="794.5" cy="252.1"/><circle r="5.2" cx="793.9" cy="225.5"/><circle r="5.2" cx="816.2" cy="244"/><circle r="5.2" cx="811" cy="253.2"/><circle r="5.2" cx="795.4" cy="258.3"/><circle r="5.2" cx="803.1" cy="251.1"/><circle r="5.2" cx="808.4" cy="251.9"/><circle r="5.2" cx="813.8" cy="220.7"/><circle r="5.2" cx="796" cy="243.2"/><circle r="5.2" cx="801.4" cy="224"/><circle r="5.2" cx="805.6" cy="264.4"/><circle r="5.2" cx="795.8" cy="231.5"/><circle r="5.2" cx="821.4" cy="251"/><circle r="5.2" cx="805.7" cy="234.9"/><circle r="5.2" cx="812.4" cy="262.7"/><circle r="5.2" cx="793.6" cy="248"/><circle r="5.2" cx="805.4" cy="235.7"/><circle r="5.2" cx="789.8" cy="246.6"/><circle r="5.2" cx="786.6" cy="242.7"/><circle r="5.2" cx="805.8" cy="221.6"/><circle r="5.2" cx="810.3" cy="248.1"/><circle r="5.2" cx="820.7" cy="263.7"/><circle r="5.2" cx="811.2" cy="261.9"/><circle r="5.2" cx="798.8" cy="255.1"/><circle r="5.2" cx="800.7" cy="239.8"/><circle r="5.2" cx="804" cy="234.4"/><circle r="5.2" cx="799.3" cy="250.6"/><circle r="5.2" cx="798.3" cy="237.7"/><circle r="5.2" cx="803.1" cy="243.6"/></g><g fill="#F7B6D2" stroke="#F7B6D2" class="f"><circle r="5.2" cx="1011.8" cy="46.5"/><circle r="5.2" cx="1020.1" cy="50.5"/><circle r="5.2" cx="1016.3" cy="42"/><circle r="5.2" cx="1004.8" cy="51.3"/><circle r="5.2" cx="1019.3" cy="44.8"/><circle r="5.2" cx="1013.6" cy="51.1"/><circle r="5.2" cx="1012.8" cy="45.1"/><circle r="5.2" cx="1007.5" cy="50"/><circle r="5.2" cx="1023.8" cy="51.3"/><circle r="5.2" cx="1021.4" cy="52.3"/><circle r="5.2" cx="1013.2" cy="50.2"/><circle r="5.2" cx="1007.7" cy="44.2"/></g><g fill="#F7B6D2" stroke="#F7B6D2"><circle r="5.2" cx="1035.4" cy="60"/><circle r="5.2" cx="1034.9" cy="70"/></g><g fill="#DBDB8D" stroke="#DBDB8D" class="f"><circle r="5.2" cx="1188.6" cy="342.8"/><circle r="5.2" cx="1194.4" cy="318.4"/><circle r="5.2" cx="1206.7" cy="336.2"/><circle r="5.2" cx="1195.6" cy="332.2"/><circle r="5.2" cx="1202.2" cy="345"/><circle r="5.2" cx="1200.5" cy="319.5"/><circle r="5.2" cx="1203.3" cy="327.2"/><circle r="5.2" cx="1198.5" cy="333.2"/><circle r="5.2" cx="1198.5" cy="324.8"/><circle r="5.2" cx="1195.1" cy="343.7"/><circle r="5.2" cx="1205" cy="340.4"/><circle r="5.2" cx="1206" cy="323.2"/><circle r="5.2" cx="1187" cy="328.7"/><circle r="5.2" cx="1190.6" cy="344.2"/><circle r="5.2" cx="1189" cy="326.9"/><circle r="5.2" cx="1184.7" cy="335.2"/><circle r="5.2" cx="1200.2" cy="326.9"/><circle r="5.2" cx="1206.5" cy="336"/><circle r="5.2" cx="1196.3" cy="345.5"/></g><g fill="#1F77B4" stroke="#1F77B4" class="f"><circle r="5.2" cx="1008.1" cy="484.4"/><circle r="5.2" cx="1035.4" cy="463.5"/><circle r="5.2" cx="994.7" cy="474.4"/><circle r="5.2" cx="1023.8" cy="469.6"/><circle r="5.2" cx="1027.2" cy="481.9"/><circle r="5.2" cx="1004.8" cy="475.7"/><circle r="5.2" cx="995.6" cy="483.7"/><circle r="5.2" cx="1002.4" cy="478.9"/><circle r="5.2" cx="1014.2" cy="473.4"/><circle r="5.2" cx="1037.3" cy="471.4"/><circle r="5.2" cx="1008.9" cy="477.8"/><circle r="5.2" cx="1016.9" cy="481.1"/><circle r="5.2" cx="1029.6" cy="471.8"/><circle r="5.2" cx="1020.7" cy="474.5"/><circle r="5.2" cx="1039.3" cy="481"/><circle r="5.2" cx="1020.4" cy="464.9"/><circle r="5.2" cx="1073.8" cy="483"/><circle r="5.2" cx="1066.1" cy="501.6"/><circle r="5.2" cx="1083.1" cy="490.8"/><circle r="5.2" cx="1074.1" cy="506.3"/><circle r="5.2" cx="1074.9" cy="498.2"/><circle r="5.2" cx="1068.4" cy="474"/><circle r="5.2" cx="1063.6" cy="494.5"/><circle r="5.2" cx="1063.2" cy="482.2"/><circle r="5.2" cx="1064.6" cy="490.7"/><circle r="5.2" cx="1080.6" cy="497.8"/><circle r="5.2" cx="1076.8" cy="505.2"/><circle r="5.2" cx="1077.5" cy="492.8"/></g><g fill="#1F77B4" stroke="#1F77B4"><circle r="5.2" cx="1059" cy="430.7"/><circle r="5.2" cx="1059.3" cy="430.5"/><circle r="5.2" cx="965.5" cy="495"/><circle r="5.2" cx="965.8" cy="494.8"/><circle r="5.2" cx="945" cy="436.7"/></g><g fill="#AEC7E8" stroke="#AEC7E8" class="f"><circle r="5.2" cx="957.5" cy="291.1"/><circle r="5.2" cx="954.4" cy="299.5"/><circle r="5.2" cx="961.9" cy="303.5"/><circle r="5.2" cx="960" cy="294.9"/><circle r="5.2" cx="951.3" cy="296.2"/><circle r="5.2" cx="1019.2" cy="328.1"/><circle r="5.2" cx="1006.5" cy="263.5"/><circle r="5.2" cx="1011.6" cy="300.6"/><circle r="5.2" cx="1018.8" cy="268.3"/><circle r="5.2" cx="1010.3" cy="310"/><circle r="5.2" cx="1002.7" cy="279.6"/><circle r="5.2" cx="1016.8" cy="264.6"/><circle r="5.2" cx="1017.7" cy="320.4"/><circle r="5.2" cx="1017.1" cy="293.9"/><circle r="5.2" cx="1002.3" cy="329.1"/><circle r="5.2" cx="1008.9" cy="325.6"/><circle r="5.2" cx="1004" cy="296.8"/><circle r="5.2" cx="1012.3" cy="277.8"/><circle r="5.2" cx="1025.4" cy="282.3"/><circle r="5.2" cx="1022.8" cy="304.3"/><circle r="5.2" cx="1024.7" cy="258.6"/><circle r="5.2" cx="1004.1" cy="282.6"/><circle r="5.2" cx="1021.4" cy="309.9"/><circle r="5.2" cx="1024.9" cy="272.4"/><circle r="5.2" cx="1012.1" cy="317.8"/><circle r="5.2" cx="1025.6" cy="266.6"/><circle r="5.2" cx="1025.5" cy="257.1"/></g><g fill="#FFBB78" stroke="#FFBB78" class="f"><circle r="5.2" cx="1154.2" cy="151.1"/><circle r="5.2" cx="1098.8" cy="116.8"/><circle r="5.2" cx="1140" cy="120.7"/><circle r="5.2" cx="1107.3" cy="161.9"/><circle r="5.2" cx="1099.7" cy="138.4"/><circle r="5.2" cx="1122.6" cy="146.1"/><circle r="5.2" cx="1137" cy="188.3"/><circle r="5.2" cx="1171.5" cy="146.4"/><circle r="5.2" cx="1149.7" cy="175.2"/><circle r="5.2" cx="1157.9" cy="114.4"/><circle r="5.2" cx="1163.4" cy="133.5"/><circle r="5.2" cx="1122.4" cy="110.7"/><circle r="5.2" cx="1169.1" cy="160.8"/><circle r="5.2" cx="1161.8" cy="103.5"/><circle r="5.2" cx="1171.5" cy="118.4"/><circle r="5.2" cx="1165.6" cy="128.8"/><circle r="5.2" cx="1139.3" cy="143.3"/><circle r="5.2" cx="1115.7" cy="175.8"/><circle r="5.2" cx="1119.6" cy="183.5"/><circle r="5.2" cx="1129" cy="157.5"/><circle r="5.2" cx="1172.4" cy="101.4"/><circle r="5.2" cx="1139.1" cy="133.9"/><circle r="5.2" cx="1146.1" cy="137.6"/><circle r="5.2" cx="1123.1" cy="126.8"/><circle r="5.2" cx="1142.4" cy="159.2"/><circle r="5.2" cx="1147.3" cy="199.3"/><circle r="5.2" cx="1144.1" cy="178.6"/><circle r="5.2" cx="1110.2" cy="168.1"/><circle r="5.2" cx="1151" cy="182.4"/><circle r="5.2" cx="1181.7" cy="154.3"/><circle r="5.2" cx="1168.6" cy="170.6"/><circle r="5.2" cx="1153.8" cy="126"/><circle r="5.2" cx="1113.3" cy="109"/><circle r="5.2" cx="1126.6" cy="140.2"/><circle r="5.2" cx="1129.1" cy="124.5"/><circle r="5.2" cx="1179.1" cy="163.7"/><circle r="5.2" cx="1119.4" cy="162.1"/><circle r="5.2" cx="1099.8" cy="123.2"/><circle r="5.2" cx="1098.7" cy="111.7"/><circle r="5.2" cx="1153.2" cy="164.5"/><circle r="5.2" cx="1168.2" cy="116.2"/><circle r="5.2" cx="1139.4" cy="164.9"/><circle r="5.2" cx="1133.2" cy="117.9"/><circle r="5.2" cx="1126.2" cy="142"/><circle r="5.2" cx="1109.6" cy="118.4"/><circle r="5.2" cx="1120.6" cy="175.8"/><circle r="5.2" cx="1136.3" cy="202.2"/><circle r="5.2" cx="1175" cy="137.4"/><circle r="5.2" cx="1158.6" cy="144.4"/><circle r="5.2" cx="1151.2" cy="110.2"/><circle r="5.2" cx="1109.2" cy="127.9"/><circle r="5.2" cx="1118.1" cy="112.8"/><circle r="5.2" cx="1104.3" cy="144.2"/><circle r="5.2" cx="1113.4" cy="151.7"/><circle r="5.2" cx="1179.7" cy="111.5"/><circle r="5.2" cx="1177.7" cy="125.7"/><circle r="5.2" cx="1127.8" cy="169.8"/><circle r="5.2" cx="1119.4" cy="139.7"/><circle r="5.2" cx="1126.5" cy="194.7"/><circle r="5.2" cx="1184.6" cy="135.5"/><circle r="5.2" cx="1141.6" cy="117.5"/><circle r="5.2" cx="1125.8" cy="187.1"/><circle r="5.2" cx="1163.3" cy="110"/><circle r="5.2" cx="1102.4" cy="101.4"/><circle r="5.2" cx="1140" cy="152"/><circle r="5.2" cx="1117.1" cy="164.5"/><circle r="5.2" cx="1138.2" cy="164.3"/><circle r="5.2" cx="1181.5" cy="144.9"/><circle r="5.2" cx="1123.8" cy="123.9"/><circle r="5.2" cx="1158.7" cy="128.2"/><circle r="5.2" cx="1148.5" cy="129.6"/><circle r="5.2" cx="1151.5" cy="156.1"/><circle r="5.2" cx="1141.7" cy="175.8"/><circle r="5.2" cx="1151.4" cy="190.2"/><circle r="5.2" cx="1170.5" cy="106.5"/><circle r="5.2" cx="1152.1" cy="176.8"/><circle r="5.2" cx="1156.4" cy="170.1"/><circle r="5.2" cx="1139.2" cy="191.8"/><circle r="5.2" cx="1142.8" cy="174.6"/><circle r="5.2" cx="1159.8" cy="155.3"/><circle r="5.2" cx="1131.8" cy="182.1"/><circle r="5.2" cx="1168.9" cy="147.7"/><circle r="5.2" cx="1132.1" cy="125.4"/><circle r="5.2" cx="1153" cy="101"/><circle r="5.2" cx="1097" cy="156.4"/><circle r="5.2" cx="1141.8" cy="132.8"/><circle r="5.2" cx="1179.3" cy="104.8"/><circle r="5.2" cx="1133.8" cy="200.6"/><circle r="5.2" cx="1092.3" cy="137.3"/><circle r="5.2" cx="1183.3" cy="169.7"/><circle r="5.2" cx="1109.6" cy="132.7"/><circle r="5.2" cx="1101.3" cy="169"/><circle r="5.2" cx="1111.8" cy="124.5"/><circle r="5.2" cx="1113.1" cy="154.2"/><circle r="5.2" cx="1104.7" cy="156.1"/><circle r="5.2" cx="1155.4" cy="117.7"/><circle r="5.2" cx="1140.6" cy="112.7"/><circle r="5.2" cx="1136.6" cy="169.4"/><circle r="5.2" cx="1182.4" cy="138"/><circle r="5.2" cx="1181.3" cy="148.9"/><circle r="5.2" cx="1147.7" cy="125.8"/><circle r="5.2" cx="1146.1" cy="146.1"/><circle r="5.2" cx="1103.5" cy="114.1"/><circle r="5.2" cx="1147.1" cy="155.2"/><circle r="5.2" cx="1133.7" cy="175.4"/><circle r="5.2" cx="1141.2" cy="196.8"/><circle r="5.2" cx="1130.3" cy="121"/><circle r="5.2" cx="1187.2" cy="124.7"/><circle r="5.2" cx="1095.2" cy="111.1"/><circle r="5.2" cx="1118" cy="142.3"/><circle r="5.2" cx="1124.3" cy="162"/><circle r="5.2" cx="1160.5" cy="107.9"/><circle r="5.2" cx="1126.1" cy="153.4"/><circle r="5.2" cx="1182.4" cy="163.5"/><circle r="5.2" cx="1115.6" cy="118.6"/><circle r="5.2" cx="1112.3" cy="136"/><circle r="5.2" cx="1184.1" cy="127.4"/><circle r="5.2" cx="1153.1" cy="195.3"/><circle r="5.2" cx="1099.1" cy="163.1"/><circle r="5.2" cx="1177.1" cy="161.7"/><circle r="5.2" cx="1102.3" cy="133.6"/><circle r="5.2" cx="1183.4" cy="117.6"/><circle r="5.2" cx="1129.3" cy="148.1"/><circle r="5.2" cx="1149.7" cy="197.2"/><circle r="5.2" cx="1128.6" cy="147"/><circle r="5.2" cx="1179.6" cy="160.2"/><circle r="5.2" cx="1132.7" cy="163.4"/><circle r="5.2" cx="1098.8" cy="129.8"/><circle r="5.2" cx="1179.2" cy="117"/><circle r="5.2" cx="1179.3" cy="134.2"/><circle r="5.2" cx="1099.7" cy="112.4"/><circle r="5.2" cx="1136.5" cy="196.2"/><circle r="5.2" cx="1143.5" cy="149"/><circle r="5.2" cx="1155.7" cy="128.3"/><circle r="5.2" cx="1177.4" cy="140.1"/><circle r="5.2" cx="1181.5" cy="108.4"/><circle r="5.2" cx="1161.5" cy="111.9"/><circle r="5.2" cx="1167.5" cy="174"/><circle r="5.2" cx="1099.4" cy="146.8"/><circle r="5.2" cx="1117.6" cy="185.9"/><circle r="5.2" cx="1168.8" cy="145.6"/><circle r="5.2" cx="1153.5" cy="153.4"/><circle r="5.2" cx="1107.2" cy="123.9"/><circle r="5.2" cx="1163.7" cy="170.6"/><circle r="5.2" cx="1157.2" cy="109.2"/><circle r="5.2" cx="1114.7" cy="180.2"/><circle r="5.2" cx="1120" cy="158.1"/><circle r="5.2" cx="1102.3" cy="108.9"/><circle r="5.2" cx="1159.9" cy="157.8"/><circle r="5.2" cx="1136.4" cy="121.1"/><circle r="5.2" cx="1156.5" cy="137.7"/><circle r="5.2" cx="1145.1" cy="202"/><circle r="5.2" cx="1159.2" cy="151.3"/><circle r="5.2" cx="1125" cy="153.9"/><circle r="5.2" cx="1097.5" cy="142.1"/><circle r="5.2" cx="1145.2" cy="164.4"/><circle r="5.2" cx="1138.8" cy="151.1"/><circle r="5.2" cx="1163" cy="122.3"/><circle r="5.2" cx="1148" cy="113.4"/><circle r="5.2" cx="1160.4" cy="116.4"/><circle r="5.2" cx="1163.2" cy="151.7"/><circle r="5.2" cx="1180.2" cy="161.5"/><circle r="5.2" cx="1140.5" cy="137.1"/><circle r="5.2" cx="1151.7" cy="139.3"/><circle r="5.2" cx="1126.6" cy="172.3"/><circle r="5.2" cx="1140.5" cy="159.4"/><circle r="5.2" cx="1144.9" cy="178"/><circle r="5.2" cx="1137.1" cy="125.8"/><circle r="5.2" cx="1165.5" cy="105.4"/><circle r="5.2" cx="1109.4" cy="106.5"/><circle r="5.2" cx="1126" cy="182.5"/><circle r="5.2" cx="1114.9" cy="170.7"/><circle r="5.2" cx="1165.6" cy="130"/><circle r="5.2" cx="1171.8" cy="119.9"/><circle r="5.2" cx="1174.8" cy="114.7"/><circle r="5.2" cx="1173.6" cy="173.1"/><circle r="5.2" cx="1174" cy="162.2"/><circle r="5.2" cx="1137.6" cy="136.9"/><circle r="5.2" cx="1140.3" cy="126.7"/><circle r="5.2" cx="1152.2" cy="168.4"/><circle r="5.2" cx="1129.7" cy="121"/><circle r="5.2" cx="1122.5" cy="119.1"/><circle r="5.2" cx="1148.9" cy="160"/><circle r="5.2" cx="1133.7" cy="175.4"/><circle r="5.2" cx="1158.4" cy="130.2"/><circle r="5.2" cx="1108.7" cy="140.4"/><circle r="5.2" cx="1133.6" cy="165.2"/><circle r="5.2" cx="1164.4" cy="162.4"/><circle r="5.2" cx="1096.3" cy="147.4"/><circle r="5.2" cx="1134.5" cy="155.5"/><circle r="5.2" cx="1145.9" cy="111.7"/><circle r="5.2" cx="1148.1" cy="134.9"/><circle r="5.2" cx="1166.1" cy="127.1"/><circle r="5.2" cx="1124.9" cy="136.2"/><circle r="5.2" cx="1132" cy="113.4"/><circle r="5.2" cx="1153.8" cy="187"/><circle r="5.2" cx="1132.7" cy="132.4"/><circle r="5.2" cx="1179.3" cy="100.3"/><circle r="5.2" cx="1169.9" cy="150.8"/><circle r="5.2" cx="1126.6" cy="129.7"/><circle r="5.2" cx="1175.3" cy="133.7"/><circle r="5.2" cx="1142.2" cy="204.5"/><circle r="5.2" cx="1145.1" cy="183.5"/><circle r="5.2" cx="1170.1" cy="98.5"/><circle r="5.2" cx="1142.3" cy="191.1"/><circle r="5.2" cx="1166.9" cy="136.1"/><circle r="5.2" cx="1162.1" cy="139"/><circle r="5.2" cx="1147" cy="179.4"/><circle r="5.2" cx="1131.7" cy="112.7"/><circle r="5.2" cx="1111.5" cy="128.8"/><circle r="5.2" cx="1099.5" cy="151.8"/><circle r="5.2" cx="1138" cy="154.6"/><circle r="5.2" cx="1163.9" cy="133"/><circle r="5.2" cx="1178.7" cy="140.6"/><circle r="5.2" cx="1151.2" cy="172.2"/><circle r="5.2" cx="1142.5" cy="137.3"/><circle r="5.2" cx="1108.2" cy="165.9"/><circle r="5.2" cx="1099.5" cy="115.4"/><circle r="5.2" cx="1151" cy="198.4"/><circle r="5.2" cx="1131.9" cy="184"/><circle r="5.2" cx="1126.4" cy="141.9"/><circle r="5.2" cx="1183.5" cy="160.2"/><circle r="5.2" cx="1148.4" cy="185.4"/><circle r="5.2" cx="1171.1" cy="110.7"/><circle r="5.2" cx="1099.2" cy="125.5"/><circle r="5.2" cx="1125.9" cy="168.9"/><circle r="5.2" cx="1098.3" cy="135.4"/><circle r="5.2" cx="1107.3" cy="107.8"/><circle r="5.2" cx="1149.6" cy="163.1"/><circle r="5.2" cx="1172.4" cy="123.8"/><circle r="5.2" cx="1124.3" cy="116.5"/><circle r="5.2" cx="1135.6" cy="141.6"/><circle r="5.2" cx="1145.3" cy="168.9"/><circle r="5.2" cx="1121.8" cy="122.5"/><circle r="5.2" cx="1168.6" cy="156"/><circle r="5.2" cx="1169.5" cy="148.9"/><circle r="5.2" cx="1136.3" cy="170.5"/><circle r="5.2" cx="1109.4" cy="126.9"/><circle r="5.2" cx="1171.9" cy="158.3"/><circle r="5.2" cx="1095.2" cy="117.5"/><circle r="5.2" cx="1173.7" cy="172"/><circle r="5.2" cx="1177.7" cy="146.2"/><circle r="5.2" cx="1175.4" cy="104.8"/><circle r="5.2" cx="1126.3" cy="162"/><circle r="5.2" cx="1175.8" cy="107.6"/><circle r="5.2" cx="1148" cy="119.8"/><circle r="5.2" cx="1101.7" cy="153.7"/><circle r="5.2" cx="1177" cy="124.6"/><circle r="5.2" cx="1135.1" cy="184.5"/><circle r="5.2" cx="1161.6" cy="172.9"/><circle r="5.2" cx="1116.9" cy="118.7"/><circle r="5.2" cx="1122.3" cy="138.1"/><circle r="5.2" cx="1118.9" cy="149.1"/><circle r="5.2" cx="1133.1" cy="163.5"/><circle r="5.2" cx="1183.2" cy="131.6"/><circle r="5.2" cx="1111.1" cy="115.3"/><circle r="5.2" cx="1132.7" cy="140.2"/><circle r="5.2" cx="1151.8" cy="125.6"/><circle r="5.2" cx="1180.9" cy="174.2"/><circle r="5.2" cx="1114.8" cy="137"/><circle r="5.2" cx="1111.4" cy="160"/><circle r="5.2" cx="1142.7" cy="161.9"/><circle r="5.2" cx="1132" cy="151.9"/><circle r="5.2" cx="1105.9" cy="130.9"/><circle r="5.2" cx="1134.1" cy="149.7"/><circle r="5.2" cx="1127.2" cy="132.5"/><circle r="5.2" cx="1183.6" cy="153.5"/><circle r="5.2" cx="1120.4" cy="166.7"/><circle r="5.2" cx="1107.4" cy="117.9"/><circle r="5.2" cx="1154.3" cy="134.3"/><circle r="5.2" cx="1118.1" cy="182.7"/><circle r="5.2" cx="1136.8" cy="125.8"/><circle r="5.2" cx="1156.8" cy="169.5"/><circle r="5.2" cx="1113.9" cy="116.7"/><circle r="5.2" cx="1123.1" cy="128.8"/><circle r="5.2" cx="1102.7" cy="165.3"/><circle r="5.2" cx="1165.8" cy="116.2"/><circle r="5.2" cx="1151.3" cy="203.7"/><circle r="5.2" cx="1114.5" cy="155.5"/><circle r="5.2" cx="1158" cy="160.6"/><circle r="5.2" cx="1168.5" cy="160.6"/><circle r="5.2" cx="1182.4" cy="126.9"/><circle r="5.2" cx="1114.7" cy="144.3"/><circle r="5.2" cx="1168.2" cy="165.7"/><circle r="5.2" cx="1153.6" cy="179.3"/><circle r="5.2" cx="1125.3" cy="147.9"/><circle r="5.2" cx="1140.7" cy="189"/><circle r="5.2" cx="1172.9" cy="155.3"/><circle r="5.2" cx="1138.8" cy="202.8"/><circle r="5.2" cx="1165.3" cy="120.1"/><circle r="5.2" cx="1150.4" cy="114.8"/><circle r="5.2" cx="1152.5" cy="145"/><circle r="5.2" cx="1102.6" cy="164.7"/><circle r="5.2" cx="1176.7" cy="154.3"/><circle r="5.2" cx="1168.8" cy="139.7"/><circle r="5.2" cx="1132" cy="139.3"/><circle r="5.2" cx="1127" cy="141.6"/><circle r="5.2" cx="1104.6" cy="140.6"/><circle r="5.2" cx="1148.2" cy="138.2"/><circle r="5.2" cx="1170" cy="137.4"/><circle r="5.2" cx="1135.2" cy="191.6"/><circle r="5.2" cx="1096.9" cy="159"/><circle r="5.2" cx="1141.4" cy="144"/><circle r="5.2" cx="1126.7" cy="121.2"/><circle r="5.2" cx="1138.6" cy="114.2"/><circle r="5.2" cx="1120.5" cy="144.2"/><circle r="5.2" cx="1099.4" cy="128"/><circle r="5.2" cx="1156.6" cy="164.1"/><circle r="5.2" cx="1166.6" cy="126.2"/><circle r="5.2" cx="1130" cy="160.5"/><circle r="5.2" cx="1174.6" cy="112.6"/><circle r="5.2" cx="1127.6" cy="158.2"/><circle r="5.2" cx="1174.9" cy="153.1"/><circle r="5.2" cx="1136.8" cy="122.9"/><circle r="5.2" cx="1129.7" cy="178.2"/><circle r="5.2" cx="1176" cy="129"/><circle r="5.2" cx="1140" cy="181.8"/><circle r="5.2" cx="1169.5" cy="168"/><circle r="5.2" cx="1127" cy="150.6"/><circle r="5.2" cx="1166.7" cy="148.1"/><circle r="5.2" cx="1117.5" cy="162.3"/><circle r="5.2" cx="1163.3" cy="164.6"/><circle r="5.2" cx="1149.5" cy="151.7"/><circle r="5.2" cx="1182.2" cy="114.5"/><circle r="5.2" cx="1115.1" cy="156.5"/><circle r="5.2" cx="1126.7" cy="190.1"/><circle r="5.2" cx="1185.2" cy="119.9"/><circle r="5.2" cx="1163.6" cy="124.3"/><circle r="5.2" cx="1170.7" cy="113.5"/><circle r="5.2" cx="1158.6" cy="138.3"/><circle r="5.2" cx="1132.7" cy="158.5"/><circle r="5.2" cx="1117.2" cy="134.4"/><circle r="5.2" cx="1147" cy="160.4"/><circle r="5.2" cx="1127.2" cy="195.7"/><circle r="5.2" cx="1162.6" cy="143.6"/><circle r="5.2" cx="1149.3" cy="164.5"/><circle r="5.2" cx="1117.9" cy="115.4"/><circle r="5.2" cx="1115.7" cy="159.6"/><circle r="5.2" cx="1112.1" cy="157.3"/><circle r="5.2" cx="1130" cy="173.5"/><circle r="5.2" cx="1122.8" cy="132.9"/><circle r="5.2" cx="1152.9" cy="107.6"/><circle r="5.2" cx="1115.1" cy="150.7"/><circle r="5.2" cx="1147.9" cy="154.2"/><circle r="5.2" cx="1161.4" cy="162.8"/><circle r="5.2" cx="1134.6" cy="128.4"/><circle r="5.2" cx="1166.1" cy="102.3"/><circle r="5.2" cx="1126.4" cy="176.3"/><circle r="5.2" cx="1158.2" cy="109.6"/><circle r="5.2" cx="1134.6" cy="143"/><circle r="5.2" cx="1149.6" cy="183.1"/><circle r="5.2" cx="1155.1" cy="171.4"/><circle r="5.2" cx="1121.1" cy="115.4"/><circle r="5.2" cx="1127.5" cy="171.5"/><circle r="5.2" cx="1111.8" cy="174.9"/><circle r="5.2" cx="1152.8" cy="189.9"/><circle r="5.2" cx="1135.8" cy="116.2"/><circle r="5.2" cx="1171.8" cy="171"/><circle r="5.2" cx="1135.7" cy="177.9"/><circle r="5.2" cx="1102.5" cy="120.8"/><circle r="5.2" cx="1168.2" cy="118.5"/><circle r="5.2" cx="1147.7" cy="159.4"/><circle r="5.2" cx="1131.2" cy="146.3"/><circle r="5.2" cx="1134.3" cy="118.4"/><circle r="5.2" cx="1120.7" cy="110.8"/><circle r="5.2" cx="1105.4" cy="135.9"/><circle r="5.2" cx="1154.6" cy="141.7"/><circle r="5.2" cx="1127.9" cy="154"/><circle r="5.2" cx="1158.7" cy="148"/><circle r="5.2" cx="1158.1" cy="156"/><circle r="5.2" cx="1146" cy="110.1"/><circle r="5.2" cx="1181.3" cy="132.3"/><circle r="5.2" cx="1140.1" cy="134.2"/><circle r="5.2" cx="1098.4" cy="109.5"/><circle r="5.2" cx="1151.6" cy="181"/><circle r="5.2" cx="1105.6" cy="149.2"/><circle r="5.2" cx="1126.7" cy="177"/><circle r="5.2" cx="1117.6" cy="121.4"/><circle r="5.2" cx="1157.8" cy="181.3"/><circle r="5.2" cx="1145.6" cy="200.7"/><circle r="5.2" cx="1157.6" cy="193.9"/><circle r="5.2" cx="1141.9" cy="194.2"/><circle r="5.2" cx="1152" cy="198.6"/><circle r="5.2" cx="1141.7" cy="184.6"/><circle r="5.2" cx="1148.4" cy="189.6"/><circle r="5.2" cx="1156" cy="197.7"/><circle r="5.2" cx="1156.9" cy="187.3"/><circle r="5.2" cx="1155.3" cy="182.8"/><circle r="5.2" cx="1151.4" cy="192.2"/><circle r="5.2" cx="1142.3" cy="184.1"/><circle r="5.2" cx="1146.4" cy="198"/><circle r="5.2" cx="1156.4" cy="185.1"/><circle r="5.2" cx="1146.2" cy="191.5"/><circle r="5.2" cx="1147.6" cy="200.5"/><circle r="5.2" cx="1151" cy="180.1"/></g><g fill="#2CA02C" stroke="#2CA02C" class="f"><circle r="5.2" cx="1206.3" cy="364.6"/><circle r="5.2" cx="1210.7" cy="360.6"/><circle r="5.2" cx="1203.5" cy="358.8"/><circle r="5.2" cx="1199.6" cy="362"/><circle r="5.2" cx="1207.9" cy="359.1"/><circle r="5.2" cx="1209.7" cy="368.2"/><circle r="5.2" cx="1207.3" cy="365.7"/><circle r="5.2" cx="1202.8" cy="360.9"/><circle r="5.2" cx="1200.9" cy="368.2"/><circle r="5.2" cx="1208" cy="357"/><circle r="5.2" cx="1208.4" cy="364.7"/><circle r="5.2" cx="1201.7" cy="359.8"/><circle r="5.2" cx="1186.1" cy="392.6"/><circle r="5.2" cx="1187.9" cy="382.8"/><circle r="5.2" cx="1184.8" cy="386.7"/><circle r="5.2" cx="1183" cy="389.6"/><circle r="5.2" cx="1190.8" cy="391"/><circle r="5.2" cx="1181.8" cy="389.8"/><circle r="5.2" cx="1184.5" cy="392.6"/><circle r="5.2" cx="1182.5" cy="386.3"/><circle r="5.2" cx="1187.1" cy="393.6"/><circle r="5.2" cx="1185.6" cy="386"/><circle r="5.2" cx="1188.9" cy="384.4"/><circle r="5.2" cx="1185.4" cy="381.9"/></g><g fill="#FF9896" stroke="#FF9896"><circle r="5.2" cx="1042" cy="86.5"/><circle r="5.2" cx="1041.5" cy="86.2"/><circle r="5.2" cx="1043" cy="88"/></g><g fill="#FF9896" stroke="#FF9896" class="f"><circle r="5.2" cx="1075.5" cy="248.7"/><circle r="5.2" cx="1110.1" cy="276.9"/><circle r="5.2" cx="1075.3" cy="297.6"/><circle r="5.2" cx="1044.9" cy="310.5"/><circle r="5.2" cx="1042.3" cy="266"/><circle r="5.2" cx="1059" cy="255.5"/><circle r="5.2" cx="1028.5" cy="311.6"/><circle r="5.2" cx="1054.5" cy="297.4"/><circle r="5.2" cx="1061.2" cy="241"/><circle r="5.2" cx="1039.2" cy="273.6"/><circle r="5.2" cx="1106.7" cy="268.6"/><circle r="5.2" cx="1036.9" cy="290.9"/><circle r="5.2" cx="1095.1" cy="293.1"/><circle r="5.2" cx="1035.5" cy="255"/><circle r="5.2" cx="1055" cy="276.8"/><circle r="5.2" cx="1078.5" cy="267.2"/><circle r="5.2" cx="1028.1" cy="302.5"/><circle r="5.2" cx="1092.9" cy="265.7"/><circle r="5.2" cx="1052.3" cy="285.8"/><circle r="5.2" cx="1086.3" cy="254.7"/><circle r="5.2" cx="1084.8" cy="306.3"/><circle r="5.2" cx="1055.6" cy="248.7"/><circle r="5.2" cx="1041.9" cy="298.3"/><circle r="5.2" cx="1063.3" cy="297.5"/><circle r="5.2" cx="1038.7" cy="243.1"/><circle r="5.2" cx="1054.4" cy="244"/><circle r="5.2" cx="1072.2" cy="277.3"/><circle r="5.2" cx="1086.3" cy="289.3"/><circle r="5.2" cx="1072.6" cy="290.8"/><circle r="5.2" cx="1083.2" cy="269.3"/><circle r="5.2" cx="1065.7" cy="270.6"/><circle r="5.2" cx="1105.5" cy="258.2"/><circle r="5.2" cx="1111.4" cy="283.1"/><circle r="5.2" cx="1068.4" cy="257.2"/><circle r="5.2" cx="1095" cy="258.6"/><circle r="5.2" cx="1032.2" cy="293"/><circle r="5.2" cx="1031.4" cy="262.5"/><circle r="5.2" cx="1044.7" cy="253.1"/><circle r="5.2" cx="1091.2" cy="297.8"/><circle r="5.2" cx="1063" cy="280.9"/><circle r="5.2" cx="1069.8" cy="303"/><circle r="5.2" cx="1113" cy="264.5"/><circle r="5.2" cx="1046.7" cy="271.3"/><circle r="5.2" cx="1066.8" cy="286.4"/><circle r="5.2" cx="1089.8" cy="261.2"/><circle r="5.2" cx="1077.8" cy="253.7"/><circle r="5.2" cx="1037.3" cy="308.2"/><circle r="5.2" cx="1084.7" cy="242"/><circle r="5.2" cx="1056" cy="305.2"/><circle r="5.2" cx="1097.2" cy="267.2"/><circle r="5.2" cx="1077" cy="307.9"/><circle r="5.2" cx="1068.1" cy="266.1"/><circle r="5.2" cx="1083.2" cy="284.9"/><circle r="5.2" cx="1059.2" cy="268"/><circle r="5.2" cx="1071.4" cy="272.5"/><circle r="5.2" cx="1033.1" cy="271"/><circle r="5.2" cx="1046.4" cy="289"/><circle r="5.2" cx="1104.9" cy="286.5"/><circle r="5.2" cx="1039.5" cy="293.8"/><circle r="5.2" cx="1048.7" cy="261.2"/><circle r="5.2" cx="1070.1" cy="280.5"/><circle r="5.2" cx="1027.3" cy="305.1"/><circle r="5.2" cx="1045.5" cy="303.2"/><circle r="5.2" cx="1079.1" cy="302.8"/><circle r="5.2" cx="1030" cy="296.1"/><circle r="5.2" cx="1060.4" cy="306.7"/><circle r="5.2" cx="1053" cy="310"/><circle r="5.2" cx="1052.3" cy="280.5"/><circle r="5.2" cx="1093.8" cy="297.9"/><circle r="5.2" cx="1081.7" cy="279"/><circle r="5.2" cx="1099" cy="262.5"/><circle r="5.2" cx="1062.9" cy="253.7"/><circle r="5.2" cx="1055.3" cy="263.8"/><circle r="5.2" cx="1042.5" cy="272.4"/><circle r="5.2" cx="1035.7" cy="280.5"/><circle r="5.2" cx="1076.1" cy="239.2"/><circle r="5.2" cx="1039.8" cy="288.5"/><circle r="5.2" cx="1052.3" cy="274.4"/><circle r="5.2" cx="1043.5" cy="248"/><circle r="5.2" cx="1040.7" cy="281.7"/><circle r="5.2" cx="1069.7" cy="276.9"/><circle r="5.2" cx="1115.3" cy="286.5"/><circle r="5.2" cx="1096.4" cy="251"/><circle r="5.2" cx="1103" cy="289.3"/><circle r="5.2" cx="1067.4" cy="248.7"/><circle r="5.2" cx="1083" cy="231.4"/><circle r="5.2" cx="1052.5" cy="290.9"/><circle r="5.2" cx="1079.4" cy="259.4"/><circle r="5.2" cx="1034.7" cy="311.9"/><circle r="5.2" cx="1052.8" cy="269.6"/><circle r="5.2" cx="1063.5" cy="291.5"/><circle r="5.2" cx="1054.1" cy="280.7"/><circle r="5.2" cx="1106.9" cy="286.6"/><circle r="5.2" cx="1080" cy="244.1"/><circle r="5.2" cx="1059.6" cy="292.3"/><circle r="5.2" cx="1045.5" cy="312.5"/><circle r="5.2" cx="1031.9" cy="300.4"/><circle r="5.2" cx="1030.1" cy="248.6"/><circle r="5.2" cx="1075.9" cy="272"/><circle r="5.2" cx="1082.9" cy="266.1"/><circle r="5.2" cx="1029.1" cy="305.8"/><circle r="5.2" cx="1046.7" cy="301.6"/><circle r="5.2" cx="1039.5" cy="248.9"/><circle r="5.2" cx="1068.2" cy="253.9"/><circle r="5.2" cx="1056" cy="285"/><circle r="5.2" cx="1032.6" cy="283.6"/><circle r="5.2" cx="1103.3" cy="265.8"/><circle r="5.2" cx="1106.4" cy="293.7"/><circle r="5.2" cx="1098.5" cy="275.1"/><circle r="5.2" cx="1098.5" cy="266"/><circle r="5.2" cx="1104.6" cy="252.3"/><circle r="5.2" cx="1091.9" cy="303.3"/><circle r="5.2" cx="1060.8" cy="275.8"/><circle r="5.2" cx="1106.7" cy="270.3"/><circle r="5.2" cx="1050.1" cy="258.4"/><circle r="5.2" cx="1033.9" cy="257.4"/><circle r="5.2" cx="1048.1" cy="250.3"/><circle r="5.2" cx="1069.5" cy="291.7"/><circle r="5.2" cx="1058.7" cy="259.8"/><circle r="5.2" cx="1111.3" cy="271.4"/><circle r="5.2" cx="1078" cy="263.8"/><circle r="5.2" cx="1074.4" cy="259.4"/><circle r="5.2" cx="1115.1" cy="277.5"/><circle r="5.2" cx="1040.7" cy="276.5"/><circle r="5.2" cx="1106.2" cy="256.4"/><circle r="5.2" cx="1060" cy="297.2"/><circle r="5.2" cx="1093.1" cy="302.7"/><circle r="5.2" cx="1050.6" cy="306.3"/><circle r="5.2" cx="1040.7" cy="312.2"/><circle r="5.2" cx="1089.4" cy="295"/><circle r="5.2" cx="1050" cy="251"/><circle r="5.2" cx="1110.9" cy="268"/><circle r="5.2" cx="1072.7" cy="286.3"/><circle r="5.2" cx="1038.8" cy="259.5"/><circle r="5.2" cx="1059.5" cy="265.5"/><circle r="5.2" cx="1043.9" cy="281.7"/><circle r="5.2" cx="1062.9" cy="302.5"/><circle r="5.2" cx="1070.8" cy="249.2"/><circle r="5.2" cx="1036.8" cy="273.9"/><circle r="5.2" cx="1108.7" cy="263.4"/><circle r="5.2" cx="1060.6" cy="283.4"/><circle r="5.2" cx="1045.2" cy="245.5"/><circle r="5.2" cx="1106.8" cy="281"/><circle r="5.2" cx="1044.7" cy="262.3"/><circle r="5.2" cx="1058" cy="258.4"/><circle r="5.2" cx="1060.4" cy="291.8"/><circle r="5.2" cx="1042.9" cy="291.4"/><circle r="5.2" cx="1079.9" cy="277.6"/><circle r="5.2" cx="1033.1" cy="262"/><circle r="5.2" cx="1041.9" cy="268.2"/><circle r="5.2" cx="1081.3" cy="304.2"/><circle r="5.2" cx="1070.4" cy="263.3"/><circle r="5.2" cx="1040.9" cy="262.3"/><circle r="5.2" cx="1117.7" cy="279.4"/><circle r="5.2" cx="1087.2" cy="303.8"/><circle r="5.2" cx="1035.4" cy="252.2"/><circle r="5.2" cx="1045" cy="255.9"/><circle r="5.2" cx="1069.6" cy="305.5"/><circle r="5.2" cx="1035.6" cy="266.5"/><circle r="5.2" cx="1088.5" cy="286.6"/><circle r="5.2" cx="1073.2" cy="252.2"/><circle r="5.2" cx="1083.5" cy="299.4"/><circle r="5.2" cx="1065.7" cy="246.8"/><circle r="5.2" cx="1081.8" cy="293.1"/><circle r="5.2" cx="1069" cy="305.4"/><circle r="5.2" cx="1080.3" cy="285.2"/><circle r="5.2" cx="1078.6" cy="233.6"/><circle r="5.2" cx="1052.8" cy="271.1"/><circle r="5.2" cx="1032.5" cy="304"/><circle r="5.2" cx="1034.8" cy="298.6"/><circle r="5.2" cx="1075" cy="280.2"/><circle r="5.2" cx="1050.4" cy="278.7"/><circle r="5.2" cx="1095.4" cy="305.2"/><circle r="5.2" cx="1070.3" cy="259.3"/><circle r="5.2" cx="1097" cy="255.1"/><circle r="5.2" cx="1090.1" cy="289.7"/><circle r="5.2" cx="1099.4" cy="254.4"/><circle r="5.2" cx="1058.4" cy="242.5"/><circle r="5.2" cx="1102.8" cy="276.4"/><circle r="5.2" cx="1108.8" cy="269.6"/><circle r="5.2" cx="1073.1" cy="302.2"/><circle r="5.2" cx="1046.3" cy="289.1"/><circle r="5.2" cx="1050.7" cy="268.7"/><circle r="5.2" cx="1110.1" cy="276.5"/><circle r="5.2" cx="1031.7" cy="269.2"/><circle r="5.2" cx="1083.4" cy="249.3"/><circle r="5.2" cx="1053.7" cy="300.9"/><circle r="5.2" cx="1055.5" cy="286"/><circle r="5.2" cx="1095.1" cy="253.3"/><circle r="5.2" cx="1083.1" cy="299.2"/><circle r="5.2" cx="1069.9" cy="260.6"/><circle r="5.2" cx="1031.3" cy="300.2"/><circle r="5.2" cx="1061.9" cy="276.6"/><circle r="5.2" cx="1110.1" cy="277.4"/><circle r="5.2" cx="1046.8" cy="301.6"/><circle r="5.2" cx="1053.3" cy="250.7"/><circle r="5.2" cx="1074.6" cy="261.7"/><circle r="5.2" cx="1052.3" cy="256.9"/><circle r="5.2" cx="1033.1" cy="311"/><circle r="5.2" cx="1073.8" cy="244.3"/><circle r="5.2" cx="1083.8" cy="272.8"/><circle r="5.2" cx="1047.5" cy="267.7"/><circle r="5.2" cx="1072" cy="253.5"/><circle r="5.2" cx="1084.4" cy="246.6"/><circle r="5.2" cx="1058.1" cy="305.1"/><circle r="5.2" cx="1037.7" cy="265.4"/><circle r="5.2" cx="1057.7" cy="252.8"/><circle r="5.2" cx="1102.2" cy="283.4"/><circle r="5.2" cx="1046" cy="256.8"/><circle r="5.2" cx="1068" cy="266.9"/><circle r="5.2" cx="1071.2" cy="308.8"/><circle r="5.2" cx="1043.1" cy="277.5"/><circle r="5.2" cx="1111.1" cy="262.8"/><circle r="5.2" cx="1053.5" cy="261.7"/><circle r="5.2" cx="1042.9" cy="304.5"/><circle r="5.2" cx="1029.8" cy="303.8"/><circle r="5.2" cx="1061.8" cy="268.2"/><circle r="5.2" cx="1064.4" cy="298.3"/><circle r="5.2" cx="1042.8" cy="261.1"/><circle r="5.2" cx="1087.1" cy="277.7"/><circle r="5.2" cx="1058.3" cy="258.9"/><circle r="5.2" cx="1043.6" cy="300.3"/><circle r="5.2" cx="1065.3" cy="284.2"/><circle r="5.2" cx="1089.4" cy="255.3"/><circle r="5.2" cx="1109.3" cy="292.2"/><circle r="5.2" cx="1058.8" cy="252.1"/><circle r="5.2" cx="1032.2" cy="261"/><circle r="5.2" cx="1062.5" cy="310.1"/><circle r="5.2" cx="1047.6" cy="292.6"/><circle r="5.2" cx="1071.1" cy="296.3"/><circle r="5.2" cx="1059.9" cy="246.2"/><circle r="5.2" cx="1075.6" cy="275.2"/><circle r="5.2" cx="1036.7" cy="286.3"/><circle r="5.2" cx="1034.1" cy="305.2"/><circle r="5.2" cx="1089.3" cy="284.4"/><circle r="5.2" cx="1040.3" cy="284.7"/><circle r="5.2" cx="1074" cy="268.9"/><circle r="5.2" cx="1049.3" cy="288.7"/><circle r="5.2" cx="1089.6" cy="258.4"/><circle r="5.2" cx="1069.8" cy="298.4"/><circle r="5.2" cx="1048.6" cy="243.8"/><circle r="5.2" cx="1078.1" cy="273.3"/><circle r="5.2" cx="1084.6" cy="235.8"/><circle r="5.2" cx="1086.8" cy="300.1"/><circle r="5.2" cx="1068.7" cy="251.4"/><circle r="5.2" cx="1034.5" cy="266.8"/><circle r="5.2" cx="1075.9" cy="254.5"/><circle r="5.2" cx="1056.8" cy="311.1"/><circle r="5.2" cx="1090.6" cy="292.5"/><circle r="5.2" cx="1092.1" cy="292"/><circle r="5.2" cx="1111.6" cy="282"/><circle r="5.2" cx="1036" cy="254"/><circle r="5.2" cx="1059.5" cy="281.7"/><circle r="5.2" cx="1110.4" cy="256.8"/><circle r="5.2" cx="1083.5" cy="303.5"/><circle r="5.2" cx="1103.1" cy="262.8"/><circle r="5.2" cx="1114.8" cy="270.3"/><circle r="5.2" cx="1036.2" cy="307.8"/><circle r="5.2" cx="1037.1" cy="292"/><circle r="5.2" cx="1072.4" cy="301.8"/><circle r="5.2" cx="1071.8" cy="338.5"/><circle r="5.2" cx="1095.3" cy="320.6"/><circle r="5.2" cx="1053.3" cy="318.9"/><circle r="5.2" cx="1093" cy="304.5"/><circle r="5.2" cx="1076.1" cy="321.6"/><circle r="5.2" cx="1087.1" cy="320.3"/><circle r="5.2" cx="1062" cy="311.2"/><circle r="5.2" cx="1061.3" cy="326.5"/><circle r="5.2" cx="1084.5" cy="307.9"/><circle r="5.2" cx="1056.3" cy="332.9"/><circle r="5.2" cx="1072" cy="311.5"/><circle r="5.2" cx="1064.8" cy="333.4"/><circle r="5.2" cx="1068.3" cy="303.4"/><circle r="5.2" cx="1093" cy="311.7"/><circle r="5.2" cx="1080.1" cy="317.9"/><circle r="5.2" cx="1072.8" cy="333.6"/><circle r="5.2" cx="1084.7" cy="316.8"/><circle r="5.2" cx="1082.1" cy="334.3"/><circle r="5.2" cx="1054.4" cy="311.6"/><circle r="5.2" cx="1059.8" cy="303.2"/><circle r="5.2" cx="1088.2" cy="330.4"/><circle r="5.2" cx="1074.5" cy="328.2"/><circle r="5.2" cx="1049.1" cy="306.9"/><circle r="5.2" cx="1090.2" cy="320"/><circle r="5.2" cx="1068.6" cy="310.2"/><circle r="5.2" cx="1062.7" cy="338.3"/></g><g fill="#FF9896" stroke="#FF9896"><circle r="5.2" cx="1126" cy="288"/><circle r="5.2" cx="1107.6" cy="293"/><circle r="5.2" cx="1118" cy="278"/></g><g fill="#9467BD" stroke="#9467BD" class="f"><circle r="5.2" cx="903" cy="364.4"/><circle r="5.2" cx="891.8" cy="332.8"/><circle r="5.2" cx="909.6" cy="350"/><circle r="5.2" cx="889.3" cy="386"/><circle r="5.2" cx="906.4" cy="376.7"/><circle r="5.2" cx="890.1" cy="353.7"/><circle r="5.2" cx="898.9" cy="343.4"/><circle r="5.2" cx="897.1" cy="373.8"/><circle r="5.2" cx="907.2" cy="356"/><circle r="5.2" cx="894" cy="357.9"/><circle r="5.2" cx="891.6" cy="346.9"/><circle r="5.2" cx="908.9" cy="370.8"/><circle r="5.2" cx="894.5" cy="367.1"/><circle r="5.2" cx="892.4" cy="380.7"/><circle r="5.2" cx="900" cy="332.7"/><circle r="5.2" cx="899.7" cy="383.1"/><circle r="5.2" cx="897.2" cy="386.8"/><circle r="5.2" cx="890.6" cy="327.1"/><circle r="5.2" cx="905.6" cy="346.5"/><circle r="5.2" cx="906" cy="374.1"/><circle r="5.2" cx="897.8" cy="328.1"/><circle r="5.2" cx="902" cy="355.9"/><circle r="5.2" cx="904.7" cy="383.3"/><circle r="5.2" cx="903.4" cy="354.4"/><circle r="5.2" cx="893.3" cy="362.9"/><circle r="5.2" cx="890.2" cy="372.5"/><circle r="5.2" cx="903.9" cy="347"/><circle r="5.2" cx="898.1" cy="348.8"/><circle r="5.2" cx="894.9" cy="328.8"/><circle r="5.2" cx="907.8" cy="365.8"/><circle r="5.2" cx="904.2" cy="371.1"/><circle r="5.2" cx="896.8" cy="334"/><circle r="5.2" cx="901.4" cy="376.3"/><circle r="5.2" cx="894.4" cy="384.5"/><circle r="5.2" cx="896" cy="351.3"/><circle r="5.2" cx="898.5" cy="332.5"/><circle r="5.2" cx="897" cy="361.8"/><circle r="5.2" cx="897.5" cy="339.5"/><circle r="5.2" cx="903.3" cy="338.6"/><circle r="5.2" cx="893.3" cy="382.1"/></g><g fill="#C5B0D5" stroke="#C5B0D5" class="f"><circle r="5.2" cx="1145.9" cy="210.2"/><circle r="5.2" cx="1150.8" cy="236.4"/><circle r="5.2" cx="1150.3" cy="238.2"/><circle r="5.2" cx="1150.6" cy="239.8"/><circle r="5.2" cx="1151.1" cy="241.3"/><circle r="5.2" cx="1056.4" cy="223.9"/><circle r="5.2" cx="1057.3" cy="235.1"/><circle r="5.2" cx="1059.5" cy="214.8"/><circle r="5.2" cx="1062.6" cy="232"/><circle r="5.2" cx="1062.3" cy="219.3"/><circle r="5.2" cx="1061.2" cy="235.1"/><circle r="5.2" cx="1067.2" cy="214.5"/><circle r="5.2" cx="1066.3" cy="211.8"/><circle r="5.2" cx="1060.7" cy="227.2"/><circle r="5.2" cx="1068.2" cy="233.6"/><circle r="5.2" cx="1056.5" cy="221"/></g><g fill="#C49C94" stroke="#C49C94" class="f"><circle r="5.2" cx="809.7" cy="227.9"/><circle r="5.2" cx="812.5" cy="264"/><circle r="5.2" cx="816.8" cy="242.7"/><circle r="5.2" cx="791.1" cy="248.5"/><circle r="5.2" cx="805.4" cy="243.7"/><circle r="5.2" cx="789.8" cy="230.1"/><circle r="5.2" cx="798.4" cy="227.1"/><circle r="5.2" cx="800" cy="263.2"/><circle r="5.2" cx="817.8" cy="256.6"/><circle r="5.2" cx="793.1" cy="238.4"/><circle r="5.2" cx="800.4" cy="227.8"/><circle r="5.2" cx="806.4" cy="265.9"/><circle r="5.2" cx="812.3" cy="255.9"/><circle r="5.2" cx="798.7" cy="251.6"/><circle r="5.2" cx="802.4" cy="239.8"/><circle r="5.2" cx="797.4" cy="238.9"/><circle r="5.2" cx="811.2" cy="223.9"/><circle r="5.2" cx="787.2" cy="245.5"/><circle r="5.2" cx="789.1" cy="242.1"/><circle r="5.2" cx="805.6" cy="252.9"/><circle r="5.2" cx="796.1" cy="229"/><circle r="5.2" cx="801" cy="233.8"/><circle r="5.2" cx="813.4" cy="233.2"/><circle r="5.2" cx="815.8" cy="264.2"/><circle r="5.2" cx="813.5" cy="239.9"/><circle r="5.2" cx="799.7" cy="248.1"/><circle r="5.2" cx="806.4" cy="219.3"/><circle r="5.2" cx="816.8" cy="247.9"/><circle r="5.2" cx="796.1" cy="259.2"/><circle r="5.2" cx="808.9" cy="259.1"/><circle r="5.2" cx="796" cy="231.6"/><circle r="5.2" cx="796.8" cy="241"/><circle r="5.2" cx="799.7" cy="249.2"/><circle r="5.2" cx="804.8" cy="241.9"/><circle r="5.2" cx="806" cy="255.8"/><circle r="5.2" cx="809.1" cy="259.3"/><circle r="5.2" cx="817.2" cy="235.3"/><circle r="5.2" cx="803.6" cy="227.6"/><circle r="5.2" cx="819.2" cy="257.6"/></g><g fill="#C49C94" stroke="#C49C94"><circle r="5.2" cx="958" cy="491"/></g><g fill="#F7B6D2" stroke="#F7B6D2" class="f"><circle r="5.2" cx="1013.6" cy="52.9"/><circle r="5.2" cx="1025.9" cy="52.4"/><circle r="5.2" cx="1019.5" cy="45.6"/><circle r="5.2" cx="1004.9" cy="48.7"/><circle r="5.2" cx="1010.2" cy="49.8"/><circle r="5.2" cx="1020.9" cy="54.8"/><circle r="5.2" cx="1009.5" cy="55"/><circle r="5.2" cx="1014" cy="41.9"/><circle r="5.2" cx="1007.4" cy="48.9"/><circle r="5.2" cx="1007.6" cy="45.6"/><circle r="5.2" cx="1009.4" cy="56"/><circle r="5.2" cx="1020.4" cy="51.2"/><circle r="5.2" cx="1020.9" cy="46.2"/><circle r="5.2" cx="1004.1" cy="54.2"/></g><g fill="#DBDB8D" stroke="#DBDB8D" class="f"><circle r="5.2" cx="1191.8" cy="334.6"/><circle r="5.2" cx="1203.2" cy="320.8"/><circle r="5.2" cx="1202.1" cy="340.4"/><circle r="5.2" cx="1202.1" cy="344.8"/><circle r="5.2" cx="1194.3" cy="324"/><circle r="5.2" cx="1186.8" cy="339.2"/><circle r="5.2" cx="1203.6" cy="328.3"/><circle r="5.2" cx="1183.6" cy="333"/><circle r="5.2" cx="1199.7" cy="326.3"/><circle r="5.2" cx="1208.5" cy="335.7"/><circle r="5.2" cx="1201" cy="335.3"/><circle r="5.2" cx="1191.6" cy="341.5"/></g><g fill="#17BECF" stroke="#17BECF"><circle r="5.2" cx="863.3" cy="50.5"/><circle r="5.2" cx="864.2" cy="46.5"/></g><g fill="#1F77B4" stroke="#1F77B4" class="f"><circle r="5.2" cx="1026.7" cy="475.7"/><circle r="5.2" cx="1037.4" cy="460"/><circle r="5.2" cx="1019.4" cy="464.3"/><circle r="5.2" cx="1020.1" cy="472.9"/><circle r="5.2" cx="1029.5" cy="461.6"/><circle r="5.2" cx="1032.8" cy="469.9"/><circle r="5.2" cx="1028.7" cy="469.5"/><circle r="5.2" cx="1037.5" cy="471.6"/><circle r="5.2" cx="1035.5" cy="466.4"/><circle r="5.2" cx="1022.6" cy="467.4"/><circle r="5.2" cx="1028.6" cy="463.7"/><circle r="5.2" cx="1018.8" cy="464.2"/><circle r="5.2" cx="1032.2" cy="472.3"/><circle r="5.2" cx="1021.3" cy="477.3"/><circle r="5.2" cx="1024.4" cy="470.8"/><circle r="5.2" cx="1022.4" cy="476.7"/><circle r="5.2" cx="1078.9" cy="488.1"/><circle r="5.2" cx="1067.5" cy="502.9"/><circle r="5.2" cx="1062.1" cy="487.6"/><circle r="5.2" cx="1068.1" cy="477.3"/><circle r="5.2" cx="1069" cy="493.1"/><circle r="5.2" cx="1078.7" cy="502.4"/><circle r="5.2" cx="1063.6" cy="506.1"/><circle r="5.2" cx="1074.4" cy="504.9"/><circle r="5.2" cx="1075.5" cy="482.6"/><circle r="5.2" cx="1068" cy="485.3"/><circle r="5.2" cx="1074.6" cy="498.4"/><circle r="5.2" cx="1062.9" cy="496.7"/><circle r="5.2" cx="1065.3" cy="498"/><circle r="5.2" cx="1078.1" cy="478.2"/><circle r="5.2" cx="1080.6" cy="497.4"/><circle r="5.2" cx="1070.6" cy="476.8"/><circle r="5.2" cx="1082" cy="491.5"/><circle r="5.2" cx="1071.7" cy="498.9"/><circle r="5.2" cx="1002.8" cy="516.9"/><circle r="5.2" cx="984.8" cy="514.1"/><circle r="5.2" cx="1008.5" cy="526.4"/><circle r="5.2" cx="997" cy="533.1"/><circle r="5.2" cx="1003.4" cy="507.5"/><circle r="5.2" cx="1001.2" cy="530.4"/></g><g fill="#1F77B4" stroke="#1F77B4"><circle r="5.2" cx="1048" cy="428"/><circle r="5.2" cx="1048.3" cy="428.3"/><circle r="5.2" cx="966" cy="469"/><circle r="5.2" cx="966.3" cy="468.8"/></g><g fill="#AEC7E8" stroke="#AEC7E8"><circle r="5.2" cx="1071.7" cy="173"/><circle r="5.2" cx="1077" cy="176"/></g><g fill="#AEC7E8" stroke="#AEC7E8" class="f"><circle r="5.2" cx="999.4" cy="250.1"/><circle r="5.2" cx="984" cy="312.8"/><circle r="5.2" cx="984" cy="278"/><circle r="5.2" cx="981.7" cy="260.4"/><circle r="5.2" cx="1011.6" cy="317.4"/><circle r="5.2" cx="1012.7" cy="277.9"/><circle r="5.2" cx="967.1" cy="315.1"/><circle r="5.2" cx="1025" cy="255.1"/><circle r="5.2" cx="997.7" cy="265.4"/><circle r="5.2" cx="956.6" cy="297.5"/><circle r="5.2" cx="973.6" cy="300.2"/><circle r="5.2" cx="1019.4" cy="287.9"/><circle r="5.2" cx="1000.3" cy="300.9"/><circle r="5.2" cx="965.8" cy="275.1"/><circle r="5.2" cx="1023" cy="240.4"/><circle r="5.2" cx="1022.7" cy="304.4"/><circle r="5.2" cx="1024.4" cy="266.9"/><circle r="5.2" cx="992.3" cy="298.6"/><circle r="5.2" cx="977.3" cy="290.3"/><circle r="5.2" cx="985.5" cy="242.6"/><circle r="5.2" cx="951.6" cy="302.9"/><circle r="5.2" cx="987.7" cy="264.8"/><circle r="5.2" cx="958.5" cy="304.6"/><circle r="5.2" cx="1015.4" cy="273.5"/><circle r="5.2" cx="980.2" cy="328.5"/><circle r="5.2" cx="996.4" cy="324.6"/><circle r="5.2" cx="1012.5" cy="305.7"/><circle r="5.2" cx="952.6" cy="282.1"/><circle r="5.2" cx="967.6" cy="324.5"/><circle r="5.2" cx="1009.2" cy="257.2"/><circle r="5.2" cx="1014.8" cy="252.9"/><circle r="5.2" cx="1025.1" cy="279.5"/><circle r="5.2" cx="998" cy="243.7"/><circle r="5.2" cx="1014.4" cy="288.7"/><circle r="5.2" cx="1000" cy="283.9"/><circle r="5.2" cx="999.1" cy="311.5"/><circle r="5.2" cx="980.7" cy="301.9"/><circle r="5.2" cx="972.2" cy="269.6"/><circle r="5.2" cx="975.7" cy="280.9"/><circle r="5.2" cx="1004.8" cy="268.3"/><circle r="5.2" cx="978" cy="308.5"/><circle r="5.2" cx="959.9" cy="284.9"/><circle r="5.2" cx="981.9" cy="322.5"/><circle r="5.2" cx="966.4" cy="282.4"/><circle r="5.2" cx="973.9" cy="251.9"/><circle r="5.2" cx="976.4" cy="302.8"/><circle r="5.2" cx="1020.9" cy="315.7"/><circle r="5.2" cx="978.5" cy="266.5"/><circle r="5.2" cx="986.8" cy="257.1"/><circle r="5.2" cx="989.4" cy="271.4"/><circle r="5.2" cx="955.6" cy="311"/><circle r="5.2" cx="1024.3" cy="311.2"/><circle r="5.2" cx="969" cy="311.3"/><circle r="5.2" cx="968.1" cy="294.1"/><circle r="5.2" cx="961.1" cy="319.4"/><circle r="5.2" cx="1002.4" cy="308.7"/><circle r="5.2" cx="992.8" cy="275"/><circle r="5.2" cx="984.2" cy="287.4"/><circle r="5.2" cx="1015.3" cy="240.8"/><circle r="5.2" cx="997.2" cy="307.3"/><circle r="5.2" cx="993.4" cy="302.5"/><circle r="5.2" cx="999.6" cy="258.8"/><circle r="5.2" cx="1008.6" cy="242.3"/><circle r="5.2" cx="1028.5" cy="260.6"/><circle r="5.2" cx="990.4" cy="251.2"/><circle r="5.2" cx="1024.2" cy="259.7"/><circle r="5.2" cx="1019.5" cy="247.7"/><circle r="5.2" cx="957.8" cy="275.6"/><circle r="5.2" cx="960" cy="310.1"/><circle r="5.2" cx="961.2" cy="298.7"/><circle r="5.2" cx="1011.4" cy="299.1"/><circle r="5.2" cx="988.9" cy="307.3"/><circle r="5.2" cx="1004.5" cy="272"/><circle r="5.2" cx="966.8" cy="289.3"/><circle r="5.2" cx="996.9" cy="318.1"/><circle r="5.2" cx="992.3" cy="290.1"/><circle r="5.2" cx="979.7" cy="248.8"/><circle r="5.2" cx="974.1" cy="307.5"/><circle r="5.2" cx="1014.8" cy="295"/><circle r="5.2" cx="970.6" cy="314.8"/><circle r="5.2" cx="1013.7" cy="276.5"/><circle r="5.2" cx="1001.3" cy="317.1"/><circle r="5.2" cx="1017.5" cy="280.7"/><circle r="5.2" cx="963.8" cy="272.2"/><circle r="5.2" cx="987.5" cy="322.9"/><circle r="5.2" cx="1008.3" cy="309.8"/><circle r="5.2" cx="1028.3" cy="283.7"/><circle r="5.2" cx="993.5" cy="259.2"/><circle r="5.2" cx="995.2" cy="291.2"/><circle r="5.2" cx="965.5" cy="304.1"/><circle r="5.2" cx="1024.7" cy="301.5"/><circle r="5.2" cx="993.1" cy="240.8"/><circle r="5.2" cx="950.8" cy="297.7"/><circle r="5.2" cx="963.6" cy="279"/><circle r="5.2" cx="1015.4" cy="244.6"/><circle r="5.2" cx="1017.7" cy="253.4"/><circle r="5.2" cx="957.8" cy="289.7"/><circle r="5.2" cx="1005.3" cy="254.5"/><circle r="5.2" cx="994.5" cy="296.2"/><circle r="5.2" cx="966.2" cy="278"/><circle r="5.2" cx="953.1" cy="275.3"/><circle r="5.2" cx="945.7" cy="278.3"/><circle r="5.2" cx="1000.4" cy="291.3"/><circle r="5.2" cx="949.2" cy="308.6"/><circle r="5.2" cx="975.6" cy="285"/><circle r="5.2" cx="1012.7" cy="300.5"/><circle r="5.2" cx="1024.1" cy="246.2"/><circle r="5.2" cx="967.2" cy="329.7"/><circle r="5.2" cx="990.4" cy="284.2"/><circle r="5.2" cx="1013.2" cy="257.7"/><circle r="5.2" cx="977.9" cy="293.8"/><circle r="5.2" cx="1022.8" cy="312.2"/><circle r="5.2" cx="1005.9" cy="319.4"/><circle r="5.2" cx="1020.9" cy="268.1"/><circle r="5.2" cx="970.6" cy="261.1"/><circle r="5.2" cx="986.2" cy="302.4"/><circle r="5.2" cx="1018.9" cy="323.3"/><circle r="5.2" cx="1016.8" cy="312.8"/><circle r="5.2" cx="975.3" cy="262.5"/><circle r="5.2" cx="1014.9" cy="289.7"/><circle r="5.2" cx="1002.6" cy="295.4"/><circle r="5.2" cx="964.1" cy="319.4"/><circle r="5.2" cx="1011.2" cy="282.9"/><circle r="5.2" cx="1005.5" cy="247.7"/><circle r="5.2" cx="1006.6" cy="302.1"/><circle r="5.2" cx="989.7" cy="274.6"/><circle r="5.2" cx="978.1" cy="255.9"/><circle r="5.2" cx="981.6" cy="295.7"/><circle r="5.2" cx="1001.9" cy="255.1"/><circle r="5.2" cx="966.1" cy="269.5"/><circle r="5.2" cx="978" cy="315"/><circle r="5.2" cx="976.1" cy="312.1"/><circle r="5.2" cx="988.6" cy="319.4"/><circle r="5.2" cx="975.6" cy="307.9"/><circle r="5.2" cx="1022.7" cy="256.7"/><circle r="5.2" cx="1008.4" cy="276.4"/><circle r="5.2" cx="1027.1" cy="270"/><circle r="5.2" cx="952.6" cy="316.3"/><circle r="5.2" cx="1006.4" cy="289.7"/><circle r="5.2" cx="954.7" cy="292.5"/><circle r="5.2" cx="1025.7" cy="248.8"/><circle r="5.2" cx="974.1" cy="329.5"/><circle r="5.2" cx="965.3" cy="309.8"/><circle r="5.2" cx="1009.4" cy="293.8"/><circle r="5.2" cx="961.5" cy="286"/><circle r="5.2" cx="956.8" cy="300"/><circle r="5.2" cx="1018.9" cy="302.4"/><circle r="5.2" cx="995.7" cy="262.3"/><circle r="5.2" cx="993.2" cy="313.6"/><circle r="5.2" cx="1010.8" cy="261.9"/><circle r="5.2" cx="975" cy="274"/><circle r="5.2" cx="1002.3" cy="244.2"/><circle r="5.2" cx="1010.6" cy="250.4"/><circle r="5.2" cx="1005.3" cy="316"/><circle r="5.2" cx="980.7" cy="285.2"/><circle r="5.2" cx="967.8" cy="279.9"/><circle r="5.2" cx="1022.1" cy="276.7"/><circle r="5.2" cx="971.1" cy="286.5"/><circle r="5.2" cx="986.6" cy="244.7"/><circle r="5.2" cx="962.3" cy="313.8"/><circle r="5.2" cx="1010.2" cy="265.1"/><circle r="5.2" cx="1016" cy="285"/><circle r="5.2" cx="1011" cy="287.9"/><circle r="5.2" cx="966.9" cy="271.6"/><circle r="5.2" cx="1011" cy="271.2"/><circle r="5.2" cx="1021.4" cy="252.2"/><circle r="5.2" cx="1021.5" cy="286.5"/><circle r="5.2" cx="1022.6" cy="240.2"/><circle r="5.2" cx="1013.3" cy="297.8"/><circle r="5.2" cx="998.9" cy="265.5"/><circle r="5.2" cx="967.2" cy="299.2"/><circle r="5.2" cx="969.1" cy="264.4"/><circle r="5.2" cx="1013.7" cy="309.9"/><circle r="5.2" cx="986.7" cy="294.1"/><circle r="5.2" cx="972.1" cy="298.2"/><circle r="5.2" cx="1006.8" cy="283.2"/><circle r="5.2" cx="983.6" cy="248.7"/><circle r="5.2" cx="958.9" cy="287.8"/><circle r="5.2" cx="1015.5" cy="263.8"/><circle r="5.2" cx="1002" cy="316.6"/><circle r="5.2" cx="1023.4" cy="251.2"/><circle r="5.2" cx="991.9" cy="274"/><circle r="5.2" cx="1005.8" cy="263.4"/><circle r="5.2" cx="1019.8" cy="297.2"/><circle r="5.2" cx="984.2" cy="302.9"/><circle r="5.2" cx="1024.1" cy="290.6"/><circle r="5.2" cx="994.2" cy="275.7"/><circle r="5.2" cx="979.7" cy="304.1"/><circle r="5.2" cx="1001.5" cy="312.2"/><circle r="5.2" cx="975.8" cy="266.1"/><circle r="5.2" cx="997.9" cy="252.8"/><circle r="5.2" cx="1027.9" cy="282.5"/><circle r="5.2" cx="962.8" cy="291.3"/><circle r="5.2" cx="989.3" cy="271.5"/><circle r="5.2" cx="960.6" cy="282.2"/><circle r="5.2" cx="996.7" cy="268.5"/><circle r="5.2" cx="1002.9" cy="301.4"/><circle r="5.2" cx="990.2" cy="320.3"/><circle r="5.2" cx="994.5" cy="317.3"/><circle r="5.2" cx="986" cy="309.3"/><circle r="5.2" cx="990" cy="276"/><circle r="5.2" cx="994.1" cy="246.9"/><circle r="5.2" cx="992.4" cy="310.1"/><circle r="5.2" cx="991" cy="280.1"/><circle r="5.2" cx="998.7" cy="299.4"/><circle r="5.2" cx="1006" cy="259"/><circle r="5.2" cx="971.2" cy="255.8"/><circle r="5.2" cx="980.2" cy="257.5"/><circle r="5.2" cx="977.3" cy="325"/><circle r="5.2" cx="996.2" cy="283.8"/><circle r="5.2" cx="984" cy="289.5"/><circle r="5.2" cx="995.6" cy="253.3"/><circle r="5.2" cx="1005" cy="289.2"/><circle r="5.2" cx="962.9" cy="281"/><circle r="5.2" cx="1021.3" cy="296.3"/><circle r="5.2" cx="984.4" cy="267.2"/><circle r="5.2" cx="974.5" cy="292.7"/><circle r="5.2" cx="956.8" cy="317.4"/><circle r="5.2" cx="1031.6" cy="274.4"/><circle r="5.2" cx="1015.5" cy="315.2"/><circle r="5.2" cx="982.7" cy="304.1"/><circle r="5.2" cx="1017.2" cy="295.1"/><circle r="5.2" cx="984.8" cy="319.5"/><circle r="5.2" cx="1011.7" cy="291.8"/><circle r="5.2" cx="981.3" cy="263.3"/><circle r="5.2" cx="1017.8" cy="305.1"/><circle r="5.2" cx="998.2" cy="279.9"/><circle r="5.2" cx="991.8" cy="287.2"/><circle r="5.2" cx="987.2" cy="282"/><circle r="5.2" cx="975.2" cy="298.5"/><circle r="5.2" cx="1021.5" cy="265.7"/><circle r="5.2" cx="955.4" cy="279.8"/><circle r="5.2" cx="1021" cy="270.3"/><circle r="5.2" cx="999.8" cy="276.9"/><circle r="5.2" cx="1004.4" cy="284.2"/><circle r="5.2" cx="1024.7" cy="257.5"/><circle r="5.2" cx="985" cy="271.2"/><circle r="5.2" cx="976.6" cy="317.8"/><circle r="5.2" cx="961.1" cy="317.8"/><circle r="5.2" cx="1013.5" cy="304.1"/><circle r="5.2" cx="999.1" cy="285.9"/><circle r="5.2" cx="985.9" cy="260.6"/><circle r="5.2" cx="1028.8" cy="284.5"/><circle r="5.2" cx="967.7" cy="321.8"/><circle r="5.2" cx="1013.2" cy="269"/><circle r="5.2" cx="981.5" cy="314.5"/><circle r="5.2" cx="959" cy="309.6"/><circle r="5.2" cx="988.9" cy="288.5"/><circle r="5.2" cx="977.4" cy="251.8"/><circle r="5.2" cx="981.9" cy="271.2"/><circle r="5.2" cx="985.5" cy="251.2"/><circle r="5.2" cx="989.2" cy="246.2"/><circle r="5.2" cx="970.4" cy="287.3"/><circle r="5.2" cx="1029.4" cy="269.8"/><circle r="5.2" cx="984.6" cy="290.5"/><circle r="5.2" cx="982.5" cy="276.2"/><circle r="5.2" cx="1020.8" cy="268.5"/><circle r="5.2" cx="939.6" cy="277.4"/><circle r="5.2" cx="968.6" cy="265.6"/><circle r="5.2" cx="992.7" cy="260.4"/><circle r="5.2" cx="1018" cy="242.9"/><circle r="5.2" cx="999.8" cy="297.1"/><circle r="5.2" cx="1000.7" cy="308.1"/><circle r="5.2" cx="974.6" cy="278.2"/><circle r="5.2" cx="956.1" cy="289"/><circle r="5.2" cx="977" cy="287.2"/><circle r="5.2" cx="1025.7" cy="257.3"/><circle r="5.2" cx="967.6" cy="291"/><circle r="5.2" cx="965.7" cy="291.7"/><circle r="5.2" cx="994.2" cy="244.5"/><circle r="5.2" cx="970.5" cy="274.1"/><circle r="5.2" cx="1022.6" cy="282.7"/><circle r="5.2" cx="976.6" cy="293.5"/><circle r="5.2" cx="1018.8" cy="310.2"/><circle r="5.2" cx="963.8" cy="304.3"/><circle r="5.2" cx="1025.2" cy="273.6"/><circle r="5.2" cx="990.3" cy="252.6"/><circle r="5.2" cx="1003.5" cy="289.1"/><circle r="5.2" cx="1014.5" cy="314.6"/><circle r="5.2" cx="1015.3" cy="306.1"/><circle r="5.2" cx="1014.4" cy="280.6"/><circle r="5.2" cx="1021.4" cy="244.4"/><circle r="5.2" cx="972.4" cy="322.3"/><circle r="5.2" cx="974.3" cy="315.1"/><circle r="5.2" cx="988.8" cy="300"/><circle r="5.2" cx="987.8" cy="297.7"/><circle r="5.2" cx="1009.1" cy="275"/><circle r="5.2" cx="994.4" cy="293.8"/><circle r="5.2" cx="973.5" cy="319.4"/><circle r="5.2" cx="1026" cy="298.1"/><circle r="5.2" cx="951.6" cy="292.7"/><circle r="5.2" cx="969" cy="316.4"/><circle r="5.2" cx="1014.5" cy="276.1"/><circle r="5.2" cx="974.3" cy="257.3"/><circle r="5.2" cx="997.1" cy="274.4"/><circle r="5.2" cx="964.4" cy="263.7"/><circle r="5.2" cx="970.6" cy="263.1"/><circle r="5.2" cx="989.3" cy="325.7"/><circle r="5.2" cx="1012.1" cy="239.5"/><circle r="5.2" cx="998.1" cy="268.7"/><circle r="5.2" cx="973.2" cy="259.4"/><circle r="5.2" cx="1007" cy="251"/><circle r="5.2" cx="987.8" cy="308"/><circle r="5.2" cx="982.3" cy="326"/><circle r="5.2" cx="982.9" cy="326.4"/><circle r="5.2" cx="962.5" cy="316"/><circle r="5.2" cx="978.8" cy="289.6"/><circle r="5.2" cx="1006.9" cy="262"/><circle r="5.2" cx="1020.8" cy="295.1"/><circle r="5.2" cx="1025" cy="246.2"/><circle r="5.2" cx="973.4" cy="277.5"/><circle r="5.2" cx="997.4" cy="279.6"/><circle r="5.2" cx="1002.5" cy="304.6"/><circle r="5.2" cx="1022.1" cy="274.1"/><circle r="5.2" cx="960.6" cy="295.3"/><circle r="5.2" cx="1007" cy="269.7"/><circle r="5.2" cx="1006.1" cy="295.8"/><circle r="5.2" cx="1008.8" cy="312.5"/><circle r="5.2" cx="968.3" cy="307.1"/><circle r="5.2" cx="1020.3" cy="282.9"/><circle r="5.2" cx="982.1" cy="290.9"/><circle r="5.2" cx="1011" cy="285.5"/><circle r="5.2" cx="1018.8" cy="259.5"/><circle r="5.2" cx="994.2" cy="337.2"/><circle r="5.2" cx="1005.9" cy="333"/><circle r="5.2" cx="1014" cy="334.2"/><circle r="5.2" cx="1017.4" cy="338.6"/><circle r="5.2" cx="1001" cy="335.1"/><circle r="5.2" cx="1000.1" cy="340.3"/><circle r="5.2" cx="1012.8" cy="340.7"/><circle r="5.2" cx="1007.8" cy="340.9"/><circle r="5.2" cx="1003.6" cy="337.9"/><circle r="5.2" cx="1036" cy="233.3"/><circle r="5.2" cx="1034.1" cy="215.4"/><circle r="5.2" cx="1031.7" cy="224.6"/><circle r="5.2" cx="1026.9" cy="231.6"/><circle r="5.2" cx="1026.3" cy="226.4"/><circle r="5.2" cx="1040.4" cy="221.8"/><circle r="5.2" cx="1028.9" cy="217.2"/><circle r="5.2" cx="1029.2" cy="232.7"/><circle r="5.2" cx="1037.8" cy="226.8"/><circle r="5.2" cx="1032.9" cy="230.4"/><circle r="5.2" cx="1024.2" cy="221.1"/><circle r="5.2" cx="1031.1" cy="216.9"/><circle r="5.2" cx="1033.9" cy="216.2"/><circle r="5.2" cx="1040.1" cy="220.9"/></g><g fill="#FFBB78" stroke="#FFBB78" class="f"><circle r="5.2" cx="1090" cy="165.4"/><circle r="5.2" cx="1072.7" cy="164.6"/><circle r="5.2" cx="1083.1" cy="147.6"/><circle r="5.2" cx="1085.4" cy="133.1"/><circle r="5.2" cx="1081.2" cy="155.5"/><circle r="5.2" cx="1077.3" cy="175.5"/><circle r="5.2" cx="1083.5" cy="173.2"/><circle r="5.2" cx="1086.7" cy="138.6"/><circle r="5.2" cx="1079.8" cy="162.2"/><circle r="5.2" cx="1097.2" cy="156"/><circle r="5.2" cx="1127.7" cy="185.4"/><circle r="5.2" cx="1122.4" cy="175.7"/><circle r="5.2" cx="1123" cy="197.4"/><circle r="5.2" cx="1108.5" cy="170.2"/><circle r="5.2" cx="1117.7" cy="183.3"/><circle r="5.2" cx="1122.8" cy="180.6"/><circle r="5.2" cx="1120.4" cy="190.9"/><circle r="5.2" cx="1128.7" cy="180.8"/><circle r="5.2" cx="1112" cy="178.3"/><circle r="5.2" cx="1121.6" cy="173.5"/><circle r="5.2" cx="1125.5" cy="189.2"/><circle r="5.2" cx="1127.3" cy="174.3"/><circle r="5.2" cx="1119.9" cy="179.6"/><circle r="5.2" cx="1118.2" cy="178.9"/><circle r="5.2" cx="1143.6" cy="180.4"/><circle r="5.2" cx="1140.1" cy="194.8"/><circle r="5.2" cx="1137.7" cy="200.3"/><circle r="5.2" cx="1152.2" cy="202.5"/><circle r="5.2" cx="1153" cy="177.8"/><circle r="5.2" cx="1154.4" cy="187.8"/></g><g fill="#2CA02C" stroke="#2CA02C" class="f"><circle r="5.2" cx="1179.9" cy="387.5"/><circle r="5.2" cx="1187.1" cy="391.9"/><circle r="5.2" cx="1184.3" cy="380.4"/><circle r="5.2" cx="1186.1" cy="384.3"/><circle r="5.2" cx="1181.9" cy="393.7"/><circle r="5.2" cx="1184.9" cy="399.1"/><circle r="5.2" cx="1184.1" cy="387.2"/><circle r="5.2" cx="1147.4" cy="408.3"/><circle r="5.2" cx="1137" cy="403"/><circle r="5.2" cx="1128.2" cy="404.6"/><circle r="5.2" cx="1146.6" cy="403.9"/><circle r="5.2" cx="1158.9" cy="404.6"/><circle r="5.2" cx="1136" cy="415.9"/><circle r="5.2" cx="1141.1" cy="408.7"/><circle r="5.2" cx="1129.5" cy="414.5"/><circle r="5.2" cx="1134.5" cy="411.1"/><circle r="5.2" cx="1155.3" cy="408.3"/><circle r="5.2" cx="1145.6" cy="414.8"/><circle r="5.2" cx="1152.4" cy="409.4"/><circle r="5.2" cx="1156.1" cy="405.4"/><circle r="5.2" cx="1140.3" cy="409.5"/><circle r="5.2" cx="1130.5" cy="405.3"/><circle r="5.2" cx="1130.3" cy="410.5"/><circle r="5.2" cx="1137.3" cy="416.6"/><circle r="5.2" cx="1153.9" cy="412.7"/><circle r="5.2" cx="1147.1" cy="405.7"/><circle r="5.2" cx="1151.2" cy="404.2"/><circle r="5.2" cx="1127.7" cy="371.4"/><circle r="5.2" cx="1149.8" cy="406.1"/><circle r="5.2" cx="1170.8" cy="373.8"/><circle r="5.2" cx="1147.1" cy="352.9"/><circle r="5.2" cx="1121.5" cy="401.7"/><circle r="5.2" cx="1177.9" cy="351"/><circle r="5.2" cx="1133.6" cy="389.4"/><circle r="5.2" cx="1174.7" cy="398.3"/><circle r="5.2" cx="1153.8" cy="374.3"/><circle r="5.2" cx="1120.4" cy="386.9"/><circle r="5.2" cx="1159.1" cy="381.7"/><circle r="5.2" cx="1150.4" cy="390.9"/><circle r="5.2" cx="1167.5" cy="344.3"/><circle r="5.2" cx="1131.2" cy="411.4"/><circle r="5.2" cx="1158.3" cy="347.8"/><circle r="5.2" cx="1159.3" cy="369.9"/><circle r="5.2" cx="1146.4" cy="364"/><circle r="5.2" cx="1127.8" cy="394.4"/><circle r="5.2" cx="1169.5" cy="357.7"/><circle r="5.2" cx="1172" cy="382.5"/><circle r="5.2" cx="1129.3" cy="402.7"/><circle r="5.2" cx="1144" cy="397.9"/><circle r="5.2" cx="1139.9" cy="369.9"/><circle r="5.2" cx="1143.4" cy="403.6"/><circle r="5.2" cx="1171.6" cy="344.1"/><circle r="5.2" cx="1158.9" cy="405.5"/><circle r="5.2" cx="1146.4" cy="358.7"/><circle r="5.2" cx="1178.4" cy="335.9"/><circle r="5.2" cx="1132.8" cy="380.2"/><circle r="5.2" cx="1140.2" cy="360.5"/><circle r="5.2" cx="1174.9" cy="361.3"/><circle r="5.2" cx="1143.4" cy="394.1"/><circle r="5.2" cx="1152.5" cy="383.2"/><circle r="5.2" cx="1160.1" cy="350.2"/><circle r="5.2" cx="1151.7" cy="356.1"/><circle r="5.2" cx="1146" cy="378.6"/><circle r="5.2" cx="1160.2" cy="359"/><circle r="5.2" cx="1155.3" cy="363.7"/><circle r="5.2" cx="1163.7" cy="340"/><circle r="5.2" cx="1157.9" cy="397.1"/><circle r="5.2" cx="1162.5" cy="391.7"/><circle r="5.2" cx="1169.9" cy="347.8"/><circle r="5.2" cx="1129.8" cy="366.1"/><circle r="5.2" cx="1154.5" cy="411.8"/><circle r="5.2" cx="1136.3" cy="383.3"/><circle r="5.2" cx="1151.3" cy="393"/><circle r="5.2" cx="1146.1" cy="385.4"/><circle r="5.2" cx="1172.2" cy="390.2"/><circle r="5.2" cx="1162.7" cy="350"/></g><g fill="#2CA02C" stroke="#2CA02C"><circle r="5.2" cx="1141" cy="430"/><circle r="5.2" cx="1147.5" cy="434.5"/><circle r="5.2" cx="1141.3" cy="430.4"/><circle r="5.2" cx="1147.2" cy="434.2"/><circle r="5.2" cx="1144" cy="432"/></g><g fill="#98DF8A" stroke="#98DF8A"><circle r="5.2" cx="1178" cy="321"/><circle r="5.2" cx="1182" cy="325"/></g><g fill="#FF9896" stroke="#FF9896" class="f"><circle r="5.2" cx="1081.5" cy="318.3"/><circle r="5.2" cx="1098.3" cy="318.5"/><circle r="5.2" cx="1093.8" cy="322.1"/><circle r="5.2" cx="1089.2" cy="319.6"/><circle r="5.2" cx="1087.3" cy="319.6"/><circle r="5.2" cx="1034.7" cy="278.7"/><circle r="5.2" cx="1031.3" cy="313.1"/><circle r="5.2" cx="1032.7" cy="259.3"/><circle r="5.2" cx="1038.1" cy="290.7"/><circle r="5.2" cx="1038.7" cy="270.4"/><circle r="5.2" cx="1034.9" cy="265.6"/><circle r="5.2" cx="1032.3" cy="249.2"/><circle r="5.2" cx="1033" cy="283.2"/><circle r="5.2" cx="1033.5" cy="296.9"/><circle r="5.2" cx="1033.6" cy="320.2"/><circle r="5.2" cx="1033.4" cy="273.4"/><circle r="5.2" cx="1036.1" cy="254.8"/><circle r="5.2" cx="1036.5" cy="289.3"/><circle r="5.2" cx="1034.1" cy="267.4"/><circle r="5.2" cx="1036.4" cy="300.5"/><circle r="5.2" cx="1055.2" cy="308.9"/><circle r="5.2" cx="1052.7" cy="334.9"/><circle r="5.2" cx="1063.4" cy="318.8"/><circle r="5.2" cx="1050.2" cy="326.3"/><circle r="5.2" cx="1048.7" cy="315.9"/><circle r="5.2" cx="1058.6" cy="329.2"/><circle r="5.2" cx="1057" cy="324.1"/></g><g fill="#FF9896" stroke="#FF9896"><circle r="5.2" cx="1050" cy="357"/><circle r="5.2" cx="1047" cy="359"/><circle r="5.2" cx="1042" cy="354"/></g><g fill="#9467BD" stroke="#9467BD"><circle r="5.2" cx="1061" cy="181"/></g><g fill="#9467BD" stroke="#9467BD" class="f"><circle r="5.2" cx="891.3" cy="369.3"/><circle r="5.2" cx="892.6" cy="331.7"/><circle r="5.2" cx="886.8" cy="349.1"/><circle r="5.2" cx="908.5" cy="364.9"/><circle r="5.2" cx="907.6" cy="376.5"/><circle r="5.2" cx="889.8" cy="314.2"/><circle r="5.2" cx="897.3" cy="344.3"/><circle r="5.2" cx="886.8" cy="339.8"/><circle r="5.2" cx="899.1" cy="364.7"/><circle r="5.2" cx="909.2" cy="358.7"/><circle r="5.2" cx="884.7" cy="353.4"/><circle r="5.2" cx="884.2" cy="376.6"/><circle r="5.2" cx="897.4" cy="347.9"/><circle r="5.2" cx="889.3" cy="361"/><circle r="5.2" cx="892.8" cy="379.5"/><circle r="5.2" cx="895.8" cy="323.3"/><circle r="5.2" cx="906.2" cy="350.1"/><circle r="5.2" cx="900.8" cy="356.4"/><circle r="5.2" cx="899.5" cy="371.8"/><circle r="5.2" cx="902" cy="330"/><circle r="5.2" cx="893.3" cy="334.2"/><circle r="5.2" cx="887" cy="368.8"/><circle r="5.2" cx="903.4" cy="341.1"/><circle r="5.2" cx="892.1" cy="351"/><circle r="5.2" cx="889.7" cy="345.4"/><circle r="5.2" cx="893.5" cy="327.4"/><circle r="5.2" cx="897.2" cy="357.9"/><circle r="5.2" cx="902.7" cy="378.8"/><circle r="5.2" cx="900.3" cy="354.3"/><circle r="5.2" cx="886.7" cy="321.8"/><circle r="5.2" cx="903.2" cy="334.9"/><circle r="5.2" cx="889.9" cy="324.3"/><circle r="5.2" cx="901" cy="350.6"/><circle r="5.2" cx="904.5" cy="357.2"/><circle r="5.2" cx="899.1" cy="392.2"/><circle r="5.2" cx="897.8" cy="391.8"/><circle r="5.2" cx="898.2" cy="393"/><circle r="5.2" cx="892.7" cy="391.4"/><circle r="5.2" cx="896.8" cy="386.9"/></g><g fill="#C5B0D5" stroke="#C5B0D5"><circle r="5.2" cx="1083" cy="178"/><circle r="5.2" cx="1076" cy="146"/></g><g fill="#C5B0D5" stroke="#C5B0D5" class="f"><circle r="5.2" cx="1147.8" cy="226.1"/><circle r="5.2" cx="1144.4" cy="214.9"/><circle r="5.2" cx="1146.2" cy="237.6"/><circle r="5.2" cx="1140" cy="230.3"/><circle r="5.2" cx="1145.7" cy="244.9"/><circle r="5.2" cx="1140.8" cy="217"/><circle r="5.2" cx="1153.2" cy="235.1"/><circle r="5.2" cx="1142.8" cy="221.7"/><circle r="5.2" cx="1150.2" cy="243"/><circle r="5.2" cx="1143.9" cy="235"/><circle r="5.2" cx="1141.7" cy="235.6"/><circle r="5.2" cx="1147.2" cy="221.3"/><circle r="5.2" cx="1153.5" cy="217.3"/><circle r="5.2" cx="1142.1" cy="213.2"/><circle r="5.2" cx="1152.9" cy="230.7"/><circle r="5.2" cx="1143.3" cy="230.1"/><circle r="5.2" cx="1144.9" cy="242.9"/><circle r="5.2" cx="1139.9" cy="240.3"/><circle r="5.2" cx="1149.4" cy="218.8"/><circle r="5.2" cx="1151.6" cy="237.5"/><circle r="5.2" cx="1150.4" cy="224.6"/><circle r="5.2" cx="1144.6" cy="241.1"/><circle r="5.2" cx="1149.6" cy="211.3"/><circle r="5.2" cx="1156.6" cy="220.3"/><circle r="5.2" cx="1141.7" cy="228.4"/><circle r="5.2" cx="1142.7" cy="214.7"/><circle r="5.2" cx="1142.5" cy="244.9"/><circle r="5.2" cx="1137.8" cy="211.9"/></g><g fill="#C49C94" stroke="#C49C94" class="f"><circle r="5.2" cx="805.2" cy="224.2"/><circle r="5.2" cx="815.9" cy="266"/><circle r="5.2" cx="796.4" cy="248.5"/><circle r="5.2" cx="810.4" cy="240.5"/><circle r="5.2" cx="819.1" cy="250.6"/><circle r="5.2" cx="787.5" cy="240.7"/><circle r="5.2" cx="792.3" cy="228.6"/><circle r="5.2" cx="803.6" cy="232.4"/><circle r="5.2" cx="800.9" cy="246.4"/><circle r="5.2" cx="808.3" cy="260.1"/><circle r="5.2" cx="800.6" cy="221.9"/><circle r="5.2" cx="810.4" cy="232.8"/><circle r="5.2" cx="801.4" cy="264.6"/><circle r="5.2" cx="788" cy="231.4"/><circle r="5.2" cx="795.9" cy="254"/><circle r="5.2" cx="788.6" cy="248.3"/><circle r="5.2" cx="818.1" cy="234.5"/><circle r="5.2" cx="817.2" cy="260"/><circle r="5.2" cx="807.9" cy="254.6"/><circle r="5.2" cx="806" cy="231.9"/><circle r="5.2" cx="800.9" cy="238.5"/><circle r="5.2" cx="795.7" cy="235.5"/><circle r="5.2" cx="805.4" cy="254.2"/><circle r="5.2" cx="805" cy="262.3"/><circle r="5.2" cx="799.1" cy="247.1"/><circle r="5.2" cx="799.9" cy="260.7"/><circle r="5.2" cx="794.8" cy="242.2"/><circle r="5.2" cx="796.9" cy="230.7"/><circle r="5.2" cx="816.3" cy="254.7"/><circle r="5.2" cx="814.5" cy="245.8"/><circle r="5.2" cx="811.7" cy="222.1"/><circle r="5.2" cx="805.4" cy="258"/><circle r="5.2" cx="796.8" cy="240.4"/><circle r="5.2" cx="812.5" cy="266.7"/><circle r="5.2" cx="817.2" cy="259.1"/><circle r="5.2" cx="808.3" cy="246.7"/><circle r="5.2" cx="798.4" cy="239.7"/><circle r="5.2" cx="799.7" cy="258.1"/><circle r="5.2" cx="811.8" cy="244.4"/></g><g fill="#F7B6D2" stroke="#F7B6D2" class="f"><circle r="5.2" cx="1017.1" cy="38.3"/><circle r="5.2" cx="1012.6" cy="41.9"/><circle r="5.2" cx="1014.7" cy="40.8"/><circle r="5.2" cx="1014.5" cy="39.8"/><circle r="5.2" cx="1016.8" cy="40.8"/></g><g fill="#F7B6D2" stroke="#F7B6D2"><circle r="5.2" cx="1019.3" cy="105.5"/><circle r="5.2" cx="1014.9" cy="104"/><circle r="5.2" cx="1017.6" cy="106"/><circle r="5.2" cx="1021.5" cy="104"/><circle r="5.2" cx="1016" cy="102.5"/><circle r="5.2" cx="1033.7" cy="78"/><circle r="5.2" cx="1032.6" cy="66"/></g><g fill="#DBDB8D" stroke="#DBDB8D" class="f"><circle r="5.2" cx="1195.3" cy="329.8"/><circle r="5.2" cx="1189.6" cy="339.9"/><circle r="5.2" cx="1208.3" cy="328.9"/><circle r="5.2" cx="1187.9" cy="324.1"/><circle r="5.2" cx="1199.8" cy="342.7"/><circle r="5.2" cx="1199.7" cy="320.4"/><circle r="5.2" cx="1207.5" cy="340"/><circle r="5.2" cx="1187.4" cy="330.8"/><circle r="5.2" cx="1201.2" cy="322.3"/><circle r="5.2" cx="1193.8" cy="337.1"/><circle r="5.2" cx="1200.9" cy="336.1"/><circle r="5.2" cx="1198.6" cy="345.9"/><circle r="5.2" cx="1204.8" cy="322.2"/><circle r="5.2" cx="1189" cy="330.9"/><circle r="5.2" cx="1187.4" cy="334.6"/></g><g fill="#1F77B4" stroke="#1F77B4" class="f"><circle r="5.2" cx="1033.2" cy="553.3"/><circle r="5.2" cx="1045.4" cy="466.9"/><circle r="5.2" cx="989.9" cy="493.8"/><circle r="5.2" cx="1014" cy="529"/><circle r="5.2" cx="1045.8" cy="499.3"/><circle r="5.2" cx="1006.7" cy="488.9"/><circle r="5.2" cx="1049.7" cy="557.5"/><circle r="5.2" cx="1036.1" cy="440.6"/><circle r="5.2" cx="1005.6" cy="510.1"/><circle r="5.2" cx="991.1" cy="519.3"/><circle r="5.2" cx="1026.4" cy="534.9"/><circle r="5.2" cx="1057.3" cy="470.2"/><circle r="5.2" cx="1005.1" cy="527.6"/><circle r="5.2" cx="1043.7" cy="522.2"/><circle r="5.2" cx="1054" cy="492.8"/><circle r="5.2" cx="1016.4" cy="498.3"/><circle r="5.2" cx="1053.7" cy="545.6"/><circle r="5.2" cx="1034.2" cy="488"/><circle r="5.2" cx="1025" cy="556.4"/><circle r="5.2" cx="1055.2" cy="503.4"/><circle r="5.2" cx="1053.3" cy="450.1"/><circle r="5.2" cx="1045.6" cy="458.2"/><circle r="5.2" cx="1018.4" cy="508.4"/><circle r="5.2" cx="1020.6" cy="518.3"/><circle r="5.2" cx="1043.6" cy="511.9"/><circle r="5.2" cx="1046.7" cy="446.2"/><circle r="5.2" cx="1031.8" cy="495.1"/><circle r="5.2" cx="1011.5" cy="537.5"/><circle r="5.2" cx="1051.6" cy="482.8"/><circle r="5.2" cx="1053.8" cy="457.6"/><circle r="5.2" cx="1021.3" cy="545.1"/><circle r="5.2" cx="1037.5" cy="544.4"/><circle r="5.2" cx="1049.1" cy="452.1"/><circle r="5.2" cx="1033.6" cy="531.5"/><circle r="5.2" cx="987.6" cy="505.6"/><circle r="5.2" cx="993.9" cy="512.5"/><circle r="5.2" cx="987.5" cy="527.9"/><circle r="5.2" cx="1013.1" cy="503.6"/><circle r="5.2" cx="1055.9" cy="479.1"/><circle r="5.2" cx="1045.9" cy="474.9"/><circle r="5.2" cx="1003.8" cy="526.4"/><circle r="5.2" cx="1026.7" cy="515.9"/><circle r="5.2" cx="1032.3" cy="520.5"/><circle r="5.2" cx="1044.2" cy="493.1"/><circle r="5.2" cx="995.5" cy="492.1"/><circle r="5.2" cx="1030.6" cy="560.7"/><circle r="5.2" cx="1032.4" cy="511"/><circle r="5.2" cx="1043.8" cy="530.4"/><circle r="5.2" cx="988.3" cy="499.8"/><circle r="5.2" cx="1046.4" cy="537.9"/><circle r="5.2" cx="1022.2" cy="514"/><circle r="5.2" cx="1047.8" cy="489.2"/><circle r="5.2" cx="1026.5" cy="524.8"/><circle r="5.2" cx="1039.7" cy="493.2"/><circle r="5.2" cx="1048.7" cy="494.3"/><circle r="5.2" cx="1008.8" cy="512.7"/><circle r="5.2" cx="1008.6" cy="530.5"/><circle r="5.2" cx="1002.7" cy="534.3"/><circle r="5.2" cx="1041.1" cy="481.8"/><circle r="5.2" cx="995.2" cy="519"/><circle r="5.2" cx="1020" cy="530.5"/><circle r="5.2" cx="1016.1" cy="544.1"/><circle r="5.2" cx="1032.3" cy="483.4"/><circle r="5.2" cx="1015.2" cy="499.7"/><circle r="5.2" cx="1001.5" cy="504.4"/><circle r="5.2" cx="996.4" cy="525.2"/><circle r="5.2" cx="1047.9" cy="524"/><circle r="5.2" cx="1042.4" cy="544.9"/><circle r="5.2" cx="1041.6" cy="478.4"/><circle r="5.2" cx="992.1" cy="531.9"/><circle r="5.2" cx="1009.9" cy="510.6"/><circle r="5.2" cx="1051.5" cy="469.4"/><circle r="5.2" cx="1049.4" cy="514.8"/><circle r="5.2" cx="998.9" cy="517.7"/><circle r="5.2" cx="1046.6" cy="442.2"/><circle r="5.2" cx="1004.5" cy="518.5"/><circle r="5.2" cx="1041.6" cy="523.6"/><circle r="5.2" cx="1040.3" cy="507.5"/><circle r="5.2" cx="1008.9" cy="494.4"/><circle r="5.2" cx="1043.6" cy="538.2"/><circle r="5.2" cx="1046" cy="518.4"/><circle r="5.2" cx="1022.3" cy="502.3"/><circle r="5.2" cx="1029.8" cy="502.4"/><circle r="5.2" cx="1011.4" cy="517.2"/><circle r="5.2" cx="1058.2" cy="464.1"/><circle r="5.2" cx="1031.4" cy="531.2"/><circle r="5.2" cx="1024.2" cy="501"/><circle r="5.2" cx="1002.8" cy="496.1"/><circle r="5.2" cx="1028.6" cy="548.6"/><circle r="5.2" cx="1022.1" cy="521.4"/><circle r="5.2" cx="1025" cy="492.4"/><circle r="5.2" cx="1036.2" cy="487.5"/><circle r="5.2" cx="1024.6" cy="561.8"/><circle r="5.2" cx="1049.1" cy="553.9"/><circle r="5.2" cx="1014" cy="513.3"/><circle r="5.2" cx="1008.1" cy="499.3"/><circle r="5.2" cx="1038.9" cy="500.7"/><circle r="5.2" cx="1021.3" cy="522.7"/><circle r="5.2" cx="998.6" cy="517.3"/><circle r="5.2" cx="1054.2" cy="485.2"/><circle r="5.2" cx="1049.7" cy="549.9"/><circle r="5.2" cx="1029.3" cy="526.1"/><circle r="5.2" cx="1052" cy="518.7"/><circle r="5.2" cx="1021.2" cy="539.9"/><circle r="5.2" cx="1045" cy="516.8"/><circle r="5.2" cx="1019.7" cy="537.4"/><circle r="5.2" cx="986.4" cy="514.2"/><circle r="5.2" cx="1001.6" cy="515.3"/><circle r="5.2" cx="1036.6" cy="517.9"/><circle r="5.2" cx="1043.5" cy="552"/><circle r="5.2" cx="1024.6" cy="552.5"/><circle r="5.2" cx="995.8" cy="508.6"/><circle r="5.2" cx="1037.1" cy="536.2"/><circle r="5.2" cx="1028.6" cy="541.2"/><circle r="5.2" cx="1047.7" cy="513.4"/><circle r="5.2" cx="995.8" cy="499.1"/><circle r="5.2" cx="1056.4" cy="468.4"/><circle r="5.2" cx="1052.1" cy="536.7"/><circle r="5.2" cx="1048.9" cy="499"/><circle r="5.2" cx="1051.6" cy="479"/><circle r="5.2" cx="1021.5" cy="491.4"/><circle r="5.2" cx="1036.8" cy="475.6"/><circle r="5.2" cx="1027.3" cy="495.7"/><circle r="5.2" cx="1046.6" cy="508.9"/><circle r="5.2" cx="1039.8" cy="447"/><circle r="5.2" cx="1048.4" cy="520.9"/><circle r="5.2" cx="1001" cy="531"/><circle r="5.2" cx="1022.7" cy="538.9"/><circle r="5.2" cx="1033.1" cy="544.6"/><circle r="5.2" cx="1049.8" cy="532.4"/><circle r="5.2" cx="1032.9" cy="531.5"/><circle r="5.2" cx="1034" cy="539.8"/><circle r="5.2" cx="1050.2" cy="459.4"/><circle r="5.2" cx="1052.7" cy="512.6"/><circle r="5.2" cx="1020.9" cy="556.7"/><circle r="5.2" cx="1001.6" cy="486.1"/><circle r="5.2" cx="1031.6" cy="534.6"/><circle r="5.2" cx="1023.2" cy="495"/><circle r="5.2" cx="989.7" cy="517.8"/><circle r="5.2" cx="1038.5" cy="503.7"/><circle r="5.2" cx="1030.5" cy="554.6"/><circle r="5.2" cx="1054.6" cy="469.5"/><circle r="5.2" cx="1003.4" cy="501.8"/><circle r="5.2" cx="997" cy="532.5"/><circle r="5.2" cx="1008.8" cy="517.5"/><circle r="5.2" cx="1018.3" cy="549.1"/><circle r="5.2" cx="1036.8" cy="476.6"/><circle r="5.2" cx="1042.2" cy="528"/><circle r="5.2" cx="995.4" cy="501"/><circle r="5.2" cx="1050.1" cy="458.6"/><circle r="5.2" cx="992.5" cy="525.3"/><circle r="5.2" cx="1031.7" cy="546"/><circle r="5.2" cx="1041.3" cy="488.3"/><circle r="5.2" cx="1035.8" cy="504.8"/><circle r="5.2" cx="996.6" cy="524.8"/><circle r="5.2" cx="1020" cy="493.6"/><circle r="5.2" cx="1017.2" cy="533.1"/><circle r="5.2" cx="1016.2" cy="516.5"/><circle r="5.2" cx="1027.8" cy="557.3"/><circle r="5.2" cx="992.5" cy="506.5"/><circle r="5.2" cx="1051.5" cy="517.1"/><circle r="5.2" cx="1007.1" cy="505.4"/><circle r="5.2" cx="1046" cy="453"/><circle r="5.2" cx="1031.6" cy="492.6"/><circle r="5.2" cx="1013.8" cy="494.5"/><circle r="5.2" cx="1020.2" cy="490.6"/><circle r="5.2" cx="1033.6" cy="525.3"/><circle r="5.2" cx="1019.2" cy="502.2"/><circle r="5.2" cx="1041.3" cy="505.8"/><circle r="5.2" cx="985.1" cy="512.4"/><circle r="5.2" cx="990.2" cy="531.1"/><circle r="5.2" cx="1013.6" cy="507.5"/><circle r="5.2" cx="1042.7" cy="463"/><circle r="5.2" cx="1052.1" cy="489.3"/><circle r="5.2" cx="999.7" cy="496"/><circle r="5.2" cx="1018.8" cy="517.4"/><circle r="5.2" cx="1010.6" cy="527.1"/><circle r="5.2" cx="1004.5" cy="535.7"/><circle r="5.2" cx="1049" cy="545.5"/><circle r="5.2" cx="989.9" cy="502.2"/><circle r="5.2" cx="1038.7" cy="554.9"/><circle r="5.2" cx="1019.8" cy="530"/><circle r="5.2" cx="1029.3" cy="506.7"/><circle r="5.2" cx="992.3" cy="495.6"/><circle r="5.2" cx="1054.5" cy="511.3"/><circle r="5.2" cx="1051.1" cy="446.2"/><circle r="5.2" cx="1024.7" cy="512.2"/><circle r="5.2" cx="1051.6" cy="485.1"/><circle r="5.2" cx="1032.8" cy="482.6"/><circle r="5.2" cx="1055.7" cy="498.9"/><circle r="5.2" cx="1018.4" cy="504.3"/><circle r="5.2" cx="1046.9" cy="469.8"/><circle r="5.2" cx="1031.5" cy="506.4"/><circle r="5.2" cx="1042" cy="491.8"/><circle r="5.2" cx="1044.7" cy="509.6"/><circle r="5.2" cx="997.9" cy="503.2"/><circle r="5.2" cx="1012.7" cy="525.3"/><circle r="5.2" cx="1017.7" cy="512.5"/><circle r="5.2" cx="1003.2" cy="518"/><circle r="5.2" cx="1053.1" cy="449.9"/><circle r="5.2" cx="1021.7" cy="522.6"/><circle r="5.2" cx="1022.8" cy="562.6"/><circle r="5.2" cx="1051.1" cy="506.2"/><circle r="5.2" cx="1048.6" cy="455.2"/><circle r="5.2" cx="1024.6" cy="549.6"/><circle r="5.2" cx="1022.2" cy="502.1"/><circle r="5.2" cx="1011.8" cy="529"/><circle r="5.2" cx="1029.1" cy="524"/><circle r="5.2" cx="1025.6" cy="543.2"/><circle r="5.2" cx="1042.3" cy="479.1"/><circle r="5.2" cx="1048.8" cy="475.2"/><circle r="5.2" cx="1056.5" cy="512"/><circle r="5.2" cx="996.8" cy="489.5"/><circle r="5.2" cx="1042.6" cy="506.9"/><circle r="5.2" cx="1042.5" cy="471.2"/><circle r="5.2" cx="1027.2" cy="521.2"/><circle r="5.2" cx="1015.4" cy="542.2"/><circle r="5.2" cx="988.5" cy="503.7"/><circle r="5.2" cx="1049.2" cy="512.6"/><circle r="5.2" cx="1006.3" cy="491.8"/><circle r="5.2" cx="1005.2" cy="506.8"/><circle r="5.2" cx="1036.4" cy="500.6"/><circle r="5.2" cx="1017.9" cy="534.5"/><circle r="5.2" cx="1050" cy="552.2"/><circle r="5.2" cx="1005.7" cy="530.5"/><circle r="5.2" cx="1038.7" cy="472.5"/><circle r="5.2" cx="1038.3" cy="546.5"/><circle r="5.2" cx="1051" cy="538.7"/><circle r="5.2" cx="1034.8" cy="521.2"/><circle r="5.2" cx="1012.4" cy="500.2"/><circle r="5.2" cx="1046.3" cy="490"/><circle r="5.2" cx="1043" cy="519.4"/><circle r="5.2" cx="1025.5" cy="538.1"/><circle r="5.2" cx="1049.3" cy="441.9"/><circle r="5.2" cx="1055.7" cy="484"/><circle r="5.2" cx="1050.4" cy="555.8"/><circle r="5.2" cx="985.5" cy="525.5"/><circle r="5.2" cx="1011.8" cy="538.8"/><circle r="5.2" cx="1026.3" cy="566.2"/><circle r="5.2" cx="1043.6" cy="520.2"/><circle r="5.2" cx="1055.6" cy="482.7"/><circle r="5.2" cx="1043.6" cy="533.4"/><circle r="5.2" cx="1046" cy="497.6"/><circle r="5.2" cx="1036.5" cy="548.2"/><circle r="5.2" cx="1041.2" cy="443.9"/><circle r="5.2" cx="1009.8" cy="523.8"/><circle r="5.2" cx="1024.1" cy="524.4"/><circle r="5.2" cx="1030.6" cy="555.9"/><circle r="5.2" cx="1034.2" cy="514.5"/><circle r="5.2" cx="993.5" cy="500.5"/><circle r="5.2" cx="991.1" cy="512.4"/><circle r="5.2" cx="1038.6" cy="520.3"/><circle r="5.2" cx="1059.2" cy="472.2"/><circle r="5.2" cx="1048.4" cy="459.9"/><circle r="5.2" cx="1052.7" cy="495.5"/><circle r="5.2" cx="1005.9" cy="517.2"/><circle r="5.2" cx="994.5" cy="530"/><circle r="5.2" cx="1045.5" cy="554.9"/><circle r="5.2" cx="1044.2" cy="476.8"/><circle r="5.2" cx="1056.6" cy="461.9"/><circle r="5.2" cx="1050.4" cy="537.2"/><circle r="5.2" cx="1039.2" cy="541.8"/><circle r="5.2" cx="1039.4" cy="497.9"/><circle r="5.2" cx="999" cy="510.4"/><circle r="5.2" cx="1050.4" cy="535.5"/><circle r="5.2" cx="1010.1" cy="510.9"/><circle r="5.2" cx="1050.9" cy="467.1"/><circle r="5.2" cx="989.6" cy="493.9"/><circle r="5.2" cx="1027.9" cy="488.6"/><circle r="5.2" cx="1026.4" cy="531.5"/><circle r="5.2" cx="1005.6" cy="503.8"/><circle r="5.2" cx="1043.8" cy="465.3"/><circle r="5.2" cx="1046.4" cy="483.2"/><circle r="5.2" cx="1077.8" cy="486.7"/><circle r="5.2" cx="1067" cy="504.3"/><circle r="5.2" cx="1063.6" cy="481.9"/><circle r="5.2" cx="1068" cy="495.7"/><circle r="5.2" cx="1076.4" cy="499"/><circle r="5.2" cx="1070.8" cy="474.2"/><circle r="5.2" cx="1071.8" cy="483.7"/><circle r="5.2" cx="1082.1" cy="479"/><circle r="5.2" cx="1070.7" cy="481.1"/><circle r="5.2" cx="1071.6" cy="501.7"/><circle r="5.2" cx="1077.5" cy="505.4"/><circle r="5.2" cx="1068.5" cy="511.1"/><circle r="5.2" cx="1066.5" cy="487"/><circle r="5.2" cx="1080.6" cy="491.5"/><circle r="5.2" cx="1081.3" cy="486.2"/><circle r="5.2" cx="1068.4" cy="477.1"/><circle r="5.2" cx="1072.5" cy="508.4"/><circle r="5.2" cx="1071" cy="479.4"/><circle r="5.2" cx="1073" cy="495.5"/><circle r="5.2" cx="1081.2" cy="483.9"/><circle r="5.2" cx="1068.1" cy="473.8"/><circle r="5.2" cx="1065.7" cy="499.5"/><circle r="5.2" cx="1005.5" cy="470.8"/><circle r="5.2" cx="1027.8" cy="475.7"/><circle r="5.2" cx="1020.4" cy="462.3"/><circle r="5.2" cx="999.6" cy="462.2"/><circle r="5.2" cx="1025.5" cy="469.9"/><circle r="5.2" cx="1008.3" cy="464"/><circle r="5.2" cx="995.6" cy="468.1"/><circle r="5.2" cx="1030.4" cy="443"/><circle r="5.2" cx="1039.8" cy="444.8"/><circle r="5.2" cx="1035.3" cy="438.9"/><circle r="5.2" cx="1029.4" cy="445.4"/><circle r="5.2" cx="1032.9" cy="445.9"/><circle r="5.2" cx="1040.7" cy="439.5"/><circle r="5.2" cx="1031.5" cy="444.9"/></g><g fill="#1F77B4" stroke="#1F77B4"><circle r="5.2" cx="986" cy="462.5"/><circle r="5.2" cx="958.5" cy="491.5"/><circle r="5.2" cx="965" cy="495.5"/></g><g fill="#AEC7E8" stroke="#AEC7E8"><circle r="5.2" cx="1087" cy="149"/><circle r="5.2" cx="922" cy="247"/><circle r="5.2" cx="940" cy="249"/><circle r="5.2" cx="929" cy="238"/></g><g fill="#AEC7E8" stroke="#AEC7E8" class="f"><circle r="5.2" cx="982.8" cy="318"/><circle r="5.2" cx="955.7" cy="300.6"/><circle r="5.2" cx="967.5" cy="325.7"/><circle r="5.2" cx="995.2" cy="328.1"/><circle r="5.2" cx="1003.4" cy="305.3"/><circle r="5.2" cx="981.1" cy="296.1"/><circle r="5.2" cx="983.4" cy="333.3"/><circle r="5.2" cx="953.7" cy="313.1"/><circle r="5.2" cx="985.2" cy="308.6"/><circle r="5.2" cx="964.6" cy="314.1"/><circle r="5.2" cx="1006.3" cy="318.3"/><circle r="5.2" cx="985.9" cy="327"/><circle r="5.2" cx="978.4" cy="324.7"/><circle r="5.2" cx="974.7" cy="309"/><circle r="5.2" cx="1003.6" cy="325.3"/><circle r="5.2" cx="986.1" cy="313.4"/><circle r="5.2" cx="992.7" cy="311.9"/><circle r="5.2" cx="990.2" cy="322.3"/><circle r="5.2" cx="1002.7" cy="313.5"/><circle r="5.2" cx="969" cy="305.2"/><circle r="5.2" cx="976.6" cy="320"/><circle r="5.2" cx="960.1" cy="305"/><circle r="5.2" cx="974.7" cy="317.4"/><circle r="5.2" cx="960.3" cy="309.1"/><circle r="5.2" cx="985.7" cy="298.6"/><circle r="5.2" cx="1001.9" cy="306.3"/><circle r="5.2" cx="991" cy="310.1"/><circle r="5.2" cx="959.5" cy="322.2"/><circle r="5.2" cx="993.6" cy="299.8"/><circle r="5.2" cx="949.9" cy="304"/><circle r="5.2" cx="974.8" cy="333.1"/><circle r="5.2" cx="973.3" cy="312.3"/><circle r="5.2" cx="980.7" cy="299.5"/><circle r="5.2" cx="1001" cy="320.3"/><circle r="5.2" cx="988.3" cy="330.7"/><circle r="5.2" cx="979.4" cy="314.9"/><circle r="5.2" cx="997.1" cy="310.6"/><circle r="5.2" cx="964" cy="297.7"/><circle r="5.2" cx="978.2" cy="303.9"/><circle r="5.2" cx="962.4" cy="322.6"/><circle r="5.2" cx="967" cy="303.8"/><circle r="5.2" cx="989.8" cy="324.2"/><circle r="5.2" cx="983.9" cy="306.4"/><circle r="5.2" cx="996.2" cy="304.3"/><circle r="5.2" cx="1007.4" cy="311.6"/><circle r="5.2" cx="955.3" cy="305.5"/><circle r="5.2" cx="965.8" cy="300.2"/><circle r="5.2" cx="1000.5" cy="300.2"/><circle r="5.2" cx="977.3" cy="327.9"/><circle r="5.2" cx="983.1" cy="309"/><circle r="5.2" cx="988.4" cy="307.2"/><circle r="5.2" cx="960.3" cy="319.9"/><circle r="5.2" cx="995.8" cy="316"/><circle r="5.2" cx="958.6" cy="299.7"/><circle r="5.2" cx="971.9" cy="313.5"/><circle r="5.2" cx="971.4" cy="320.6"/><circle r="5.2" cx="959.3" cy="315.6"/><circle r="5.2" cx="976.3" cy="302"/><circle r="5.2" cx="953.6" cy="298.3"/><circle r="5.2" cx="961.7" cy="301.8"/><circle r="5.2" cx="986.9" cy="316.9"/><circle r="5.2" cx="993.8" cy="327.9"/><circle r="5.2" cx="976.4" cy="332.4"/><circle r="5.2" cx="950.7" cy="307.9"/><circle r="5.2" cx="996.6" cy="326.3"/><circle r="5.2" cx="1005.1" cy="324.6"/><circle r="5.2" cx="956.3" cy="316.1"/><circle r="5.2" cx="980.6" cy="301.6"/><circle r="5.2" cx="967.7" cy="326.6"/><circle r="5.2" cx="989.3" cy="328.9"/><circle r="5.2" cx="1008.2" cy="321.3"/><circle r="5.2" cx="964.3" cy="322.6"/><circle r="5.2" cx="990.2" cy="303.4"/><circle r="5.2" cx="1000.3" cy="314.6"/><circle r="5.2" cx="999.1" cy="319.8"/><circle r="5.2" cx="966.9" cy="306.8"/><circle r="5.2" cx="987.5" cy="320.7"/><circle r="5.2" cx="978.7" cy="307.4"/><circle r="5.2" cx="972.8" cy="321.3"/><circle r="5.2" cx="968.5" cy="306.2"/><circle r="5.2" cx="981.6" cy="328.6"/><circle r="5.2" cx="995" cy="320.3"/><circle r="5.2" cx="976.4" cy="313.1"/><circle r="5.2" cx="977.7" cy="333.1"/><circle r="5.2" cx="955.4" cy="313.4"/><circle r="5.2" cx="983.2" cy="328.1"/><circle r="5.2" cx="953.8" cy="304.1"/><circle r="5.2" cx="978.3" cy="318.1"/><circle r="5.2" cx="962.9" cy="312.9"/><circle r="5.2" cx="938.2" cy="274.4"/><circle r="5.2" cx="941.2" cy="281.2"/><circle r="5.2" cx="941.2" cy="274.3"/><circle r="5.2" cx="934.6" cy="279.1"/><circle r="5.2" cx="943.8" cy="273.6"/><circle r="5.2" cx="938.8" cy="273.3"/><circle r="5.2" cx="1017.9" cy="236"/><circle r="5.2" cx="1003.9" cy="238"/><circle r="5.2" cx="1009.6" cy="243.4"/><circle r="5.2" cx="1012" cy="236.3"/><circle r="5.2" cx="1022.3" cy="232.6"/><circle r="5.2" cx="1006.1" cy="237.7"/><circle r="5.2" cx="1016.8" cy="235.1"/><circle r="5.2" cx="1003" cy="239.4"/><circle r="5.2" cx="1008.2" cy="239.9"/><circle r="5.2" cx="1007.3" cy="233.4"/><circle r="5.2" cx="1010.1" cy="238.9"/><circle r="5.2" cx="1014.9" cy="243"/><circle r="5.2" cx="1015.1" cy="241.5"/><circle r="5.2" cx="1018.3" cy="238.6"/><circle r="5.2" cx="1021.4" cy="282.2"/><circle r="5.2" cx="1022.9" cy="257.1"/><circle r="5.2" cx="1018.2" cy="267.9"/><circle r="5.2" cx="1032" cy="274"/><circle r="5.2" cx="1022.7" cy="268.1"/><circle r="5.2" cx="1030.5" cy="263"/><circle r="5.2" cx="1012.7" cy="286.4"/><circle r="5.2" cx="1018.8" cy="291.1"/><circle r="5.2" cx="1008.7" cy="272.1"/><circle r="5.2" cx="1023" cy="294.7"/><circle r="5.2" cx="1015.6" cy="283.5"/><circle r="5.2" cx="1021.7" cy="274.8"/><circle r="5.2" cx="1015.5" cy="275"/><circle r="5.2" cx="1029" cy="285.4"/><circle r="5.2" cx="1018.7" cy="260.2"/><circle r="5.2" cx="1017.1" cy="286.7"/><circle r="5.2" cx="1023.1" cy="277.9"/><circle r="5.2" cx="1026.4" cy="272.8"/><circle r="5.2" cx="1019" cy="272.2"/><circle r="5.2" cx="1030.1" cy="287"/><circle r="5.2" cx="1011.6" cy="278.3"/><circle r="5.2" cx="1011.9" cy="266.6"/><circle r="5.2" cx="1017.4" cy="281"/><circle r="5.2" cx="1027.9" cy="283.2"/><circle r="5.2" cx="1023.4" cy="321.2"/><circle r="5.2" cx="1022.6" cy="312"/><circle r="5.2" cx="1023.5" cy="318.5"/><circle r="5.2" cx="1017" cy="313.1"/><circle r="5.2" cx="1023.3" cy="326.5"/><circle r="5.2" cx="1020.5" cy="318.4"/><circle r="5.2" cx="1014.3" cy="316.1"/><circle r="5.2" cx="1022.4" cy="309.9"/><circle r="5.2" cx="1024" cy="322.6"/><circle r="5.2" cx="968.6" cy="274.8"/><circle r="5.2" cx="990.4" cy="274.3"/><circle r="5.2" cx="977.1" cy="287.8"/><circle r="5.2" cx="959.8" cy="289.2"/><circle r="5.2" cx="956.6" cy="279"/><circle r="5.2" cx="978.8" cy="277"/><circle r="5.2" cx="985.5" cy="279.6"/><circle r="5.2" cx="995.4" cy="280.1"/><circle r="5.2" cx="987.9" cy="287.1"/><circle r="5.2" cx="1026.2" cy="226.3"/><circle r="5.2" cx="1040.7" cy="225.1"/><circle r="5.2" cx="1031.5" cy="216.9"/><circle r="5.2" cx="1034.8" cy="217.6"/><circle r="5.2" cx="1031.4" cy="234.6"/><circle r="5.2" cx="1035.7" cy="226.1"/><circle r="5.2" cx="1036.3" cy="234.8"/><circle r="5.2" cx="1040.6" cy="217.7"/><circle r="5.2" cx="1032.7" cy="221.9"/><circle r="5.2" cx="1039.6" cy="215.5"/><circle r="5.2" cx="1023.9" cy="222.2"/><circle r="5.2" cx="1037.3" cy="234.8"/></g><g fill="#AEC7E8" stroke="#AEC7E8"><circle r="5.2" cx="1013" cy="209.6"/></g><g fill="#FF7F0E" stroke="#FF7F0E"><circle r="5.2" cx="966" cy="80"/><circle r="5.2" cx="971" cy="78"/><circle r="5.2" cx="975" cy="81"/><circle r="5.2" cx="969" cy="83"/><circle r="5.2" cx="1101.7" cy="77"/><circle r="5.2" cx="1101.5" cy="76.6"/><circle r="5.2" cx="934" cy="131"/><circle r="5.2" cx="934.3" cy="130.8"/><circle r="5.2" cx="937" cy="136"/><circle r="5.2" cx="937.3" cy="135.8"/><circle r="5.2" cx="933" cy="138"/><circle r="5.2" cx="933.3" cy="137.8"/><circle r="5.2" cx="977" cy="167"/><circle r="5.2" cx="977.3" cy="166.8"/><circle r="5.2" cx="981" cy="171"/><circle r="5.2" cx="981.3" cy="170.8"/><circle r="5.2" cx="979" cy="178"/><circle r="5.2" cx="979.3" cy="177.8"/><circle r="5.2" cx="975" cy="176"/><circle r="5.2" cx="975.3" cy="175.8"/></g><g fill="#FF7F0E" stroke="#FF7F0E" class="f"><circle r="5.2" cx="961.5" cy="225.8"/><circle r="5.2" cx="985" cy="220.1"/><circle r="5.2" cx="965.6" cy="205.3"/><circle r="5.2" cx="951.2" cy="204.6"/><circle r="5.2" cx="976.6" cy="213.4"/><circle r="5.2" cx="978.4" cy="201.9"/><circle r="5.2" cx="964.7" cy="235.6"/><circle r="5.2" cx="972.7" cy="225.3"/><circle r="5.2" cx="989" cy="205.6"/><circle r="5.2" cx="949.7" cy="231"/><circle r="5.2" cx="969.6" cy="209.7"/><circle r="5.2" cx="954.4" cy="215.7"/><circle r="5.2" cx="971.9" cy="194.9"/><circle r="5.2" cx="972.5" cy="206.7"/><circle r="5.2" cx="951.7" cy="218.9"/><circle r="5.2" cx="948.7" cy="239.2"/><circle r="5.2" cx="954" cy="200.4"/><circle r="5.2" cx="980.9" cy="223.2"/><circle r="5.2" cx="986.7" cy="210.1"/><circle r="5.2" cx="953.5" cy="212"/><circle r="5.2" cx="968.2" cy="230.9"/><circle r="5.2" cx="948.1" cy="210.4"/><circle r="5.2" cx="961.7" cy="206.6"/><circle r="5.2" cx="967.9" cy="201.4"/><circle r="5.2" cx="959.9" cy="234.9"/><circle r="5.2" cx="968.3" cy="217.7"/><circle r="5.2" cx="978.4" cy="230"/><circle r="5.2" cx="986.5" cy="214.3"/><circle r="5.2" cx="964.2" cy="214.6"/><circle r="5.2" cx="954.6" cy="226.2"/><circle r="5.2" cx="980.5" cy="204.6"/><circle r="5.2" cx="958.2" cy="243.5"/><circle r="5.2" cx="959.9" cy="211.4"/><circle r="5.2" cx="952.7" cy="235.1"/><circle r="5.2" cx="965.6" cy="223.7"/><circle r="5.2" cx="975.9" cy="221.9"/><circle r="5.2" cx="961.2" cy="220.5"/><circle r="5.2" cx="977.4" cy="231.7"/><circle r="5.2" cx="970.1" cy="221.8"/><circle r="5.2" cx="953.2" cy="216.4"/><circle r="5.2" cx="988.9" cy="206"/><circle r="5.2" cx="957.3" cy="203"/><circle r="5.2" cx="962.6" cy="208.3"/><circle r="5.2" cx="961" cy="231.2"/><circle r="5.2" cx="954" cy="229.8"/><circle r="5.2" cx="986.7" cy="216.7"/><circle r="5.2" cx="956.9" cy="212.6"/><circle r="5.2" cx="949.7" cy="217"/><circle r="5.2" cx="951.6" cy="223.8"/><circle r="5.2" cx="962.9" cy="201.9"/><circle r="5.2" cx="971" cy="212.7"/><circle r="5.2" cx="960.7" cy="200.2"/><circle r="5.2" cx="948.5" cy="208.3"/><circle r="5.2" cx="986.3" cy="206"/><circle r="5.2" cx="959.6" cy="227.5"/><circle r="5.2" cx="947.2" cy="207.4"/><circle r="5.2" cx="954.5" cy="204.4"/><circle r="5.2" cx="973.2" cy="231.4"/><circle r="5.2" cx="982.5" cy="216.1"/><circle r="5.2" cx="981" cy="213.7"/><circle r="5.2" cx="958" cy="221.5"/><circle r="5.2" cx="969.2" cy="218.7"/><circle r="5.2" cx="969.5" cy="233.9"/><circle r="5.2" cx="982.7" cy="227.1"/><circle r="5.2" cx="986" cy="215.4"/><circle r="5.2" cx="965.2" cy="227.4"/><circle r="5.2" cx="981" cy="202.9"/><circle r="5.2" cx="957.5" cy="235.5"/><circle r="5.2" cx="962.3" cy="240.3"/><circle r="5.2" cx="977.5" cy="219.3"/><circle r="5.2" cx="960.1" cy="216.1"/><circle r="5.2" cx="955.1" cy="230.8"/><circle r="5.2" cx="963.5" cy="222.4"/><circle r="5.2" cx="979.7" cy="197.8"/><circle r="5.2" cx="959.7" cy="217.2"/><circle r="5.2" cx="976.9" cy="203.8"/><circle r="5.2" cx="958.4" cy="212.6"/><circle r="5.2" cx="969.1" cy="209.8"/><circle r="5.2" cx="957.8" cy="205.9"/><circle r="5.2" cx="956.2" cy="233.2"/><circle r="5.2" cx="970.5" cy="201.6"/><circle r="5.2" cx="979.1" cy="225.6"/><circle r="5.2" cx="975.7" cy="217.3"/><circle r="5.2" cx="948.3" cy="233.5"/><circle r="5.2" cx="961.9" cy="198.6"/><circle r="5.2" cx="956.3" cy="242.1"/><circle r="5.2" cx="969" cy="217.4"/><circle r="5.2" cx="985" cy="207"/><circle r="5.2" cx="973.3" cy="228.1"/><circle r="5.2" cx="948.3" cy="205.2"/><circle r="5.2" cx="965.6" cy="197.8"/><circle r="5.2" cx="984.9" cy="203.7"/><circle r="5.2" cx="982.1" cy="197.1"/><circle r="5.2" cx="961.4" cy="202.4"/><circle r="5.2" cx="961.7" cy="228.8"/><circle r="5.2" cx="973" cy="210.9"/><circle r="5.2" cx="975" cy="223.6"/><circle r="5.2" cx="977.7" cy="206.3"/><circle r="5.2" cx="970.9" cy="223.8"/><circle r="5.2" cx="957.3" cy="209.5"/><circle r="5.2" cx="969.1" cy="208.2"/><circle r="5.2" cx="963.2" cy="232.3"/><circle r="5.2" cx="947.9" cy="214"/><circle r="5.2" cx="955.4" cy="216.2"/><circle r="5.2" cx="970.8" cy="203.1"/><circle r="5.2" cx="950.2" cy="223.4"/><circle r="5.2" cx="977.1" cy="228.5"/><circle r="5.2" cx="971.1" cy="199.2"/><circle r="5.2" cx="956.8" cy="234.2"/><circle r="5.2" cx="983.5" cy="219.9"/><circle r="5.2" cx="977.4" cy="211.1"/><circle r="5.2" cx="971.1" cy="221.9"/><circle r="5.2" cx="979.2" cy="199.9"/><circle r="5.2" cx="966.6" cy="205.4"/><circle r="5.2" cx="963.8" cy="232"/><circle r="5.2" cx="974.8" cy="216.6"/><circle r="5.2" cx="968" cy="230.6"/><circle r="5.2" cx="984.7" cy="200.1"/><circle r="5.2" cx="963.7" cy="240.8"/></g><g fill="#FF7F0E" stroke="#FF7F0E"><circle r="5.2" cx="1001" cy="198.5"/><circle r="5.2" cx="1001.3" cy="198.3"/><circle r="5.2" cx="1039" cy="210"/><circle r="5.2" cx="1039.3" cy="209.8"/><circle r="5.2" cx="1044" cy="212.5"/><circle r="5.2" cx="1044.3" cy="212.3"/><circle r="5.2" cx="1046" cy="208"/><circle r="5.2" cx="1046.3" cy="207.8"/><circle r="5.2" cx="1000" cy="227"/><circle r="5.2" cx="1006" cy="230"/><circle r="5.2" cx="1012" cy="228.5"/><circle r="5.2" cx="1003" cy="224"/><circle r="5.2" cx="1008" cy="225"/><circle r="5.2" cx="1050" cy="275"/></g><g fill="#FFBB78" stroke="#FFBB78"><circle r="5.2" cx="1075" cy="68"/></g><g fill="#FFBB78" stroke="#FFBB78" class="f"><circle r="5.2" cx="1098.2" cy="152.4"/><circle r="5.2" cx="1123.5" cy="162.7"/><circle r="5.2" cx="1111.7" cy="130.1"/><circle r="5.2" cx="1109.3" cy="106"/><circle r="5.2" cx="1101.1" cy="117.5"/><circle r="5.2" cx="1100.5" cy="143.5"/><circle r="5.2" cx="1108.4" cy="160.9"/><circle r="5.2" cx="1113.3" cy="141.4"/><circle r="5.2" cx="1117.4" cy="156.7"/><circle r="5.2" cx="1119.3" cy="147.6"/><circle r="5.2" cx="1117.5" cy="129"/><circle r="5.2" cx="1104.9" cy="130"/><circle r="5.2" cx="1102.3" cy="160.7"/><circle r="5.2" cx="1106.5" cy="113.2"/><circle r="5.2" cx="1096.2" cy="130.8"/><circle r="5.2" cx="1126.5" cy="159"/><circle r="5.2" cx="1109.1" cy="121.8"/><circle r="5.2" cx="1114" cy="147.2"/><circle r="5.2" cx="1118" cy="122.4"/><circle r="5.2" cx="1117.2" cy="128.9"/><circle r="5.2" cx="1105.3" cy="151.4"/><circle r="5.2" cx="1102.4" cy="109"/><circle r="5.2" cx="1110.1" cy="126"/><circle r="5.2" cx="1100.1" cy="124.2"/><circle r="5.2" cx="1119.2" cy="167.8"/><circle r="5.2" cx="1112.6" cy="153.4"/><circle r="5.2" cx="1102.8" cy="115.5"/><circle r="5.2" cx="1107.9" cy="137.9"/><circle r="5.2" cx="1103.4" cy="147.9"/><circle r="5.2" cx="1112.6" cy="133.4"/><circle r="5.2" cx="1103.1" cy="125.2"/><circle r="5.2" cx="1115.1" cy="112"/><circle r="5.2" cx="1112.7" cy="116.7"/><circle r="5.2" cx="1095.1" cy="138.5"/><circle r="5.2" cx="1103.1" cy="121"/><circle r="5.2" cx="1122.5" cy="154.1"/><circle r="5.2" cx="1103.3" cy="153.5"/><circle r="5.2" cx="1112.6" cy="122.1"/><circle r="5.2" cx="1106.8" cy="166.5"/><circle r="5.2" cx="1109.6" cy="144.5"/><circle r="5.2" cx="1108.1" cy="131.7"/><circle r="5.2" cx="1101" cy="122.6"/><circle r="5.2" cx="1112.5" cy="164.8"/><circle r="5.2" cx="1119.8" cy="160.3"/><circle r="5.2" cx="1117.9" cy="117"/><circle r="5.2" cx="1100.7" cy="110.9"/><circle r="5.2" cx="1113.8" cy="115.7"/><circle r="5.2" cx="1108" cy="141.5"/><circle r="5.2" cx="1098.9" cy="142.5"/><circle r="5.2" cx="1105.2" cy="107.4"/><circle r="5.2" cx="1116.3" cy="159.8"/><circle r="5.2" cx="1116.9" cy="160.8"/><circle r="5.2" cx="1104.3" cy="155.9"/><circle r="5.2" cx="1120" cy="156.7"/><circle r="5.2" cx="1113.4" cy="108"/><circle r="5.2" cx="1112" cy="115.4"/><circle r="5.2" cx="1121.4" cy="138.1"/><circle r="5.2" cx="1105.6" cy="129.5"/><circle r="5.2" cx="1115.9" cy="151.4"/><circle r="5.2" cx="1099.4" cy="143.7"/><circle r="5.2" cx="1104.6" cy="150.9"/><circle r="5.2" cx="1098.5" cy="104.4"/><circle r="5.2" cx="1109" cy="156.9"/><circle r="5.2" cx="1113.2" cy="151.6"/><circle r="5.2" cx="1115.4" cy="146.2"/><circle r="5.2" cx="1096.6" cy="145.9"/><circle r="5.2" cx="1102.7" cy="137.3"/><circle r="5.2" cx="1117.5" cy="132.2"/><circle r="5.2" cx="1113.6" cy="125.6"/><circle r="5.2" cx="1100" cy="137.2"/><circle r="5.2" cx="1116.8" cy="144.2"/><circle r="5.2" cx="1114.8" cy="167.8"/><circle r="5.2" cx="1104.7" cy="156.8"/><circle r="5.2" cx="1095.4" cy="152"/><circle r="5.2" cx="1108.4" cy="110.2"/><circle r="5.2" cx="1100.6" cy="107.6"/><circle r="5.2" cx="1108.6" cy="137.1"/><circle r="5.2" cx="1103.3" cy="154.1"/><circle r="5.2" cx="1113" cy="162.9"/><circle r="5.2" cx="1115.6" cy="129.4"/><circle r="5.2" cx="1073.8" cy="163.9"/><circle r="5.2" cx="1081.8" cy="134.3"/><circle r="5.2" cx="1086.4" cy="158.9"/><circle r="5.2" cx="1087" cy="149.2"/><circle r="5.2" cx="1085.7" cy="166.9"/><circle r="5.2" cx="1084" cy="147.4"/><circle r="5.2" cx="1078.9" cy="158.8"/><circle r="5.2" cx="1086.6" cy="143.6"/><circle r="5.2" cx="1078.6" cy="174.1"/><circle r="5.2" cx="1083.4" cy="143.3"/><circle r="5.2" cx="1078.4" cy="151.5"/><circle r="5.2" cx="1172.4" cy="148.4"/><circle r="5.2" cx="1158.1" cy="170.1"/><circle r="5.2" cx="1158.1" cy="159.7"/><circle r="5.2" cx="1178.3" cy="152.8"/><circle r="5.2" cx="1177.6" cy="168.3"/><circle r="5.2" cx="1170.5" cy="154.5"/><circle r="5.2" cx="1172" cy="165.8"/><circle r="5.2" cx="1170.4" cy="171.1"/><circle r="5.2" cx="1182.8" cy="159.5"/><circle r="5.2" cx="1175.2" cy="174.3"/><circle r="5.2" cx="1163.6" cy="165.2"/><circle r="5.2" cx="1164.8" cy="153.9"/><circle r="5.2" cx="1162.8" cy="149.6"/><circle r="5.2" cx="1184.4" cy="167"/><circle r="5.2" cx="1182.9" cy="152.6"/><circle r="5.2" cx="1167.3" cy="171.9"/><circle r="5.2" cx="1160.2" cy="153.6"/><circle r="5.2" cx="1170.8" cy="163"/><circle r="5.2" cx="1171.1" cy="153.8"/><circle r="5.2" cx="1175.1" cy="158.1"/><circle r="5.2" cx="1173.1" cy="150.1"/><circle r="5.2" cx="1167.2" cy="163.1"/><circle r="5.2" cx="1175.3" cy="162.2"/><circle r="5.2" cx="1161.2" cy="154.8"/><circle r="5.2" cx="1187.2" cy="157.2"/><circle r="5.2" cx="1170" cy="158.9"/><circle r="5.2" cx="1182.2" cy="171"/><circle r="5.2" cx="1178" cy="164"/><circle r="5.2" cx="1181" cy="164.3"/><circle r="5.2" cx="1175.1" cy="150.3"/><circle r="5.2" cx="1175.9" cy="171.6"/><circle r="5.2" cx="1161.6" cy="152"/><circle r="5.2" cx="1179.9" cy="163.3"/><circle r="5.2" cx="1166.7" cy="162.7"/><circle r="5.2" cx="1162.2" cy="168.1"/><circle r="5.2" cx="1138.8" cy="155.6"/><circle r="5.2" cx="1134.5" cy="177.1"/><circle r="5.2" cx="1150.1" cy="172.7"/><circle r="5.2" cx="1144.6" cy="154.9"/><circle r="5.2" cx="1125.4" cy="161"/><circle r="5.2" cx="1139.1" cy="168.9"/><circle r="5.2" cx="1150.3" cy="161.8"/><circle r="5.2" cx="1134.6" cy="162.6"/><circle r="5.2" cx="1125.6" cy="154"/><circle r="5.2" cx="1130.5" cy="170.6"/><circle r="5.2" cx="1144.3" cy="170.5"/><circle r="5.2" cx="1130" cy="162.9"/><circle r="5.2" cx="1144.3" cy="173.9"/><circle r="5.2" cx="1145.6" cy="160.1"/><circle r="5.2" cx="1121.4" cy="189.8"/><circle r="5.2" cx="1125.5" cy="194.2"/><circle r="5.2" cx="1125.3" cy="192.6"/><circle r="5.2" cx="1118.6" cy="187.2"/><circle r="5.2" cx="1126.9" cy="199.8"/><circle r="5.2" cx="1125.5" cy="194.4"/><circle r="5.2" cx="1122" cy="192.9"/><circle r="5.2" cx="1124.2" cy="194.8"/><circle r="5.2" cx="1120.8" cy="189.1"/></g><g fill="#2CA02C" stroke="#2CA02C" class="f"><circle r="5.2" cx="1159.8" cy="341.5"/><circle r="5.2" cx="1138.5" cy="403.1"/><circle r="5.2" cx="1158.2" cy="370.5"/><circle r="5.2" cx="1131.5" cy="377.6"/><circle r="5.2" cx="1182" cy="365"/><circle r="5.2" cx="1178.7" cy="349"/><circle r="5.2" cx="1166.2" cy="394"/><circle r="5.2" cx="1146.1" cy="394.3"/><circle r="5.2" cx="1158.6" cy="356.1"/><circle r="5.2" cx="1127" cy="391.1"/><circle r="5.2" cx="1133.8" cy="360.7"/><circle r="5.2" cx="1165.4" cy="338.1"/><circle r="5.2" cx="1153.3" cy="369.1"/><circle r="5.2" cx="1167.4" cy="382.2"/><circle r="5.2" cx="1161.4" cy="351.7"/><circle r="5.2" cx="1171" cy="357.8"/><circle r="5.2" cx="1140.4" cy="381.2"/><circle r="5.2" cx="1171.8" cy="374.2"/><circle r="5.2" cx="1183" cy="338.3"/><circle r="5.2" cx="1149.4" cy="384.5"/><circle r="5.2" cx="1142" cy="384.8"/><circle r="5.2" cx="1133.6" cy="391.2"/><circle r="5.2" cx="1161.4" cy="362.8"/><circle r="5.2" cx="1126.5" cy="399.1"/><circle r="5.2" cx="1122.8" cy="382.4"/><circle r="5.2" cx="1125.7" cy="408.5"/><circle r="5.2" cx="1153.2" cy="364.5"/><circle r="5.2" cx="1142.4" cy="374.5"/><circle r="5.2" cx="1170.1" cy="367.5"/><circle r="5.2" cx="1139.4" cy="385.3"/><circle r="5.2" cx="1163.6" cy="338.7"/><circle r="5.2" cx="1137.4" cy="376"/><circle r="5.2" cx="1180.9" cy="360.7"/><circle r="5.2" cx="1130.6" cy="369.1"/><circle r="5.2" cx="1150" cy="378.4"/><circle r="5.2" cx="1146.8" cy="358.1"/><circle r="5.2" cx="1148.9" cy="347.6"/><circle r="5.2" cx="1127.5" cy="374"/><circle r="5.2" cx="1156" cy="403.8"/><circle r="5.2" cx="1166.9" cy="354.3"/><circle r="5.2" cx="1138.6" cy="369.4"/><circle r="5.2" cx="1122" cy="403.8"/><circle r="5.2" cx="1181.1" cy="354.3"/><circle r="5.2" cx="1168.8" cy="343.2"/><circle r="5.2" cx="1147.8" cy="400"/><circle r="5.2" cx="1157.3" cy="379.1"/><circle r="5.2" cx="1175" cy="350.5"/><circle r="5.2" cx="1156.4" cy="374.6"/><circle r="5.2" cx="1179" cy="371.7"/><circle r="5.2" cx="1140.2" cy="356.7"/><circle r="5.2" cx="1161" cy="377.1"/><circle r="5.2" cx="1131.9" cy="382.6"/><circle r="5.2" cx="1117.9" cy="388"/><circle r="5.2" cx="1115.3" cy="395"/><circle r="5.2" cx="1172.7" cy="362"/><circle r="5.2" cx="1138.2" cy="389.6"/><circle r="5.2" cx="1157.9" cy="357.6"/><circle r="5.2" cx="1174.4" cy="380.8"/><circle r="5.2" cx="1155.9" cy="390.2"/><circle r="5.2" cx="1145.1" cy="405.3"/><circle r="5.2" cx="1145.1" cy="401.8"/><circle r="5.2" cx="1151.5" cy="373.6"/><circle r="5.2" cx="1163.4" cy="348"/><circle r="5.2" cx="1179.1" cy="365.5"/><circle r="5.2" cx="1183.4" cy="361.2"/><circle r="5.2" cx="1136" cy="367.9"/><circle r="5.2" cx="1164.1" cy="371.5"/><circle r="5.2" cx="1136" cy="371.7"/><circle r="5.2" cx="1165.3" cy="392.6"/><circle r="5.2" cx="1147.7" cy="366.5"/><circle r="5.2" cx="1150.8" cy="395.3"/><circle r="5.2" cx="1154.5" cy="351.8"/><circle r="5.2" cx="1173.2" cy="337.5"/><circle r="5.2" cx="1184.6" cy="350.7"/><circle r="5.2" cx="1157" cy="347"/><circle r="5.2" cx="1145.4" cy="352.5"/><circle r="5.2" cx="1152.3" cy="368.8"/><circle r="5.2" cx="1165.6" cy="375.4"/><circle r="5.2" cx="1173.9" cy="345.8"/><circle r="5.2" cx="1178.1" cy="335.7"/><circle r="5.2" cx="1152.2" cy="392.4"/><circle r="5.2" cx="1142.5" cy="395.9"/><circle r="5.2" cx="1148.8" cy="374.1"/><circle r="5.2" cx="1145.1" cy="365.9"/><circle r="5.2" cx="1153.1" cy="396.4"/><circle r="5.2" cx="1163.9" cy="386.5"/><circle r="5.2" cx="1135.3" cy="366.1"/><circle r="5.2" cx="1160.9" cy="384.8"/><circle r="5.2" cx="1166.2" cy="366.9"/><circle r="5.2" cx="1169" cy="355.5"/><circle r="5.2" cx="1140" cy="365"/><circle r="5.2" cx="1125.4" cy="398.5"/><circle r="5.2" cx="1136.2" cy="367.9"/><circle r="5.2" cx="1178.3" cy="360.7"/><circle r="5.2" cx="1155.1" cy="358.9"/><circle r="5.2" cx="1177.6" cy="359.5"/><circle r="5.2" cx="1189.7" cy="349.8"/><circle r="5.2" cx="1164.5" cy="359.3"/><circle r="5.2" cx="1132.2" cy="405.3"/><circle r="5.2" cx="1128.7" cy="378.7"/><circle r="5.2" cx="1151.1" cy="359.1"/><circle r="5.2" cx="1170.6" cy="375.5"/><circle r="5.2" cx="1146" cy="371.1"/><circle r="5.2" cx="1162.7" cy="375.4"/><circle r="5.2" cx="1155" cy="358.6"/><circle r="5.2" cx="1177.5" cy="356.4"/><circle r="5.2" cx="1170.2" cy="351.8"/><circle r="5.2" cx="1148.6" cy="380.5"/><circle r="5.2" cx="1122.1" cy="386"/><circle r="5.2" cx="1147.9" cy="402.8"/><circle r="5.2" cx="1169.6" cy="345.8"/><circle r="5.2" cx="1126.2" cy="376.5"/><circle r="5.2" cx="1162.5" cy="335.6"/><circle r="5.2" cx="1163.6" cy="364.5"/><circle r="5.2" cx="1131.2" cy="369.7"/><circle r="5.2" cx="1134.2" cy="393.4"/><circle r="5.2" cx="1154.7" cy="379.5"/><circle r="5.2" cx="1169.2" cy="344"/><circle r="5.2" cx="1139.4" cy="405.7"/><circle r="5.2" cx="1166.3" cy="400.1"/><circle r="5.2" cx="1186.2" cy="361.4"/><circle r="5.2" cx="1130.1" cy="395.4"/><circle r="5.2" cx="1153.1" cy="381.8"/><circle r="5.2" cx="1169.5" cy="389.3"/><circle r="5.2" cx="1156.5" cy="394.1"/><circle r="5.2" cx="1124.4" cy="395.5"/><circle r="5.2" cx="1157.8" cy="400.4"/><circle r="5.2" cx="1136.1" cy="383.5"/><circle r="5.2" cx="1171.6" cy="364.6"/><circle r="5.2" cx="1164.4" cy="393"/><circle r="5.2" cx="1147.6" cy="354.3"/><circle r="5.2" cx="1119.3" cy="399.1"/><circle r="5.2" cx="1124.5" cy="383"/><circle r="5.2" cx="1131.4" cy="397.4"/><circle r="5.2" cx="1164.7" cy="356.9"/><circle r="5.2" cx="1157.5" cy="356.4"/><circle r="5.2" cx="1169.4" cy="374.5"/><circle r="5.2" cx="1138.2" cy="403.1"/><circle r="5.2" cx="1162.4" cy="370"/><circle r="5.2" cx="1169.3" cy="352.9"/><circle r="5.2" cx="1161.9" cy="384.9"/><circle r="5.2" cx="1136" cy="397.2"/><circle r="5.2" cx="1180.1" cy="344.5"/><circle r="5.2" cx="1159.2" cy="397.6"/><circle r="5.2" cx="1143" cy="370.8"/><circle r="5.2" cx="1178" cy="373.3"/><circle r="5.2" cx="1154.4" cy="365.3"/><circle r="5.2" cx="1184.6" cy="347.7"/><circle r="5.2" cx="1165.3" cy="393.6"/><circle r="5.2" cx="1128.5" cy="390.5"/><circle r="5.2" cx="1152.2" cy="368.4"/><circle r="5.2" cx="1142" cy="389.1"/><circle r="5.2" cx="1170.3" cy="374.7"/><circle r="5.2" cx="1173.4" cy="371.7"/><circle r="5.2" cx="1151.7" cy="406.7"/><circle r="5.2" cx="1159.7" cy="386.9"/><circle r="5.2" cx="1147.1" cy="386.7"/><circle r="5.2" cx="1163" cy="401.9"/><circle r="5.2" cx="1147.9" cy="406.5"/><circle r="5.2" cx="1119.5" cy="388"/><circle r="5.2" cx="1154" cy="367.5"/><circle r="5.2" cx="1178.9" cy="360.7"/><circle r="5.2" cx="1145.1" cy="380.1"/><circle r="5.2" cx="1175.7" cy="339.2"/><circle r="5.2" cx="1174" cy="368.7"/><circle r="5.2" cx="1134.1" cy="404.7"/><circle r="5.2" cx="1130.1" cy="404.3"/><circle r="5.2" cx="1155" cy="396.3"/><circle r="5.2" cx="1136.6" cy="387.2"/><circle r="5.2" cx="1146.2" cy="370.2"/><circle r="5.2" cx="1158" cy="381.7"/><circle r="5.2" cx="1184.1" cy="365.2"/><circle r="5.2" cx="1159.5" cy="369.8"/><circle r="5.2" cx="1169.6" cy="342.3"/><circle r="5.2" cx="1182.7" cy="355.8"/><circle r="5.2" cx="1164.2" cy="359.5"/><circle r="5.2" cx="1158" cy="390"/><circle r="5.2" cx="1135.8" cy="380.4"/></g><g fill="#2CA02C" stroke="#2CA02C"><circle r="5.2" cx="1214" cy="372.6"/><circle r="5.2" cx="1082" cy="468"/><circle r="5.2" cx="1087" cy="484"/><circle r="5.2" cx="1084" cy="489"/></g><g fill="#D62728" stroke="#D62728" class="f"><circle r="5.2" cx="1100.5" cy="51.5"/><circle r="5.2" cx="1099.4" cy="54.1"/><circle r="5.2" cx="1099.7" cy="55.1"/><circle r="5.2" cx="1101.9" cy="53.4"/><circle r="5.2" cx="1102.8" cy="53.1"/><circle r="5.2" cx="1100.7" cy="51.4"/><circle r="5.2" cx="1098.6" cy="50.6"/><circle r="5.2" cx="1101.9" cy="51.7"/><circle r="5.2" cx="1102.8" cy="57.2"/><circle r="5.2" cx="1100.2" cy="55.6"/><circle r="5.2" cx="1104.4" cy="55.6"/><circle r="5.2" cx="1102.6" cy="55.1"/><circle r="5.2" cx="1103.5" cy="55.9"/><circle r="5.2" cx="1101.8" cy="55.3"/></g><g fill="#D62728" stroke="#D62728"><circle r="5.2" cx="1101.7" cy="71.5"/><circle r="5.2" cx="1101.3" cy="72"/><circle r="5.2" cx="1102" cy="70.5"/></g><g fill="#FF9896" stroke="#FF9896"><circle r="5.2" cx="1062.5" cy="182.5"/><circle r="5.2" cx="982" cy="192.5"/><circle r="5.2" cx="994" cy="214"/><circle r="5.2" cx="997" cy="221"/><circle r="5.2" cx="984" cy="245"/></g><g fill="#FF9896" stroke="#FF9896" class="f"><circle r="5.2" cx="1056.4" cy="269.9"/><circle r="5.2" cx="1066.3" cy="292.9"/><circle r="5.2" cx="1061.4" cy="248.9"/><circle r="5.2" cx="1071.1" cy="268.6"/><circle r="5.2" cx="1050.6" cy="287.6"/><circle r="5.2" cx="1060.2" cy="280.7"/><circle r="5.2" cx="1054.3" cy="293.6"/><circle r="5.2" cx="1070.5" cy="259"/><circle r="5.2" cx="1075" cy="288.8"/><circle r="5.2" cx="1056.6" cy="274.4"/><circle r="5.2" cx="1056.3" cy="261.7"/><circle r="5.2" cx="1059.9" cy="283.6"/><circle r="5.2" cx="1056.3" cy="252.4"/><circle r="5.2" cx="1072" cy="273.6"/><circle r="5.2" cx="1067.6" cy="274"/><circle r="5.2" cx="1050.6" cy="281"/><circle r="5.2" cx="1062.4" cy="300.8"/><circle r="5.2" cx="1063.5" cy="259.5"/><circle r="5.2" cx="1077.7" cy="279.2"/><circle r="5.2" cx="1060.9" cy="295.9"/><circle r="5.2" cx="1063" cy="268.1"/><circle r="5.2" cx="1047.8" cy="275.4"/><circle r="5.2" cx="1063.2" cy="269.3"/><circle r="5.2" cx="1049.2" cy="284.6"/><circle r="5.2" cx="1060.1" cy="282.5"/><circle r="5.2" cx="1065.7" cy="285.6"/><circle r="5.2" cx="1058.9" cy="297"/><circle r="5.2" cx="1053.8" cy="259.2"/><circle r="5.2" cx="1053.1" cy="265.3"/><circle r="5.2" cx="1064.6" cy="270.8"/><circle r="5.2" cx="1048.6" cy="270.8"/><circle r="5.2" cx="1070.9" cy="263.1"/><circle r="5.2" cx="1063.8" cy="260.6"/><circle r="5.2" cx="1071.1" cy="289.9"/><circle r="5.2" cx="1074" cy="284.8"/><circle r="5.2" cx="1064.4" cy="290.4"/><circle r="5.2" cx="1076" cy="279.8"/><circle r="5.2" cx="1056.5" cy="270.4"/><circle r="5.2" cx="1068.4" cy="252.1"/><circle r="5.2" cx="1055" cy="274.2"/><circle r="5.2" cx="1072.3" cy="269"/><circle r="5.2" cx="1061.5" cy="265.1"/><circle r="5.2" cx="1069.5" cy="302.5"/><circle r="5.2" cx="1067.4" cy="282"/><circle r="5.2" cx="1052.2" cy="274.9"/><circle r="5.2" cx="1072.9" cy="293.6"/><circle r="5.2" cx="1056.1" cy="279.4"/><circle r="5.2" cx="1068.5" cy="284.7"/><circle r="5.2" cx="1058" cy="257.7"/><circle r="5.2" cx="1060.5" cy="296.9"/><circle r="5.2" cx="1070.3" cy="276"/><circle r="5.2" cx="1060.7" cy="253.9"/><circle r="5.2" cx="1061.2" cy="281.6"/><circle r="5.2" cx="1062.3" cy="277.7"/><circle r="5.2" cx="1055.2" cy="254.9"/><circle r="5.2" cx="1069.6" cy="282.7"/><circle r="5.2" cx="1069.3" cy="290.2"/><circle r="5.2" cx="1060.2" cy="263.3"/><circle r="5.2" cx="1052.6" cy="287.7"/><circle r="5.2" cx="1073.3" cy="279.8"/><circle r="5.2" cx="1054.2" cy="252.7"/><circle r="5.2" cx="1078.3" cy="244"/><circle r="5.2" cx="1079.1" cy="235"/><circle r="5.2" cx="1072.5" cy="324.3"/><circle r="5.2" cx="1079.7" cy="305.1"/><circle r="5.2" cx="1098.3" cy="321.3"/><circle r="5.2" cx="1056.9" cy="323.6"/><circle r="5.2" cx="1058.3" cy="311.9"/><circle r="5.2" cx="1080.9" cy="318"/><circle r="5.2" cx="1091.3" cy="325.4"/><circle r="5.2" cx="1068.6" cy="306"/><circle r="5.2" cx="1094.9" cy="334"/><circle r="5.2" cx="1089.4" cy="310.3"/><circle r="5.2" cx="1077" cy="329.1"/><circle r="5.2" cx="1055.1" cy="247.1"/><circle r="5.2" cx="1048.3" cy="245.6"/><circle r="5.2" cx="1105" cy="262.2"/><circle r="5.2" cx="1108.1" cy="293"/><circle r="5.2" cx="1091.8" cy="255.1"/><circle r="5.2" cx="1100.7" cy="297.6"/></g><g fill="#FF9896" stroke="#FF9896"><circle r="5.2" cx="1016" cy="321"/><circle r="5.2" cx="1020" cy="333"/><circle r="5.2" cx="1052" cy="348"/></g><g fill="#9467BD" stroke="#9467BD"><circle r="5.2" cx="993" cy="104"/></g><g fill="#9467BD" stroke="#9467BD" class="f"><circle r="5.2" cx="888.8" cy="348.5"/><circle r="5.2" cx="885.1" cy="325.4"/><circle r="5.2" cx="902.6" cy="377.2"/><circle r="5.2" cx="904.5" cy="335.7"/><circle r="5.2" cx="893" cy="321"/><circle r="5.2" cx="881.5" cy="373"/><circle r="5.2" cx="902.9" cy="354.5"/><circle r="5.2" cx="890.7" cy="356.6"/><circle r="5.2" cx="889.6" cy="333.2"/><circle r="5.2" cx="886.3" cy="313.9"/><circle r="5.2" cx="897.1" cy="383"/><circle r="5.2" cx="874.3" cy="344.8"/><circle r="5.2" cx="895.5" cy="351.1"/><circle r="5.2" cx="877" cy="339.8"/><circle r="5.2" cx="882" cy="332.3"/><circle r="5.2" cx="894.8" cy="330.6"/><circle r="5.2" cx="883" cy="356.9"/><circle r="5.2" cx="900.6" cy="361.7"/><circle r="5.2" cx="902.9" cy="343.5"/><circle r="5.2" cx="894.4" cy="371.9"/><circle r="5.2" cx="876.4" cy="331.3"/><circle r="5.2" cx="883.1" cy="342"/><circle r="5.2" cx="903.7" cy="370.6"/><circle r="5.2" cx="890.5" cy="376.7"/><circle r="5.2" cx="890" cy="358.3"/><circle r="5.2" cx="887.4" cy="364.8"/><circle r="5.2" cx="891.7" cy="313.6"/><circle r="5.2" cx="884.9" cy="363.4"/><circle r="5.2" cx="890.4" cy="364.6"/><circle r="5.2" cx="895.9" cy="366.9"/><circle r="5.2" cx="895.8" cy="361.7"/><circle r="5.2" cx="883.7" cy="319.2"/><circle r="5.2" cx="878.6" cy="344.4"/><circle r="5.2" cx="894.5" cy="351.5"/><circle r="5.2" cx="897.6" cy="339.6"/><circle r="5.2" cx="886.4" cy="356.5"/><circle r="5.2" cx="905.4" cy="363.1"/><circle r="5.2" cx="893.3" cy="370"/><circle r="5.2" cx="888.8" cy="330.4"/><circle r="5.2" cx="887.8" cy="342.6"/><circle r="5.2" cx="900.9" cy="329.7"/><circle r="5.2" cx="881.1" cy="352.5"/><circle r="5.2" cx="889.7" cy="323.9"/><circle r="5.2" cx="899.8" cy="348.8"/><circle r="5.2" cx="899.3" cy="326.5"/><circle r="5.2" cx="886.3" cy="316.8"/><circle r="5.2" cx="899.4" cy="355"/><circle r="5.2" cx="904.5" cy="377.6"/><circle r="5.2" cx="883.3" cy="368.9"/><circle r="5.2" cx="887.8" cy="339"/><circle r="5.2" cx="888.4" cy="352.7"/><circle r="5.2" cx="881.9" cy="360.8"/><circle r="5.2" cx="884.3" cy="355.2"/><circle r="5.2" cx="877.2" cy="324.3"/><circle r="5.2" cx="878.6" cy="322.2"/><circle r="5.2" cx="903.2" cy="351.8"/><circle r="5.2" cx="891.1" cy="348.5"/><circle r="5.2" cx="886.3" cy="325"/><circle r="5.2" cx="895.7" cy="376.4"/><circle r="5.2" cx="877.6" cy="360.1"/><circle r="5.2" cx="897.8" cy="360.3"/><circle r="5.2" cx="883" cy="348.3"/><circle r="5.2" cx="889.1" cy="345.5"/><circle r="5.2" cx="903.6" cy="371.7"/><circle r="5.2" cx="879.4" cy="336.5"/><circle r="5.2" cx="888.5" cy="331.4"/><circle r="5.2" cx="885.1" cy="377.6"/><circle r="5.2" cx="888.8" cy="324.7"/><circle r="5.2" cx="886.6" cy="339.5"/><circle r="5.2" cx="881.5" cy="365"/><circle r="5.2" cx="899.3" cy="343.7"/><circle r="5.2" cx="886.8" cy="346.9"/><circle r="5.2" cx="906.6" cy="371.1"/><circle r="5.2" cx="891.7" cy="370.3"/><circle r="5.2" cx="904.9" cy="359.2"/><circle r="5.2" cx="883.8" cy="373.8"/><circle r="5.2" cx="885" cy="357.8"/><circle r="5.2" cx="876.2" cy="341.6"/><circle r="5.2" cx="883.9" cy="334.6"/><circle r="5.2" cx="874.5" cy="352.4"/><circle r="5.2" cx="881" cy="339.6"/><circle r="5.2" cx="900.4" cy="340.5"/><circle r="5.2" cx="903.8" cy="354.2"/><circle r="5.2" cx="906.1" cy="334.3"/><circle r="5.2" cx="889.3" cy="317"/><circle r="5.2" cx="902.9" cy="368.9"/><circle r="5.2" cx="892.4" cy="357.1"/><circle r="5.2" cx="895.6" cy="323.1"/><circle r="5.2" cx="900.2" cy="354.6"/><circle r="5.2" cx="890.7" cy="331.5"/><circle r="5.2" cx="882.1" cy="369.8"/><circle r="5.2" cx="894.8" cy="343.4"/><circle r="5.2" cx="876.5" cy="329.1"/><circle r="5.2" cx="886.3" cy="372.8"/><circle r="5.2" cx="881.3" cy="330.4"/><circle r="5.2" cx="902" cy="368.4"/><circle r="5.2" cx="878.9" cy="336.1"/><circle r="5.2" cx="883.4" cy="314.3"/><circle r="5.2" cx="897.2" cy="364.2"/><circle r="5.2" cx="875.1" cy="357.9"/><circle r="5.2" cx="902.2" cy="333.5"/><circle r="5.2" cx="881.4" cy="343.1"/><circle r="5.2" cx="899.5" cy="347.1"/><circle r="5.2" cx="898.3" cy="333.7"/><circle r="5.2" cx="886.5" cy="358.9"/><circle r="5.2" cx="900.5" cy="356.7"/><circle r="5.2" cx="896.7" cy="328.8"/><circle r="5.2" cx="906.8" cy="361"/><circle r="5.2" cx="891.7" cy="336.6"/><circle r="5.2" cx="902.1" cy="341.6"/><circle r="5.2" cx="897.9" cy="360.1"/><circle r="5.2" cx="888.4" cy="339.8"/><circle r="5.2" cx="894.3" cy="348.8"/><circle r="5.2" cx="894.9" cy="321.9"/><circle r="5.2" cx="874.7" cy="341.9"/><circle r="5.2" cx="898.3" cy="378"/><circle r="5.2" cx="903.3" cy="353.1"/><circle r="5.2" cx="883.1" cy="324.6"/><circle r="5.2" cx="893.6" cy="354"/><circle r="5.2" cx="893" cy="342.1"/><circle r="5.2" cx="891.4" cy="356.2"/><circle r="5.2" cx="895.6" cy="332.2"/><circle r="5.2" cx="894.4" cy="344.1"/><circle r="5.2" cx="898.6" cy="362"/><circle r="5.2" cx="881" cy="319.3"/><circle r="5.2" cx="880.3" cy="343.5"/><circle r="5.2" cx="910.3" cy="369.9"/><circle r="5.2" cx="877.8" cy="352.1"/><circle r="5.2" cx="888.8" cy="352"/><circle r="5.2" cx="863.2" cy="338.3"/><circle r="5.2" cx="852.8" cy="337.1"/><circle r="5.2" cx="853.1" cy="338.8"/><circle r="5.2" cx="863" cy="343.9"/><circle r="5.2" cx="859.1" cy="341.3"/><circle r="5.2" cx="859.8" cy="336.2"/><circle r="5.2" cx="868" cy="339.6"/><circle r="5.2" cx="853.1" cy="338.3"/><circle r="5.2" cx="868.4" cy="338.8"/></g><g fill="#9467BD" stroke="#9467BD"><circle r="5.2" cx="869" cy="340.5"/><circle r="5.2" cx="869.3" cy="340.3"/><circle r="5.2" cx="872.5" cy="337.5"/><circle r="5.2" cx="872.8" cy="337.3"/><circle r="5.2" cx="866" cy="342"/><circle r="5.2" cx="866.3" cy="341.8"/><circle r="5.2" cx="873" cy="343.5"/><circle r="5.2" cx="873.3" cy="343.3"/></g><g fill="#C5B0D5" stroke="#C5B0D5" class="f"><circle r="5.2" cx="1128.8" cy="212.1"/><circle r="5.2" cx="1130.6" cy="212.4"/><circle r="5.2" cx="1133.5" cy="211.1"/><circle r="5.2" cx="1125.4" cy="211.3"/><circle r="5.2" cx="1125.7" cy="211.3"/></g><g fill="#C5B0D5" stroke="#C5B0D5"><circle r="5.2" cx="1106" cy="205"/><circle r="5.2" cx="1113" cy="207"/><circle r="5.2" cx="1118" cy="204"/></g><g fill="#C5B0D5" stroke="#C5B0D5" class="f"><circle r="5.2" cx="1061.1" cy="213"/><circle r="5.2" cx="1057.1" cy="235.7"/><circle r="5.2" cx="1065" cy="221.4"/></g><g fill="#8C564B" stroke="#8C564B" class="f"><circle r="5.2" cx="1085.2" cy="53.7"/><circle r="5.2" cx="1080.7" cy="46.3"/><circle r="5.2" cx="1077.9" cy="56.8"/><circle r="5.2" cx="1082.4" cy="58"/><circle r="5.2" cx="1084.1" cy="51.8"/><circle r="5.2" cx="1080.4" cy="47.8"/><circle r="5.2" cx="1085.8" cy="46.1"/><circle r="5.2" cx="1085.1" cy="56.9"/><circle r="5.2" cx="1082.2" cy="45.1"/><circle r="5.2" cx="1081.5" cy="51.7"/><circle r="5.2" cx="1083.1" cy="51.7"/><circle r="5.2" cx="1082" cy="56.6"/><circle r="5.2" cx="1081.4" cy="48.2"/><circle r="5.2" cx="1076.7" cy="54.2"/><circle r="5.2" cx="1077.8" cy="49.7"/><circle r="5.2" cx="1083.3" cy="51.9"/><circle r="5.2" cx="1080.5" cy="55.6"/><circle r="5.2" cx="1076.9" cy="49.3"/><circle r="5.2" cx="1082.4" cy="55.7"/><circle r="5.2" cx="1081.1" cy="55.3"/><circle r="5.2" cx="1082.8" cy="55.5"/><circle r="5.2" cx="1077.6" cy="53.2"/><circle r="5.2" cx="1085.3" cy="47.8"/><circle r="5.2" cx="1082.3" cy="48.2"/></g><g fill="#C49C94" stroke="#C49C94"><circle r="5.2" cx="1087" cy="62"/></g><g fill="#C49C94" stroke="#C49C94" class="f"><circle r="5.2" cx="791.3" cy="240.3"/><circle r="5.2" cx="798.5" cy="257.7"/><circle r="5.2" cx="813.2" cy="233.5"/><circle r="5.2" cx="805" cy="228.4"/><circle r="5.2" cx="792.6" cy="227.5"/><circle r="5.2" cx="811.6" cy="245.7"/><circle r="5.2" cx="791.4" cy="248.3"/><circle r="5.2" cx="808.2" cy="256.8"/><circle r="5.2" cx="816.6" cy="249.4"/><circle r="5.2" cx="815.7" cy="256.7"/><circle r="5.2" cx="806.4" cy="240.8"/><circle r="5.2" cx="794.8" cy="241.6"/><circle r="5.2" cx="811.4" cy="229.9"/><circle r="5.2" cx="804.1" cy="235.3"/><circle r="5.2" cx="803.3" cy="249"/><circle r="5.2" cx="793.6" cy="236.7"/><circle r="5.2" cx="787" cy="233.6"/><circle r="5.2" cx="809.9" cy="236.9"/><circle r="5.2" cx="797.4" cy="227.4"/><circle r="5.2" cx="800" cy="231.9"/><circle r="5.2" cx="802.7" cy="261"/><circle r="5.2" cx="802.1" cy="252.9"/><circle r="5.2" cx="804.7" cy="239"/><circle r="5.2" cx="802.4" cy="246.7"/><circle r="5.2" cx="806.4" cy="256.1"/><circle r="5.2" cx="807.6" cy="229.4"/><circle r="5.2" cx="790.5" cy="246.9"/><circle r="5.2" cx="812.1" cy="251.9"/><circle r="5.2" cx="803.9" cy="230.9"/><circle r="5.2" cx="805.3" cy="222.9"/><circle r="5.2" cx="803.5" cy="251.5"/><circle r="5.2" cx="802.9" cy="236.4"/><circle r="5.2" cx="795" cy="252.6"/><circle r="5.2" cx="798.2" cy="232.7"/><circle r="5.2" cx="812.3" cy="230.3"/><circle r="5.2" cx="796.2" cy="227.3"/><circle r="5.2" cx="798.1" cy="239.9"/><circle r="5.2" cx="798.2" cy="260.3"/><circle r="5.2" cx="792.2" cy="236.3"/><circle r="5.2" cx="792.3" cy="249.6"/><circle r="5.2" cx="818.4" cy="247.2"/><circle r="5.2" cx="814" cy="241"/><circle r="5.2" cx="810" cy="226"/><circle r="5.2" cx="803.1" cy="256.6"/><circle r="5.2" cx="813" cy="244.8"/><circle r="5.2" cx="796.3" cy="254.3"/><circle r="5.2" cx="815" cy="236.5"/><circle r="5.2" cx="807.2" cy="244"/><circle r="5.2" cx="805.7" cy="244.5"/><circle r="5.2" cx="809.5" cy="260.4"/><circle r="5.2" cx="803.5" cy="257.2"/><circle r="5.2" cx="806.4" cy="239.8"/><circle r="5.2" cx="803.6" cy="242"/><circle r="5.2" cx="801.9" cy="233.7"/><circle r="5.2" cx="794.4" cy="229.4"/><circle r="5.2" cx="808.1" cy="250"/><circle r="5.2" cx="788.6" cy="248.8"/><circle r="5.2" cx="812.8" cy="235.7"/><circle r="5.2" cx="796.8" cy="234.9"/><circle r="5.2" cx="810.1" cy="235.9"/><circle r="5.2" cx="788" cy="243"/><circle r="5.2" cx="818.3" cy="250"/><circle r="5.2" cx="792.5" cy="230.2"/><circle r="5.2" cx="809.8" cy="250.7"/><circle r="5.2" cx="815.6" cy="239.6"/><circle r="5.2" cx="816.4" cy="241.7"/><circle r="5.2" cx="809.4" cy="258.3"/><circle r="5.2" cx="802.9" cy="242.2"/><circle r="5.2" cx="799.8" cy="253"/><circle r="5.2" cx="796.3" cy="239.3"/><circle r="5.2" cx="801.6" cy="239.9"/><circle r="5.2" cx="808.6" cy="233.8"/><circle r="5.2" cx="790.1" cy="239.7"/></g><g fill="#E377C2" stroke="#E377C2"><circle r="5.2" cx="941.7" cy="441"/><circle r="5.2" cx="941.5" cy="441.3"/><circle r="5.2" cx="942" cy="440.8"/></g><g fill="#F7B6D2" stroke="#F7B6D2" class="f"><circle r="5.2" cx="1019.8" cy="93.9"/><circle r="5.2" cx="992.9" cy="78.6"/><circle r="5.2" cx="1026.8" cy="61.4"/><circle r="5.2" cx="998.3" cy="105.1"/><circle r="5.2" cx="1023.3" cy="79.1"/><circle r="5.2" cx="997.2" cy="69.4"/><circle r="5.2" cx="1005.2" cy="61.5"/><circle r="5.2" cx="994.3" cy="86.7"/><circle r="5.2" cx="982" cy="75"/><circle r="5.2" cx="1004.2" cy="86.4"/><circle r="5.2" cx="1013.4" cy="54.6"/><circle r="5.2" cx="1008.4" cy="103.2"/><circle r="5.2" cx="1010.1" cy="84.4"/><circle r="5.2" cx="1014.7" cy="62.3"/><circle r="5.2" cx="1014.2" cy="73.1"/><circle r="5.2" cx="1023.7" cy="86.1"/><circle r="5.2" cx="986.9" cy="83.6"/><circle r="5.2" cx="1022.5" cy="68.3"/><circle r="5.2" cx="1020.7" cy="75.9"/><circle r="5.2" cx="998.6" cy="90.5"/><circle r="5.2" cx="989" cy="72.9"/><circle r="5.2" cx="1001.1" cy="62.2"/><circle r="5.2" cx="1010.6" cy="72.1"/><circle r="5.2" cx="1007.1" cy="88.5"/><circle r="5.2" cx="1004.2" cy="76.1"/><circle r="5.2" cx="991.3" cy="85.1"/><circle r="5.2" cx="1021" cy="58.7"/><circle r="5.2" cx="1008.5" cy="76.3"/><circle r="5.2" cx="1021.3" cy="95.8"/><circle r="5.2" cx="996.5" cy="94"/><circle r="5.2" cx="1006.4" cy="99"/><circle r="5.2" cx="992.1" cy="82"/><circle r="5.2" cx="1009.6" cy="69.8"/><circle r="5.2" cx="998.9" cy="78.9"/><circle r="5.2" cx="988.4" cy="83.8"/><circle r="5.2" cx="1004.7" cy="94.5"/><circle r="5.2" cx="1001.1" cy="84"/><circle r="5.2" cx="1014.2" cy="88"/><circle r="5.2" cx="1014.7" cy="58.8"/><circle r="5.2" cx="1001.2" cy="56.3"/><circle r="5.2" cx="1017" cy="81.2"/><circle r="5.2" cx="1028.8" cy="80.3"/><circle r="5.2" cx="1012.6" cy="89.8"/><circle r="5.2" cx="1014.2" cy="100.6"/><circle r="5.2" cx="1004.3" cy="53.7"/><circle r="5.2" cx="993.4" cy="90.5"/><circle r="5.2" cx="988.2" cy="75.1"/><circle r="5.2" cx="1000" cy="100.7"/><circle r="5.2" cx="1022.5" cy="76.2"/><circle r="5.2" cx="1005.2" cy="68.4"/><circle r="5.2" cx="1026.6" cy="58.2"/><circle r="5.2" cx="1018.2" cy="70.9"/><circle r="5.2" cx="1016.2" cy="96.1"/><circle r="5.2" cx="990.4" cy="92.5"/><circle r="5.2" cx="1018" cy="65.1"/><circle r="5.2" cx="1008.4" cy="79.2"/><circle r="5.2" cx="1016.9" cy="67.9"/><circle r="5.2" cx="1001.7" cy="73.4"/><circle r="5.2" cx="996.9" cy="64.4"/><circle r="5.2" cx="1013.3" cy="77.5"/><circle r="5.2" cx="1015.9" cy="74.3"/><circle r="5.2" cx="1023.1" cy="82.3"/><circle r="5.2" cx="1009.6" cy="91.5"/><circle r="5.2" cx="1016.8" cy="89.1"/><circle r="5.2" cx="992.5" cy="74.7"/><circle r="5.2" cx="992.3" cy="67.2"/><circle r="5.2" cx="1013" cy="103.2"/><circle r="5.2" cx="1005.5" cy="55.1"/><circle r="5.2" cx="997.5" cy="82.6"/><circle r="5.2" cx="1017.2" cy="74.7"/><circle r="5.2" cx="1018.8" cy="87"/><circle r="5.2" cx="1007.3" cy="85.8"/><circle r="5.2" cx="1011.3" cy="67"/><circle r="5.2" cx="998" cy="87"/><circle r="5.2" cx="1026.7" cy="84.4"/><circle r="5.2" cx="983.7" cy="71.8"/><circle r="5.2" cx="1010.4" cy="77.7"/><circle r="5.2" cx="979" cy="72.8"/><circle r="5.2" cx="1011.5" cy="97.2"/><circle r="5.2" cx="1001.3" cy="81.6"/><circle r="5.2" cx="996.8" cy="102.4"/><circle r="5.2" cx="1003.7" cy="63.2"/><circle r="5.2" cx="1009.5" cy="63.9"/><circle r="5.2" cx="1007" cy="71.7"/><circle r="5.2" cx="1026.4" cy="58.6"/><circle r="5.2" cx="994.8" cy="74.6"/><circle r="5.2" cx="1011.8" cy="72.1"/><circle r="5.2" cx="1013.4" cy="69"/><circle r="5.2" cx="1017.7" cy="59.8"/><circle r="5.2" cx="1017.5" cy="100.8"/><circle r="5.2" cx="1016.8" cy="80.5"/><circle r="5.2" cx="1021.6" cy="97.3"/><circle r="5.2" cx="1005.4" cy="92"/><circle r="5.2" cx="1021.8" cy="92.8"/><circle r="5.2" cx="1021.6" cy="58.1"/><circle r="5.2" cx="1016.6" cy="53.9"/><circle r="5.2" cx="992.8" cy="75.8"/><circle r="5.2" cx="999.7" cy="96.2"/><circle r="5.2" cx="1002.9" cy="108.6"/><circle r="5.2" cx="996.9" cy="95.4"/><circle r="5.2" cx="983.8" cy="80.4"/><circle r="5.2" cx="1011.1" cy="75.2"/><circle r="5.2" cx="1023.3" cy="73.9"/><circle r="5.2" cx="1012.6" cy="59.7"/><circle r="5.2" cx="1003.1" cy="98"/><circle r="5.2" cx="1027.6" cy="90.6"/><circle r="5.2" cx="997.6" cy="66.3"/><circle r="5.2" cx="1002.9" cy="64.9"/><circle r="5.2" cx="1005.2" cy="106.2"/><circle r="5.2" cx="1004.2" cy="88.2"/><circle r="5.2" cx="989.2" cy="69.9"/><circle r="5.2" cx="1013.4" cy="82.1"/><circle r="5.2" cx="997" cy="79.6"/><circle r="5.2" cx="1017.7" cy="78.8"/><circle r="5.2" cx="1020.4" cy="63.1"/><circle r="5.2" cx="1019.2" cy="61.7"/><circle r="5.2" cx="994.1" cy="86.6"/><circle r="5.2" cx="1026.1" cy="73.6"/><circle r="5.2" cx="1022.6" cy="68.6"/><circle r="5.2" cx="1006" cy="69.5"/><circle r="5.2" cx="1021.1" cy="62.2"/><circle r="5.2" cx="1018.6" cy="91.8"/><circle r="5.2" cx="1015.3" cy="97.2"/><circle r="5.2" cx="987.9" cy="81.8"/><circle r="5.2" cx="1008.4" cy="86.7"/><circle r="5.2" cx="1001.3" cy="55.8"/><circle r="5.2" cx="989.2" cy="77.9"/><circle r="5.2" cx="1023.7" cy="75.6"/><circle r="5.2" cx="1010.2" cy="97.3"/><circle r="5.2" cx="1008.5" cy="82.1"/><circle r="5.2" cx="1001.6" cy="73"/><circle r="5.2" cx="1003.5" cy="105.1"/><circle r="5.2" cx="983.3" cy="75.5"/><circle r="5.2" cx="1001.1" cy="67.7"/><circle r="5.2" cx="1006" cy="64.8"/><circle r="5.2" cx="1000.2" cy="65.8"/><circle r="5.2" cx="999.4" cy="99.1"/><circle r="5.2" cx="998.1" cy="70.6"/><circle r="5.2" cx="1003.4" cy="56.7"/><circle r="5.2" cx="1029.9" cy="86"/><circle r="5.2" cx="991.6" cy="91.8"/><circle r="5.2" cx="1007" cy="93.5"/><circle r="5.2" cx="1001.1" cy="94.7"/><circle r="5.2" cx="979.7" cy="73.3"/><circle r="5.2" cx="979.4" cy="74.7"/><circle r="5.2" cx="980.2" cy="71.7"/><circle r="5.2" cx="978.9" cy="71.9"/><circle r="5.2" cx="978.7" cy="72.6"/><circle r="5.2" cx="978.4" cy="74.8"/><circle r="5.2" cx="981.9" cy="74.1"/><circle r="5.2" cx="980.7" cy="73.1"/></g><g fill="#7F7F7F" stroke="#7F7F7F" class="f"><circle r="5.2" cx="912.4" cy="134.5"/><circle r="5.2" cx="907.1" cy="147.5"/><circle r="5.2" cx="899.2" cy="165.3"/><circle r="5.2" cx="899.6" cy="151.9"/><circle r="5.2" cx="902.6" cy="141.4"/><circle r="5.2" cx="903" cy="134.3"/><circle r="5.2" cx="890.8" cy="159.8"/><circle r="5.2" cx="908.9" cy="157.9"/><circle r="5.2" cx="919.7" cy="135.2"/><circle r="5.2" cx="918.6" cy="145.9"/><circle r="5.2" cx="916.2" cy="129"/><circle r="5.2" cx="920.5" cy="162.2"/><circle r="5.2" cx="910.5" cy="142"/><circle r="5.2" cx="913.4" cy="148.7"/><circle r="5.2" cx="911.1" cy="165.4"/><circle r="5.2" cx="903.3" cy="149"/><circle r="5.2" cx="919.5" cy="151.2"/><circle r="5.2" cx="912.4" cy="159.1"/><circle r="5.2" cx="912.5" cy="154.4"/><circle r="5.2" cx="906.3" cy="168.3"/><circle r="5.2" cx="918.4" cy="166.6"/><circle r="5.2" cx="901.1" cy="145.8"/><circle r="5.2" cx="899.5" cy="162.6"/><circle r="5.2" cx="896.8" cy="159.6"/><circle r="5.2" cx="913.2" cy="158.2"/><circle r="5.2" cx="906.8" cy="138"/><circle r="5.2" cx="903.9" cy="151.5"/><circle r="5.2" cx="899.6" cy="143.6"/><circle r="5.2" cx="902.4" cy="161.1"/><circle r="5.2" cx="916.5" cy="140.1"/><circle r="5.2" cx="892.9" cy="163.6"/><circle r="5.2" cx="910.3" cy="144.9"/><circle r="5.2" cx="914.4" cy="160.5"/><circle r="5.2" cx="915" cy="149.1"/><circle r="5.2" cx="911.7" cy="131.4"/><circle r="5.2" cx="907.5" cy="135"/><circle r="5.2" cx="906.3" cy="164.1"/><circle r="5.2" cx="899.4" cy="158.6"/><circle r="5.2" cx="909.9" cy="158.9"/><circle r="5.2" cx="917.7" cy="146"/><circle r="5.2" cx="910.9" cy="152.6"/><circle r="5.2" cx="893.5" cy="150.9"/><circle r="5.2" cx="900.7" cy="142.7"/><circle r="5.2" cx="919.3" cy="162.7"/><circle r="5.2" cx="916.4" cy="127.9"/><circle r="5.2" cx="910.5" cy="145.4"/><circle r="5.2" cx="909.2" cy="137.3"/><circle r="5.2" cx="897.2" cy="137.5"/><circle r="5.2" cx="914.8" cy="141.4"/><circle r="5.2" cx="895.1" cy="150"/><circle r="5.2" cx="898.4" cy="155.3"/><circle r="5.2" cx="912.5" cy="154.3"/><circle r="5.2" cx="896.2" cy="161.2"/><circle r="5.2" cx="897.1" cy="167.6"/><circle r="5.2" cx="921.3" cy="157"/><circle r="5.2" cx="909.4" cy="149.2"/><circle r="5.2" cx="919.1" cy="130.4"/><circle r="5.2" cx="904.3" cy="157.1"/><circle r="5.2" cx="919.1" cy="143.5"/><circle r="5.2" cx="895.4" cy="146.2"/><circle r="5.2" cx="899.4" cy="146.3"/><circle r="5.2" cx="896" cy="155"/><circle r="5.2" cx="919.9" cy="166.6"/><circle r="5.2" cx="904.9" cy="145.9"/><circle r="5.2" cx="899.7" cy="143.6"/><circle r="5.2" cx="918.9" cy="154.3"/><circle r="5.2" cx="918.3" cy="156.4"/><circle r="5.2" cx="901.5" cy="136.1"/><circle r="5.2" cx="897.6" cy="144.8"/><circle r="5.2" cx="910.3" cy="160"/><circle r="5.2" cx="902.6" cy="151.4"/><circle r="5.2" cx="908.1" cy="137.5"/><circle r="5.2" cx="908.6" cy="159.5"/><circle r="5.2" cx="920.3" cy="138.1"/><circle r="5.2" cx="909.7" cy="148.2"/><circle r="5.2" cx="896.2" cy="165.7"/><circle r="5.2" cx="895.5" cy="157.8"/><circle r="5.2" cx="914" cy="134.5"/><circle r="5.2" cx="908.7" cy="164.4"/><circle r="5.2" cx="899.8" cy="138.5"/><circle r="5.2" cx="917.1" cy="148.6"/><circle r="5.2" cx="909" cy="142.7"/><circle r="5.2" cx="898.7" cy="152.8"/></g><g fill="#7F7F7F" stroke="#7F7F7F"><circle r="5.2" cx="888" cy="168"/><circle r="5.2" cx="891" cy="163"/></g><g fill="#C7C7C7" stroke="#C7C7C7"><circle r="5.2" cx="925" cy="241"/><circle r="5.2" cx="931" cy="244"/><circle r="5.2" cx="937" cy="243"/><circle r="5.2" cx="934" cy="248"/><circle r="5.2" cx="929" cy="246"/><circle r="5.2" cx="933" cy="241"/><circle r="5.2" cx="936" cy="246"/><circle r="5.2" cx="927" cy="243.5"/></g><g fill="#BCBD22" stroke="#BCBD22"><circle r="5.2" cx="931" cy="134"/></g><g fill="#BCBD22" stroke="#BCBD22" class="f"><circle r="5.2" cx="957.8" cy="156.9"/><circle r="5.2" cx="947.8" cy="172"/><circle r="5.2" cx="968.6" cy="160.1"/><circle r="5.2" cx="951.7" cy="160.1"/><circle r="5.2" cx="969.4" cy="172.1"/><circle r="5.2" cx="958.7" cy="169.5"/><circle r="5.2" cx="964" cy="151.4"/><circle r="5.2" cx="965.9" cy="156.7"/><circle r="5.2" cx="947.9" cy="164.1"/><circle r="5.2" cx="952.8" cy="171"/><circle r="5.2" cx="971.1" cy="162.8"/><circle r="5.2" cx="962.1" cy="177.8"/><circle r="5.2" cx="952.3" cy="153.3"/><circle r="5.2" cx="960.9" cy="150.8"/><circle r="5.2" cx="947.2" cy="169.2"/><circle r="5.2" cx="954.8" cy="159.1"/><circle r="5.2" cx="965.7" cy="166.5"/><circle r="5.2" cx="962.2" cy="155.4"/><circle r="5.2" cx="957.3" cy="168.7"/><circle r="5.2" cx="946.1" cy="173.6"/><circle r="5.2" cx="954.2" cy="166.5"/><circle r="5.2" cx="965.1" cy="175.2"/><circle r="5.2" cx="961.8" cy="159"/><circle r="5.2" cx="943.6" cy="165.8"/><circle r="5.2" cx="953.5" cy="165.5"/><circle r="5.2" cx="966.6" cy="168"/><circle r="5.2" cx="967.1" cy="166"/><circle r="5.2" cx="968.2" cy="155.1"/><circle r="5.2" cx="959.9" cy="162.5"/><circle r="5.2" cx="949.8" cy="155.9"/><circle r="5.2" cx="947.4" cy="161.1"/><circle r="5.2" cx="959.2" cy="168.9"/><circle r="5.2" cx="958" cy="159.5"/><circle r="5.2" cx="953.4" cy="177"/><circle r="5.2" cx="947.1" cy="159.5"/><circle r="5.2" cx="958.4" cy="167.3"/><circle r="5.2" cx="952.3" cy="171.2"/><circle r="5.2" cx="966.4" cy="159.8"/><circle r="5.2" cx="956.5" cy="162.6"/><circle r="5.2" cx="949" cy="157"/><circle r="5.2" cx="965" cy="172.8"/><circle r="5.2" cx="965.5" cy="164.5"/><circle r="5.2" cx="970.7" cy="157.3"/><circle r="5.2" cx="961.1" cy="158.9"/><circle r="5.2" cx="946.7" cy="168.5"/><circle r="5.2" cx="950.7" cy="173"/><circle r="5.2" cx="958.4" cy="158.8"/><circle r="5.2" cx="943.4" cy="163.5"/><circle r="5.2" cx="961.5" cy="174.6"/><circle r="5.2" cx="956.2" cy="155.2"/><circle r="5.2" cx="948.5" cy="155"/><circle r="5.2" cx="948.9" cy="169.8"/><circle r="5.2" cx="956.4" cy="158.3"/></g><g fill="#BCBD22" stroke="#BCBD22"><circle r="5.2" cx="949" cy="199"/></g><g fill="#DBDB8D" stroke="#DBDB8D" class="f"><circle r="5.2" cx="1191.6" cy="334.5"/><circle r="5.2" cx="1198.2" cy="343.4"/><circle r="5.2" cx="1204.2" cy="328.1"/><circle r="5.2" cx="1203.8" cy="338.3"/><circle r="5.2" cx="1199.5" cy="326.3"/><circle r="5.2" cx="1198.9" cy="332.2"/><circle r="5.2" cx="1195.4" cy="329.4"/><circle r="5.2" cx="1195.6" cy="331.4"/><circle r="5.2" cx="1200.4" cy="338.1"/><circle r="5.2" cx="1205.2" cy="342.9"/><circle r="5.2" cx="1206.7" cy="332.5"/><circle r="5.2" cx="1192.5" cy="338.9"/><circle r="5.2" cx="1203.8" cy="345.3"/><circle r="5.2" cx="1202.4" cy="338.3"/><circle r="5.2" cx="1192.8" cy="342"/><circle r="5.2" cx="1207.3" cy="341.3"/><circle r="5.2" cx="1203.1" cy="340.6"/><circle r="5.2" cx="1195.1" cy="340.4"/><circle r="5.2" cx="1192.4" cy="338.8"/><circle r="5.2" cx="1196.6" cy="324.8"/><circle r="5.2" cx="1196.6" cy="334.9"/></g><g fill="#17BECF" stroke="#17BECF"><circle r="5.2" cx="853.7" cy="47"/><circle r="5.2" cx="856.7" cy="46.2"/><circle r="5.2" cx="857.2" cy="47.8"/><circle r="5.2" cx="859.4" cy="44.6"/><circle r="5.2" cx="859.4" cy="48.8"/><circle r="5.2" cx="861.7" cy="43.2"/><circle r="5.2" cx="862.2" cy="47"/><circle r="5.2" cx="861.7" cy="51"/><circle r="5.2" cx="863.1" cy="45"/><circle r="5.2" cx="862.8" cy="49.3"/><circle r="5.2" cx="858.3" cy="46.5"/><circle r="5.2" cx="860.5" cy="46.5"/><circle r="5.2" cx="855.3" cy="47.2"/><circle r="5.2" cx="860.9" cy="50"/><circle r="5.2" cx="861.1" cy="44"/></g><g fill="#9467BD" stroke="#9467BD"><circle r="5.2" cx="1036.7" cy="81.7"/></g>
<path d="M92.8 11.7V591.6H517.9" fill="none" stroke="#000" stroke-width="2.9" stroke-linecap="butt" stroke-linejoin="miter"/>
<path d="M85.8 13.3h5.6M85.8 149.9h5.6M85.8 286.6h5.6M85.8 423.2h5.6M85.8 559.8h5.6M133.1 593.1v5.6M237 593.1v5.6M340.9 593.1v5.6M444.8 593.1v5.6" stroke="#000" stroke-width="2.9" fill="none"/>
<text class="t" text-anchor="end" transform="translate(79.2 21.7) rotate(.03)">40</text>
<text class="t" text-anchor="end" transform="translate(79.2 158.3) rotate(.03)">20</text>
<text class="t" text-anchor="end" transform="translate(79.2 294.9) rotate(.03)">0</text>
<text class="t" text-anchor="end" transform="translate(79.2 431.6) rotate(.03)">-20</text>
<text class="t" text-anchor="end" transform="translate(79.2 568.2) rotate(.03)">-40</text>
<text class="t" text-anchor="middle" transform="translate(133.1 621.3) rotate(.03)">-40</text>
<text class="t" text-anchor="middle" transform="translate(237 621.3) rotate(.03)">-20</text>
<text class="t" text-anchor="middle" transform="translate(340.9 621.3) rotate(.03)">0</text>
<text class="t" text-anchor="middle" transform="translate(444.8 621.3) rotate(.03)">20</text>
<text class="a" text-anchor="middle" transform="translate(304.5 652.7) rotate(.03)">TSNE 1</text>
<text class="a" text-anchor="middle" transform="translate(33.1 302.5) rotate(-90.03)">TSNE 2</text>
<path d="M764.8 11.7V591.6H1236.9" fill="none" stroke="#000" stroke-width="2.9" stroke-linecap="butt" stroke-linejoin="miter"/>
<path d="M757.7 13.3h5.6M757.7 149.9h5.6M757.7 286.6h5.6M757.7 423.2h5.6M757.7 559.8h5.6M809.6 593.1v5.6M924.9 593.1v5.6M1040.3 593.1v5.6M1155.7 593.1v5.6" stroke="#000" stroke-width="2.9" fill="none"/>
<text class="t" text-anchor="end" transform="translate(751.2 21.7) rotate(.03)">40</text>
<text class="t" text-anchor="end" transform="translate(751.2 158.3) rotate(.03)">20</text>
<text class="t" text-anchor="end" transform="translate(751.2 294.9) rotate(.03)">0</text>
<text class="t" text-anchor="end" transform="translate(751.2 431.6) rotate(.03)">-20</text>
<text class="t" text-anchor="end" transform="translate(751.2 568.2) rotate(.03)">-40</text>
<text class="t" text-anchor="middle" transform="translate(809.6 621.3) rotate(.03)">-40</text>
<text class="t" text-anchor="middle" transform="translate(924.9 621.3) rotate(.03)">-20</text>
<text class="t" text-anchor="middle" transform="translate(1040.3 621.3) rotate(.03)">0</text>
<text class="t" text-anchor="middle" transform="translate(1155.7 621.3) rotate(.03)">20</text>
<text class="a" text-anchor="middle" transform="translate(1000.1 652.7) rotate(.03)">TSNE 1</text>
<text class="a" text-anchor="middle" transform="translate(705.1 302.5) rotate(-90.03)">TSNE 2</text>
<text class="n" text-anchor="middle" transform="translate(177 59.8) rotate(.03) scale(.94 1)">19</text>
<text class="n" text-anchor="middle" transform="translate(858.3 59.8) rotate(.03) scale(.94 1)">19</text>
<text class="n" text-anchor="middle" transform="translate(313.5 91.1) rotate(.03) scale(.94 1)">14</text>
<text class="n" text-anchor="middle" transform="translate(1009.9 91.1) rotate(.03) scale(.94 1)">14</text>
<text class="n" text-anchor="middle" transform="translate(379 62.9) rotate(.03) scale(.94 1)">11</text>
<text class="n" text-anchor="middle" transform="translate(1082.6 62.9) rotate(.03) scale(.94 1)">11</text>
<text class="n" text-anchor="middle" transform="translate(397 69) rotate(.03) scale(.94 1)">7</text>
<text class="n" text-anchor="middle" transform="translate(1102.6 69) rotate(.03) scale(.94 1)">7</text>
<text class="n" text-anchor="middle" transform="translate(222 162.1) rotate(.03) scale(.94 1)">15</text>
<text class="n" text-anchor="middle" transform="translate(908.3 162.1) rotate(.03) scale(.94 1)">15</text>
<text class="n" text-anchor="middle" transform="translate(268 178.3) rotate(.03) scale(.94 1)">17</text>
<text class="n" text-anchor="middle" transform="translate(959.4 178.3) rotate(.03) scale(.94 1)">17</text>
<text class="n" text-anchor="middle" transform="translate(428.5 168.1) rotate(.03) scale(.94 1)">4</text>
<text class="n" text-anchor="middle" transform="translate(1137.6 168.1) rotate(.03) scale(.94 1)">4</text>
<text class="n" text-anchor="middle" transform="translate(275 229.8) rotate(.03) scale(.94 1)">3</text>
<text class="n" text-anchor="middle" transform="translate(967.1 229.8) rotate(.03) scale(.94 1)">3</text>
<text class="n" text-anchor="middle" transform="translate(437 242.5) rotate(.03) scale(.94 1)">10</text>
<text class="n" text-anchor="middle" transform="translate(1147 242.5) rotate(.03) scale(.94 1)">10</text>
<text class="n" text-anchor="middle" transform="translate(128 258.3) rotate(.03) scale(.94 1)">12</text>
<text class="n" text-anchor="middle" transform="translate(803.9 258.3) rotate(.03) scale(.94 1)">12</text>
<text class="n" text-anchor="middle" transform="translate(241.7 257.3) rotate(.03) scale(.94 1)">16</text>
<text class="n" text-anchor="middle" transform="translate(930.2 257.3) rotate(.03) scale(.94 1)">16</text>
<text class="n" text-anchor="middle" transform="translate(303 305.4) rotate(.03) scale(.94 1)">2</text>
<text class="n" text-anchor="middle" transform="translate(998.2 305.4) rotate(.03) scale(.94 1)">2</text>
<text class="n" text-anchor="middle" transform="translate(364.5 308.1) rotate(.03) scale(.94 1)">8</text>
<text class="n" text-anchor="middle" transform="translate(1066.5 308.1) rotate(.03) scale(.94 1)">8</text>
<text class="n" text-anchor="middle" transform="translate(482.5 344.8) rotate(.03) scale(.94 1)">18</text>
<text class="n" text-anchor="middle" transform="translate(1197.5 344.8) rotate(.03) scale(.94 1)">18</text>
<text class="n" text-anchor="middle" transform="translate(208 363.1) rotate(.03) scale(.94 1)">9</text>
<text class="n" text-anchor="middle" transform="translate(892.7 363.1) rotate(.03) scale(.94 1)">9</text>
<text class="n" text-anchor="middle" transform="translate(450 398.1) rotate(.03) scale(.94 1)">5</text>
<text class="n" text-anchor="middle" transform="translate(1161.4 398.1) rotate(.03) scale(.94 1)">5</text>
<text class="n" text-anchor="middle" transform="translate(382.5 429.6) rotate(.03) scale(.94 1)">6</text>
<text class="n" text-anchor="middle" transform="translate(1086.5 429.6) rotate(.03) scale(.94 1)">6</text>
<text class="n" text-anchor="middle" transform="translate(253 455.1) rotate(.03) scale(.94 1)">13</text>
<text class="n" text-anchor="middle" transform="translate(942.7 455.1) rotate(.03) scale(.94 1)">13</text>
<text class="n" text-anchor="middle" transform="translate(331.5 509.1) rotate(.03) scale(.94 1)">1</text>
<text class="n" text-anchor="middle" transform="translate(1029.9 509.1) rotate(.03) scale(.94 1)">1</text>
<text class="a" transform="translate(542.5 246.7) rotate(.03)">batch</text>
<circle r="5.2" cx="557.5" cy="277.8" fill="#729ECE" stroke="#729ECE"/>
<text class="g" transform="translate(586 286) rotate(.03)">Grun</text>
<circle r="5.2" cx="557.5" cy="307.2" fill="#FF9E4A" stroke="#FF9E4A"/>
<text class="g" transform="translate(586 315.4) rotate(.03)">Lawlor</text>
<circle r="5.2" cx="557.5" cy="336.6" fill="#67BF5C" stroke="#67BF5C"/>
<text class="g" transform="translate(586 344.8) rotate(.03)">Muraro</text>
<circle r="5.2" cx="557.5" cy="366" fill="#ED665D" stroke="#ED665D"/>
<text class="g" transform="translate(586 374.2) rotate(.03)">Seger</text>
<circle r="5.2" cx="1276.8" cy="59" fill="#1F77B4" stroke="#1F77B4"/>
<text class="g" transform="translate(1305 67.2) rotate(.03)">1</text>
<circle r="5.2" cx="1276.8" cy="88.2" fill="#AEC7E8" stroke="#AEC7E8"/>
<text class="g" transform="translate(1305 96.4) rotate(.03)">2</text>
<circle r="5.2" cx="1276.8" cy="117.5" fill="#FF7F0E" stroke="#FF7F0E"/>
<text class="g" transform="translate(1305 125.7) rotate(.03)">3</text>
<circle r="5.2" cx="1276.8" cy="146.7" fill="#FFBB78" stroke="#FFBB78"/>
<text class="g" transform="translate(1305 154.9) rotate(.03)">4</text>
<circle r="5.2" cx="1276.8" cy="175.9" fill="#2CA02C" stroke="#2CA02C"/>
<text class="g" transform="translate(1305 184.1) rotate(.03)">5</text>
<circle r="5.2" cx="1276.8" cy="205.2" fill="#98DF8A" stroke="#98DF8A"/>
<text class="g" transform="translate(1305 213.3) rotate(.03)">6</text>
<circle r="5.2" cx="1276.8" cy="234.4" fill="#D62728" stroke="#D62728"/>
<text class="g" transform="translate(1305 242.6) rotate(.03)">7</text>
<circle r="5.2" cx="1276.8" cy="263.6" fill="#FF9896" stroke="#FF9896"/>
<text class="g" transform="translate(1305 271.8) rotate(.03)">8</text>
<circle r="5.2" cx="1276.8" cy="292.8" fill="#9467BD" stroke="#9467BD"/>
<text class="g" transform="translate(1305 301) rotate(.03)">9</text>
<circle r="5.2" cx="1276.8" cy="322.1" fill="#C5B0D5" stroke="#C5B0D5"/>
<text class="g" transform="translate(1305 330.3) rotate(.03)">10</text>
<circle r="5.2" cx="1276.8" cy="351.3" fill="#8C564B" stroke="#8C564B"/>
<text class="g" transform="translate(1305 359.5) rotate(.03)">11</text>
<circle r="5.2" cx="1276.8" cy="380.5" fill="#C49C94" stroke="#C49C94"/>
<text class="g" transform="translate(1305 388.7) rotate(.03)">12</text>
<circle r="5.2" cx="1276.8" cy="409.8" fill="#E377C2" stroke="#E377C2"/>
<text class="g" transform="translate(1305 418) rotate(.03)">13</text>
<circle r="5.2" cx="1276.8" cy="439" fill="#F7B6D2" stroke="#F7B6D2"/>
<text class="g" transform="translate(1305 447.2) rotate(.03)">14</text>
<circle r="5.2" cx="1276.8" cy="468.2" fill="#7F7F7F" stroke="#7F7F7F"/>
<text class="g" transform="translate(1305 476.4) rotate(.03)">15</text>
<circle r="5.2" cx="1276.8" cy="497.4" fill="#C7C7C7" stroke="#C7C7C7"/>
<text class="g" transform="translate(1305 505.6) rotate(.03)">16</text>
<circle r="5.2" cx="1276.8" cy="526.7" fill="#BCBD22" stroke="#BCBD22"/>
<text class="g" transform="translate(1305 534.9) rotate(.03)">17</text>
<circle r="5.2" cx="1276.8" cy="555.9" fill="#DBDB8D" stroke="#DBDB8D"/>
<text class="g" transform="translate(1305 564.1) rotate(.03)">18</text>
<circle r="5.2" cx="1276.8" cy="585.1" fill="#17BECF" stroke="#17BECF"/>
<text class="g" transform="translate(1305 593.3) rotate(.03)">19</text>
</svg></body></html>
